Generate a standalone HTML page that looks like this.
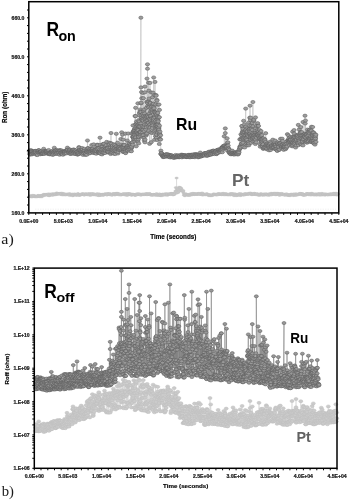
<!DOCTYPE html>
<html><head><meta charset="utf-8"><style>
html,body{margin:0;padding:0;background:#fff;width:350px;height:500px;overflow:hidden}
svg{display:block;will-change:transform}
.ra ellipse{rx:2.1px;ry:1.6px}
.pa ellipse{rx:1.8px;ry:1.1px}
.pb ellipse{rx:2.0px;ry:1.5px}
.rb ellipse{rx:2.0px;ry:1.5px}
</style></head><body>
<svg width="350" height="500" viewBox="0 0 350 500">
<rect width="350" height="500" fill="#fff"/>
<path d="M29.2 151.1 L29.7 153.9 L29.8 150.8 L30.1 154.7 L30.5 151.5 L30.5 152.2 L30.8 153.9 L30.9 150.1 L31.2 151.8 L31.3 152.9 L31.6 151.1 L31.8 151.2 L32.1 154.3 L32.3 151.6 L32.5 153.2 L32.9 153.4 L32.9 152.8 L33.5 152 L33.5 151.7 L33.5 151.6 L33.6 153.4 L34.2 152.8 L34.3 151.1 L34.4 152.1 L34.6 152.1 L35 152.2 L35.3 151.9 L35.5 151 L35.6 151.7 L35.7 152.9 L36 150.9 L36.2 154.5 L36.5 154.5 L37 153.7 L37 151.2 L37.4 155 L37.5 152.3 L37.9 152.1 L38.1 151.4 L38.3 150.8 L38.5 150.5 L38.6 150.3 L38.8 152.4 L39.2 150.4 L39.2 151.9 L39.5 152.1 L39.6 152.5 L40.1 152 L40.2 154.3 L40.4 152.1 L40.6 151.7 L40.8 152.4 L41 151.6 L41.2 151.7 L41.4 151.4 L41.5 153.9 L41.8 153.8 L42 153 L42.3 153 L42.3 153.2 L42.5 152.9 L42.9 153.4 L43.2 153.4 L43.4 151.1 L43.7 148.8 L43.9 153.6 L44 151.4 L44.5 152.5 L44.5 153.8 L44.9 152.7 L45 151.3 L45.2 150.9 L45.5 151.6 L45.5 152 L45.6 152.2 L46 151.6 L46.2 152.2 L46.4 153 L46.9 151.9 L47 153.4 L47.1 151.3 L47.5 152.1 L47.7 153.5 L48 153.3 L48 152.4 L48.5 152 L48.5 153.7 L48.7 153.4 L48.7 150 L49.1 153.2 L49.3 153.9 L49.7 152.5 L49.7 152.7 L49.9 154.4 L50 153.7 L50.3 152.7 L50.4 153.5 L51.1 152.1 L51.2 151.9 L51.2 152.3 L51.6 152.7 L51.7 151.9 L51.9 152.3 L52.1 151.8 L52.6 154.8 L52.6 151.7 L52.7 150.8 L53.1 152.3 L53.2 152.4 L53.5 154.4 L53.6 151.8 L54 152.7 L54.3 153.4 L54.3 151.9 L54.3 147.8 L55 150.9 L55 152.4 L55.4 150.6 L55.5 152.2 L55.6 152 L55.8 150.7 L56 154 L56.6 152.4 L56.6 152.8 L56.7 150.1 L56.9 151.2 L57.2 152.3 L57.2 153.6 L57.7 150.9 L58 150.6 L58.3 153.3 L58.3 151.9 L58.3 152 L58.8 152.4 L58.9 152.2 L59 152.4 L59.4 150.3 L59.6 154.7 L59.9 150.8 L60.1 152.2 L60.3 150.2 L60.3 150.9 L60.5 153.2 L61.1 153.5 L61.1 152.6 L61.7 150.5 L61.7 152.2 L61.9 154.1 L62.1 151.6 L62.2 152.3 L62.5 151.9 L62.6 153.8 L63 154.7 L63.1 152 L63.6 151.8 L63.7 152.3 L63.7 153.2 L64.3 151.9 L64.5 151.1 L64.7 151.8 L64.7 153.1 L64.7 153.7 L65 152.8 L65.1 152 L65.4 151.7 L65.9 151.2 L66.1 150.4 L66.4 152.8 L66.5 150.9 L66.7 153.3 L66.9 150.7 L67 149.9 L67.4 147.7 L67.5 150.8 L67.7 149.9 L67.8 149.8 L68.3 152.3 L68.5 151.9 L68.9 152.8 L69 151.8 L69.3 150.8 L69.5 149.7 L69.6 149.9 L69.7 151.1 L69.9 149.5 L70.1 153.1 L70.2 153.9 L70.4 152 L70.6 150.2 L70.9 153.8 L71.1 152.5 L71.4 152.1 L71.6 150.9 L71.9 152.8 L72 151 L72.4 151.2 L72.7 151 L72.8 153.6 L72.9 150.8 L73.4 149.7 L73.4 152.1 L73.5 153.3 L73.7 149.6 L74.1 152.5 L74.6 150 L74.8 151.8 L74.9 151.2 L74.9 151.9 L75.2 154 L75.2 151.7 L75.8 151.8 L75.9 150.4 L76 154 L76.4 151.9 L76.5 152.2 L76.7 151.7 L77.3 151.7 L77.4 151.7 L77.6 154.6 L77.7 154.3 L77.9 153.4 L78.4 153.8 L78.5 151.4 L78.5 152.9 L78.9 147.2 L79.1 150.4 L79.1 147.6 L79.4 153.8 L79.5 150.5 L79.8 150.4 L80.1 150.1 L80.3 152.6 L80.4 152.5 L80.7 151 L80.8 152.6 L81.2 151.9 L81.4 150.5 L81.7 152.6 L81.7 151.3 L82.1 148 L82.1 151.9 L82.4 149.8 L82.8 151.5 L82.9 154.8 L83 152.1 L83.3 152.6 L83.4 153 L83.8 151.7 L84.2 150.3 L84.5 148.8 L84.7 151.9 L85 152.1 L85 150.6 L85.2 152.7 L85.3 154.9 L85.7 153.9 L85.8 153.6 L86.3 151.9 L86.4 150.7 L86.7 150.6 L86.7 152.1 L86.8 154.7 L87.1 151.9 L87.3 151.9 L87.5 140.5 L87.8 148.1 L88.2 150.9 L88.3 150.8 L88.3 148.2 L88.4 151.3 L89.1 151.4 L89.2 153.4 L89.2 152.1 L89.4 151.8 L89.7 149.6 L89.8 149.5 L90.1 149 L90.4 151.1 L90.6 151.1 L90.7 153 L91 151.3 L91.6 149.4 L91.6 150.9 L91.7 145 L92.1 151.1 L92.2 149.1 L92.4 151 L92.5 152 L93 148.7 L93.1 152.2 L93.3 150.7 L93.4 152.5 L93.7 144.4 L93.7 150.6 L94.1 153.1 L94.4 150.3 L94.5 150.1 L94.6 151.1 L95.2 152.9 L95.3 151.3 L95.5 150.6 L95.7 150 L96.1 151.9 L96.2 153.7 L96.5 150.6 L96.7 146.5 L97.1 151.7 L97.1 149 L97.3 144.7 L97.6 145.1 L97.7 148.3 L98.1 149.4 L98.2 152.4 L98.3 152.9 L98.5 152.1 L98.7 148.3 L98.7 151.9 L99.3 151.9 L99.5 151.8 L99.8 149.6 L99.8 153.1 L100 137.7 L100.3 152.1 L100.6 153.8 L100.7 144.9 L100.9 150.8 L101 151 L101.4 149.6 L101.6 152.3 L102 154.4 L102 146.5 L102.4 146.3 L102.4 149.4 L102.7 152.3 L102.9 144.1 L103.1 152.7 L103.3 150.8 L103.6 144.3 L103.9 148.7 L104 152.8 L104 143.7 L104.4 149.8 L104.8 150.4 L105 153 L105.1 147.3 L105.5 146.6 L105.5 150.9 L106.1 145.1 L106.1 148.4 L106.1 148.8 L106.3 150.5 L106.7 141.9 L107 149.3 L107.3 148.9 L107.4 148.1 L107.8 151.1 L107.9 148.2 L108.2 152.6 L108.2 151.7 L108.2 151.8 L108.8 144.9 L109.1 142.6 L109.4 149.9 L109.4 144.2 L109.4 149.5 L110 151.7 L110 148 L110.4 147.7 L110.6 143.1 L110.7 154 L111 133 L111 149.4 L111.1 151.2 L111.4 149.8 L111.5 152.7 L111.7 143.7 L111.9 150.6 L112.2 149.3 L112.4 146 L112.4 148.1 L112.7 149.6 L112.8 152.7 L113.2 151 L113.4 150.6 L114 153.7 L114 144.3 L114.2 148.7 L114.2 149.4 L114.5 148.2 L114.8 150.2 L114.8 145.1 L115.2 154 L115.2 150.6 L115.8 149.8 L115.9 146.7 L116.3 148.6 L116.3 133.8 L116.5 146.3 L116.8 151.6 L117.1 148.5 L117.2 148.4 L117.6 142.6 L117.8 147.8 L117.9 153.5 L118.1 152 L118.2 146.6 L118.4 148.9 L118.7 147.1 L118.9 149.9 L119.1 147.7 L119.6 148.4 L119.8 150 L119.9 146.4 L120.3 149.4 L120.3 148.6 L120.6 148.1 L120.8 139 L120.8 146 L121.1 144.8 L121.7 132.3 L121.7 146.7 L122.2 146.1 L122.4 147.1 L122.5 134.7 L122.6 147.3 L122.9 151.8 L123.2 139.6 L123.4 151.8 L123.4 148.5 L123.6 146.1 L123.7 144.6 L124.1 148.3 L124.2 147.3 L124.4 145.1 L124.7 151.9 L125 149.2 L125.3 152.7 L125.5 133.6 L125.7 153.1 L125.7 148 L125.9 151.2 L126 149.9 L126.3 149.3 L126.4 148.2 L126.6 147.5 L127.1 146.4 L127.2 147.7 L127.3 140.5 L127.6 150.5 L127.7 146.9 L128 150.4 L128.3 133.5 L128.3 145.7 L128.7 143.1 L128.8 147.7 L129.1 149.4 L129.6 144 L129.7 146.6 L129.8 145.9 L129.9 147.9 L130 150.9 L130.3 149.3 L130.6 145.9 L130.7 145 L131.4 151.2 L131.4 148.4 L131.4 146.6 L131.5 147.5 L131.8 133.3 L131.8 146.6 L132.2 142.6 L132.2 142.7 L132.4 136.8 L132.6 142.2 L132.7 144.7 L133 134.1 L133 125.4 L133.3 137.8 L133.3 131.9 L133.5 131.9 L133.6 136.9 L133.7 137.7 L133.7 130.7 L133.8 138.8 L133.9 136.4 L134 131.2 L134.2 139.9 L134.4 134.6 L134.4 134.8 L134.5 129.3 L134.5 130.6 L134.8 128.9 L135 135.8 L135 116 L135 141.4 L135.2 132 L135.3 130.6 L135.5 116.1 L135.5 124.3 L135.5 136.8 L135.6 107.8 L135.7 128.4 L135.8 139.8 L135.9 137.6 L136.2 124.3 L136.2 146.3 L136.5 121.6 L136.6 131.9 L136.8 139.7 L136.8 129.6 L136.9 132 L136.9 129 L137.1 131.7 L137.1 129.1 L137.1 130.9 L137.2 123.2 L137.5 130 L137.6 125.1 L137.9 125.4 L137.9 103.3 L138 141 L138.3 139.2 L138.3 130.2 L138.3 133.7 L138.6 137.2 L138.6 120.3 L138.7 143.4 L138.7 124.2 L138.7 126.4 L138.8 136.8 L139.2 126 L139.3 126.4 L139.3 123.1 L139.4 133.3 L139.4 113.1 L139.4 121.4 L139.6 115.3 L140 131.9 L140.1 126.7 L140.2 132.8 L140.2 109.5 L140.3 131.8 L140.4 134.6 L140.4 111.5 L140.5 135.3 L140.6 132.1 L140.9 17.7 L140.9 112.1 L141 87.4 L141 123.5 L141 103.3 L141 136.4 L141.1 102.7 L141.4 118.6 L141.5 92.1 L141.7 117.5 L141.7 115.3 L141.7 129 L141.8 98.2 L141.9 120.3 L142.1 127 L142.2 125.9 L142.2 119.6 L142.4 130.1 L142.4 114.2 L142.7 132.5 L142.7 136.8 L143 92.9 L143 119.1 L143.1 129.8 L143.1 135.1 L143.2 113.5 L143.2 135.2 L143.2 120.6 L143.4 98.2 L143.7 116 L143.8 110.9 L143.9 125.9 L144 138 L144 126.9 L144.2 131.1 L144.3 140.6 L144.3 109.4 L144.6 113.5 L144.8 124.9 L144.9 92.3 L144.9 86.6 L144.9 119.3 L145 142.3 L145.1 139.7 L145.1 117.2 L145.3 116.3 L145.5 120.7 L145.7 121.4 L145.8 129.6 L145.9 118.7 L146.1 115.9 L146.2 126.1 L146.2 135.5 L146.3 134.2 L146.4 117.1 L146.4 107.8 L146.4 127.3 L146.8 101.9 L147 116.3 L147 133.3 L147 78.6 L147 120.5 L147.1 121.7 L147.1 124.1 L147.4 115 L147.5 64.3 L147.5 68.7 L147.6 105.9 L147.7 101.5 L147.7 103.2 L147.8 120.3 L147.9 115.8 L148.3 117 L148.3 122.9 L148.4 126.6 L148.5 122.9 L148.5 82.7 L148.7 131 L148.7 106.9 L148.9 90.7 L148.9 107.3 L148.9 101.6 L149.1 119 L149.1 98.6 L149.4 113.6 L149.4 125.4 L149.6 143.8 L149.6 119 L149.7 102.7 L150 82.9 L150.1 124.3 L150.2 115.8 L150.2 127.3 L150.2 104.3 L150.4 103 L150.5 121.1 L150.6 119.6 L150.7 132.3 L150.7 116 L150.7 108 L150.8 111.7 L150.9 111 L151.2 142.2 L151.3 92.5 L151.6 118.4 L151.8 122.7 L151.8 106.8 L151.9 123.3 L151.9 133 L152 125.4 L152.2 111 L152.3 128.1 L152.3 109.6 L152.5 97.2 L152.6 104.6 L152.8 123.9 L152.8 118.1 L152.9 112.3 L152.9 125.3 L153 92.7 L153.1 103.8 L153.5 122.3 L153.5 108.7 L153.5 103.7 L153.5 120.8 L153.7 118 L153.7 77.5 L153.7 107 L153.9 118.8 L154 132.7 L154.1 108.2 L154.4 131.2 L154.5 139.8 L154.5 111.9 L154.6 95.1 L154.8 121.9 L154.9 117.2 L155 112 L155 81.9 L155.1 130 L155.2 126 L155.4 112.8 L155.5 136.3 L155.5 115 L155.6 121.3 L155.7 104.4 L155.8 120.5 L156 95 L156 125.2 L156.1 128.8 L156.1 113.8 L156.2 95.7 L156.4 115 L156.5 137.8 L156.5 127.3 L156.6 134.7 L156.9 99.9 L156.9 125 L157 100.6 L157.2 116.1 L157.2 119.5 L157.2 140.1 L157.2 126.8 L157.4 126.9 L157.6 117.1 L157.8 113 L157.8 128.3 L158 123.8 L158.1 120.3 L158.1 104.6 L158.1 124.8 L158.2 121.4 L158.6 131.1 L158.6 117.4 L158.7 128.2 L158.9 127.8 L158.9 129.9 L159 104.5 L159.2 134.2 L159.3 144 L159.4 117.2 L159.5 125.7 L159.5 109.9 L159.8 138.9 L159.8 134.7 L159.8 134.1 L160 131.7 L160.1 139.3 L160.6 139.5 L160.6 135.3 L160.8 153.9 L160.9 150.7 L161.1 154 L161.5 153.3 L161.6 153.2 L162.2 154.9 L162.4 155.6 L162.4 155.6 L162.5 154.4 L162.7 155.8 L163.1 155.8 L163.1 157.1 L163.6 156.8 L163.6 156.1 L163.9 155.5 L164 156.2 L164.4 154.9 L164.4 155.8 L164.9 156.8 L164.9 155.5 L165.5 154.9 L165.6 155.3 L165.9 154.5 L166.1 154.8 L166.3 155.6 L166.3 156 L166.3 154.3 L166.8 156.5 L167 155.8 L167.3 155.3 L167.3 156.3 L167.4 154.3 L168 155.5 L168.1 156 L168.3 154.6 L168.7 156.5 L168.8 156.3 L168.9 156.3 L169.2 155 L169.3 156.7 L169.8 155.4 L169.8 156.9 L169.9 156.7 L170.3 157.4 L170.4 155.4 L171 155.5 L171.1 155.4 L171.3 157.1 L171.3 156.1 L171.4 156.2 L172.1 156.7 L172.1 155.8 L172.3 155.7 L172.8 156.6 L172.8 157.2 L173 157 L173.1 156.8 L173.6 157.6 L173.6 156.8 L173.8 157.6 L174 156.5 L174.3 156.9 L174.7 156.2 L174.7 156 L174.8 157.6 L175.4 157.1 L175.4 156.4 L175.6 156.3 L175.6 155 L176.2 157.2 L176.2 157.1 L176.4 156.8 L176.8 155.8 L177.2 156.7 L177.2 157.1 L177.5 156.3 L177.6 155.7 L177.7 156.3 L178.1 156.3 L178.1 155.3 L178.4 157.2 L178.7 156.5 L178.7 156.3 L179 156.1 L179.3 157.1 L179.5 157.1 L179.6 156.7 L179.7 155.6 L179.9 156.4 L180.3 155.7 L180.4 155.5 L180.6 156.8 L181.4 156.9 L181.5 154.7 L181.6 155.7 L181.7 156.2 L181.9 157.3 L182.1 155.7 L182.4 155.6 L182.5 155 L182.8 156.3 L182.8 156.1 L183.4 155.4 L183.5 156.5 L183.5 156.3 L183.6 155.8 L184 155.6 L184.4 155.7 L184.5 155.7 L184.9 156.7 L185.1 155.7 L185.2 155.1 L185.5 156.1 L185.7 155.8 L185.8 156.8 L186.3 156.9 L186.4 156.6 L186.5 157 L186.8 156.3 L187.2 155.9 L187.4 156.2 L187.4 156.6 L187.9 155.7 L188.2 154.9 L188.3 155.4 L188.5 156.2 L188.7 156.8 L188.8 155.6 L189.1 155.8 L189.2 154.9 L189.4 157.2 L189.5 155.8 L189.9 155.7 L190 156.8 L190.3 157.1 L190.5 155.3 L190.9 157.1 L191.1 156 L191.4 154.7 L191.4 155.5 L191.9 155.2 L191.9 155.1 L192 156.5 L192.1 156.2 L192.4 155.4 L192.7 155.7 L192.9 157 L193.3 156.5 L193.4 154.4 L193.4 156.1 L193.6 155.8 L194 155.9 L194.5 156.6 L194.5 154.4 L194.8 157.2 L195 156 L195 155.8 L195.2 154.7 L195.7 154.3 L195.8 155 L195.9 155.5 L196.1 155.6 L196.7 154.3 L196.7 154.7 L197.1 154.9 L197.1 156.2 L197.5 155.1 L197.7 155.7 L198 154.8 L198.1 156.4 L198.2 157.3 L198.4 154.9 L198.4 156.7 L199 155.3 L199.2 156.8 L199.4 154.9 L199.7 154.6 L199.8 156.7 L199.9 155.1 L200.3 152.6 L200.6 155.1 L200.6 155 L200.9 155.6 L201.2 156.2 L201.4 156.3 L201.5 155.8 L201.8 155.2 L201.9 155.6 L202 155 L202.6 155.1 L202.8 154.4 L203.1 155.3 L203.1 155.2 L203.5 154.5 L203.6 155 L203.6 155.5 L204.1 155 L204.4 154.6 L204.4 153.2 L204.4 154.9 L205 155 L205 155.5 L205.1 153.2 L205.3 153.3 L205.8 154.4 L205.9 154.3 L206.3 153.8 L206.3 153 L206.7 155.8 L206.9 155 L206.9 154.7 L207.2 154.9 L207.7 153.4 L207.8 154.3 L207.8 155.6 L208 152.6 L208.6 151.8 L208.8 154.8 L208.8 154.7 L209 152.9 L209 154.9 L209.6 153.2 L209.6 154.4 L209.9 154.2 L210 151.8 L210.3 152.9 L210.4 153.7 L211 154.7 L211 151.3 L211.1 152.7 L211.4 152 L211.4 153.3 L212.1 151.8 L212.1 154 L212.5 153.6 L212.5 151.5 L212.7 151 L212.9 151.5 L213.4 150.6 L213.5 152 L213.6 150.9 L213.8 153.2 L214 152.5 L214.2 151.7 L214.3 152.2 L214.5 154 L215 152.1 L215 152.7 L215.5 151.4 L215.6 152.2 L215.8 152.8 L215.9 151 L216.5 154.1 L216.5 153.7 L216.9 150.3 L217.1 151.8 L217.2 150.1 L217.3 152.8 L217.4 150.2 L218 151.2 L218 153 L218.5 149.8 L218.5 149.6 L218.5 151.2 L218.8 149.6 L219.3 151.5 L219.4 150.6 L219.4 150.6 L220 150.5 L220.1 150 L220.1 150.9 L220.2 152.1 L220.7 150.8 L220.8 149.8 L221.3 150.3 L221.4 147.9 L221.5 150.8 L222.1 149.8 L222.1 147.6 L222.3 152.2 L222.4 147.2 L222.7 147.4 L223 149.4 L223.1 146.1 L223.1 147.9 L223.3 147.5 L224 146.7 L224 146.6 L224.2 145.7 L224.2 136.3 L224.8 145.3 L224.8 147 L224.9 145.9 L225.1 148 L225.3 128.4 L225.3 133.1 L225.6 147.7 L225.9 146.7 L226 146.2 L226.1 147.2 L226.3 146.6 L226.7 147.8 L226.8 146.8 L227.1 146.7 L227.1 138.3 L227.4 150.6 L227.5 142.8 L227.9 142.3 L228.2 145.6 L228.3 148.6 L228.6 148.8 L228.7 148.7 L228.9 152.1 L229.4 151.1 L229.4 149.9 L229.5 152.3 L229.6 153.3 L230 153.5 L230.5 153.7 L230.6 153 L230.6 152.2 L231 154.3 L231.4 152 L231.5 153.4 L231.5 153.4 L231.8 152.3 L232.3 153.6 L232.3 150.7 L232.5 153.3 L232.8 152.8 L232.9 153.2 L233.4 154.3 L233.5 154 L233.5 153.5 L233.6 152.8 L234.3 153.8 L234.5 153.3 L234.6 154.5 L234.6 152.9 L235.1 153.3 L235.4 153.3 L235.5 153 L235.6 152.1 L235.9 153.4 L235.9 153.6 L236.2 152.5 L236.6 153.6 L236.9 152.5 L237.1 153.6 L237.2 153.1 L237.3 154.4 L237.6 153.3 L237.9 153.3 L238.1 151.4 L238.3 154.3 L238.5 153.4 L238.5 151.7 L239 152.2 L239.3 149.7 L239.3 149.2 L239.7 147 L239.8 139.4 L240.2 148.3 L240.3 146 L240.3 147.1 L240.8 147.4 L240.9 138.5 L241 134.3 L241.2 139.4 L241.3 144.2 L241.4 143.7 L241.8 135.7 L241.9 126.1 L241.9 126 L242 139.3 L242 143.4 L242.4 132.4 L242.5 131.4 L242.6 137.6 L242.6 132.5 L242.7 128.8 L243 146.8 L243.1 142.7 L243.2 133.6 L243.3 138.3 L243.6 137.4 L243.6 120.8 L243.8 133.4 L243.9 139.8 L243.9 138.7 L244.2 135 L244.3 134.5 L244.3 124.5 L244.7 137.5 L244.7 147.5 L244.7 132.2 L245.2 138.5 L245.3 135.1 L245.4 130.7 L245.5 139.5 L245.7 108.6 L245.8 144.5 L245.9 129.9 L245.9 126.6 L246.1 138.4 L246.4 132.1 L246.4 138.5 L246.5 134.3 L246.7 133.9 L246.8 143.4 L246.9 140.2 L247 139.9 L247.3 145.3 L247.3 133 L247.3 134.9 L247.4 128.3 L247.5 131.1 L247.9 135.8 L248.1 142.4 L248.3 142.2 L248.4 122.8 L248.5 143.9 L248.6 136.5 L248.7 129.3 L248.8 145.3 L249 143.4 L249.2 129.7 L249.3 129.2 L249.4 125.5 L249.6 130.5 L249.7 117.7 L249.8 133.8 L249.9 131.6 L250 105.7 L250.1 133.9 L250.2 137 L250.3 133.6 L250.3 120.1 L250.3 137.1 L250.8 117.7 L250.9 139.8 L251 142.9 L251 131.9 L251.1 135.1 L251.5 128.5 L251.5 125.5 L251.5 138.3 L251.9 136.8 L252.1 134.7 L252.1 130 L252.2 135.4 L252.3 123 L252.4 138.3 L252.8 139.4 L252.9 132.8 L252.9 102 L252.9 136.9 L253.1 126.2 L253.1 141.4 L253.1 137.7 L253.4 138.5 L253.6 133.6 L253.8 121 L253.9 119.9 L254 135.7 L254 137.7 L254.1 134.9 L254.2 135.3 L254.5 140.2 L254.6 135.4 L255 137.7 L255.1 138.9 L255.1 141.3 L255.3 134.7 L255.4 144 L255.5 117.4 L255.6 132.6 L255.7 128.3 L255.8 139.7 L256.1 136.1 L256.2 142.3 L256.4 125.7 L256.5 134.6 L256.6 137.8 L256.7 134.4 L257.2 132.8 L257.2 130.7 L257.2 130.4 L257.2 132.6 L257.5 134 L257.6 135.5 L257.7 123.2 L258 135.1 L258 134.4 L258.1 126 L258.4 132.1 L258.5 125.9 L258.7 135.3 L258.7 131.3 L259 137.2 L259 136 L259.2 133.4 L259.3 139.5 L259.3 138.2 L259.6 130 L259.7 138.9 L260 135.2 L260 138.2 L260.1 133.4 L260.2 146.7 L260.2 144.3 L260.3 132.4 L260.5 139.5 L261 135.7 L261.1 139.7 L261.1 131.1 L261.2 136 L261.2 139.3 L261.5 140 L261.5 141.9 L261.8 143.1 L261.9 145.8 L261.9 135.1 L262.1 141.4 L262.3 141.7 L262.5 139.9 L262.5 144.8 L262.7 146.5 L262.8 146.5 L263.1 148.7 L263.2 144.3 L263.5 138.3 L263.6 148.6 L263.6 140.4 L263.8 147.6 L264.1 147.5 L264.6 140.5 L264.8 139.2 L264.9 147.4 L265 140.2 L265.2 147.2 L265.7 142 L265.7 133.2 L266 145.1 L266.2 147.3 L266.4 144 L266.9 145.7 L267 149.4 L267.1 148.3 L267.5 146.1 L267.6 143.3 L267.7 144.4 L268.2 145.8 L268.3 145.1 L268.6 147.7 L268.7 146 L269 146 L269.1 150.3 L269.4 147.2 L269.7 148 L269.8 143.2 L269.9 144 L270.2 141.7 L270.6 148.6 L270.6 150 L270.8 143.4 L271.1 147.9 L271.4 146.4 L271.5 146.9 L271.8 145.1 L271.9 147.9 L271.9 146.6 L272.4 145.6 L272.7 147.4 L272.8 139.7 L273.3 148.1 L273.5 146.7 L273.5 144.1 L273.7 144.7 L274 147 L274 147.3 L274.3 145.1 L274.8 148.9 L274.9 144.9 L275.3 145.2 L275.3 140.6 L275.4 146 L275.8 149 L275.9 144.5 L276.1 148.9 L276.2 148.5 L276.5 149.3 L276.8 146.3 L277.1 150.6 L277.3 150.8 L277.3 142.7 L277.8 144.1 L277.8 144.1 L277.9 142.4 L278.3 143.7 L278.7 146.7 L278.7 146.9 L278.9 149.9 L279.3 144.3 L279.4 149.6 L279.9 143 L279.9 143.8 L279.9 143.2 L280.3 143.6 L280.5 138.8 L280.5 145.2 L281.2 146.4 L281.4 145.4 L281.6 148.3 L281.8 146.6 L281.9 146.9 L282 145.2 L282.1 138.7 L282.2 146.4 L282.7 141 L282.9 144.5 L283.1 146.1 L283.4 147.1 L283.7 149.8 L283.8 147 L284.3 146 L284.3 145.3 L284.6 145.9 L284.7 147.8 L284.8 146.7 L285.1 144.4 L285.4 143.5 L285.5 149.2 L285.8 144.4 L286 147.2 L286.3 147.9 L286.3 146.5 L286.7 143.6 L287 143.6 L287.2 146.5 L287.4 134.2 L287.6 140.5 L287.9 140.4 L288 140.8 L288 140.5 L288.3 143 L288.5 135.5 L288.8 140.3 L288.9 138.4 L289.1 140.4 L289.2 141.2 L289.5 144.3 L289.5 140.1 L289.6 142.2 L289.6 145.4 L290 137.6 L290 139.8 L290.2 141.1 L290.3 141.2 L290.5 141.3 L290.7 140.3 L290.8 139.9 L291 136.8 L291 139.7 L291.3 142.5 L291.6 145.6 L291.9 145 L292 142.5 L292.1 142.1 L292.3 137.3 L292.3 146.3 L292.6 131.7 L292.6 143.1 L292.7 138.7 L292.8 142.9 L293 145.2 L293.1 139.7 L293.3 142.5 L293.7 137.9 L293.8 143.8 L294.1 136.4 L294.1 138.1 L294.1 130.1 L294.3 133.6 L294.3 137 L294.5 144 L294.7 140.5 L294.8 140.4 L295.1 142 L295.1 137.7 L295.1 142.9 L295.6 147.5 L295.9 140 L296.1 141.4 L296.1 138.8 L296.3 137.7 L296.4 141.5 L296.4 145.4 L296.5 135.7 L296.5 140 L297 135.5 L297.2 135 L297.5 136.2 L297.6 143 L297.7 142.9 L297.8 137.5 L298 137.9 L298.1 140.8 L298.1 135.7 L298.3 124.9 L298.3 145.2 L298.7 142.8 L299.1 139.8 L299.1 138.7 L299.3 129.4 L299.4 140.6 L299.5 140.5 L299.8 142.1 L299.9 135.2 L299.9 135.5 L300 135.1 L300.4 132.2 L300.5 134.9 L300.6 133.3 L300.7 144.1 L300.8 127.1 L300.9 132.7 L300.9 138.1 L301.5 139.3 L301.6 135.5 L301.7 144.6 L301.8 132.1 L302 138.4 L302.4 142.5 L302.4 141.3 L302.6 140.1 L302.6 141.5 L302.9 134.9 L303 145.4 L303 122 L303 137.5 L303 139.7 L303.2 135.6 L303.5 138.4 L303.5 138.9 L304.1 134.9 L304.1 137 L304.2 134.2 L304.6 134.5 L304.6 137.3 L304.9 137.1 L305 136.1 L305 115.7 L305.2 133.6 L305.2 123.5 L305.3 141.7 L305.5 120.5 L305.7 135 L305.7 141.4 L306 137.7 L306.2 134.6 L306.3 133.9 L306.5 134.4 L306.6 142.1 L306.6 141 L306.7 142.6 L306.9 134.8 L307.2 136.4 L307.5 129.6 L307.5 135.9 L307.6 139.4 L307.7 142.4 L308 141.3 L308.2 131.9 L308.3 139.6 L308.4 141.1 L308.8 134.8 L308.9 135.5 L308.9 138.8 L309.1 131.7 L309.2 132.8 L309.4 130.1 L309.4 138.6 L309.5 137.6 L309.8 140.3 L309.9 129.8 L309.9 139 L310.2 131.7 L310.3 138.3 L310.9 138 L310.9 136.1 L310.9 131.1 L311.1 141.9 L311.2 141.4 L311.4 126.8 L311.4 130.6 L311.5 141.9 L312.1 141.1 L312.1 138.1 L312.3 137.8 L312.5 135.1 L312.5 136.5 L312.7 127 L312.8 134.4 L313 141.9 L313.1 135.7 L313.2 132.2 L313.7 142.3 L313.7 141.1 L313.7 143.4 L313.8 132.8 L313.9 143 L314.2 136.7 L314.2 135 L314.7 137.1 L315 144.6 L315 142.5 L315.1 137.8 L315.2 134.3 L315.3 139.5 L315.5 138.3 L315.6 136.1 L315.9 134.8 L316 141.9" fill="none" stroke="#c4c4c4" stroke-width="0.7"/>
<g class="ra" fill="#9c9c9c" stroke="#5e5e5e" stroke-width="0.55">
<ellipse cx="29.2" cy="151.1"/>
<ellipse cx="29.7" cy="153.9"/>
<ellipse cx="29.8" cy="150.8"/>
<ellipse cx="30.1" cy="154.7"/>
<ellipse cx="30.5" cy="151.5"/>
<ellipse cx="30.5" cy="152.2"/>
<ellipse cx="30.8" cy="153.9"/>
<ellipse cx="30.9" cy="150.1"/>
<ellipse cx="31.2" cy="151.8"/>
<ellipse cx="31.3" cy="152.9"/>
<ellipse cx="31.6" cy="151.1"/>
<ellipse cx="31.8" cy="151.2"/>
<ellipse cx="32.1" cy="154.3"/>
<ellipse cx="32.3" cy="151.6"/>
<ellipse cx="32.5" cy="153.2"/>
<ellipse cx="32.9" cy="153.4"/>
<ellipse cx="32.9" cy="152.8"/>
<ellipse cx="33.5" cy="152"/>
<ellipse cx="33.5" cy="151.7"/>
<ellipse cx="33.5" cy="151.6"/>
<ellipse cx="33.6" cy="153.4"/>
<ellipse cx="34.2" cy="152.8"/>
<ellipse cx="34.3" cy="151.1"/>
<ellipse cx="34.4" cy="152.1"/>
<ellipse cx="34.6" cy="152.1"/>
<ellipse cx="35" cy="152.2"/>
<ellipse cx="35.3" cy="151.9"/>
<ellipse cx="35.5" cy="151"/>
<ellipse cx="35.6" cy="151.7"/>
<ellipse cx="35.7" cy="152.9"/>
<ellipse cx="36" cy="150.9"/>
<ellipse cx="36.2" cy="154.5"/>
<ellipse cx="36.5" cy="154.5"/>
<ellipse cx="37" cy="153.7"/>
<ellipse cx="37" cy="151.2"/>
<ellipse cx="37.4" cy="155"/>
<ellipse cx="37.5" cy="152.3"/>
<ellipse cx="37.9" cy="152.1"/>
<ellipse cx="38.1" cy="151.4"/>
<ellipse cx="38.3" cy="150.8"/>
<ellipse cx="38.5" cy="150.5"/>
<ellipse cx="38.6" cy="150.3"/>
<ellipse cx="38.8" cy="152.4"/>
<ellipse cx="39.2" cy="150.4"/>
<ellipse cx="39.2" cy="151.9"/>
<ellipse cx="39.5" cy="152.1"/>
<ellipse cx="39.6" cy="152.5"/>
<ellipse cx="40.1" cy="152"/>
<ellipse cx="40.2" cy="154.3"/>
<ellipse cx="40.4" cy="152.1"/>
<ellipse cx="40.6" cy="151.7"/>
<ellipse cx="40.8" cy="152.4"/>
<ellipse cx="41" cy="151.6"/>
<ellipse cx="41.2" cy="151.7"/>
<ellipse cx="41.4" cy="151.4"/>
<ellipse cx="41.5" cy="153.9"/>
<ellipse cx="41.8" cy="153.8"/>
<ellipse cx="42" cy="153"/>
<ellipse cx="42.3" cy="153"/>
<ellipse cx="42.3" cy="153.2"/>
<ellipse cx="42.5" cy="152.9"/>
<ellipse cx="42.9" cy="153.4"/>
<ellipse cx="43.2" cy="153.4"/>
<ellipse cx="43.4" cy="151.1"/>
<ellipse cx="43.7" cy="148.8"/>
<ellipse cx="43.9" cy="153.6"/>
<ellipse cx="44" cy="151.4"/>
<ellipse cx="44.5" cy="152.5"/>
<ellipse cx="44.5" cy="153.8"/>
<ellipse cx="44.9" cy="152.7"/>
<ellipse cx="45" cy="151.3"/>
<ellipse cx="45.2" cy="150.9"/>
<ellipse cx="45.5" cy="151.6"/>
<ellipse cx="45.5" cy="152"/>
<ellipse cx="45.6" cy="152.2"/>
<ellipse cx="46" cy="151.6"/>
<ellipse cx="46.2" cy="152.2"/>
<ellipse cx="46.4" cy="153"/>
<ellipse cx="46.9" cy="151.9"/>
<ellipse cx="47" cy="153.4"/>
<ellipse cx="47.1" cy="151.3"/>
<ellipse cx="47.5" cy="152.1"/>
<ellipse cx="47.7" cy="153.5"/>
<ellipse cx="48" cy="153.3"/>
<ellipse cx="48" cy="152.4"/>
<ellipse cx="48.5" cy="152"/>
<ellipse cx="48.5" cy="153.7"/>
<ellipse cx="48.7" cy="153.4"/>
<ellipse cx="48.7" cy="150"/>
<ellipse cx="49.1" cy="153.2"/>
<ellipse cx="49.3" cy="153.9"/>
<ellipse cx="49.7" cy="152.5"/>
<ellipse cx="49.7" cy="152.7"/>
<ellipse cx="49.9" cy="154.4"/>
<ellipse cx="50" cy="153.7"/>
<ellipse cx="50.3" cy="152.7"/>
<ellipse cx="50.4" cy="153.5"/>
<ellipse cx="51.1" cy="152.1"/>
<ellipse cx="51.2" cy="151.9"/>
<ellipse cx="51.2" cy="152.3"/>
<ellipse cx="51.6" cy="152.7"/>
<ellipse cx="51.7" cy="151.9"/>
<ellipse cx="51.9" cy="152.3"/>
<ellipse cx="52.1" cy="151.8"/>
<ellipse cx="52.6" cy="154.8"/>
<ellipse cx="52.6" cy="151.7"/>
<ellipse cx="52.7" cy="150.8"/>
<ellipse cx="53.1" cy="152.3"/>
<ellipse cx="53.2" cy="152.4"/>
<ellipse cx="53.5" cy="154.4"/>
<ellipse cx="53.6" cy="151.8"/>
<ellipse cx="54" cy="152.7"/>
<ellipse cx="54.3" cy="153.4"/>
<ellipse cx="54.3" cy="151.9"/>
<ellipse cx="54.3" cy="147.8"/>
<ellipse cx="55" cy="150.9"/>
<ellipse cx="55" cy="152.4"/>
<ellipse cx="55.4" cy="150.6"/>
<ellipse cx="55.5" cy="152.2"/>
<ellipse cx="55.6" cy="152"/>
<ellipse cx="55.8" cy="150.7"/>
<ellipse cx="56" cy="154"/>
<ellipse cx="56.6" cy="152.4"/>
<ellipse cx="56.6" cy="152.8"/>
<ellipse cx="56.7" cy="150.1"/>
<ellipse cx="56.9" cy="151.2"/>
<ellipse cx="57.2" cy="152.3"/>
<ellipse cx="57.2" cy="153.6"/>
<ellipse cx="57.7" cy="150.9"/>
<ellipse cx="58" cy="150.6"/>
<ellipse cx="58.3" cy="153.3"/>
<ellipse cx="58.3" cy="151.9"/>
<ellipse cx="58.3" cy="152"/>
<ellipse cx="58.8" cy="152.4"/>
<ellipse cx="58.9" cy="152.2"/>
<ellipse cx="59" cy="152.4"/>
<ellipse cx="59.4" cy="150.3"/>
<ellipse cx="59.6" cy="154.7"/>
<ellipse cx="59.9" cy="150.8"/>
<ellipse cx="60.1" cy="152.2"/>
<ellipse cx="60.3" cy="150.2"/>
<ellipse cx="60.3" cy="150.9"/>
<ellipse cx="60.5" cy="153.2"/>
<ellipse cx="61.1" cy="153.5"/>
<ellipse cx="61.1" cy="152.6"/>
<ellipse cx="61.7" cy="150.5"/>
<ellipse cx="61.7" cy="152.2"/>
<ellipse cx="61.9" cy="154.1"/>
<ellipse cx="62.1" cy="151.6"/>
<ellipse cx="62.2" cy="152.3"/>
<ellipse cx="62.5" cy="151.9"/>
<ellipse cx="62.6" cy="153.8"/>
<ellipse cx="63" cy="154.7"/>
<ellipse cx="63.1" cy="152"/>
<ellipse cx="63.6" cy="151.8"/>
<ellipse cx="63.7" cy="152.3"/>
<ellipse cx="63.7" cy="153.2"/>
<ellipse cx="64.3" cy="151.9"/>
<ellipse cx="64.5" cy="151.1"/>
<ellipse cx="64.7" cy="151.8"/>
<ellipse cx="64.7" cy="153.1"/>
<ellipse cx="64.7" cy="153.7"/>
<ellipse cx="65" cy="152.8"/>
<ellipse cx="65.1" cy="152"/>
<ellipse cx="65.4" cy="151.7"/>
<ellipse cx="65.9" cy="151.2"/>
<ellipse cx="66.1" cy="150.4"/>
<ellipse cx="66.4" cy="152.8"/>
<ellipse cx="66.5" cy="150.9"/>
<ellipse cx="66.7" cy="153.3"/>
<ellipse cx="66.9" cy="150.7"/>
<ellipse cx="67" cy="149.9"/>
<ellipse cx="67.4" cy="147.7"/>
<ellipse cx="67.5" cy="150.8"/>
<ellipse cx="67.7" cy="149.9"/>
<ellipse cx="67.8" cy="149.8"/>
<ellipse cx="68.3" cy="152.3"/>
<ellipse cx="68.5" cy="151.9"/>
<ellipse cx="68.9" cy="152.8"/>
<ellipse cx="69" cy="151.8"/>
<ellipse cx="69.3" cy="150.8"/>
<ellipse cx="69.5" cy="149.7"/>
<ellipse cx="69.6" cy="149.9"/>
<ellipse cx="69.7" cy="151.1"/>
<ellipse cx="69.9" cy="149.5"/>
<ellipse cx="70.1" cy="153.1"/>
<ellipse cx="70.2" cy="153.9"/>
<ellipse cx="70.4" cy="152"/>
<ellipse cx="70.6" cy="150.2"/>
<ellipse cx="70.9" cy="153.8"/>
<ellipse cx="71.1" cy="152.5"/>
<ellipse cx="71.4" cy="152.1"/>
<ellipse cx="71.6" cy="150.9"/>
<ellipse cx="71.9" cy="152.8"/>
<ellipse cx="72" cy="151"/>
<ellipse cx="72.4" cy="151.2"/>
<ellipse cx="72.7" cy="151"/>
<ellipse cx="72.8" cy="153.6"/>
<ellipse cx="72.9" cy="150.8"/>
<ellipse cx="73.4" cy="149.7"/>
<ellipse cx="73.4" cy="152.1"/>
<ellipse cx="73.5" cy="153.3"/>
<ellipse cx="73.7" cy="149.6"/>
<ellipse cx="74.1" cy="152.5"/>
<ellipse cx="74.6" cy="150"/>
<ellipse cx="74.8" cy="151.8"/>
<ellipse cx="74.9" cy="151.2"/>
<ellipse cx="74.9" cy="151.9"/>
<ellipse cx="75.2" cy="154"/>
<ellipse cx="75.2" cy="151.7"/>
<ellipse cx="75.8" cy="151.8"/>
<ellipse cx="75.9" cy="150.4"/>
<ellipse cx="76" cy="154"/>
<ellipse cx="76.4" cy="151.9"/>
<ellipse cx="76.5" cy="152.2"/>
<ellipse cx="76.7" cy="151.7"/>
<ellipse cx="77.3" cy="151.7"/>
<ellipse cx="77.4" cy="151.7"/>
<ellipse cx="77.6" cy="154.6"/>
<ellipse cx="77.7" cy="154.3"/>
<ellipse cx="77.9" cy="153.4"/>
<ellipse cx="78.4" cy="153.8"/>
<ellipse cx="78.5" cy="151.4"/>
<ellipse cx="78.5" cy="152.9"/>
<ellipse cx="78.9" cy="147.2"/>
<ellipse cx="79.1" cy="150.4"/>
<ellipse cx="79.1" cy="147.6"/>
<ellipse cx="79.4" cy="153.8"/>
<ellipse cx="79.5" cy="150.5"/>
<ellipse cx="79.8" cy="150.4"/>
<ellipse cx="80.1" cy="150.1"/>
<ellipse cx="80.3" cy="152.6"/>
<ellipse cx="80.4" cy="152.5"/>
<ellipse cx="80.7" cy="151"/>
<ellipse cx="80.8" cy="152.6"/>
<ellipse cx="81.2" cy="151.9"/>
<ellipse cx="81.4" cy="150.5"/>
<ellipse cx="81.7" cy="152.6"/>
<ellipse cx="81.7" cy="151.3"/>
<ellipse cx="82.1" cy="148"/>
<ellipse cx="82.1" cy="151.9"/>
<ellipse cx="82.4" cy="149.8"/>
<ellipse cx="82.8" cy="151.5"/>
<ellipse cx="82.9" cy="154.8"/>
<ellipse cx="83" cy="152.1"/>
<ellipse cx="83.3" cy="152.6"/>
<ellipse cx="83.4" cy="153"/>
<ellipse cx="83.8" cy="151.7"/>
<ellipse cx="84.2" cy="150.3"/>
<ellipse cx="84.5" cy="148.8"/>
<ellipse cx="84.7" cy="151.9"/>
<ellipse cx="85" cy="152.1"/>
<ellipse cx="85" cy="150.6"/>
<ellipse cx="85.2" cy="152.7"/>
<ellipse cx="85.3" cy="154.9"/>
<ellipse cx="85.7" cy="153.9"/>
<ellipse cx="85.8" cy="153.6"/>
<ellipse cx="86.3" cy="151.9"/>
<ellipse cx="86.4" cy="150.7"/>
<ellipse cx="86.7" cy="150.6"/>
<ellipse cx="86.7" cy="152.1"/>
<ellipse cx="86.8" cy="154.7"/>
<ellipse cx="87.1" cy="151.9"/>
<ellipse cx="87.3" cy="151.9"/>
<ellipse cx="87.5" cy="140.5"/>
<ellipse cx="87.8" cy="148.1"/>
<ellipse cx="88.2" cy="150.9"/>
<ellipse cx="88.3" cy="150.8"/>
<ellipse cx="88.3" cy="148.2"/>
<ellipse cx="88.4" cy="151.3"/>
<ellipse cx="89.1" cy="151.4"/>
<ellipse cx="89.2" cy="153.4"/>
<ellipse cx="89.2" cy="152.1"/>
<ellipse cx="89.4" cy="151.8"/>
<ellipse cx="89.7" cy="149.6"/>
<ellipse cx="89.8" cy="149.5"/>
<ellipse cx="90.1" cy="149"/>
<ellipse cx="90.4" cy="151.1"/>
<ellipse cx="90.6" cy="151.1"/>
<ellipse cx="90.7" cy="153"/>
<ellipse cx="91" cy="151.3"/>
<ellipse cx="91.6" cy="149.4"/>
<ellipse cx="91.6" cy="150.9"/>
<ellipse cx="91.7" cy="145"/>
<ellipse cx="92.1" cy="151.1"/>
<ellipse cx="92.2" cy="149.1"/>
<ellipse cx="92.4" cy="151"/>
<ellipse cx="92.5" cy="152"/>
<ellipse cx="93" cy="148.7"/>
<ellipse cx="93.1" cy="152.2"/>
<ellipse cx="93.3" cy="150.7"/>
<ellipse cx="93.4" cy="152.5"/>
<ellipse cx="93.7" cy="144.4"/>
<ellipse cx="93.7" cy="150.6"/>
<ellipse cx="94.1" cy="153.1"/>
<ellipse cx="94.4" cy="150.3"/>
<ellipse cx="94.5" cy="150.1"/>
<ellipse cx="94.6" cy="151.1"/>
<ellipse cx="95.2" cy="152.9"/>
<ellipse cx="95.3" cy="151.3"/>
<ellipse cx="95.5" cy="150.6"/>
<ellipse cx="95.7" cy="150"/>
<ellipse cx="96.1" cy="151.9"/>
<ellipse cx="96.2" cy="153.7"/>
<ellipse cx="96.5" cy="150.6"/>
<ellipse cx="96.7" cy="146.5"/>
<ellipse cx="97.1" cy="151.7"/>
<ellipse cx="97.1" cy="149"/>
<ellipse cx="97.3" cy="144.7"/>
<ellipse cx="97.6" cy="145.1"/>
<ellipse cx="97.7" cy="148.3"/>
<ellipse cx="98.1" cy="149.4"/>
<ellipse cx="98.2" cy="152.4"/>
<ellipse cx="98.3" cy="152.9"/>
<ellipse cx="98.5" cy="152.1"/>
<ellipse cx="98.7" cy="148.3"/>
<ellipse cx="98.7" cy="151.9"/>
<ellipse cx="99.3" cy="151.9"/>
<ellipse cx="99.5" cy="151.8"/>
<ellipse cx="99.8" cy="149.6"/>
<ellipse cx="99.8" cy="153.1"/>
<ellipse cx="100" cy="137.7"/>
<ellipse cx="100.3" cy="152.1"/>
<ellipse cx="100.6" cy="153.8"/>
<ellipse cx="100.7" cy="144.9"/>
<ellipse cx="100.9" cy="150.8"/>
<ellipse cx="101" cy="151"/>
<ellipse cx="101.4" cy="149.6"/>
<ellipse cx="101.6" cy="152.3"/>
<ellipse cx="102" cy="154.4"/>
<ellipse cx="102" cy="146.5"/>
<ellipse cx="102.4" cy="146.3"/>
<ellipse cx="102.4" cy="149.4"/>
<ellipse cx="102.7" cy="152.3"/>
<ellipse cx="102.9" cy="144.1"/>
<ellipse cx="103.1" cy="152.7"/>
<ellipse cx="103.3" cy="150.8"/>
<ellipse cx="103.6" cy="144.3"/>
<ellipse cx="103.9" cy="148.7"/>
<ellipse cx="104" cy="152.8"/>
<ellipse cx="104" cy="143.7"/>
<ellipse cx="104.4" cy="149.8"/>
<ellipse cx="104.8" cy="150.4"/>
<ellipse cx="105" cy="153"/>
<ellipse cx="105.1" cy="147.3"/>
<ellipse cx="105.5" cy="146.6"/>
<ellipse cx="105.5" cy="150.9"/>
<ellipse cx="106.1" cy="145.1"/>
<ellipse cx="106.1" cy="148.4"/>
<ellipse cx="106.1" cy="148.8"/>
<ellipse cx="106.3" cy="150.5"/>
<ellipse cx="106.7" cy="141.9"/>
<ellipse cx="107" cy="149.3"/>
<ellipse cx="107.3" cy="148.9"/>
<ellipse cx="107.4" cy="148.1"/>
<ellipse cx="107.8" cy="151.1"/>
<ellipse cx="107.9" cy="148.2"/>
<ellipse cx="108.2" cy="152.6"/>
<ellipse cx="108.2" cy="151.7"/>
<ellipse cx="108.2" cy="151.8"/>
<ellipse cx="108.8" cy="144.9"/>
<ellipse cx="109.1" cy="142.6"/>
<ellipse cx="109.4" cy="149.9"/>
<ellipse cx="109.4" cy="144.2"/>
<ellipse cx="109.4" cy="149.5"/>
<ellipse cx="110" cy="151.7"/>
<ellipse cx="110" cy="148"/>
<ellipse cx="110.4" cy="147.7"/>
<ellipse cx="110.6" cy="143.1"/>
<ellipse cx="110.7" cy="154"/>
<ellipse cx="111" cy="133"/>
<ellipse cx="111" cy="149.4"/>
<ellipse cx="111.1" cy="151.2"/>
<ellipse cx="111.4" cy="149.8"/>
<ellipse cx="111.5" cy="152.7"/>
<ellipse cx="111.7" cy="143.7"/>
<ellipse cx="111.9" cy="150.6"/>
<ellipse cx="112.2" cy="149.3"/>
<ellipse cx="112.4" cy="146"/>
<ellipse cx="112.4" cy="148.1"/>
<ellipse cx="112.7" cy="149.6"/>
<ellipse cx="112.8" cy="152.7"/>
<ellipse cx="113.2" cy="151"/>
<ellipse cx="113.4" cy="150.6"/>
<ellipse cx="114" cy="153.7"/>
<ellipse cx="114" cy="144.3"/>
<ellipse cx="114.2" cy="148.7"/>
<ellipse cx="114.2" cy="149.4"/>
<ellipse cx="114.5" cy="148.2"/>
<ellipse cx="114.8" cy="150.2"/>
<ellipse cx="114.8" cy="145.1"/>
<ellipse cx="115.2" cy="154"/>
<ellipse cx="115.2" cy="150.6"/>
<ellipse cx="115.8" cy="149.8"/>
<ellipse cx="115.9" cy="146.7"/>
<ellipse cx="116.3" cy="148.6"/>
<ellipse cx="116.3" cy="133.8"/>
<ellipse cx="116.5" cy="146.3"/>
<ellipse cx="116.8" cy="151.6"/>
<ellipse cx="117.1" cy="148.5"/>
<ellipse cx="117.2" cy="148.4"/>
<ellipse cx="117.6" cy="142.6"/>
<ellipse cx="117.8" cy="147.8"/>
<ellipse cx="117.9" cy="153.5"/>
<ellipse cx="118.1" cy="152"/>
<ellipse cx="118.2" cy="146.6"/>
<ellipse cx="118.4" cy="148.9"/>
<ellipse cx="118.7" cy="147.1"/>
<ellipse cx="118.9" cy="149.9"/>
<ellipse cx="119.1" cy="147.7"/>
<ellipse cx="119.6" cy="148.4"/>
<ellipse cx="119.8" cy="150"/>
<ellipse cx="119.9" cy="146.4"/>
<ellipse cx="120.3" cy="149.4"/>
<ellipse cx="120.3" cy="148.6"/>
<ellipse cx="120.6" cy="148.1"/>
<ellipse cx="120.8" cy="139"/>
<ellipse cx="120.8" cy="146"/>
<ellipse cx="121.1" cy="144.8"/>
<ellipse cx="121.7" cy="132.3"/>
<ellipse cx="121.7" cy="146.7"/>
<ellipse cx="122.2" cy="146.1"/>
<ellipse cx="122.4" cy="147.1"/>
<ellipse cx="122.5" cy="134.7"/>
<ellipse cx="122.6" cy="147.3"/>
<ellipse cx="122.9" cy="151.8"/>
<ellipse cx="123.2" cy="139.6"/>
<ellipse cx="123.4" cy="151.8"/>
<ellipse cx="123.4" cy="148.5"/>
<ellipse cx="123.6" cy="146.1"/>
<ellipse cx="123.7" cy="144.6"/>
<ellipse cx="124.1" cy="148.3"/>
<ellipse cx="124.2" cy="147.3"/>
<ellipse cx="124.4" cy="145.1"/>
<ellipse cx="124.7" cy="151.9"/>
<ellipse cx="125" cy="149.2"/>
<ellipse cx="125.3" cy="152.7"/>
<ellipse cx="125.5" cy="133.6"/>
<ellipse cx="125.7" cy="153.1"/>
<ellipse cx="125.7" cy="148"/>
<ellipse cx="125.9" cy="151.2"/>
<ellipse cx="126" cy="149.9"/>
<ellipse cx="126.3" cy="149.3"/>
<ellipse cx="126.4" cy="148.2"/>
<ellipse cx="126.6" cy="147.5"/>
<ellipse cx="127.1" cy="146.4"/>
<ellipse cx="127.2" cy="147.7"/>
<ellipse cx="127.3" cy="140.5"/>
<ellipse cx="127.6" cy="150.5"/>
<ellipse cx="127.7" cy="146.9"/>
<ellipse cx="128" cy="150.4"/>
<ellipse cx="128.3" cy="133.5"/>
<ellipse cx="128.3" cy="145.7"/>
<ellipse cx="128.7" cy="143.1"/>
<ellipse cx="128.8" cy="147.7"/>
<ellipse cx="129.1" cy="149.4"/>
<ellipse cx="129.6" cy="144"/>
<ellipse cx="129.7" cy="146.6"/>
<ellipse cx="129.8" cy="145.9"/>
<ellipse cx="129.9" cy="147.9"/>
<ellipse cx="130" cy="150.9"/>
<ellipse cx="130.3" cy="149.3"/>
<ellipse cx="130.6" cy="145.9"/>
<ellipse cx="130.7" cy="145"/>
<ellipse cx="131.4" cy="151.2"/>
<ellipse cx="131.4" cy="148.4"/>
<ellipse cx="131.4" cy="146.6"/>
<ellipse cx="131.5" cy="147.5"/>
<ellipse cx="131.8" cy="133.3"/>
<ellipse cx="131.8" cy="146.6"/>
<ellipse cx="132.2" cy="142.6"/>
<ellipse cx="132.2" cy="142.7"/>
<ellipse cx="132.4" cy="136.8"/>
<ellipse cx="132.6" cy="142.2"/>
<ellipse cx="132.7" cy="144.7"/>
<ellipse cx="133" cy="134.1"/>
<ellipse cx="133" cy="125.4"/>
<ellipse cx="133.3" cy="137.8"/>
<ellipse cx="133.3" cy="131.9"/>
<ellipse cx="133.5" cy="131.9"/>
<ellipse cx="133.6" cy="136.9"/>
<ellipse cx="133.7" cy="137.7"/>
<ellipse cx="133.7" cy="130.7"/>
<ellipse cx="133.8" cy="138.8"/>
<ellipse cx="133.9" cy="136.4"/>
<ellipse cx="134" cy="131.2"/>
<ellipse cx="134.2" cy="139.9"/>
<ellipse cx="134.4" cy="134.6"/>
<ellipse cx="134.4" cy="134.8"/>
<ellipse cx="134.5" cy="129.3"/>
<ellipse cx="134.5" cy="130.6"/>
<ellipse cx="134.8" cy="128.9"/>
<ellipse cx="135" cy="135.8"/>
<ellipse cx="135" cy="116"/>
<ellipse cx="135" cy="141.4"/>
<ellipse cx="135.2" cy="132"/>
<ellipse cx="135.3" cy="130.6"/>
<ellipse cx="135.5" cy="116.1"/>
<ellipse cx="135.5" cy="124.3"/>
<ellipse cx="135.5" cy="136.8"/>
<ellipse cx="135.6" cy="107.8"/>
<ellipse cx="135.7" cy="128.4"/>
<ellipse cx="135.8" cy="139.8"/>
<ellipse cx="135.9" cy="137.6"/>
<ellipse cx="136.2" cy="124.3"/>
<ellipse cx="136.2" cy="146.3"/>
<ellipse cx="136.5" cy="121.6"/>
<ellipse cx="136.6" cy="131.9"/>
<ellipse cx="136.8" cy="139.7"/>
<ellipse cx="136.8" cy="129.6"/>
<ellipse cx="136.9" cy="132"/>
<ellipse cx="136.9" cy="129"/>
<ellipse cx="137.1" cy="131.7"/>
<ellipse cx="137.1" cy="129.1"/>
<ellipse cx="137.1" cy="130.9"/>
<ellipse cx="137.2" cy="123.2"/>
<ellipse cx="137.5" cy="130"/>
<ellipse cx="137.6" cy="125.1"/>
<ellipse cx="137.9" cy="125.4"/>
<ellipse cx="137.9" cy="103.3"/>
<ellipse cx="138" cy="141"/>
<ellipse cx="138.3" cy="139.2"/>
<ellipse cx="138.3" cy="130.2"/>
<ellipse cx="138.3" cy="133.7"/>
<ellipse cx="138.6" cy="137.2"/>
<ellipse cx="138.6" cy="120.3"/>
<ellipse cx="138.7" cy="143.4"/>
<ellipse cx="138.7" cy="124.2"/>
<ellipse cx="138.7" cy="126.4"/>
<ellipse cx="138.8" cy="136.8"/>
<ellipse cx="139.2" cy="126"/>
<ellipse cx="139.3" cy="126.4"/>
<ellipse cx="139.3" cy="123.1"/>
<ellipse cx="139.4" cy="133.3"/>
<ellipse cx="139.4" cy="113.1"/>
<ellipse cx="139.4" cy="121.4"/>
<ellipse cx="139.6" cy="115.3"/>
<ellipse cx="140" cy="131.9"/>
<ellipse cx="140.1" cy="126.7"/>
<ellipse cx="140.2" cy="132.8"/>
<ellipse cx="140.2" cy="109.5"/>
<ellipse cx="140.3" cy="131.8"/>
<ellipse cx="140.4" cy="134.6"/>
<ellipse cx="140.4" cy="111.5"/>
<ellipse cx="140.5" cy="135.3"/>
<ellipse cx="140.6" cy="132.1"/>
<ellipse cx="140.9" cy="17.7"/>
<ellipse cx="140.9" cy="112.1"/>
<ellipse cx="141" cy="87.4"/>
<ellipse cx="141" cy="123.5"/>
<ellipse cx="141" cy="103.3"/>
<ellipse cx="141" cy="136.4"/>
<ellipse cx="141.1" cy="102.7"/>
<ellipse cx="141.4" cy="118.6"/>
<ellipse cx="141.5" cy="92.1"/>
<ellipse cx="141.7" cy="117.5"/>
<ellipse cx="141.7" cy="115.3"/>
<ellipse cx="141.7" cy="129"/>
<ellipse cx="141.8" cy="98.2"/>
<ellipse cx="141.9" cy="120.3"/>
<ellipse cx="142.1" cy="127"/>
<ellipse cx="142.2" cy="125.9"/>
<ellipse cx="142.2" cy="119.6"/>
<ellipse cx="142.4" cy="130.1"/>
<ellipse cx="142.4" cy="114.2"/>
<ellipse cx="142.7" cy="132.5"/>
<ellipse cx="142.7" cy="136.8"/>
<ellipse cx="143" cy="92.9"/>
<ellipse cx="143" cy="119.1"/>
<ellipse cx="143.1" cy="129.8"/>
<ellipse cx="143.1" cy="135.1"/>
<ellipse cx="143.2" cy="113.5"/>
<ellipse cx="143.2" cy="135.2"/>
<ellipse cx="143.2" cy="120.6"/>
<ellipse cx="143.4" cy="98.2"/>
<ellipse cx="143.7" cy="116"/>
<ellipse cx="143.8" cy="110.9"/>
<ellipse cx="143.9" cy="125.9"/>
<ellipse cx="144" cy="138"/>
<ellipse cx="144" cy="126.9"/>
<ellipse cx="144.2" cy="131.1"/>
<ellipse cx="144.3" cy="140.6"/>
<ellipse cx="144.3" cy="109.4"/>
<ellipse cx="144.6" cy="113.5"/>
<ellipse cx="144.8" cy="124.9"/>
<ellipse cx="144.9" cy="92.3"/>
<ellipse cx="144.9" cy="86.6"/>
<ellipse cx="144.9" cy="119.3"/>
<ellipse cx="145" cy="142.3"/>
<ellipse cx="145.1" cy="139.7"/>
<ellipse cx="145.1" cy="117.2"/>
<ellipse cx="145.3" cy="116.3"/>
<ellipse cx="145.5" cy="120.7"/>
<ellipse cx="145.7" cy="121.4"/>
<ellipse cx="145.8" cy="129.6"/>
<ellipse cx="145.9" cy="118.7"/>
<ellipse cx="146.1" cy="115.9"/>
<ellipse cx="146.2" cy="126.1"/>
<ellipse cx="146.2" cy="135.5"/>
<ellipse cx="146.3" cy="134.2"/>
<ellipse cx="146.4" cy="117.1"/>
<ellipse cx="146.4" cy="107.8"/>
<ellipse cx="146.4" cy="127.3"/>
<ellipse cx="146.8" cy="101.9"/>
<ellipse cx="147" cy="116.3"/>
<ellipse cx="147" cy="133.3"/>
<ellipse cx="147" cy="78.6"/>
<ellipse cx="147" cy="120.5"/>
<ellipse cx="147.1" cy="121.7"/>
<ellipse cx="147.1" cy="124.1"/>
<ellipse cx="147.4" cy="115"/>
<ellipse cx="147.5" cy="64.3"/>
<ellipse cx="147.5" cy="68.7"/>
<ellipse cx="147.6" cy="105.9"/>
<ellipse cx="147.7" cy="101.5"/>
<ellipse cx="147.7" cy="103.2"/>
<ellipse cx="147.8" cy="120.3"/>
<ellipse cx="147.9" cy="115.8"/>
<ellipse cx="148.3" cy="117"/>
<ellipse cx="148.3" cy="122.9"/>
<ellipse cx="148.4" cy="126.6"/>
<ellipse cx="148.5" cy="122.9"/>
<ellipse cx="148.5" cy="82.7"/>
<ellipse cx="148.7" cy="131"/>
<ellipse cx="148.7" cy="106.9"/>
<ellipse cx="148.9" cy="90.7"/>
<ellipse cx="148.9" cy="107.3"/>
<ellipse cx="148.9" cy="101.6"/>
<ellipse cx="149.1" cy="119"/>
<ellipse cx="149.1" cy="98.6"/>
<ellipse cx="149.4" cy="113.6"/>
<ellipse cx="149.4" cy="125.4"/>
<ellipse cx="149.6" cy="143.8"/>
<ellipse cx="149.6" cy="119"/>
<ellipse cx="149.7" cy="102.7"/>
<ellipse cx="150" cy="82.9"/>
<ellipse cx="150.1" cy="124.3"/>
<ellipse cx="150.2" cy="115.8"/>
<ellipse cx="150.2" cy="127.3"/>
<ellipse cx="150.2" cy="104.3"/>
<ellipse cx="150.4" cy="103"/>
<ellipse cx="150.5" cy="121.1"/>
<ellipse cx="150.6" cy="119.6"/>
<ellipse cx="150.7" cy="132.3"/>
<ellipse cx="150.7" cy="116"/>
<ellipse cx="150.7" cy="108"/>
<ellipse cx="150.8" cy="111.7"/>
<ellipse cx="150.9" cy="111"/>
<ellipse cx="151.2" cy="142.2"/>
<ellipse cx="151.3" cy="92.5"/>
<ellipse cx="151.6" cy="118.4"/>
<ellipse cx="151.8" cy="122.7"/>
<ellipse cx="151.8" cy="106.8"/>
<ellipse cx="151.9" cy="123.3"/>
<ellipse cx="151.9" cy="133"/>
<ellipse cx="152" cy="125.4"/>
<ellipse cx="152.2" cy="111"/>
<ellipse cx="152.3" cy="128.1"/>
<ellipse cx="152.3" cy="109.6"/>
<ellipse cx="152.5" cy="97.2"/>
<ellipse cx="152.6" cy="104.6"/>
<ellipse cx="152.8" cy="123.9"/>
<ellipse cx="152.8" cy="118.1"/>
<ellipse cx="152.9" cy="112.3"/>
<ellipse cx="152.9" cy="125.3"/>
<ellipse cx="153" cy="92.7"/>
<ellipse cx="153.1" cy="103.8"/>
<ellipse cx="153.5" cy="122.3"/>
<ellipse cx="153.5" cy="108.7"/>
<ellipse cx="153.5" cy="103.7"/>
<ellipse cx="153.5" cy="120.8"/>
<ellipse cx="153.7" cy="118"/>
<ellipse cx="153.7" cy="77.5"/>
<ellipse cx="153.7" cy="107"/>
<ellipse cx="153.9" cy="118.8"/>
<ellipse cx="154" cy="132.7"/>
<ellipse cx="154.1" cy="108.2"/>
<ellipse cx="154.4" cy="131.2"/>
<ellipse cx="154.5" cy="139.8"/>
<ellipse cx="154.5" cy="111.9"/>
<ellipse cx="154.6" cy="95.1"/>
<ellipse cx="154.8" cy="121.9"/>
<ellipse cx="154.9" cy="117.2"/>
<ellipse cx="155" cy="112"/>
<ellipse cx="155" cy="81.9"/>
<ellipse cx="155.1" cy="130"/>
<ellipse cx="155.2" cy="126"/>
<ellipse cx="155.4" cy="112.8"/>
<ellipse cx="155.5" cy="136.3"/>
<ellipse cx="155.5" cy="115"/>
<ellipse cx="155.6" cy="121.3"/>
<ellipse cx="155.7" cy="104.4"/>
<ellipse cx="155.8" cy="120.5"/>
<ellipse cx="156" cy="95"/>
<ellipse cx="156" cy="125.2"/>
<ellipse cx="156.1" cy="128.8"/>
<ellipse cx="156.1" cy="113.8"/>
<ellipse cx="156.2" cy="95.7"/>
<ellipse cx="156.4" cy="115"/>
<ellipse cx="156.5" cy="137.8"/>
<ellipse cx="156.5" cy="127.3"/>
<ellipse cx="156.6" cy="134.7"/>
<ellipse cx="156.9" cy="99.9"/>
<ellipse cx="156.9" cy="125"/>
<ellipse cx="157" cy="100.6"/>
<ellipse cx="157.2" cy="116.1"/>
<ellipse cx="157.2" cy="119.5"/>
<ellipse cx="157.2" cy="140.1"/>
<ellipse cx="157.2" cy="126.8"/>
<ellipse cx="157.4" cy="126.9"/>
<ellipse cx="157.6" cy="117.1"/>
<ellipse cx="157.8" cy="113"/>
<ellipse cx="157.8" cy="128.3"/>
<ellipse cx="158" cy="123.8"/>
<ellipse cx="158.1" cy="120.3"/>
<ellipse cx="158.1" cy="104.6"/>
<ellipse cx="158.1" cy="124.8"/>
<ellipse cx="158.2" cy="121.4"/>
<ellipse cx="158.6" cy="131.1"/>
<ellipse cx="158.6" cy="117.4"/>
<ellipse cx="158.7" cy="128.2"/>
<ellipse cx="158.9" cy="127.8"/>
<ellipse cx="158.9" cy="129.9"/>
<ellipse cx="159" cy="104.5"/>
<ellipse cx="159.2" cy="134.2"/>
<ellipse cx="159.3" cy="144"/>
<ellipse cx="159.4" cy="117.2"/>
<ellipse cx="159.5" cy="125.7"/>
<ellipse cx="159.5" cy="109.9"/>
<ellipse cx="159.8" cy="138.9"/>
<ellipse cx="159.8" cy="134.7"/>
<ellipse cx="159.8" cy="134.1"/>
<ellipse cx="160" cy="131.7"/>
<ellipse cx="160.1" cy="139.3"/>
<ellipse cx="160.6" cy="139.5"/>
<ellipse cx="160.6" cy="135.3"/>
<ellipse cx="160.8" cy="153.9"/>
<ellipse cx="160.9" cy="150.7"/>
<ellipse cx="161.1" cy="154"/>
<ellipse cx="161.5" cy="153.3"/>
<ellipse cx="161.6" cy="153.2"/>
<ellipse cx="162.2" cy="154.9"/>
<ellipse cx="162.4" cy="155.6"/>
<ellipse cx="162.4" cy="155.6"/>
<ellipse cx="162.5" cy="154.4"/>
<ellipse cx="162.7" cy="155.8"/>
<ellipse cx="163.1" cy="155.8"/>
<ellipse cx="163.1" cy="157.1"/>
<ellipse cx="163.6" cy="156.8"/>
<ellipse cx="163.6" cy="156.1"/>
<ellipse cx="163.9" cy="155.5"/>
<ellipse cx="164" cy="156.2"/>
<ellipse cx="164.4" cy="154.9"/>
<ellipse cx="164.4" cy="155.8"/>
<ellipse cx="164.9" cy="156.8"/>
<ellipse cx="164.9" cy="155.5"/>
<ellipse cx="165.5" cy="154.9"/>
<ellipse cx="165.6" cy="155.3"/>
<ellipse cx="165.9" cy="154.5"/>
<ellipse cx="166.1" cy="154.8"/>
<ellipse cx="166.3" cy="155.6"/>
<ellipse cx="166.3" cy="156"/>
<ellipse cx="166.3" cy="154.3"/>
<ellipse cx="166.8" cy="156.5"/>
<ellipse cx="167" cy="155.8"/>
<ellipse cx="167.3" cy="155.3"/>
<ellipse cx="167.3" cy="156.3"/>
<ellipse cx="167.4" cy="154.3"/>
<ellipse cx="168" cy="155.5"/>
<ellipse cx="168.1" cy="156"/>
<ellipse cx="168.3" cy="154.6"/>
<ellipse cx="168.7" cy="156.5"/>
<ellipse cx="168.8" cy="156.3"/>
<ellipse cx="168.9" cy="156.3"/>
<ellipse cx="169.2" cy="155"/>
<ellipse cx="169.3" cy="156.7"/>
<ellipse cx="169.8" cy="155.4"/>
<ellipse cx="169.8" cy="156.9"/>
<ellipse cx="169.9" cy="156.7"/>
<ellipse cx="170.3" cy="157.4"/>
<ellipse cx="170.4" cy="155.4"/>
<ellipse cx="171" cy="155.5"/>
<ellipse cx="171.1" cy="155.4"/>
<ellipse cx="171.3" cy="157.1"/>
<ellipse cx="171.3" cy="156.1"/>
<ellipse cx="171.4" cy="156.2"/>
<ellipse cx="172.1" cy="156.7"/>
<ellipse cx="172.1" cy="155.8"/>
<ellipse cx="172.3" cy="155.7"/>
<ellipse cx="172.8" cy="156.6"/>
<ellipse cx="172.8" cy="157.2"/>
<ellipse cx="173" cy="157"/>
<ellipse cx="173.1" cy="156.8"/>
<ellipse cx="173.6" cy="157.6"/>
<ellipse cx="173.6" cy="156.8"/>
<ellipse cx="173.8" cy="157.6"/>
<ellipse cx="174" cy="156.5"/>
<ellipse cx="174.3" cy="156.9"/>
<ellipse cx="174.7" cy="156.2"/>
<ellipse cx="174.7" cy="156"/>
<ellipse cx="174.8" cy="157.6"/>
<ellipse cx="175.4" cy="157.1"/>
<ellipse cx="175.4" cy="156.4"/>
<ellipse cx="175.6" cy="156.3"/>
<ellipse cx="175.6" cy="155"/>
<ellipse cx="176.2" cy="157.2"/>
<ellipse cx="176.2" cy="157.1"/>
<ellipse cx="176.4" cy="156.8"/>
<ellipse cx="176.8" cy="155.8"/>
<ellipse cx="177.2" cy="156.7"/>
<ellipse cx="177.2" cy="157.1"/>
<ellipse cx="177.5" cy="156.3"/>
<ellipse cx="177.6" cy="155.7"/>
<ellipse cx="177.7" cy="156.3"/>
<ellipse cx="178.1" cy="156.3"/>
<ellipse cx="178.1" cy="155.3"/>
<ellipse cx="178.4" cy="157.2"/>
<ellipse cx="178.7" cy="156.5"/>
<ellipse cx="178.7" cy="156.3"/>
<ellipse cx="179" cy="156.1"/>
<ellipse cx="179.3" cy="157.1"/>
<ellipse cx="179.5" cy="157.1"/>
<ellipse cx="179.6" cy="156.7"/>
<ellipse cx="179.7" cy="155.6"/>
<ellipse cx="179.9" cy="156.4"/>
<ellipse cx="180.3" cy="155.7"/>
<ellipse cx="180.4" cy="155.5"/>
<ellipse cx="180.6" cy="156.8"/>
<ellipse cx="181.4" cy="156.9"/>
<ellipse cx="181.5" cy="154.7"/>
<ellipse cx="181.6" cy="155.7"/>
<ellipse cx="181.7" cy="156.2"/>
<ellipse cx="181.9" cy="157.3"/>
<ellipse cx="182.1" cy="155.7"/>
<ellipse cx="182.4" cy="155.6"/>
<ellipse cx="182.5" cy="155"/>
<ellipse cx="182.8" cy="156.3"/>
<ellipse cx="182.8" cy="156.1"/>
<ellipse cx="183.4" cy="155.4"/>
<ellipse cx="183.5" cy="156.5"/>
<ellipse cx="183.5" cy="156.3"/>
<ellipse cx="183.6" cy="155.8"/>
<ellipse cx="184" cy="155.6"/>
<ellipse cx="184.4" cy="155.7"/>
<ellipse cx="184.5" cy="155.7"/>
<ellipse cx="184.9" cy="156.7"/>
<ellipse cx="185.1" cy="155.7"/>
<ellipse cx="185.2" cy="155.1"/>
<ellipse cx="185.5" cy="156.1"/>
<ellipse cx="185.7" cy="155.8"/>
<ellipse cx="185.8" cy="156.8"/>
<ellipse cx="186.3" cy="156.9"/>
<ellipse cx="186.4" cy="156.6"/>
<ellipse cx="186.5" cy="157"/>
<ellipse cx="186.8" cy="156.3"/>
<ellipse cx="187.2" cy="155.9"/>
<ellipse cx="187.4" cy="156.2"/>
<ellipse cx="187.4" cy="156.6"/>
<ellipse cx="187.9" cy="155.7"/>
<ellipse cx="188.2" cy="154.9"/>
<ellipse cx="188.3" cy="155.4"/>
<ellipse cx="188.5" cy="156.2"/>
<ellipse cx="188.7" cy="156.8"/>
<ellipse cx="188.8" cy="155.6"/>
<ellipse cx="189.1" cy="155.8"/>
<ellipse cx="189.2" cy="154.9"/>
<ellipse cx="189.4" cy="157.2"/>
<ellipse cx="189.5" cy="155.8"/>
<ellipse cx="189.9" cy="155.7"/>
<ellipse cx="190" cy="156.8"/>
<ellipse cx="190.3" cy="157.1"/>
<ellipse cx="190.5" cy="155.3"/>
<ellipse cx="190.9" cy="157.1"/>
<ellipse cx="191.1" cy="156"/>
<ellipse cx="191.4" cy="154.7"/>
<ellipse cx="191.4" cy="155.5"/>
<ellipse cx="191.9" cy="155.2"/>
<ellipse cx="191.9" cy="155.1"/>
<ellipse cx="192" cy="156.5"/>
<ellipse cx="192.1" cy="156.2"/>
<ellipse cx="192.4" cy="155.4"/>
<ellipse cx="192.7" cy="155.7"/>
<ellipse cx="192.9" cy="157"/>
<ellipse cx="193.3" cy="156.5"/>
<ellipse cx="193.4" cy="154.4"/>
<ellipse cx="193.4" cy="156.1"/>
<ellipse cx="193.6" cy="155.8"/>
<ellipse cx="194" cy="155.9"/>
<ellipse cx="194.5" cy="156.6"/>
<ellipse cx="194.5" cy="154.4"/>
<ellipse cx="194.8" cy="157.2"/>
<ellipse cx="195" cy="156"/>
<ellipse cx="195" cy="155.8"/>
<ellipse cx="195.2" cy="154.7"/>
<ellipse cx="195.7" cy="154.3"/>
<ellipse cx="195.8" cy="155"/>
<ellipse cx="195.9" cy="155.5"/>
<ellipse cx="196.1" cy="155.6"/>
<ellipse cx="196.7" cy="154.3"/>
<ellipse cx="196.7" cy="154.7"/>
<ellipse cx="197.1" cy="154.9"/>
<ellipse cx="197.1" cy="156.2"/>
<ellipse cx="197.5" cy="155.1"/>
<ellipse cx="197.7" cy="155.7"/>
<ellipse cx="198" cy="154.8"/>
<ellipse cx="198.1" cy="156.4"/>
<ellipse cx="198.2" cy="157.3"/>
<ellipse cx="198.4" cy="154.9"/>
<ellipse cx="198.4" cy="156.7"/>
<ellipse cx="199" cy="155.3"/>
<ellipse cx="199.2" cy="156.8"/>
<ellipse cx="199.4" cy="154.9"/>
<ellipse cx="199.7" cy="154.6"/>
<ellipse cx="199.8" cy="156.7"/>
<ellipse cx="199.9" cy="155.1"/>
<ellipse cx="200.3" cy="152.6"/>
<ellipse cx="200.6" cy="155.1"/>
<ellipse cx="200.6" cy="155"/>
<ellipse cx="200.9" cy="155.6"/>
<ellipse cx="201.2" cy="156.2"/>
<ellipse cx="201.4" cy="156.3"/>
<ellipse cx="201.5" cy="155.8"/>
<ellipse cx="201.8" cy="155.2"/>
<ellipse cx="201.9" cy="155.6"/>
<ellipse cx="202" cy="155"/>
<ellipse cx="202.6" cy="155.1"/>
<ellipse cx="202.8" cy="154.4"/>
<ellipse cx="203.1" cy="155.3"/>
<ellipse cx="203.1" cy="155.2"/>
<ellipse cx="203.5" cy="154.5"/>
<ellipse cx="203.6" cy="155"/>
<ellipse cx="203.6" cy="155.5"/>
<ellipse cx="204.1" cy="155"/>
<ellipse cx="204.4" cy="154.6"/>
<ellipse cx="204.4" cy="153.2"/>
<ellipse cx="204.4" cy="154.9"/>
<ellipse cx="205" cy="155"/>
<ellipse cx="205" cy="155.5"/>
<ellipse cx="205.1" cy="153.2"/>
<ellipse cx="205.3" cy="153.3"/>
<ellipse cx="205.8" cy="154.4"/>
<ellipse cx="205.9" cy="154.3"/>
<ellipse cx="206.3" cy="153.8"/>
<ellipse cx="206.3" cy="153"/>
<ellipse cx="206.7" cy="155.8"/>
<ellipse cx="206.9" cy="155"/>
<ellipse cx="206.9" cy="154.7"/>
<ellipse cx="207.2" cy="154.9"/>
<ellipse cx="207.7" cy="153.4"/>
<ellipse cx="207.8" cy="154.3"/>
<ellipse cx="207.8" cy="155.6"/>
<ellipse cx="208" cy="152.6"/>
<ellipse cx="208.6" cy="151.8"/>
<ellipse cx="208.8" cy="154.8"/>
<ellipse cx="208.8" cy="154.7"/>
<ellipse cx="209" cy="152.9"/>
<ellipse cx="209" cy="154.9"/>
<ellipse cx="209.6" cy="153.2"/>
<ellipse cx="209.6" cy="154.4"/>
<ellipse cx="209.9" cy="154.2"/>
<ellipse cx="210" cy="151.8"/>
<ellipse cx="210.3" cy="152.9"/>
<ellipse cx="210.4" cy="153.7"/>
<ellipse cx="211" cy="154.7"/>
<ellipse cx="211" cy="151.3"/>
<ellipse cx="211.1" cy="152.7"/>
<ellipse cx="211.4" cy="152"/>
<ellipse cx="211.4" cy="153.3"/>
<ellipse cx="212.1" cy="151.8"/>
<ellipse cx="212.1" cy="154"/>
<ellipse cx="212.5" cy="153.6"/>
<ellipse cx="212.5" cy="151.5"/>
<ellipse cx="212.7" cy="151"/>
<ellipse cx="212.9" cy="151.5"/>
<ellipse cx="213.4" cy="150.6"/>
<ellipse cx="213.5" cy="152"/>
<ellipse cx="213.6" cy="150.9"/>
<ellipse cx="213.8" cy="153.2"/>
<ellipse cx="214" cy="152.5"/>
<ellipse cx="214.2" cy="151.7"/>
<ellipse cx="214.3" cy="152.2"/>
<ellipse cx="214.5" cy="154"/>
<ellipse cx="215" cy="152.1"/>
<ellipse cx="215" cy="152.7"/>
<ellipse cx="215.5" cy="151.4"/>
<ellipse cx="215.6" cy="152.2"/>
<ellipse cx="215.8" cy="152.8"/>
<ellipse cx="215.9" cy="151"/>
<ellipse cx="216.5" cy="154.1"/>
<ellipse cx="216.5" cy="153.7"/>
<ellipse cx="216.9" cy="150.3"/>
<ellipse cx="217.1" cy="151.8"/>
<ellipse cx="217.2" cy="150.1"/>
<ellipse cx="217.3" cy="152.8"/>
<ellipse cx="217.4" cy="150.2"/>
<ellipse cx="218" cy="151.2"/>
<ellipse cx="218" cy="153"/>
<ellipse cx="218.5" cy="149.8"/>
<ellipse cx="218.5" cy="149.6"/>
<ellipse cx="218.5" cy="151.2"/>
<ellipse cx="218.8" cy="149.6"/>
<ellipse cx="219.3" cy="151.5"/>
<ellipse cx="219.4" cy="150.6"/>
<ellipse cx="219.4" cy="150.6"/>
<ellipse cx="220" cy="150.5"/>
<ellipse cx="220.1" cy="150"/>
<ellipse cx="220.1" cy="150.9"/>
<ellipse cx="220.2" cy="152.1"/>
<ellipse cx="220.7" cy="150.8"/>
<ellipse cx="220.8" cy="149.8"/>
<ellipse cx="221.3" cy="150.3"/>
<ellipse cx="221.4" cy="147.9"/>
<ellipse cx="221.5" cy="150.8"/>
<ellipse cx="222.1" cy="149.8"/>
<ellipse cx="222.1" cy="147.6"/>
<ellipse cx="222.3" cy="152.2"/>
<ellipse cx="222.4" cy="147.2"/>
<ellipse cx="222.7" cy="147.4"/>
<ellipse cx="223" cy="149.4"/>
<ellipse cx="223.1" cy="146.1"/>
<ellipse cx="223.1" cy="147.9"/>
<ellipse cx="223.3" cy="147.5"/>
<ellipse cx="224" cy="146.7"/>
<ellipse cx="224" cy="146.6"/>
<ellipse cx="224.2" cy="145.7"/>
<ellipse cx="224.2" cy="136.3"/>
<ellipse cx="224.8" cy="145.3"/>
<ellipse cx="224.8" cy="147"/>
<ellipse cx="224.9" cy="145.9"/>
<ellipse cx="225.1" cy="148"/>
<ellipse cx="225.3" cy="128.4"/>
<ellipse cx="225.3" cy="133.1"/>
<ellipse cx="225.6" cy="147.7"/>
<ellipse cx="225.9" cy="146.7"/>
<ellipse cx="226" cy="146.2"/>
<ellipse cx="226.1" cy="147.2"/>
<ellipse cx="226.3" cy="146.6"/>
<ellipse cx="226.7" cy="147.8"/>
<ellipse cx="226.8" cy="146.8"/>
<ellipse cx="227.1" cy="146.7"/>
<ellipse cx="227.1" cy="138.3"/>
<ellipse cx="227.4" cy="150.6"/>
<ellipse cx="227.5" cy="142.8"/>
<ellipse cx="227.9" cy="142.3"/>
<ellipse cx="228.2" cy="145.6"/>
<ellipse cx="228.3" cy="148.6"/>
<ellipse cx="228.6" cy="148.8"/>
<ellipse cx="228.7" cy="148.7"/>
<ellipse cx="228.9" cy="152.1"/>
<ellipse cx="229.4" cy="151.1"/>
<ellipse cx="229.4" cy="149.9"/>
<ellipse cx="229.5" cy="152.3"/>
<ellipse cx="229.6" cy="153.3"/>
<ellipse cx="230" cy="153.5"/>
<ellipse cx="230.5" cy="153.7"/>
<ellipse cx="230.6" cy="153"/>
<ellipse cx="230.6" cy="152.2"/>
<ellipse cx="231" cy="154.3"/>
<ellipse cx="231.4" cy="152"/>
<ellipse cx="231.5" cy="153.4"/>
<ellipse cx="231.5" cy="153.4"/>
<ellipse cx="231.8" cy="152.3"/>
<ellipse cx="232.3" cy="153.6"/>
<ellipse cx="232.3" cy="150.7"/>
<ellipse cx="232.5" cy="153.3"/>
<ellipse cx="232.8" cy="152.8"/>
<ellipse cx="232.9" cy="153.2"/>
<ellipse cx="233.4" cy="154.3"/>
<ellipse cx="233.5" cy="154"/>
<ellipse cx="233.5" cy="153.5"/>
<ellipse cx="233.6" cy="152.8"/>
<ellipse cx="234.3" cy="153.8"/>
<ellipse cx="234.5" cy="153.3"/>
<ellipse cx="234.6" cy="154.5"/>
<ellipse cx="234.6" cy="152.9"/>
<ellipse cx="235.1" cy="153.3"/>
<ellipse cx="235.4" cy="153.3"/>
<ellipse cx="235.5" cy="153"/>
<ellipse cx="235.6" cy="152.1"/>
<ellipse cx="235.9" cy="153.4"/>
<ellipse cx="235.9" cy="153.6"/>
<ellipse cx="236.2" cy="152.5"/>
<ellipse cx="236.6" cy="153.6"/>
<ellipse cx="236.9" cy="152.5"/>
<ellipse cx="237.1" cy="153.6"/>
<ellipse cx="237.2" cy="153.1"/>
<ellipse cx="237.3" cy="154.4"/>
<ellipse cx="237.6" cy="153.3"/>
<ellipse cx="237.9" cy="153.3"/>
<ellipse cx="238.1" cy="151.4"/>
<ellipse cx="238.3" cy="154.3"/>
<ellipse cx="238.5" cy="153.4"/>
<ellipse cx="238.5" cy="151.7"/>
<ellipse cx="239" cy="152.2"/>
<ellipse cx="239.3" cy="149.7"/>
<ellipse cx="239.3" cy="149.2"/>
<ellipse cx="239.7" cy="147"/>
<ellipse cx="239.8" cy="139.4"/>
<ellipse cx="240.2" cy="148.3"/>
<ellipse cx="240.3" cy="146"/>
<ellipse cx="240.3" cy="147.1"/>
<ellipse cx="240.8" cy="147.4"/>
<ellipse cx="240.9" cy="138.5"/>
<ellipse cx="241" cy="134.3"/>
<ellipse cx="241.2" cy="139.4"/>
<ellipse cx="241.3" cy="144.2"/>
<ellipse cx="241.4" cy="143.7"/>
<ellipse cx="241.8" cy="135.7"/>
<ellipse cx="241.9" cy="126.1"/>
<ellipse cx="241.9" cy="126"/>
<ellipse cx="242" cy="139.3"/>
<ellipse cx="242" cy="143.4"/>
<ellipse cx="242.4" cy="132.4"/>
<ellipse cx="242.5" cy="131.4"/>
<ellipse cx="242.6" cy="137.6"/>
<ellipse cx="242.6" cy="132.5"/>
<ellipse cx="242.7" cy="128.8"/>
<ellipse cx="243" cy="146.8"/>
<ellipse cx="243.1" cy="142.7"/>
<ellipse cx="243.2" cy="133.6"/>
<ellipse cx="243.3" cy="138.3"/>
<ellipse cx="243.6" cy="137.4"/>
<ellipse cx="243.6" cy="120.8"/>
<ellipse cx="243.8" cy="133.4"/>
<ellipse cx="243.9" cy="139.8"/>
<ellipse cx="243.9" cy="138.7"/>
<ellipse cx="244.2" cy="135"/>
<ellipse cx="244.3" cy="134.5"/>
<ellipse cx="244.3" cy="124.5"/>
<ellipse cx="244.7" cy="137.5"/>
<ellipse cx="244.7" cy="147.5"/>
<ellipse cx="244.7" cy="132.2"/>
<ellipse cx="245.2" cy="138.5"/>
<ellipse cx="245.3" cy="135.1"/>
<ellipse cx="245.4" cy="130.7"/>
<ellipse cx="245.5" cy="139.5"/>
<ellipse cx="245.7" cy="108.6"/>
<ellipse cx="245.8" cy="144.5"/>
<ellipse cx="245.9" cy="129.9"/>
<ellipse cx="245.9" cy="126.6"/>
<ellipse cx="246.1" cy="138.4"/>
<ellipse cx="246.4" cy="132.1"/>
<ellipse cx="246.4" cy="138.5"/>
<ellipse cx="246.5" cy="134.3"/>
<ellipse cx="246.7" cy="133.9"/>
<ellipse cx="246.8" cy="143.4"/>
<ellipse cx="246.9" cy="140.2"/>
<ellipse cx="247" cy="139.9"/>
<ellipse cx="247.3" cy="145.3"/>
<ellipse cx="247.3" cy="133"/>
<ellipse cx="247.3" cy="134.9"/>
<ellipse cx="247.4" cy="128.3"/>
<ellipse cx="247.5" cy="131.1"/>
<ellipse cx="247.9" cy="135.8"/>
<ellipse cx="248.1" cy="142.4"/>
<ellipse cx="248.3" cy="142.2"/>
<ellipse cx="248.4" cy="122.8"/>
<ellipse cx="248.5" cy="143.9"/>
<ellipse cx="248.6" cy="136.5"/>
<ellipse cx="248.7" cy="129.3"/>
<ellipse cx="248.8" cy="145.3"/>
<ellipse cx="249" cy="143.4"/>
<ellipse cx="249.2" cy="129.7"/>
<ellipse cx="249.3" cy="129.2"/>
<ellipse cx="249.4" cy="125.5"/>
<ellipse cx="249.6" cy="130.5"/>
<ellipse cx="249.7" cy="117.7"/>
<ellipse cx="249.8" cy="133.8"/>
<ellipse cx="249.9" cy="131.6"/>
<ellipse cx="250" cy="105.7"/>
<ellipse cx="250.1" cy="133.9"/>
<ellipse cx="250.2" cy="137"/>
<ellipse cx="250.3" cy="133.6"/>
<ellipse cx="250.3" cy="120.1"/>
<ellipse cx="250.3" cy="137.1"/>
<ellipse cx="250.8" cy="117.7"/>
<ellipse cx="250.9" cy="139.8"/>
<ellipse cx="251" cy="142.9"/>
<ellipse cx="251" cy="131.9"/>
<ellipse cx="251.1" cy="135.1"/>
<ellipse cx="251.5" cy="128.5"/>
<ellipse cx="251.5" cy="125.5"/>
<ellipse cx="251.5" cy="138.3"/>
<ellipse cx="251.9" cy="136.8"/>
<ellipse cx="252.1" cy="134.7"/>
<ellipse cx="252.1" cy="130"/>
<ellipse cx="252.2" cy="135.4"/>
<ellipse cx="252.3" cy="123"/>
<ellipse cx="252.4" cy="138.3"/>
<ellipse cx="252.8" cy="139.4"/>
<ellipse cx="252.9" cy="132.8"/>
<ellipse cx="252.9" cy="102"/>
<ellipse cx="252.9" cy="136.9"/>
<ellipse cx="253.1" cy="126.2"/>
<ellipse cx="253.1" cy="141.4"/>
<ellipse cx="253.1" cy="137.7"/>
<ellipse cx="253.4" cy="138.5"/>
<ellipse cx="253.6" cy="133.6"/>
<ellipse cx="253.8" cy="121"/>
<ellipse cx="253.9" cy="119.9"/>
<ellipse cx="254" cy="135.7"/>
<ellipse cx="254" cy="137.7"/>
<ellipse cx="254.1" cy="134.9"/>
<ellipse cx="254.2" cy="135.3"/>
<ellipse cx="254.5" cy="140.2"/>
<ellipse cx="254.6" cy="135.4"/>
<ellipse cx="255" cy="137.7"/>
<ellipse cx="255.1" cy="138.9"/>
<ellipse cx="255.1" cy="141.3"/>
<ellipse cx="255.3" cy="134.7"/>
<ellipse cx="255.4" cy="144"/>
<ellipse cx="255.5" cy="117.4"/>
<ellipse cx="255.6" cy="132.6"/>
<ellipse cx="255.7" cy="128.3"/>
<ellipse cx="255.8" cy="139.7"/>
<ellipse cx="256.1" cy="136.1"/>
<ellipse cx="256.2" cy="142.3"/>
<ellipse cx="256.4" cy="125.7"/>
<ellipse cx="256.5" cy="134.6"/>
<ellipse cx="256.6" cy="137.8"/>
<ellipse cx="256.7" cy="134.4"/>
<ellipse cx="257.2" cy="132.8"/>
<ellipse cx="257.2" cy="130.7"/>
<ellipse cx="257.2" cy="130.4"/>
<ellipse cx="257.2" cy="132.6"/>
<ellipse cx="257.5" cy="134"/>
<ellipse cx="257.6" cy="135.5"/>
<ellipse cx="257.7" cy="123.2"/>
<ellipse cx="258" cy="135.1"/>
<ellipse cx="258" cy="134.4"/>
<ellipse cx="258.1" cy="126"/>
<ellipse cx="258.4" cy="132.1"/>
<ellipse cx="258.5" cy="125.9"/>
<ellipse cx="258.7" cy="135.3"/>
<ellipse cx="258.7" cy="131.3"/>
<ellipse cx="259" cy="137.2"/>
<ellipse cx="259" cy="136"/>
<ellipse cx="259.2" cy="133.4"/>
<ellipse cx="259.3" cy="139.5"/>
<ellipse cx="259.3" cy="138.2"/>
<ellipse cx="259.6" cy="130"/>
<ellipse cx="259.7" cy="138.9"/>
<ellipse cx="260" cy="135.2"/>
<ellipse cx="260" cy="138.2"/>
<ellipse cx="260.1" cy="133.4"/>
<ellipse cx="260.2" cy="146.7"/>
<ellipse cx="260.2" cy="144.3"/>
<ellipse cx="260.3" cy="132.4"/>
<ellipse cx="260.5" cy="139.5"/>
<ellipse cx="261" cy="135.7"/>
<ellipse cx="261.1" cy="139.7"/>
<ellipse cx="261.1" cy="131.1"/>
<ellipse cx="261.2" cy="136"/>
<ellipse cx="261.2" cy="139.3"/>
<ellipse cx="261.5" cy="140"/>
<ellipse cx="261.5" cy="141.9"/>
<ellipse cx="261.8" cy="143.1"/>
<ellipse cx="261.9" cy="145.8"/>
<ellipse cx="261.9" cy="135.1"/>
<ellipse cx="262.1" cy="141.4"/>
<ellipse cx="262.3" cy="141.7"/>
<ellipse cx="262.5" cy="139.9"/>
<ellipse cx="262.5" cy="144.8"/>
<ellipse cx="262.7" cy="146.5"/>
<ellipse cx="262.8" cy="146.5"/>
<ellipse cx="263.1" cy="148.7"/>
<ellipse cx="263.2" cy="144.3"/>
<ellipse cx="263.5" cy="138.3"/>
<ellipse cx="263.6" cy="148.6"/>
<ellipse cx="263.6" cy="140.4"/>
<ellipse cx="263.8" cy="147.6"/>
<ellipse cx="264.1" cy="147.5"/>
<ellipse cx="264.6" cy="140.5"/>
<ellipse cx="264.8" cy="139.2"/>
<ellipse cx="264.9" cy="147.4"/>
<ellipse cx="265" cy="140.2"/>
<ellipse cx="265.2" cy="147.2"/>
<ellipse cx="265.7" cy="142"/>
<ellipse cx="265.7" cy="133.2"/>
<ellipse cx="266" cy="145.1"/>
<ellipse cx="266.2" cy="147.3"/>
<ellipse cx="266.4" cy="144"/>
<ellipse cx="266.9" cy="145.7"/>
<ellipse cx="267" cy="149.4"/>
<ellipse cx="267.1" cy="148.3"/>
<ellipse cx="267.5" cy="146.1"/>
<ellipse cx="267.6" cy="143.3"/>
<ellipse cx="267.7" cy="144.4"/>
<ellipse cx="268.2" cy="145.8"/>
<ellipse cx="268.3" cy="145.1"/>
<ellipse cx="268.6" cy="147.7"/>
<ellipse cx="268.7" cy="146"/>
<ellipse cx="269" cy="146"/>
<ellipse cx="269.1" cy="150.3"/>
<ellipse cx="269.4" cy="147.2"/>
<ellipse cx="269.7" cy="148"/>
<ellipse cx="269.8" cy="143.2"/>
<ellipse cx="269.9" cy="144"/>
<ellipse cx="270.2" cy="141.7"/>
<ellipse cx="270.6" cy="148.6"/>
<ellipse cx="270.6" cy="150"/>
<ellipse cx="270.8" cy="143.4"/>
<ellipse cx="271.1" cy="147.9"/>
<ellipse cx="271.4" cy="146.4"/>
<ellipse cx="271.5" cy="146.9"/>
<ellipse cx="271.8" cy="145.1"/>
<ellipse cx="271.9" cy="147.9"/>
<ellipse cx="271.9" cy="146.6"/>
<ellipse cx="272.4" cy="145.6"/>
<ellipse cx="272.7" cy="147.4"/>
<ellipse cx="272.8" cy="139.7"/>
<ellipse cx="273.3" cy="148.1"/>
<ellipse cx="273.5" cy="146.7"/>
<ellipse cx="273.5" cy="144.1"/>
<ellipse cx="273.7" cy="144.7"/>
<ellipse cx="274" cy="147"/>
<ellipse cx="274" cy="147.3"/>
<ellipse cx="274.3" cy="145.1"/>
<ellipse cx="274.8" cy="148.9"/>
<ellipse cx="274.9" cy="144.9"/>
<ellipse cx="275.3" cy="145.2"/>
<ellipse cx="275.3" cy="140.6"/>
<ellipse cx="275.4" cy="146"/>
<ellipse cx="275.8" cy="149"/>
<ellipse cx="275.9" cy="144.5"/>
<ellipse cx="276.1" cy="148.9"/>
<ellipse cx="276.2" cy="148.5"/>
<ellipse cx="276.5" cy="149.3"/>
<ellipse cx="276.8" cy="146.3"/>
<ellipse cx="277.1" cy="150.6"/>
<ellipse cx="277.3" cy="150.8"/>
<ellipse cx="277.3" cy="142.7"/>
<ellipse cx="277.8" cy="144.1"/>
<ellipse cx="277.8" cy="144.1"/>
<ellipse cx="277.9" cy="142.4"/>
<ellipse cx="278.3" cy="143.7"/>
<ellipse cx="278.7" cy="146.7"/>
<ellipse cx="278.7" cy="146.9"/>
<ellipse cx="278.9" cy="149.9"/>
<ellipse cx="279.3" cy="144.3"/>
<ellipse cx="279.4" cy="149.6"/>
<ellipse cx="279.9" cy="143"/>
<ellipse cx="279.9" cy="143.8"/>
<ellipse cx="279.9" cy="143.2"/>
<ellipse cx="280.3" cy="143.6"/>
<ellipse cx="280.5" cy="138.8"/>
<ellipse cx="280.5" cy="145.2"/>
<ellipse cx="281.2" cy="146.4"/>
<ellipse cx="281.4" cy="145.4"/>
<ellipse cx="281.6" cy="148.3"/>
<ellipse cx="281.8" cy="146.6"/>
<ellipse cx="281.9" cy="146.9"/>
<ellipse cx="282" cy="145.2"/>
<ellipse cx="282.1" cy="138.7"/>
<ellipse cx="282.2" cy="146.4"/>
<ellipse cx="282.7" cy="141"/>
<ellipse cx="282.9" cy="144.5"/>
<ellipse cx="283.1" cy="146.1"/>
<ellipse cx="283.4" cy="147.1"/>
<ellipse cx="283.7" cy="149.8"/>
<ellipse cx="283.8" cy="147"/>
<ellipse cx="284.3" cy="146"/>
<ellipse cx="284.3" cy="145.3"/>
<ellipse cx="284.6" cy="145.9"/>
<ellipse cx="284.7" cy="147.8"/>
<ellipse cx="284.8" cy="146.7"/>
<ellipse cx="285.1" cy="144.4"/>
<ellipse cx="285.4" cy="143.5"/>
<ellipse cx="285.5" cy="149.2"/>
<ellipse cx="285.8" cy="144.4"/>
<ellipse cx="286" cy="147.2"/>
<ellipse cx="286.3" cy="147.9"/>
<ellipse cx="286.3" cy="146.5"/>
<ellipse cx="286.7" cy="143.6"/>
<ellipse cx="287" cy="143.6"/>
<ellipse cx="287.2" cy="146.5"/>
<ellipse cx="287.4" cy="134.2"/>
<ellipse cx="287.6" cy="140.5"/>
<ellipse cx="287.9" cy="140.4"/>
<ellipse cx="288" cy="140.8"/>
<ellipse cx="288" cy="140.5"/>
<ellipse cx="288.3" cy="143"/>
<ellipse cx="288.5" cy="135.5"/>
<ellipse cx="288.8" cy="140.3"/>
<ellipse cx="288.9" cy="138.4"/>
<ellipse cx="289.1" cy="140.4"/>
<ellipse cx="289.2" cy="141.2"/>
<ellipse cx="289.5" cy="144.3"/>
<ellipse cx="289.5" cy="140.1"/>
<ellipse cx="289.6" cy="142.2"/>
<ellipse cx="289.6" cy="145.4"/>
<ellipse cx="290" cy="137.6"/>
<ellipse cx="290" cy="139.8"/>
<ellipse cx="290.2" cy="141.1"/>
<ellipse cx="290.3" cy="141.2"/>
<ellipse cx="290.5" cy="141.3"/>
<ellipse cx="290.7" cy="140.3"/>
<ellipse cx="290.8" cy="139.9"/>
<ellipse cx="291" cy="136.8"/>
<ellipse cx="291" cy="139.7"/>
<ellipse cx="291.3" cy="142.5"/>
<ellipse cx="291.6" cy="145.6"/>
<ellipse cx="291.9" cy="145"/>
<ellipse cx="292" cy="142.5"/>
<ellipse cx="292.1" cy="142.1"/>
<ellipse cx="292.3" cy="137.3"/>
<ellipse cx="292.3" cy="146.3"/>
<ellipse cx="292.6" cy="131.7"/>
<ellipse cx="292.6" cy="143.1"/>
<ellipse cx="292.7" cy="138.7"/>
<ellipse cx="292.8" cy="142.9"/>
<ellipse cx="293" cy="145.2"/>
<ellipse cx="293.1" cy="139.7"/>
<ellipse cx="293.3" cy="142.5"/>
<ellipse cx="293.7" cy="137.9"/>
<ellipse cx="293.8" cy="143.8"/>
<ellipse cx="294.1" cy="136.4"/>
<ellipse cx="294.1" cy="138.1"/>
<ellipse cx="294.1" cy="130.1"/>
<ellipse cx="294.3" cy="133.6"/>
<ellipse cx="294.3" cy="137"/>
<ellipse cx="294.5" cy="144"/>
<ellipse cx="294.7" cy="140.5"/>
<ellipse cx="294.8" cy="140.4"/>
<ellipse cx="295.1" cy="142"/>
<ellipse cx="295.1" cy="137.7"/>
<ellipse cx="295.1" cy="142.9"/>
<ellipse cx="295.6" cy="147.5"/>
<ellipse cx="295.9" cy="140"/>
<ellipse cx="296.1" cy="141.4"/>
<ellipse cx="296.1" cy="138.8"/>
<ellipse cx="296.3" cy="137.7"/>
<ellipse cx="296.4" cy="141.5"/>
<ellipse cx="296.4" cy="145.4"/>
<ellipse cx="296.5" cy="135.7"/>
<ellipse cx="296.5" cy="140"/>
<ellipse cx="297" cy="135.5"/>
<ellipse cx="297.2" cy="135"/>
<ellipse cx="297.5" cy="136.2"/>
<ellipse cx="297.6" cy="143"/>
<ellipse cx="297.7" cy="142.9"/>
<ellipse cx="297.8" cy="137.5"/>
<ellipse cx="298" cy="137.9"/>
<ellipse cx="298.1" cy="140.8"/>
<ellipse cx="298.1" cy="135.7"/>
<ellipse cx="298.3" cy="124.9"/>
<ellipse cx="298.3" cy="145.2"/>
<ellipse cx="298.7" cy="142.8"/>
<ellipse cx="299.1" cy="139.8"/>
<ellipse cx="299.1" cy="138.7"/>
<ellipse cx="299.3" cy="129.4"/>
<ellipse cx="299.4" cy="140.6"/>
<ellipse cx="299.5" cy="140.5"/>
<ellipse cx="299.8" cy="142.1"/>
<ellipse cx="299.9" cy="135.2"/>
<ellipse cx="299.9" cy="135.5"/>
<ellipse cx="300" cy="135.1"/>
<ellipse cx="300.4" cy="132.2"/>
<ellipse cx="300.5" cy="134.9"/>
<ellipse cx="300.6" cy="133.3"/>
<ellipse cx="300.7" cy="144.1"/>
<ellipse cx="300.8" cy="127.1"/>
<ellipse cx="300.9" cy="132.7"/>
<ellipse cx="300.9" cy="138.1"/>
<ellipse cx="301.5" cy="139.3"/>
<ellipse cx="301.6" cy="135.5"/>
<ellipse cx="301.7" cy="144.6"/>
<ellipse cx="301.8" cy="132.1"/>
<ellipse cx="302" cy="138.4"/>
<ellipse cx="302.4" cy="142.5"/>
<ellipse cx="302.4" cy="141.3"/>
<ellipse cx="302.6" cy="140.1"/>
<ellipse cx="302.6" cy="141.5"/>
<ellipse cx="302.9" cy="134.9"/>
<ellipse cx="303" cy="145.4"/>
<ellipse cx="303" cy="122"/>
<ellipse cx="303" cy="137.5"/>
<ellipse cx="303" cy="139.7"/>
<ellipse cx="303.2" cy="135.6"/>
<ellipse cx="303.5" cy="138.4"/>
<ellipse cx="303.5" cy="138.9"/>
<ellipse cx="304.1" cy="134.9"/>
<ellipse cx="304.1" cy="137"/>
<ellipse cx="304.2" cy="134.2"/>
<ellipse cx="304.6" cy="134.5"/>
<ellipse cx="304.6" cy="137.3"/>
<ellipse cx="304.9" cy="137.1"/>
<ellipse cx="305" cy="136.1"/>
<ellipse cx="305" cy="115.7"/>
<ellipse cx="305.2" cy="133.6"/>
<ellipse cx="305.2" cy="123.5"/>
<ellipse cx="305.3" cy="141.7"/>
<ellipse cx="305.5" cy="120.5"/>
<ellipse cx="305.7" cy="135"/>
<ellipse cx="305.7" cy="141.4"/>
<ellipse cx="306" cy="137.7"/>
<ellipse cx="306.2" cy="134.6"/>
<ellipse cx="306.3" cy="133.9"/>
<ellipse cx="306.5" cy="134.4"/>
<ellipse cx="306.6" cy="142.1"/>
<ellipse cx="306.6" cy="141"/>
<ellipse cx="306.7" cy="142.6"/>
<ellipse cx="306.9" cy="134.8"/>
<ellipse cx="307.2" cy="136.4"/>
<ellipse cx="307.5" cy="129.6"/>
<ellipse cx="307.5" cy="135.9"/>
<ellipse cx="307.6" cy="139.4"/>
<ellipse cx="307.7" cy="142.4"/>
<ellipse cx="308" cy="141.3"/>
<ellipse cx="308.2" cy="131.9"/>
<ellipse cx="308.3" cy="139.6"/>
<ellipse cx="308.4" cy="141.1"/>
<ellipse cx="308.8" cy="134.8"/>
<ellipse cx="308.9" cy="135.5"/>
<ellipse cx="308.9" cy="138.8"/>
<ellipse cx="309.1" cy="131.7"/>
<ellipse cx="309.2" cy="132.8"/>
<ellipse cx="309.4" cy="130.1"/>
<ellipse cx="309.4" cy="138.6"/>
<ellipse cx="309.5" cy="137.6"/>
<ellipse cx="309.8" cy="140.3"/>
<ellipse cx="309.9" cy="129.8"/>
<ellipse cx="309.9" cy="139"/>
<ellipse cx="310.2" cy="131.7"/>
<ellipse cx="310.3" cy="138.3"/>
<ellipse cx="310.9" cy="138"/>
<ellipse cx="310.9" cy="136.1"/>
<ellipse cx="310.9" cy="131.1"/>
<ellipse cx="311.1" cy="141.9"/>
<ellipse cx="311.2" cy="141.4"/>
<ellipse cx="311.4" cy="126.8"/>
<ellipse cx="311.4" cy="130.6"/>
<ellipse cx="311.5" cy="141.9"/>
<ellipse cx="312.1" cy="141.1"/>
<ellipse cx="312.1" cy="138.1"/>
<ellipse cx="312.3" cy="137.8"/>
<ellipse cx="312.5" cy="135.1"/>
<ellipse cx="312.5" cy="136.5"/>
<ellipse cx="312.7" cy="127"/>
<ellipse cx="312.8" cy="134.4"/>
<ellipse cx="313" cy="141.9"/>
<ellipse cx="313.1" cy="135.7"/>
<ellipse cx="313.2" cy="132.2"/>
<ellipse cx="313.7" cy="142.3"/>
<ellipse cx="313.7" cy="141.1"/>
<ellipse cx="313.7" cy="143.4"/>
<ellipse cx="313.8" cy="132.8"/>
<ellipse cx="313.9" cy="143"/>
<ellipse cx="314.2" cy="136.7"/>
<ellipse cx="314.2" cy="135"/>
<ellipse cx="314.7" cy="137.1"/>
<ellipse cx="315" cy="144.6"/>
<ellipse cx="315" cy="142.5"/>
<ellipse cx="315.1" cy="137.8"/>
<ellipse cx="315.2" cy="134.3"/>
<ellipse cx="315.3" cy="139.5"/>
<ellipse cx="315.5" cy="138.3"/>
<ellipse cx="315.6" cy="136.1"/>
<ellipse cx="315.9" cy="134.8"/>
<ellipse cx="316" cy="141.9"/>
</g>
<path d="M35 209.2H336" stroke="#efefef" stroke-width="0.8" stroke-dasharray="1.5 1"/>
<path d="M29.8 196.3 L29.8 196.1 L30.5 195.9 L30.7 196.2 L31 196.1 L31.3 196.9 L31.4 195.9 L31.9 196.7 L32.3 196.8 L32.7 196.2 L32.8 195.3 L33.1 196.5 L33.5 196 L33.9 195.7 L34.2 195.7 L34.9 196.8 L35.2 196 L35.4 196.5 L35.7 196.7 L36 196.3 L36.6 196.6 L37 196.9 L37.5 195.9 L37.7 196.2 L37.9 196 L38.1 195.9 L38.3 195.4 L39 195.9 L39.2 196.4 L39.8 196.6 L40.1 196.7 L40.4 195.7 L40.8 196.4 L40.8 195.5 L41.4 195.5 L41.7 196.9 L42.2 195.7 L42.4 195.6 L43 195.6 L43.2 194.5 L43.8 195.1 L44.1 194.3 L44.3 195.6 L44.6 194.9 L45.1 194.9 L45.2 194.7 L45.8 194.8 L46.2 194.4 L46.2 194.3 L46.9 195 L47.3 194.9 L47.5 194.5 L47.8 195.3 L48.2 194.9 L48.3 193.9 L49 195.4 L49.1 195.8 L49.7 194.2 L49.8 194.1 L50 195.3 L50.3 195.1 L50.8 194.1 L51.4 194.5 L51.5 194.7 L51.6 194.1 L52.2 194.7 L52.3 195.3 L52.8 193.7 L53.5 194.6 L53.5 195 L54 194 L54.2 194.3 L54.5 194.9 L55.3 193.6 L55.6 194.4 L55.9 194.7 L56.3 193.9 L56.6 194 L56.7 192.9 L57.4 193.6 L57.6 194.3 L58 193.8 L58.3 193.7 L58.7 193.9 L58.8 193.7 L59.2 193.4 L59.3 194.1 L60.2 193.6 L60.6 194.1 L60.9 194.3 L60.9 193.2 L61.4 193.5 L61.5 194.8 L61.9 193.5 L62.2 193.2 L62.5 194.7 L63.3 194.7 L63.6 193.8 L63.9 194.9 L63.9 194 L64.7 194.2 L64.9 193.9 L65.2 194.7 L65.6 194.9 L65.9 194.7 L66.3 194.4 L66.3 194.4 L67 194.5 L67.3 194.2 L67.4 194.1 L68 195 L68.2 194 L68.9 194.6 L69.2 193.8 L69.6 193.8 L69.8 195.5 L70.1 194.3 L70.2 194.3 L70.8 195.1 L71.3 194.9 L71.6 194 L71.8 194.7 L72.2 194.8 L72.7 195.8 L72.7 194 L73.4 195.3 L73.6 194.5 L73.7 195.1 L74.6 194.7 L74.7 194.5 L74.8 193.9 L75.6 195 L75.6 194.8 L76.2 194.8 L76.3 195.3 L77 195.1 L77.2 194.7 L77.3 194.6 L77.8 193.6 L78.1 193.9 L78.3 194.4 L78.9 195.4 L79.3 195.2 L79.7 195.2 L79.9 194.9 L80.1 194.3 L80.6 194.9 L80.7 194.8 L81.2 194.7 L81.7 194.3 L82.1 193.7 L82.4 194.4 L83 194 L83.3 193.8 L83.5 194.4 L83.8 194.1 L84 194.9 L84.3 195.2 L84.6 194.3 L85.3 193.8 L85.7 194.5 L86.1 193.8 L86.4 194.3 L86.7 194.3 L86.7 194.1 L87.4 194.9 L87.7 194.5 L87.8 194.3 L88.1 193.9 L88.7 194.1 L89.1 194.9 L89.1 193.6 L90 193.9 L90.2 195.5 L90.5 194.5 L90.6 194.5 L91.2 194.8 L91.4 193.7 L91.5 194 L91.9 194.7 L92.7 193.6 L92.9 194.6 L93.1 194.5 L93.8 193.8 L93.9 195 L94 194.5 L94.7 194.2 L95.1 194.6 L95.3 194.8 L95.9 194.1 L96 194.8 L96.5 195 L96.5 194.7 L97.1 193.9 L97.3 193.9 L98 194.4 L98 195.4 L98.4 195.6 L99 193.8 L99.1 194.6 L99.8 195.5 L100 194.2 L100.1 194.8 L100.3 195.1 L100.7 195.3 L101.1 194.6 L101.4 194.7 L102.2 194.2 L102.4 194.4 L102.5 195 L102.9 194.7 L103.1 195.4 L103.8 194.5 L104.2 194.9 L104.3 194.4 L104.7 193.9 L105.3 194.1 L105.5 194.3 L105.5 194 L106.3 194.1 L106.3 194 L106.9 195.2 L107.3 194.1 L107.6 193.7 L108.2 193.6 L108.3 194.2 L108.8 194.2 L108.9 194.3 L109.1 194.4 L109.8 193.5 L110.1 194.7 L110.1 194.7 L110.8 194.5 L110.9 194.1 L111.2 194.4 L111.9 194.8 L112 195.3 L112.2 194.1 L112.9 193.9 L113 193.8 L113.8 194.3 L113.8 193.6 L114.2 193.8 L114.7 194.3 L114.8 195.1 L115.4 194.6 L115.8 193.4 L116.1 193.5 L116.3 194.5 L116.6 194.3 L117.2 193.2 L117.3 194.3 L117.6 193.9 L118.3 193.7 L118.7 194.7 L119 194.8 L119.3 194 L119.4 194.3 L119.6 194.1 L120 194.8 L120.5 194.9 L120.6 194.3 L121.4 195 L121.4 194.7 L122 194.4 L122.3 194.3 L122.6 194.1 L123.2 194.1 L123.3 194.6 L123.5 194 L123.9 193.6 L124.4 194.6 L124.9 194.2 L125.1 195 L125.6 194.8 L125.8 193.9 L126.2 194.4 L126.2 193.7 L126.9 195.4 L127 194 L127.7 195.1 L128 194.2 L128.3 193.7 L128.4 193.9 L129 193.7 L129 194.8 L129.4 194.2 L129.8 193.9 L130.6 193.9 L130.6 194.6 L131.1 194.6 L131.2 194.8 L131.6 195.3 L131.8 194.1 L132.4 194.4 L132.5 195 L133 194.2 L133.3 194.4 L133.5 194.5 L134.2 194.8 L134.7 195 L135.1 195.3 L135.3 195.3 L135.5 194.5 L136 194.5 L136.1 194.1 L136.3 195.1 L136.9 193.9 L137.6 194.2 L137.9 194.6 L138.1 193.9 L138.2 194.4 L138.9 194.5 L139.2 193.9 L139.4 194.5 L139.5 194 L139.9 194.8 L140.6 194.8 L140.9 195.2 L141 194.2 L141.3 194.8 L142.1 194.7 L142.1 194.2 L142.7 194.3 L142.8 194.4 L143.1 194.1 L143.3 194.5 L143.8 194.7 L144.2 194 L144.9 194.6 L145.1 194.4 L145.1 194.1 L146 194.4 L146 193.6 L146.7 194.7 L146.8 193.9 L147.2 193.7 L147.5 194.6 L147.6 194.4 L148.2 194.4 L148.7 193.9 L148.9 194.1 L149.4 194.5 L149.5 194.4 L149.6 193.5 L150 193.9 L150.4 194.4 L150.7 195.1 L151.2 195 L151.4 194.9 L151.8 194.7 L152.5 195.3 L152.6 194.7 L153.2 194.7 L153.3 194.7 L153.7 194.3 L154.1 194.7 L154.4 194.6 L154.9 195.1 L154.9 195 L155.6 194.7 L155.8 194.5 L156.3 195.3 L156.6 193.6 L157.1 195 L157.5 195.1 L157.6 195 L157.8 194.7 L158.3 195.3 L158.8 194.7 L159.2 194.8 L159.4 194.3 L159.5 193.9 L160.1 195.5 L160.5 195.2 L160.5 195.6 L161.1 194.8 L161.5 194.6 L161.8 195.7 L161.9 194.5 L162.5 194.2 L163 194 L163.3 195.1 L163.4 194.9 L163.7 194.5 L164.4 194.4 L164.8 194.9 L164.9 194.2 L165.1 195.1 L165.8 193.5 L165.8 194.5 L166.1 194.4 L166.9 194.3 L167.3 195.4 L167.4 194.4 L167.7 194.3 L168 193.8 L168.7 194.5 L169 194.3 L169.2 194.1 L169.5 194.2 L169.7 194.2 L170.3 193.6 L170.6 194.5 L171.1 193.4 L171.4 194.2 L171.5 194.1 L172 193.4 L172.1 193.8 L172.7 193.7 L173.1 194.9 L173.3 194.7 L173.6 194 L173.8 193.4 L174.5 193.9 L174.5 194.4 L175 192.9 L175.5 191 L175.9 187.5 L176.1 191.6 L176.3 191.2 L176.6 178 L176.7 188.6 L177.1 193.1 L177.6 189.8 L178.1 190.1 L178.3 192.4 L178.5 189.3 L179.2 191.1 L179.2 187.1 L179.8 188.8 L180 187.9 L180.5 187.6 L180.5 189 L180.9 190.6 L181.3 188.5 L181.5 190.5 L182.2 190.9 L182.6 191.3 L182.6 190.6 L183.2 190.6 L183.4 192.1 L183.8 193.5 L184 195.2 L184.8 195.8 L184.8 194.5 L185.2 195.3 L185.8 194.1 L185.9 193.9 L186.5 194.5 L186.8 194.3 L187 195.1 L187.4 195 L187.8 195.1 L188.2 195.2 L188.4 194.4 L188.7 195.3 L188.9 194.8 L189.5 195.1 L189.9 194.6 L190.3 195.3 L190.6 194.5 L190.8 193.7 L191.4 194.3 L191.6 194.1 L192.1 193.9 L192.1 194.9 L192.4 194.5 L192.9 193.3 L193.4 194.4 L193.5 193.7 L194.2 193.9 L194.5 194.6 L194.5 194.1 L194.8 193.5 L195.5 194.2 L195.6 194.3 L196.4 194.1 L196.4 194.1 L196.9 194.5 L197 193.5 L197.7 194.4 L197.8 194 L198.2 194 L198.6 193.9 L198.8 193.3 L199 193.9 L199.7 194 L200 194.3 L200.2 193.7 L200.4 194.4 L201.1 194.4 L201.6 193.1 L201.6 194.1 L201.8 194.8 L202.3 193 L202.9 195.1 L203.2 194.7 L203.6 194.3 L203.7 194.3 L204.4 194.2 L204.4 194.4 L205.1 194.7 L205.1 194.7 L205.5 194.1 L206.2 194.2 L206.5 194.8 L206.8 194.4 L206.9 193.6 L207.2 194.4 L207.5 194.8 L208.3 195.1 L208.3 194.9 L208.8 194.8 L209 195.7 L209.3 194.7 L209.6 195.3 L209.9 194.9 L210.5 195.7 L210.6 195.3 L211.2 195.3 L211.5 195 L211.8 195.7 L212.5 194.9 L212.7 195 L213.1 195.2 L213.2 194.5 L213.5 193.9 L214.2 194.5 L214.4 194.3 L214.5 194.8 L215.2 194.4 L215.6 194 L215.9 195 L216.1 194.7 L216.5 194.5 L216.8 194.7 L217 195 L217.5 194 L217.7 194.2 L218.1 194.7 L218.3 193.8 L218.6 193.7 L218.9 194 L219.7 193.8 L219.8 194.3 L220 194.4 L220.6 194.1 L221.1 194 L221.3 194.6 L221.5 194.6 L221.9 193.5 L222.5 193.8 L222.9 194.6 L223.3 194.4 L223.3 193.3 L223.5 194.5 L224.3 193.8 L224.3 194.8 L224.7 194.1 L225.3 194.8 L225.6 193.7 L225.9 194 L226.1 194.3 L226.4 194.2 L227 194 L227.4 195 L227.4 194.2 L227.8 194.6 L228.5 194.8 L228.5 194.6 L228.7 194.3 L229.6 194.3 L229.6 194.5 L229.9 193.9 L230.3 195.1 L231 193.5 L231 194 L231.4 194.1 L231.5 194.1 L232.4 194.5 L232.7 195 L232.7 193.9 L233 193.7 L233.3 194.3 L234.1 195.7 L234.5 195.2 L234.9 193.9 L235.1 194.2 L235.6 194.1 L235.6 194.8 L236.1 194.9 L236.2 195.7 L236.8 194.6 L237.1 195.4 L237.2 195 L237.7 194.2 L238.2 195.1 L238.6 195.2 L238.9 193.9 L239.1 194.8 L239.3 193.9 L240.1 194.1 L240.4 195.6 L240.5 193.7 L240.7 195 L241 195.1 L241.4 194.6 L241.7 194.5 L242.1 194.1 L242.4 194.7 L242.9 194.5 L243.3 195.2 L243.7 194 L244 194.6 L244.1 194.1 L244.7 195 L245.2 193.6 L245.4 194 L246 194 L246.2 194.4 L246.3 194.1 L247 194 L247.1 194 L247.4 194.2 L248.1 194.1 L248.2 194.1 L248.6 194.3 L248.7 193.3 L249.4 193.7 L249.5 193.8 L250.2 193.3 L250.4 193.1 L250.8 193.3 L251.1 194.1 L251.3 194.6 L251.7 194.6 L252.3 194.3 L252.6 194.6 L252.7 193.5 L253.2 194.2 L253.2 194.5 L253.8 194.4 L254.2 193.3 L254.5 194.2 L254.7 193.4 L255 194 L255.8 194.3 L255.9 194.3 L256.4 194.8 L256.5 194.2 L257.2 193.7 L257.4 194.4 L257.7 194.1 L258.2 195.2 L258.3 194.8 L258.8 194.9 L259 194.6 L259.6 194.4 L259.8 195.4 L260.1 194.1 L260.3 194.7 L260.9 193.7 L260.9 194.3 L261.7 194.1 L261.8 194.5 L262.3 194.6 L262.6 195.3 L262.7 194.1 L263.3 194.6 L263.4 194.8 L264.1 193.9 L264.2 194.7 L264.6 195.1 L264.9 194.3 L265.2 194.9 L265.8 194 L266 193.9 L266.7 195.1 L266.7 194.6 L266.9 194.2 L267.6 194.1 L267.7 194.7 L268.2 194.6 L268.7 195.4 L269 193.9 L269.2 194.1 L269.4 194.6 L269.7 194.3 L270.2 194.8 L270.9 194.6 L271.1 193.2 L271.1 194.9 L271.8 193.9 L271.9 194.8 L272.1 194.5 L273 193.7 L273.2 194.1 L273.5 193.3 L274 194 L274.2 194 L274.3 194.3 L274.8 193.8 L275 193.1 L275.6 193.7 L275.7 194.9 L276.3 194.2 L276.7 193.7 L276.7 194.5 L277.3 193.2 L277.8 194.4 L277.8 194.1 L278.5 193.5 L278.9 193.9 L279.2 195.2 L279.5 194.5 L279.6 195.2 L279.9 193.7 L280.2 194.6 L280.8 194.3 L280.9 195 L281.6 193.4 L281.7 194.4 L282.1 194 L282.5 194.1 L282.7 194.8 L283.1 194.3 L283.3 194.3 L284 194.3 L284.2 194.2 L284.5 194.9 L284.7 195.3 L285.6 194.4 L286 194 L286 194.3 L286.3 194.7 L286.5 194.9 L286.8 193.9 L287.3 195.4 L287.9 194.7 L288.3 195.1 L288.7 195.3 L288.7 194.7 L288.9 195.2 L289.3 195.6 L290.1 195.3 L290.5 195.6 L290.8 194.6 L291 194.2 L291.1 194.3 L291.4 194.4 L291.9 194.6 L292.3 194.3 L292.9 194.8 L293.2 195.6 L293.4 194.2 L293.5 194.7 L294.1 193.9 L294.4 195.4 L294.8 194.7 L295.4 195.1 L295.4 194.4 L295.9 193.9 L296.1 194 L296.4 195.3 L296.9 194.2 L297.2 194.3 L297.6 194.8 L298.1 194.3 L298.2 194.4 L298.4 194.7 L298.9 194.4 L299.2 194 L299.8 193.4 L299.8 193.8 L300.7 193.5 L300.9 193.9 L301 193.7 L301.7 194.9 L302 193.5 L302.1 194.5 L302.7 194.6 L303 193.9 L303.3 195.2 L303.3 194.2 L303.6 195.3 L304.1 195.2 L304.5 194.7 L304.8 194.5 L305.4 194.8 L305.6 195.1 L305.9 195 L306.3 194.2 L306.7 193.6 L306.8 193.6 L307.2 193.9 L307.7 194 L308 194.5 L308.5 193.8 L308.9 194.1 L308.9 193.5 L309.2 195 L310 194.5 L310 194.3 L310.5 193.7 L311 195.1 L311.2 194.3 L311.7 193.2 L311.8 194.5 L312.2 194.3 L312.6 194.1 L313.2 193.8 L313.4 194.9 L313.5 194.2 L313.8 194.9 L314.4 194.8 L314.8 194.2 L315 194.8 L315.2 194.2 L315.5 194.2 L316.2 195.1 L316.2 193.8 L316.9 194.8 L317 194.6 L317.6 194.8 L318.1 194.8 L318.3 193.7 L318.5 194.1 L319.2 194.7 L319.2 195 L319.5 193.7 L320.2 194.3 L320.4 195.2 L320.8 194.3 L320.9 194.4 L321.1 194.5 L321.8 193.4 L322.1 195.1 L322.4 193.8 L323.1 194.2 L323.3 194.5 L323.8 194 L323.8 194.6 L324.1 195 L324.7 193.9 L324.7 195 L325.4 195.1 L325.7 194 L325.8 194.2 L326.4 194.4 L326.8 194.4 L326.9 194.3 L327.6 194.8 L327.8 194.4 L327.9 195.1 L328.6 194.1 L328.7 194.4 L329.2 194.2 L329.3 194.3 L329.8 194.8 L330.2 194.8 L330.6 194.4 L330.8 193.7 L330.9 194.1 L331.5 194.7 L332 194.7 L332.2 194.2 L332.7 194 L332.9 194.2 L333.1 194.4 L333.6 193.2 L334.2 194.9 L334.3 194.1 L334.5 193.7 L335.2 193.9 L335.4 194.3 L336 193.1 L336.3 194.3 L336.7 195 L336.7 194.9 L337.4 194.6 L337.6 194.5 L337.7 193.7" fill="none" stroke="#d0d0d0" stroke-width="0.5"/>
<g class="pa" fill="#c6c6c6" stroke="#bdbdbd" stroke-width="0.3">
<ellipse cx="29.8" cy="196.3"/>
<ellipse cx="29.8" cy="196.1"/>
<ellipse cx="30.5" cy="195.9"/>
<ellipse cx="30.7" cy="196.2"/>
<ellipse cx="31" cy="196.1"/>
<ellipse cx="31.3" cy="196.9"/>
<ellipse cx="31.4" cy="195.9"/>
<ellipse cx="31.9" cy="196.7"/>
<ellipse cx="32.3" cy="196.8"/>
<ellipse cx="32.7" cy="196.2"/>
<ellipse cx="32.8" cy="195.3"/>
<ellipse cx="33.1" cy="196.5"/>
<ellipse cx="33.5" cy="196"/>
<ellipse cx="33.9" cy="195.7"/>
<ellipse cx="34.2" cy="195.7"/>
<ellipse cx="34.9" cy="196.8"/>
<ellipse cx="35.2" cy="196"/>
<ellipse cx="35.4" cy="196.5"/>
<ellipse cx="35.7" cy="196.7"/>
<ellipse cx="36" cy="196.3"/>
<ellipse cx="36.6" cy="196.6"/>
<ellipse cx="37" cy="196.9"/>
<ellipse cx="37.5" cy="195.9"/>
<ellipse cx="37.7" cy="196.2"/>
<ellipse cx="37.9" cy="196"/>
<ellipse cx="38.1" cy="195.9"/>
<ellipse cx="38.3" cy="195.4"/>
<ellipse cx="39" cy="195.9"/>
<ellipse cx="39.2" cy="196.4"/>
<ellipse cx="39.8" cy="196.6"/>
<ellipse cx="40.1" cy="196.7"/>
<ellipse cx="40.4" cy="195.7"/>
<ellipse cx="40.8" cy="196.4"/>
<ellipse cx="40.8" cy="195.5"/>
<ellipse cx="41.4" cy="195.5"/>
<ellipse cx="41.7" cy="196.9"/>
<ellipse cx="42.2" cy="195.7"/>
<ellipse cx="42.4" cy="195.6"/>
<ellipse cx="43" cy="195.6"/>
<ellipse cx="43.2" cy="194.5"/>
<ellipse cx="43.8" cy="195.1"/>
<ellipse cx="44.1" cy="194.3"/>
<ellipse cx="44.3" cy="195.6"/>
<ellipse cx="44.6" cy="194.9"/>
<ellipse cx="45.1" cy="194.9"/>
<ellipse cx="45.2" cy="194.7"/>
<ellipse cx="45.8" cy="194.8"/>
<ellipse cx="46.2" cy="194.4"/>
<ellipse cx="46.2" cy="194.3"/>
<ellipse cx="46.9" cy="195"/>
<ellipse cx="47.3" cy="194.9"/>
<ellipse cx="47.5" cy="194.5"/>
<ellipse cx="47.8" cy="195.3"/>
<ellipse cx="48.2" cy="194.9"/>
<ellipse cx="48.3" cy="193.9"/>
<ellipse cx="49" cy="195.4"/>
<ellipse cx="49.1" cy="195.8"/>
<ellipse cx="49.7" cy="194.2"/>
<ellipse cx="49.8" cy="194.1"/>
<ellipse cx="50" cy="195.3"/>
<ellipse cx="50.3" cy="195.1"/>
<ellipse cx="50.8" cy="194.1"/>
<ellipse cx="51.4" cy="194.5"/>
<ellipse cx="51.5" cy="194.7"/>
<ellipse cx="51.6" cy="194.1"/>
<ellipse cx="52.2" cy="194.7"/>
<ellipse cx="52.3" cy="195.3"/>
<ellipse cx="52.8" cy="193.7"/>
<ellipse cx="53.5" cy="194.6"/>
<ellipse cx="53.5" cy="195"/>
<ellipse cx="54" cy="194"/>
<ellipse cx="54.2" cy="194.3"/>
<ellipse cx="54.5" cy="194.9"/>
<ellipse cx="55.3" cy="193.6"/>
<ellipse cx="55.6" cy="194.4"/>
<ellipse cx="55.9" cy="194.7"/>
<ellipse cx="56.3" cy="193.9"/>
<ellipse cx="56.6" cy="194"/>
<ellipse cx="56.7" cy="192.9"/>
<ellipse cx="57.4" cy="193.6"/>
<ellipse cx="57.6" cy="194.3"/>
<ellipse cx="58" cy="193.8"/>
<ellipse cx="58.3" cy="193.7"/>
<ellipse cx="58.7" cy="193.9"/>
<ellipse cx="58.8" cy="193.7"/>
<ellipse cx="59.2" cy="193.4"/>
<ellipse cx="59.3" cy="194.1"/>
<ellipse cx="60.2" cy="193.6"/>
<ellipse cx="60.6" cy="194.1"/>
<ellipse cx="60.9" cy="194.3"/>
<ellipse cx="60.9" cy="193.2"/>
<ellipse cx="61.4" cy="193.5"/>
<ellipse cx="61.5" cy="194.8"/>
<ellipse cx="61.9" cy="193.5"/>
<ellipse cx="62.2" cy="193.2"/>
<ellipse cx="62.5" cy="194.7"/>
<ellipse cx="63.3" cy="194.7"/>
<ellipse cx="63.6" cy="193.8"/>
<ellipse cx="63.9" cy="194.9"/>
<ellipse cx="63.9" cy="194"/>
<ellipse cx="64.7" cy="194.2"/>
<ellipse cx="64.9" cy="193.9"/>
<ellipse cx="65.2" cy="194.7"/>
<ellipse cx="65.6" cy="194.9"/>
<ellipse cx="65.9" cy="194.7"/>
<ellipse cx="66.3" cy="194.4"/>
<ellipse cx="66.3" cy="194.4"/>
<ellipse cx="67" cy="194.5"/>
<ellipse cx="67.3" cy="194.2"/>
<ellipse cx="67.4" cy="194.1"/>
<ellipse cx="68" cy="195"/>
<ellipse cx="68.2" cy="194"/>
<ellipse cx="68.9" cy="194.6"/>
<ellipse cx="69.2" cy="193.8"/>
<ellipse cx="69.6" cy="193.8"/>
<ellipse cx="69.8" cy="195.5"/>
<ellipse cx="70.1" cy="194.3"/>
<ellipse cx="70.2" cy="194.3"/>
<ellipse cx="70.8" cy="195.1"/>
<ellipse cx="71.3" cy="194.9"/>
<ellipse cx="71.6" cy="194"/>
<ellipse cx="71.8" cy="194.7"/>
<ellipse cx="72.2" cy="194.8"/>
<ellipse cx="72.7" cy="195.8"/>
<ellipse cx="72.7" cy="194"/>
<ellipse cx="73.4" cy="195.3"/>
<ellipse cx="73.6" cy="194.5"/>
<ellipse cx="73.7" cy="195.1"/>
<ellipse cx="74.6" cy="194.7"/>
<ellipse cx="74.7" cy="194.5"/>
<ellipse cx="74.8" cy="193.9"/>
<ellipse cx="75.6" cy="195"/>
<ellipse cx="75.6" cy="194.8"/>
<ellipse cx="76.2" cy="194.8"/>
<ellipse cx="76.3" cy="195.3"/>
<ellipse cx="77" cy="195.1"/>
<ellipse cx="77.2" cy="194.7"/>
<ellipse cx="77.3" cy="194.6"/>
<ellipse cx="77.8" cy="193.6"/>
<ellipse cx="78.1" cy="193.9"/>
<ellipse cx="78.3" cy="194.4"/>
<ellipse cx="78.9" cy="195.4"/>
<ellipse cx="79.3" cy="195.2"/>
<ellipse cx="79.7" cy="195.2"/>
<ellipse cx="79.9" cy="194.9"/>
<ellipse cx="80.1" cy="194.3"/>
<ellipse cx="80.6" cy="194.9"/>
<ellipse cx="80.7" cy="194.8"/>
<ellipse cx="81.2" cy="194.7"/>
<ellipse cx="81.7" cy="194.3"/>
<ellipse cx="82.1" cy="193.7"/>
<ellipse cx="82.4" cy="194.4"/>
<ellipse cx="83" cy="194"/>
<ellipse cx="83.3" cy="193.8"/>
<ellipse cx="83.5" cy="194.4"/>
<ellipse cx="83.8" cy="194.1"/>
<ellipse cx="84" cy="194.9"/>
<ellipse cx="84.3" cy="195.2"/>
<ellipse cx="84.6" cy="194.3"/>
<ellipse cx="85.3" cy="193.8"/>
<ellipse cx="85.7" cy="194.5"/>
<ellipse cx="86.1" cy="193.8"/>
<ellipse cx="86.4" cy="194.3"/>
<ellipse cx="86.7" cy="194.3"/>
<ellipse cx="86.7" cy="194.1"/>
<ellipse cx="87.4" cy="194.9"/>
<ellipse cx="87.7" cy="194.5"/>
<ellipse cx="87.8" cy="194.3"/>
<ellipse cx="88.1" cy="193.9"/>
<ellipse cx="88.7" cy="194.1"/>
<ellipse cx="89.1" cy="194.9"/>
<ellipse cx="89.1" cy="193.6"/>
<ellipse cx="90" cy="193.9"/>
<ellipse cx="90.2" cy="195.5"/>
<ellipse cx="90.5" cy="194.5"/>
<ellipse cx="90.6" cy="194.5"/>
<ellipse cx="91.2" cy="194.8"/>
<ellipse cx="91.4" cy="193.7"/>
<ellipse cx="91.5" cy="194"/>
<ellipse cx="91.9" cy="194.7"/>
<ellipse cx="92.7" cy="193.6"/>
<ellipse cx="92.9" cy="194.6"/>
<ellipse cx="93.1" cy="194.5"/>
<ellipse cx="93.8" cy="193.8"/>
<ellipse cx="93.9" cy="195"/>
<ellipse cx="94" cy="194.5"/>
<ellipse cx="94.7" cy="194.2"/>
<ellipse cx="95.1" cy="194.6"/>
<ellipse cx="95.3" cy="194.8"/>
<ellipse cx="95.9" cy="194.1"/>
<ellipse cx="96" cy="194.8"/>
<ellipse cx="96.5" cy="195"/>
<ellipse cx="96.5" cy="194.7"/>
<ellipse cx="97.1" cy="193.9"/>
<ellipse cx="97.3" cy="193.9"/>
<ellipse cx="98" cy="194.4"/>
<ellipse cx="98" cy="195.4"/>
<ellipse cx="98.4" cy="195.6"/>
<ellipse cx="99" cy="193.8"/>
<ellipse cx="99.1" cy="194.6"/>
<ellipse cx="99.8" cy="195.5"/>
<ellipse cx="100" cy="194.2"/>
<ellipse cx="100.1" cy="194.8"/>
<ellipse cx="100.3" cy="195.1"/>
<ellipse cx="100.7" cy="195.3"/>
<ellipse cx="101.1" cy="194.6"/>
<ellipse cx="101.4" cy="194.7"/>
<ellipse cx="102.2" cy="194.2"/>
<ellipse cx="102.4" cy="194.4"/>
<ellipse cx="102.5" cy="195"/>
<ellipse cx="102.9" cy="194.7"/>
<ellipse cx="103.1" cy="195.4"/>
<ellipse cx="103.8" cy="194.5"/>
<ellipse cx="104.2" cy="194.9"/>
<ellipse cx="104.3" cy="194.4"/>
<ellipse cx="104.7" cy="193.9"/>
<ellipse cx="105.3" cy="194.1"/>
<ellipse cx="105.5" cy="194.3"/>
<ellipse cx="105.5" cy="194"/>
<ellipse cx="106.3" cy="194.1"/>
<ellipse cx="106.3" cy="194"/>
<ellipse cx="106.9" cy="195.2"/>
<ellipse cx="107.3" cy="194.1"/>
<ellipse cx="107.6" cy="193.7"/>
<ellipse cx="108.2" cy="193.6"/>
<ellipse cx="108.3" cy="194.2"/>
<ellipse cx="108.8" cy="194.2"/>
<ellipse cx="108.9" cy="194.3"/>
<ellipse cx="109.1" cy="194.4"/>
<ellipse cx="109.8" cy="193.5"/>
<ellipse cx="110.1" cy="194.7"/>
<ellipse cx="110.1" cy="194.7"/>
<ellipse cx="110.8" cy="194.5"/>
<ellipse cx="110.9" cy="194.1"/>
<ellipse cx="111.2" cy="194.4"/>
<ellipse cx="111.9" cy="194.8"/>
<ellipse cx="112" cy="195.3"/>
<ellipse cx="112.2" cy="194.1"/>
<ellipse cx="112.9" cy="193.9"/>
<ellipse cx="113" cy="193.8"/>
<ellipse cx="113.8" cy="194.3"/>
<ellipse cx="113.8" cy="193.6"/>
<ellipse cx="114.2" cy="193.8"/>
<ellipse cx="114.7" cy="194.3"/>
<ellipse cx="114.8" cy="195.1"/>
<ellipse cx="115.4" cy="194.6"/>
<ellipse cx="115.8" cy="193.4"/>
<ellipse cx="116.1" cy="193.5"/>
<ellipse cx="116.3" cy="194.5"/>
<ellipse cx="116.6" cy="194.3"/>
<ellipse cx="117.2" cy="193.2"/>
<ellipse cx="117.3" cy="194.3"/>
<ellipse cx="117.6" cy="193.9"/>
<ellipse cx="118.3" cy="193.7"/>
<ellipse cx="118.7" cy="194.7"/>
<ellipse cx="119" cy="194.8"/>
<ellipse cx="119.3" cy="194"/>
<ellipse cx="119.4" cy="194.3"/>
<ellipse cx="119.6" cy="194.1"/>
<ellipse cx="120" cy="194.8"/>
<ellipse cx="120.5" cy="194.9"/>
<ellipse cx="120.6" cy="194.3"/>
<ellipse cx="121.4" cy="195"/>
<ellipse cx="121.4" cy="194.7"/>
<ellipse cx="122" cy="194.4"/>
<ellipse cx="122.3" cy="194.3"/>
<ellipse cx="122.6" cy="194.1"/>
<ellipse cx="123.2" cy="194.1"/>
<ellipse cx="123.3" cy="194.6"/>
<ellipse cx="123.5" cy="194"/>
<ellipse cx="123.9" cy="193.6"/>
<ellipse cx="124.4" cy="194.6"/>
<ellipse cx="124.9" cy="194.2"/>
<ellipse cx="125.1" cy="195"/>
<ellipse cx="125.6" cy="194.8"/>
<ellipse cx="125.8" cy="193.9"/>
<ellipse cx="126.2" cy="194.4"/>
<ellipse cx="126.2" cy="193.7"/>
<ellipse cx="126.9" cy="195.4"/>
<ellipse cx="127" cy="194"/>
<ellipse cx="127.7" cy="195.1"/>
<ellipse cx="128" cy="194.2"/>
<ellipse cx="128.3" cy="193.7"/>
<ellipse cx="128.4" cy="193.9"/>
<ellipse cx="129" cy="193.7"/>
<ellipse cx="129" cy="194.8"/>
<ellipse cx="129.4" cy="194.2"/>
<ellipse cx="129.8" cy="193.9"/>
<ellipse cx="130.6" cy="193.9"/>
<ellipse cx="130.6" cy="194.6"/>
<ellipse cx="131.1" cy="194.6"/>
<ellipse cx="131.2" cy="194.8"/>
<ellipse cx="131.6" cy="195.3"/>
<ellipse cx="131.8" cy="194.1"/>
<ellipse cx="132.4" cy="194.4"/>
<ellipse cx="132.5" cy="195"/>
<ellipse cx="133" cy="194.2"/>
<ellipse cx="133.3" cy="194.4"/>
<ellipse cx="133.5" cy="194.5"/>
<ellipse cx="134.2" cy="194.8"/>
<ellipse cx="134.7" cy="195"/>
<ellipse cx="135.1" cy="195.3"/>
<ellipse cx="135.3" cy="195.3"/>
<ellipse cx="135.5" cy="194.5"/>
<ellipse cx="136" cy="194.5"/>
<ellipse cx="136.1" cy="194.1"/>
<ellipse cx="136.3" cy="195.1"/>
<ellipse cx="136.9" cy="193.9"/>
<ellipse cx="137.6" cy="194.2"/>
<ellipse cx="137.9" cy="194.6"/>
<ellipse cx="138.1" cy="193.9"/>
<ellipse cx="138.2" cy="194.4"/>
<ellipse cx="138.9" cy="194.5"/>
<ellipse cx="139.2" cy="193.9"/>
<ellipse cx="139.4" cy="194.5"/>
<ellipse cx="139.5" cy="194"/>
<ellipse cx="139.9" cy="194.8"/>
<ellipse cx="140.6" cy="194.8"/>
<ellipse cx="140.9" cy="195.2"/>
<ellipse cx="141" cy="194.2"/>
<ellipse cx="141.3" cy="194.8"/>
<ellipse cx="142.1" cy="194.7"/>
<ellipse cx="142.1" cy="194.2"/>
<ellipse cx="142.7" cy="194.3"/>
<ellipse cx="142.8" cy="194.4"/>
<ellipse cx="143.1" cy="194.1"/>
<ellipse cx="143.3" cy="194.5"/>
<ellipse cx="143.8" cy="194.7"/>
<ellipse cx="144.2" cy="194"/>
<ellipse cx="144.9" cy="194.6"/>
<ellipse cx="145.1" cy="194.4"/>
<ellipse cx="145.1" cy="194.1"/>
<ellipse cx="146" cy="194.4"/>
<ellipse cx="146" cy="193.6"/>
<ellipse cx="146.7" cy="194.7"/>
<ellipse cx="146.8" cy="193.9"/>
<ellipse cx="147.2" cy="193.7"/>
<ellipse cx="147.5" cy="194.6"/>
<ellipse cx="147.6" cy="194.4"/>
<ellipse cx="148.2" cy="194.4"/>
<ellipse cx="148.7" cy="193.9"/>
<ellipse cx="148.9" cy="194.1"/>
<ellipse cx="149.4" cy="194.5"/>
<ellipse cx="149.5" cy="194.4"/>
<ellipse cx="149.6" cy="193.5"/>
<ellipse cx="150" cy="193.9"/>
<ellipse cx="150.4" cy="194.4"/>
<ellipse cx="150.7" cy="195.1"/>
<ellipse cx="151.2" cy="195"/>
<ellipse cx="151.4" cy="194.9"/>
<ellipse cx="151.8" cy="194.7"/>
<ellipse cx="152.5" cy="195.3"/>
<ellipse cx="152.6" cy="194.7"/>
<ellipse cx="153.2" cy="194.7"/>
<ellipse cx="153.3" cy="194.7"/>
<ellipse cx="153.7" cy="194.3"/>
<ellipse cx="154.1" cy="194.7"/>
<ellipse cx="154.4" cy="194.6"/>
<ellipse cx="154.9" cy="195.1"/>
<ellipse cx="154.9" cy="195"/>
<ellipse cx="155.6" cy="194.7"/>
<ellipse cx="155.8" cy="194.5"/>
<ellipse cx="156.3" cy="195.3"/>
<ellipse cx="156.6" cy="193.6"/>
<ellipse cx="157.1" cy="195"/>
<ellipse cx="157.5" cy="195.1"/>
<ellipse cx="157.6" cy="195"/>
<ellipse cx="157.8" cy="194.7"/>
<ellipse cx="158.3" cy="195.3"/>
<ellipse cx="158.8" cy="194.7"/>
<ellipse cx="159.2" cy="194.8"/>
<ellipse cx="159.4" cy="194.3"/>
<ellipse cx="159.5" cy="193.9"/>
<ellipse cx="160.1" cy="195.5"/>
<ellipse cx="160.5" cy="195.2"/>
<ellipse cx="160.5" cy="195.6"/>
<ellipse cx="161.1" cy="194.8"/>
<ellipse cx="161.5" cy="194.6"/>
<ellipse cx="161.8" cy="195.7"/>
<ellipse cx="161.9" cy="194.5"/>
<ellipse cx="162.5" cy="194.2"/>
<ellipse cx="163" cy="194"/>
<ellipse cx="163.3" cy="195.1"/>
<ellipse cx="163.4" cy="194.9"/>
<ellipse cx="163.7" cy="194.5"/>
<ellipse cx="164.4" cy="194.4"/>
<ellipse cx="164.8" cy="194.9"/>
<ellipse cx="164.9" cy="194.2"/>
<ellipse cx="165.1" cy="195.1"/>
<ellipse cx="165.8" cy="193.5"/>
<ellipse cx="165.8" cy="194.5"/>
<ellipse cx="166.1" cy="194.4"/>
<ellipse cx="166.9" cy="194.3"/>
<ellipse cx="167.3" cy="195.4"/>
<ellipse cx="167.4" cy="194.4"/>
<ellipse cx="167.7" cy="194.3"/>
<ellipse cx="168" cy="193.8"/>
<ellipse cx="168.7" cy="194.5"/>
<ellipse cx="169" cy="194.3"/>
<ellipse cx="169.2" cy="194.1"/>
<ellipse cx="169.5" cy="194.2"/>
<ellipse cx="169.7" cy="194.2"/>
<ellipse cx="170.3" cy="193.6"/>
<ellipse cx="170.6" cy="194.5"/>
<ellipse cx="171.1" cy="193.4"/>
<ellipse cx="171.4" cy="194.2"/>
<ellipse cx="171.5" cy="194.1"/>
<ellipse cx="172" cy="193.4"/>
<ellipse cx="172.1" cy="193.8"/>
<ellipse cx="172.7" cy="193.7"/>
<ellipse cx="173.1" cy="194.9"/>
<ellipse cx="173.3" cy="194.7"/>
<ellipse cx="173.6" cy="194"/>
<ellipse cx="173.8" cy="193.4"/>
<ellipse cx="174.5" cy="193.9"/>
<ellipse cx="174.5" cy="194.4"/>
<ellipse cx="175" cy="192.9"/>
<ellipse cx="175.5" cy="191"/>
<ellipse cx="175.9" cy="187.5"/>
<ellipse cx="176.1" cy="191.6"/>
<ellipse cx="176.3" cy="191.2"/>
<ellipse cx="176.6" cy="178"/>
<ellipse cx="176.7" cy="188.6"/>
<ellipse cx="177.1" cy="193.1"/>
<ellipse cx="177.6" cy="189.8"/>
<ellipse cx="178.1" cy="190.1"/>
<ellipse cx="178.3" cy="192.4"/>
<ellipse cx="178.5" cy="189.3"/>
<ellipse cx="179.2" cy="191.1"/>
<ellipse cx="179.2" cy="187.1"/>
<ellipse cx="179.8" cy="188.8"/>
<ellipse cx="180" cy="187.9"/>
<ellipse cx="180.5" cy="187.6"/>
<ellipse cx="180.5" cy="189"/>
<ellipse cx="180.9" cy="190.6"/>
<ellipse cx="181.3" cy="188.5"/>
<ellipse cx="181.5" cy="190.5"/>
<ellipse cx="182.2" cy="190.9"/>
<ellipse cx="182.6" cy="191.3"/>
<ellipse cx="182.6" cy="190.6"/>
<ellipse cx="183.2" cy="190.6"/>
<ellipse cx="183.4" cy="192.1"/>
<ellipse cx="183.8" cy="193.5"/>
<ellipse cx="184" cy="195.2"/>
<ellipse cx="184.8" cy="195.8"/>
<ellipse cx="184.8" cy="194.5"/>
<ellipse cx="185.2" cy="195.3"/>
<ellipse cx="185.8" cy="194.1"/>
<ellipse cx="185.9" cy="193.9"/>
<ellipse cx="186.5" cy="194.5"/>
<ellipse cx="186.8" cy="194.3"/>
<ellipse cx="187" cy="195.1"/>
<ellipse cx="187.4" cy="195"/>
<ellipse cx="187.8" cy="195.1"/>
<ellipse cx="188.2" cy="195.2"/>
<ellipse cx="188.4" cy="194.4"/>
<ellipse cx="188.7" cy="195.3"/>
<ellipse cx="188.9" cy="194.8"/>
<ellipse cx="189.5" cy="195.1"/>
<ellipse cx="189.9" cy="194.6"/>
<ellipse cx="190.3" cy="195.3"/>
<ellipse cx="190.6" cy="194.5"/>
<ellipse cx="190.8" cy="193.7"/>
<ellipse cx="191.4" cy="194.3"/>
<ellipse cx="191.6" cy="194.1"/>
<ellipse cx="192.1" cy="193.9"/>
<ellipse cx="192.1" cy="194.9"/>
<ellipse cx="192.4" cy="194.5"/>
<ellipse cx="192.9" cy="193.3"/>
<ellipse cx="193.4" cy="194.4"/>
<ellipse cx="193.5" cy="193.7"/>
<ellipse cx="194.2" cy="193.9"/>
<ellipse cx="194.5" cy="194.6"/>
<ellipse cx="194.5" cy="194.1"/>
<ellipse cx="194.8" cy="193.5"/>
<ellipse cx="195.5" cy="194.2"/>
<ellipse cx="195.6" cy="194.3"/>
<ellipse cx="196.4" cy="194.1"/>
<ellipse cx="196.4" cy="194.1"/>
<ellipse cx="196.9" cy="194.5"/>
<ellipse cx="197" cy="193.5"/>
<ellipse cx="197.7" cy="194.4"/>
<ellipse cx="197.8" cy="194"/>
<ellipse cx="198.2" cy="194"/>
<ellipse cx="198.6" cy="193.9"/>
<ellipse cx="198.8" cy="193.3"/>
<ellipse cx="199" cy="193.9"/>
<ellipse cx="199.7" cy="194"/>
<ellipse cx="200" cy="194.3"/>
<ellipse cx="200.2" cy="193.7"/>
<ellipse cx="200.4" cy="194.4"/>
<ellipse cx="201.1" cy="194.4"/>
<ellipse cx="201.6" cy="193.1"/>
<ellipse cx="201.6" cy="194.1"/>
<ellipse cx="201.8" cy="194.8"/>
<ellipse cx="202.3" cy="193"/>
<ellipse cx="202.9" cy="195.1"/>
<ellipse cx="203.2" cy="194.7"/>
<ellipse cx="203.6" cy="194.3"/>
<ellipse cx="203.7" cy="194.3"/>
<ellipse cx="204.4" cy="194.2"/>
<ellipse cx="204.4" cy="194.4"/>
<ellipse cx="205.1" cy="194.7"/>
<ellipse cx="205.1" cy="194.7"/>
<ellipse cx="205.5" cy="194.1"/>
<ellipse cx="206.2" cy="194.2"/>
<ellipse cx="206.5" cy="194.8"/>
<ellipse cx="206.8" cy="194.4"/>
<ellipse cx="206.9" cy="193.6"/>
<ellipse cx="207.2" cy="194.4"/>
<ellipse cx="207.5" cy="194.8"/>
<ellipse cx="208.3" cy="195.1"/>
<ellipse cx="208.3" cy="194.9"/>
<ellipse cx="208.8" cy="194.8"/>
<ellipse cx="209" cy="195.7"/>
<ellipse cx="209.3" cy="194.7"/>
<ellipse cx="209.6" cy="195.3"/>
<ellipse cx="209.9" cy="194.9"/>
<ellipse cx="210.5" cy="195.7"/>
<ellipse cx="210.6" cy="195.3"/>
<ellipse cx="211.2" cy="195.3"/>
<ellipse cx="211.5" cy="195"/>
<ellipse cx="211.8" cy="195.7"/>
<ellipse cx="212.5" cy="194.9"/>
<ellipse cx="212.7" cy="195"/>
<ellipse cx="213.1" cy="195.2"/>
<ellipse cx="213.2" cy="194.5"/>
<ellipse cx="213.5" cy="193.9"/>
<ellipse cx="214.2" cy="194.5"/>
<ellipse cx="214.4" cy="194.3"/>
<ellipse cx="214.5" cy="194.8"/>
<ellipse cx="215.2" cy="194.4"/>
<ellipse cx="215.6" cy="194"/>
<ellipse cx="215.9" cy="195"/>
<ellipse cx="216.1" cy="194.7"/>
<ellipse cx="216.5" cy="194.5"/>
<ellipse cx="216.8" cy="194.7"/>
<ellipse cx="217" cy="195"/>
<ellipse cx="217.5" cy="194"/>
<ellipse cx="217.7" cy="194.2"/>
<ellipse cx="218.1" cy="194.7"/>
<ellipse cx="218.3" cy="193.8"/>
<ellipse cx="218.6" cy="193.7"/>
<ellipse cx="218.9" cy="194"/>
<ellipse cx="219.7" cy="193.8"/>
<ellipse cx="219.8" cy="194.3"/>
<ellipse cx="220" cy="194.4"/>
<ellipse cx="220.6" cy="194.1"/>
<ellipse cx="221.1" cy="194"/>
<ellipse cx="221.3" cy="194.6"/>
<ellipse cx="221.5" cy="194.6"/>
<ellipse cx="221.9" cy="193.5"/>
<ellipse cx="222.5" cy="193.8"/>
<ellipse cx="222.9" cy="194.6"/>
<ellipse cx="223.3" cy="194.4"/>
<ellipse cx="223.3" cy="193.3"/>
<ellipse cx="223.5" cy="194.5"/>
<ellipse cx="224.3" cy="193.8"/>
<ellipse cx="224.3" cy="194.8"/>
<ellipse cx="224.7" cy="194.1"/>
<ellipse cx="225.3" cy="194.8"/>
<ellipse cx="225.6" cy="193.7"/>
<ellipse cx="225.9" cy="194"/>
<ellipse cx="226.1" cy="194.3"/>
<ellipse cx="226.4" cy="194.2"/>
<ellipse cx="227" cy="194"/>
<ellipse cx="227.4" cy="195"/>
<ellipse cx="227.4" cy="194.2"/>
<ellipse cx="227.8" cy="194.6"/>
<ellipse cx="228.5" cy="194.8"/>
<ellipse cx="228.5" cy="194.6"/>
<ellipse cx="228.7" cy="194.3"/>
<ellipse cx="229.6" cy="194.3"/>
<ellipse cx="229.6" cy="194.5"/>
<ellipse cx="229.9" cy="193.9"/>
<ellipse cx="230.3" cy="195.1"/>
<ellipse cx="231" cy="193.5"/>
<ellipse cx="231" cy="194"/>
<ellipse cx="231.4" cy="194.1"/>
<ellipse cx="231.5" cy="194.1"/>
<ellipse cx="232.4" cy="194.5"/>
<ellipse cx="232.7" cy="195"/>
<ellipse cx="232.7" cy="193.9"/>
<ellipse cx="233" cy="193.7"/>
<ellipse cx="233.3" cy="194.3"/>
<ellipse cx="234.1" cy="195.7"/>
<ellipse cx="234.5" cy="195.2"/>
<ellipse cx="234.9" cy="193.9"/>
<ellipse cx="235.1" cy="194.2"/>
<ellipse cx="235.6" cy="194.1"/>
<ellipse cx="235.6" cy="194.8"/>
<ellipse cx="236.1" cy="194.9"/>
<ellipse cx="236.2" cy="195.7"/>
<ellipse cx="236.8" cy="194.6"/>
<ellipse cx="237.1" cy="195.4"/>
<ellipse cx="237.2" cy="195"/>
<ellipse cx="237.7" cy="194.2"/>
<ellipse cx="238.2" cy="195.1"/>
<ellipse cx="238.6" cy="195.2"/>
<ellipse cx="238.9" cy="193.9"/>
<ellipse cx="239.1" cy="194.8"/>
<ellipse cx="239.3" cy="193.9"/>
<ellipse cx="240.1" cy="194.1"/>
<ellipse cx="240.4" cy="195.6"/>
<ellipse cx="240.5" cy="193.7"/>
<ellipse cx="240.7" cy="195"/>
<ellipse cx="241" cy="195.1"/>
<ellipse cx="241.4" cy="194.6"/>
<ellipse cx="241.7" cy="194.5"/>
<ellipse cx="242.1" cy="194.1"/>
<ellipse cx="242.4" cy="194.7"/>
<ellipse cx="242.9" cy="194.5"/>
<ellipse cx="243.3" cy="195.2"/>
<ellipse cx="243.7" cy="194"/>
<ellipse cx="244" cy="194.6"/>
<ellipse cx="244.1" cy="194.1"/>
<ellipse cx="244.7" cy="195"/>
<ellipse cx="245.2" cy="193.6"/>
<ellipse cx="245.4" cy="194"/>
<ellipse cx="246" cy="194"/>
<ellipse cx="246.2" cy="194.4"/>
<ellipse cx="246.3" cy="194.1"/>
<ellipse cx="247" cy="194"/>
<ellipse cx="247.1" cy="194"/>
<ellipse cx="247.4" cy="194.2"/>
<ellipse cx="248.1" cy="194.1"/>
<ellipse cx="248.2" cy="194.1"/>
<ellipse cx="248.6" cy="194.3"/>
<ellipse cx="248.7" cy="193.3"/>
<ellipse cx="249.4" cy="193.7"/>
<ellipse cx="249.5" cy="193.8"/>
<ellipse cx="250.2" cy="193.3"/>
<ellipse cx="250.4" cy="193.1"/>
<ellipse cx="250.8" cy="193.3"/>
<ellipse cx="251.1" cy="194.1"/>
<ellipse cx="251.3" cy="194.6"/>
<ellipse cx="251.7" cy="194.6"/>
<ellipse cx="252.3" cy="194.3"/>
<ellipse cx="252.6" cy="194.6"/>
<ellipse cx="252.7" cy="193.5"/>
<ellipse cx="253.2" cy="194.2"/>
<ellipse cx="253.2" cy="194.5"/>
<ellipse cx="253.8" cy="194.4"/>
<ellipse cx="254.2" cy="193.3"/>
<ellipse cx="254.5" cy="194.2"/>
<ellipse cx="254.7" cy="193.4"/>
<ellipse cx="255" cy="194"/>
<ellipse cx="255.8" cy="194.3"/>
<ellipse cx="255.9" cy="194.3"/>
<ellipse cx="256.4" cy="194.8"/>
<ellipse cx="256.5" cy="194.2"/>
<ellipse cx="257.2" cy="193.7"/>
<ellipse cx="257.4" cy="194.4"/>
<ellipse cx="257.7" cy="194.1"/>
<ellipse cx="258.2" cy="195.2"/>
<ellipse cx="258.3" cy="194.8"/>
<ellipse cx="258.8" cy="194.9"/>
<ellipse cx="259" cy="194.6"/>
<ellipse cx="259.6" cy="194.4"/>
<ellipse cx="259.8" cy="195.4"/>
<ellipse cx="260.1" cy="194.1"/>
<ellipse cx="260.3" cy="194.7"/>
<ellipse cx="260.9" cy="193.7"/>
<ellipse cx="260.9" cy="194.3"/>
<ellipse cx="261.7" cy="194.1"/>
<ellipse cx="261.8" cy="194.5"/>
<ellipse cx="262.3" cy="194.6"/>
<ellipse cx="262.6" cy="195.3"/>
<ellipse cx="262.7" cy="194.1"/>
<ellipse cx="263.3" cy="194.6"/>
<ellipse cx="263.4" cy="194.8"/>
<ellipse cx="264.1" cy="193.9"/>
<ellipse cx="264.2" cy="194.7"/>
<ellipse cx="264.6" cy="195.1"/>
<ellipse cx="264.9" cy="194.3"/>
<ellipse cx="265.2" cy="194.9"/>
<ellipse cx="265.8" cy="194"/>
<ellipse cx="266" cy="193.9"/>
<ellipse cx="266.7" cy="195.1"/>
<ellipse cx="266.7" cy="194.6"/>
<ellipse cx="266.9" cy="194.2"/>
<ellipse cx="267.6" cy="194.1"/>
<ellipse cx="267.7" cy="194.7"/>
<ellipse cx="268.2" cy="194.6"/>
<ellipse cx="268.7" cy="195.4"/>
<ellipse cx="269" cy="193.9"/>
<ellipse cx="269.2" cy="194.1"/>
<ellipse cx="269.4" cy="194.6"/>
<ellipse cx="269.7" cy="194.3"/>
<ellipse cx="270.2" cy="194.8"/>
<ellipse cx="270.9" cy="194.6"/>
<ellipse cx="271.1" cy="193.2"/>
<ellipse cx="271.1" cy="194.9"/>
<ellipse cx="271.8" cy="193.9"/>
<ellipse cx="271.9" cy="194.8"/>
<ellipse cx="272.1" cy="194.5"/>
<ellipse cx="273" cy="193.7"/>
<ellipse cx="273.2" cy="194.1"/>
<ellipse cx="273.5" cy="193.3"/>
<ellipse cx="274" cy="194"/>
<ellipse cx="274.2" cy="194"/>
<ellipse cx="274.3" cy="194.3"/>
<ellipse cx="274.8" cy="193.8"/>
<ellipse cx="275" cy="193.1"/>
<ellipse cx="275.6" cy="193.7"/>
<ellipse cx="275.7" cy="194.9"/>
<ellipse cx="276.3" cy="194.2"/>
<ellipse cx="276.7" cy="193.7"/>
<ellipse cx="276.7" cy="194.5"/>
<ellipse cx="277.3" cy="193.2"/>
<ellipse cx="277.8" cy="194.4"/>
<ellipse cx="277.8" cy="194.1"/>
<ellipse cx="278.5" cy="193.5"/>
<ellipse cx="278.9" cy="193.9"/>
<ellipse cx="279.2" cy="195.2"/>
<ellipse cx="279.5" cy="194.5"/>
<ellipse cx="279.6" cy="195.2"/>
<ellipse cx="279.9" cy="193.7"/>
<ellipse cx="280.2" cy="194.6"/>
<ellipse cx="280.8" cy="194.3"/>
<ellipse cx="280.9" cy="195"/>
<ellipse cx="281.6" cy="193.4"/>
<ellipse cx="281.7" cy="194.4"/>
<ellipse cx="282.1" cy="194"/>
<ellipse cx="282.5" cy="194.1"/>
<ellipse cx="282.7" cy="194.8"/>
<ellipse cx="283.1" cy="194.3"/>
<ellipse cx="283.3" cy="194.3"/>
<ellipse cx="284" cy="194.3"/>
<ellipse cx="284.2" cy="194.2"/>
<ellipse cx="284.5" cy="194.9"/>
<ellipse cx="284.7" cy="195.3"/>
<ellipse cx="285.6" cy="194.4"/>
<ellipse cx="286" cy="194"/>
<ellipse cx="286" cy="194.3"/>
<ellipse cx="286.3" cy="194.7"/>
<ellipse cx="286.5" cy="194.9"/>
<ellipse cx="286.8" cy="193.9"/>
<ellipse cx="287.3" cy="195.4"/>
<ellipse cx="287.9" cy="194.7"/>
<ellipse cx="288.3" cy="195.1"/>
<ellipse cx="288.7" cy="195.3"/>
<ellipse cx="288.7" cy="194.7"/>
<ellipse cx="288.9" cy="195.2"/>
<ellipse cx="289.3" cy="195.6"/>
<ellipse cx="290.1" cy="195.3"/>
<ellipse cx="290.5" cy="195.6"/>
<ellipse cx="290.8" cy="194.6"/>
<ellipse cx="291" cy="194.2"/>
<ellipse cx="291.1" cy="194.3"/>
<ellipse cx="291.4" cy="194.4"/>
<ellipse cx="291.9" cy="194.6"/>
<ellipse cx="292.3" cy="194.3"/>
<ellipse cx="292.9" cy="194.8"/>
<ellipse cx="293.2" cy="195.6"/>
<ellipse cx="293.4" cy="194.2"/>
<ellipse cx="293.5" cy="194.7"/>
<ellipse cx="294.1" cy="193.9"/>
<ellipse cx="294.4" cy="195.4"/>
<ellipse cx="294.8" cy="194.7"/>
<ellipse cx="295.4" cy="195.1"/>
<ellipse cx="295.4" cy="194.4"/>
<ellipse cx="295.9" cy="193.9"/>
<ellipse cx="296.1" cy="194"/>
<ellipse cx="296.4" cy="195.3"/>
<ellipse cx="296.9" cy="194.2"/>
<ellipse cx="297.2" cy="194.3"/>
<ellipse cx="297.6" cy="194.8"/>
<ellipse cx="298.1" cy="194.3"/>
<ellipse cx="298.2" cy="194.4"/>
<ellipse cx="298.4" cy="194.7"/>
<ellipse cx="298.9" cy="194.4"/>
<ellipse cx="299.2" cy="194"/>
<ellipse cx="299.8" cy="193.4"/>
<ellipse cx="299.8" cy="193.8"/>
<ellipse cx="300.7" cy="193.5"/>
<ellipse cx="300.9" cy="193.9"/>
<ellipse cx="301" cy="193.7"/>
<ellipse cx="301.7" cy="194.9"/>
<ellipse cx="302" cy="193.5"/>
<ellipse cx="302.1" cy="194.5"/>
<ellipse cx="302.7" cy="194.6"/>
<ellipse cx="303" cy="193.9"/>
<ellipse cx="303.3" cy="195.2"/>
<ellipse cx="303.3" cy="194.2"/>
<ellipse cx="303.6" cy="195.3"/>
<ellipse cx="304.1" cy="195.2"/>
<ellipse cx="304.5" cy="194.7"/>
<ellipse cx="304.8" cy="194.5"/>
<ellipse cx="305.4" cy="194.8"/>
<ellipse cx="305.6" cy="195.1"/>
<ellipse cx="305.9" cy="195"/>
<ellipse cx="306.3" cy="194.2"/>
<ellipse cx="306.7" cy="193.6"/>
<ellipse cx="306.8" cy="193.6"/>
<ellipse cx="307.2" cy="193.9"/>
<ellipse cx="307.7" cy="194"/>
<ellipse cx="308" cy="194.5"/>
<ellipse cx="308.5" cy="193.8"/>
<ellipse cx="308.9" cy="194.1"/>
<ellipse cx="308.9" cy="193.5"/>
<ellipse cx="309.2" cy="195"/>
<ellipse cx="310" cy="194.5"/>
<ellipse cx="310" cy="194.3"/>
<ellipse cx="310.5" cy="193.7"/>
<ellipse cx="311" cy="195.1"/>
<ellipse cx="311.2" cy="194.3"/>
<ellipse cx="311.7" cy="193.2"/>
<ellipse cx="311.8" cy="194.5"/>
<ellipse cx="312.2" cy="194.3"/>
<ellipse cx="312.6" cy="194.1"/>
<ellipse cx="313.2" cy="193.8"/>
<ellipse cx="313.4" cy="194.9"/>
<ellipse cx="313.5" cy="194.2"/>
<ellipse cx="313.8" cy="194.9"/>
<ellipse cx="314.4" cy="194.8"/>
<ellipse cx="314.8" cy="194.2"/>
<ellipse cx="315" cy="194.8"/>
<ellipse cx="315.2" cy="194.2"/>
<ellipse cx="315.5" cy="194.2"/>
<ellipse cx="316.2" cy="195.1"/>
<ellipse cx="316.2" cy="193.8"/>
<ellipse cx="316.9" cy="194.8"/>
<ellipse cx="317" cy="194.6"/>
<ellipse cx="317.6" cy="194.8"/>
<ellipse cx="318.1" cy="194.8"/>
<ellipse cx="318.3" cy="193.7"/>
<ellipse cx="318.5" cy="194.1"/>
<ellipse cx="319.2" cy="194.7"/>
<ellipse cx="319.2" cy="195"/>
<ellipse cx="319.5" cy="193.7"/>
<ellipse cx="320.2" cy="194.3"/>
<ellipse cx="320.4" cy="195.2"/>
<ellipse cx="320.8" cy="194.3"/>
<ellipse cx="320.9" cy="194.4"/>
<ellipse cx="321.1" cy="194.5"/>
<ellipse cx="321.8" cy="193.4"/>
<ellipse cx="322.1" cy="195.1"/>
<ellipse cx="322.4" cy="193.8"/>
<ellipse cx="323.1" cy="194.2"/>
<ellipse cx="323.3" cy="194.5"/>
<ellipse cx="323.8" cy="194"/>
<ellipse cx="323.8" cy="194.6"/>
<ellipse cx="324.1" cy="195"/>
<ellipse cx="324.7" cy="193.9"/>
<ellipse cx="324.7" cy="195"/>
<ellipse cx="325.4" cy="195.1"/>
<ellipse cx="325.7" cy="194"/>
<ellipse cx="325.8" cy="194.2"/>
<ellipse cx="326.4" cy="194.4"/>
<ellipse cx="326.8" cy="194.4"/>
<ellipse cx="326.9" cy="194.3"/>
<ellipse cx="327.6" cy="194.8"/>
<ellipse cx="327.8" cy="194.4"/>
<ellipse cx="327.9" cy="195.1"/>
<ellipse cx="328.6" cy="194.1"/>
<ellipse cx="328.7" cy="194.4"/>
<ellipse cx="329.2" cy="194.2"/>
<ellipse cx="329.3" cy="194.3"/>
<ellipse cx="329.8" cy="194.8"/>
<ellipse cx="330.2" cy="194.8"/>
<ellipse cx="330.6" cy="194.4"/>
<ellipse cx="330.8" cy="193.7"/>
<ellipse cx="330.9" cy="194.1"/>
<ellipse cx="331.5" cy="194.7"/>
<ellipse cx="332" cy="194.7"/>
<ellipse cx="332.2" cy="194.2"/>
<ellipse cx="332.7" cy="194"/>
<ellipse cx="332.9" cy="194.2"/>
<ellipse cx="333.1" cy="194.4"/>
<ellipse cx="333.6" cy="193.2"/>
<ellipse cx="334.2" cy="194.9"/>
<ellipse cx="334.3" cy="194.1"/>
<ellipse cx="334.5" cy="193.7"/>
<ellipse cx="335.2" cy="193.9"/>
<ellipse cx="335.4" cy="194.3"/>
<ellipse cx="336" cy="193.1"/>
<ellipse cx="336.3" cy="194.3"/>
<ellipse cx="336.7" cy="195"/>
<ellipse cx="336.7" cy="194.9"/>
<ellipse cx="337.4" cy="194.6"/>
<ellipse cx="337.6" cy="194.5"/>
<ellipse cx="337.7" cy="193.7"/>
</g>
<path d="M35.1 431 L35.3 431.1 L35.4 427.5 L35.9 428.4 L36.1 424.1 L36.1 427.6 L36.3 425.7 L36.4 424.8 L36.5 431 L36.9 431 L37.2 428.9 L37.2 430.6 L37.7 429.2 L37.8 426 L38.2 429.1 L38.3 430.2 L38.7 431.1 L38.7 421.4 L38.9 429.2 L38.9 431.4 L39.3 430.4 L39.7 430.8 L40 429.8 L40.3 430.4 L40.3 430.9 L40.4 428.2 L40.7 429.6 L41.2 425.4 L41.2 425.8 L41.4 428.4 L41.4 424.5 L42 424.5 L42.2 425.8 L42.4 425 L42.5 425.8 L42.7 428 L42.9 425.2 L43.4 431.2 L43.6 429.2 L43.7 423.6 L43.8 427.3 L43.8 426.3 L43.9 432 L44.4 424.7 L44.6 430.5 L44.9 430.3 L45.1 424.3 L45.5 431.4 L45.7 430.4 L45.8 427.2 L46 424.8 L46.2 429.3 L46.5 424.9 L46.6 427 L47 429.1 L47.1 426 L47.5 423.6 L47.6 429.2 L48 428.4 L48 425.3 L48.2 424.3 L48.3 427.8 L48.4 424.4 L48.8 430.5 L48.8 430 L49.1 430.7 L49.7 423.8 L49.8 426.4 L49.9 428.7 L50.2 427.5 L50.3 424.4 L50.6 422.9 L50.7 424.5 L51 429.4 L51.2 428.1 L51.4 426.1 L51.5 421.9 L51.8 428.4 L52.1 429.1 L52.1 423.1 L52.8 422.1 L52.8 423 L53.1 426.4 L53.2 423 L53.4 423.1 L53.8 421.3 L53.9 420.9 L54.2 423.9 L54.3 424.7 L54.6 426.2 L54.7 425.5 L54.9 422.1 L55.5 428.2 L55.7 423.2 L55.8 421.9 L55.9 428 L56 424.9 L56.1 427.8 L56.3 425.3 L57 420.3 L57 426.7 L57.2 425.9 L57.6 426 L57.7 426.8 L57.8 420.4 L58.1 421.2 L58.2 420.4 L58.3 423.6 L59.1 421.8 L59.1 426.7 L59.1 421.3 L59.4 423.3 L59.7 420.1 L59.9 420.5 L60.3 424.5 L60.5 423.3 L60.5 420.7 L60.7 424.6 L60.9 425.6 L61.5 426.7 L61.5 422.2 L61.5 422.4 L61.8 427.6 L62.1 425.3 L62.2 420.8 L62.2 424.8 L62.8 428.1 L62.8 424.1 L63 424.7 L63.4 424.6 L63.5 427.9 L63.5 426.2 L64.1 421.4 L64.3 422.6 L64.6 418.9 L64.8 423.6 L65.1 421.5 L65.1 425.5 L65.3 428.2 L65.3 420.1 L65.9 425.4 L66 422.3 L66.2 420.1 L66.4 421.3 L66.8 426.5 L66.9 418.8 L67 412.8 L67.3 415.7 L67.4 424.3 L67.7 416.9 L67.8 422.4 L68.3 426.3 L68.6 418.7 L68.6 417.8 L68.8 426.3 L69 426.6 L69.4 424.3 L69.6 422.6 L69.6 418.1 L70.1 417.9 L70.4 419.5 L70.5 421.3 L70.7 419 L70.9 414.6 L70.9 423.7 L71.4 419.4 L71.4 422.7 L71.8 416.7 L71.9 417.6 L72.2 424.2 L72.4 417.1 L72.6 409.2 L72.8 416 L73 406.4 L73.5 409.8 L73.5 408.5 L73.5 415.1 L73.8 417.5 L73.9 412.4 L74.4 420.4 L74.5 413.8 L74.7 412.9 L75 412.6 L75 417.3 L75.3 422.5 L75.7 414.8 L75.8 420.8 L76.1 412.3 L76.1 408.3 L76.8 414 L76.8 416.6 L76.8 410.8 L77.2 418.6 L77.3 418.5 L77.7 416.7 L77.8 416.6 L78 417.5 L78.2 413.5 L78.6 415.6 L78.6 408.6 L79 418.1 L79.1 420.2 L79.5 414.7 L79.6 418.3 L80.1 411 L80.2 407.5 L80.3 408.2 L80.3 412.1 L80.8 410.2 L81 415.3 L81.2 405.6 L81.6 419.1 L81.7 409 L81.8 413.1 L82.1 407.4 L82.2 413.9 L82.5 408.8 L82.6 408.1 L82.7 412 L83.1 414.5 L83.2 416.1 L83.9 419.2 L84 418.6 L84.2 410.5 L84.3 414 L84.5 414.1 L84.8 416.9 L84.9 409.5 L85.3 413.3 L85.4 410 L85.4 418.2 L86 405.2 L86.1 417.1 L86.4 416.3 L86.5 412.8 L86.6 413.7 L87.1 411.1 L87.3 402.6 L87.3 401.3 L87.6 415.6 L88 410.8 L88.2 401.3 L88.3 408.2 L88.5 412.4 L88.6 400.3 L88.9 407.2 L89 408.9 L89.1 406 L89.8 417.4 L89.8 402.6 L90 401.5 L90.2 398.9 L90.2 410.2 L90.7 405 L91 398.1 L91.1 411.8 L91.3 410.6 L91.7 402.7 L91.7 410.3 L91.7 410.6 L92.3 401.3 L92.4 394.2 L92.5 406.4 L92.7 407.8 L93.1 415.8 L93.1 415.8 L93.4 413.8 L93.6 397 L93.8 408.3 L94.2 411.6 L94.3 406.6 L94.6 408.1 L94.7 395.2 L95 396.8 L95.3 404.1 L95.7 404.2 L95.7 401.4 L95.9 408.2 L96.2 400.1 L96.3 398.8 L96.7 404.4 L96.8 395.3 L96.9 403.7 L97 403.4 L97.4 401 L97.7 400.6 L97.9 396.8 L98 410.5 L98.6 398.7 L98.7 397.9 L98.7 394.6 L98.8 392.2 L99.1 410.9 L99.5 404.4 L99.7 409.3 L99.9 399.3 L100 405.5 L100.4 394.8 L100.6 403.9 L100.7 409.4 L101 407.3 L101.3 402 L101.5 409.6 L101.9 406.5 L101.9 409.9 L102.1 407.1 L102.2 400.1 L102.3 399.1 L102.9 400.6 L102.9 400.9 L103.3 403.2 L103.4 409.2 L103.5 403 L104 396.7 L104.1 394.1 L104.5 390.7 L104.5 410.2 L104.7 400.2 L104.8 402.5 L105.2 394.9 L105.4 403.4 L105.5 397.8 L105.6 394.2 L105.9 403.1 L106.3 411.5 L106.5 412.5 L106.9 400.2 L106.9 393.7 L107.3 411.6 L107.4 400.7 L107.4 393.7 L108.1 397.6 L108.3 404.3 L108.5 405.1 L108.5 412.7 L108.7 396.8 L108.7 401 L109.3 403.2 L109.3 405.5 L109.6 404.2 L109.7 392.9 L110.2 412.6 L110.2 399.6 L110.4 404.6 L110.4 394.2 L110.8 400.7 L111 396.6 L111.3 406 L111.6 410 L111.6 395.9 L112.2 400.4 L112.2 394.6 L112.4 394.3 L112.9 404.5 L113 393.2 L113.3 397.8 L113.3 391.8 L113.4 388.7 L113.9 407.6 L114.2 407.4 L114.2 392.5 L114.4 404.1 L114.5 391.1 L114.8 398.3 L115.1 396 L115.4 391.8 L115.5 405.7 L115.6 409.5 L116.2 391 L116.2 395.4 L116.4 398.3 L116.8 406.9 L117.1 386.2 L117.1 392.4 L117.3 408.4 L117.7 394.6 L117.9 400.5 L118 391 L118.2 383.1 L118.6 397.2 L118.7 391.9 L118.8 406.8 L119 406.7 L119.4 397.9 L119.6 385.7 L119.7 392.9 L119.9 393.9 L120.1 393.2 L120.2 407.7 L120.5 396.7 L120.7 398.6 L120.8 385.5 L121 398.2 L121.4 393.3 L121.6 402.6 L121.9 401.2 L122.1 390.3 L122.3 384.2 L122.7 407.5 L122.8 392.3 L123.2 379.8 L123.2 394.8 L123.4 397 L123.9 408.3 L124.2 396.8 L124.2 382.3 L124.3 401.7 L124.5 383.5 L124.8 394.6 L124.8 391.5 L125.3 391.3 L125.4 392 L125.6 380.9 L125.8 395.8 L126.1 408.4 L126.1 406.2 L126.3 395.7 L126.9 402.8 L127 394.2 L127 385.7 L127.4 406.8 L127.6 386.1 L127.7 389.7 L127.9 386.3 L128.1 403.1 L128.3 385.2 L128.8 392.2 L128.8 381.9 L129 382.1 L129.5 391.6 L129.6 392.2 L129.6 385.3 L130.1 384.9 L130.2 401 L130.3 404.3 L130.5 391.7 L130.9 394 L131.2 391.7 L131.4 407.5 L131.6 385.5 L132.1 403 L132.1 390.1 L132.5 394.5 L132.7 398.9 L132.8 397.9 L133 388 L133 390.7 L133.1 395.6 L133.3 384.5 L133.9 380.2 L134.1 407.6 L134.4 400.7 L134.5 393.1 L134.5 401 L135.1 410.2 L135.1 381.6 L135.1 388.1 L135.3 393.3 L135.5 407.6 L135.9 409.2 L136.2 383.8 L136.3 397.8 L136.5 381.8 L136.9 395.5 L137.1 392.7 L137.3 405.8 L137.7 389.5 L137.9 408.3 L138.1 404.9 L138.2 391.1 L138.4 406.5 L138.7 379.3 L139.1 402.9 L139.2 399.7 L139.3 406.9 L139.5 402.5 L139.7 408.7 L139.8 380.6 L140.3 394.1 L140.3 401.2 L140.6 406.8 L140.8 392.4 L141.1 410.1 L141.1 387 L141.5 386.4 L141.8 398.1 L142.1 384.8 L142.2 384.9 L142.4 410.5 L142.8 404.4 L142.8 397.9 L142.8 383.9 L143.3 380.1 L143.4 387.7 L143.6 386.4 L144.1 408.7 L144.4 392.5 L144.5 410.7 L144.7 403.3 L144.7 392.6 L144.9 397.7 L145.2 393.9 L145.3 404.9 L145.7 395 L146 384.7 L146.2 404.4 L146.3 391.2 L146.4 402 L146.8 403.4 L147.1 402 L147.2 383.9 L147.3 411.7 L147.5 386.5 L147.9 408.9 L148.2 400.9 L148.5 412 L148.7 392.1 L148.8 387 L149 407.4 L149.4 387.7 L149.6 393 L149.7 390 L149.8 408.6 L150.2 389.9 L150.5 407 L150.7 389.8 L150.7 390.9 L151 408.1 L151.1 402.7 L151.3 394.8 L151.7 399.4 L152 388.2 L152.1 391.6 L152.5 403.7 L152.5 408.4 L152.6 410 L153.1 384.7 L153.3 393.3 L153.4 403.9 L153.7 407.1 L153.7 407.4 L154 405 L154.1 401.7 L154.4 412.3 L154.7 396.6 L154.8 398.8 L155.3 405.5 L155.5 410.3 L155.6 395.3 L155.6 386.3 L156 406.3 L156.1 401.9 L156.4 411.5 L156.7 406.5 L156.9 396.8 L157.3 393.4 L157.4 399.4 L157.4 405.7 L157.6 391.5 L157.8 386.8 L158.1 397 L158.6 403.8 L158.6 397.2 L158.7 397.4 L159.3 403 L159.3 409.8 L159.5 400 L159.9 398.7 L160.1 393.1 L160.3 397.8 L160.5 411.4 L160.6 393.3 L160.9 390.6 L161 397.7 L161.6 392.1 L161.6 397.7 L161.8 396 L161.9 402.7 L161.9 400.4 L162.5 402.9 L162.7 391 L162.8 395 L162.9 411.2 L163.5 390.7 L163.5 398.3 L163.6 390.4 L163.6 392 L164.3 410.5 L164.3 405.6 L164.7 404.6 L164.8 412.5 L165.3 392.5 L165.4 410.3 L165.5 411 L165.6 405.3 L165.9 392.2 L166.2 407.8 L166.3 399.7 L166.5 396.5 L166.8 401.2 L167 404.3 L167 390.4 L167.6 395.2 L167.7 386.5 L167.8 388.2 L168.1 391.5 L168.4 399.6 L168.5 394.2 L168.7 397.1 L168.9 403 L168.9 389.9 L169.1 396.4 L169.4 400.3 L169.7 404.9 L170.1 398.6 L170.3 391 L170.6 397.2 L170.6 390.2 L170.8 413.1 L170.9 410.9 L171.1 397.5 L171.4 406.6 L171.8 398.6 L171.9 396.8 L172.3 403 L172.6 407.3 L172.7 402.8 L173 399.7 L173.1 392.7 L173.2 408.1 L173.6 409.6 L173.8 400.1 L174.1 404.5 L174.2 388.1 L174.6 412 L174.6 400.4 L174.6 409.4 L175.1 395.8 L175.5 412.8 L175.6 393.2 L175.6 396.8 L176 412.7 L176.3 393.1 L176.4 404.7 L176.6 400.6 L177.1 403.8 L177.2 405 L177.4 407.4 L177.5 399.1 L177.8 391.8 L178 410.8 L178.2 399.1 L178.5 404.3 L178.6 412.8 L178.6 413.8 L178.9 398 L179.5 404.1 L179.5 410.1 L180 415.2 L180 413.8 L180.1 418 L180.6 403.7 L180.6 407.1 L180.9 412.9 L180.9 403.2 L181.5 416.8 L181.6 413.2 L181.7 406.7 L181.9 412.8 L182 417 L182.3 413.5 L182.4 408.7 L182.7 416.2 L183 423.2 L183.5 422.6 L183.5 411 L183.8 418.7 L183.9 406.5 L184.2 422.6 L184.5 422 L184.8 422.7 L184.9 416.4 L185 411.2 L185.3 411.3 L185.6 406.5 L185.8 416.9 L185.9 420.7 L186.2 406.1 L186.3 424 L186.4 413.6 L186.6 418.1 L187.2 422.1 L187.2 420.8 L187.2 406.9 L187.6 407 L187.7 411.2 L188.3 408.8 L188.4 424.4 L188.6 415.3 L188.9 419.4 L189 418.1 L189.3 416.5 L189.5 406.5 L189.7 405.8 L189.8 419.8 L190 413 L190.3 420.7 L190.7 406.8 L190.8 409.6 L191.1 414 L191.2 407.4 L191.2 424.2 L191.6 422.1 L191.9 421.4 L192.1 407.5 L192.2 423.8 L192.5 416.7 L192.6 414.5 L192.8 420.7 L193.2 411.7 L193.2 412.3 L193.6 410.2 L193.7 410.6 L194 423.5 L194.4 414.2 L194.5 403.6 L194.6 411.7 L194.7 408.4 L195.2 418.3 L195.6 411.7 L195.7 420.6 L195.9 410 L196.2 407.4 L196.4 412.2 L196.7 407.2 L196.8 420.1 L196.8 412.7 L197 417 L197.3 407.9 L197.5 411.7 L197.7 403.6 L198.1 412.7 L198.2 411.1 L198.3 414.2 L198.7 418.1 L198.9 402.7 L199.1 411.8 L199.4 415.2 L199.5 415 L199.6 411 L200.1 416.7 L200.4 417.3 L200.4 404.2 L200.5 421.2 L200.8 411.7 L201.1 418.6 L201.3 420.9 L201.5 411.4 L201.8 410.2 L201.9 416.3 L202 419 L202.5 409 L202.6 417.2 L202.8 420 L202.8 420.5 L203.1 412.1 L203.5 410.8 L203.6 416.9 L203.7 418.2 L204.1 412.5 L204.4 424.8 L204.5 423.5 L204.9 423.6 L204.9 410.7 L205.1 425 L205.5 416.9 L205.6 412.1 L206 424.5 L206.1 416.9 L206.2 423.3 L206.4 419.5 L206.9 408.9 L207 419.8 L207.2 410 L207.4 412.9 L207.5 410 L208.2 415.1 L208.2 423.3 L208.3 416.8 L208.7 424.4 L208.8 422.9 L209.1 415.7 L209.2 417.8 L209.3 419.3 L209.9 419.3 L210 398 L210.2 416.8 L210.3 421.9 L210.6 414.5 L210.7 404.4 L211 415 L211.1 412.1 L211.4 423.3 L211.5 413.8 L211.6 418.1 L212 414.8 L212 421.9 L212.6 424.2 L212.7 412.8 L212.7 421.4 L212.9 417.9 L213.2 417.6 L213.3 415.6 L213.8 415.7 L213.9 415.1 L214.2 420.9 L214.6 424.1 L214.6 417.3 L214.9 418.1 L215.2 423.9 L215.3 416.5 L215.4 421.5 L215.6 415.8 L216 413.8 L216.1 413.7 L216.3 423.6 L216.5 420.7 L216.6 418.9 L217.2 424.2 L217.3 415.3 L217.5 424.8 L217.8 415.1 L218.1 409.9 L218.1 417.8 L218.2 417.3 L218.7 416.3 L218.8 414.6 L218.9 414.7 L219.1 419.6 L219.4 424.7 L219.5 419.2 L219.7 412.9 L220.1 421.3 L220.2 418.1 L220.4 423.6 L220.6 419.7 L221.1 413.7 L221.4 415.3 L221.4 425.2 L221.6 421.7 L221.8 423.5 L222.1 418.8 L222.1 420.6 L222.1 417.4 L222.9 419.6 L222.9 419.2 L223.1 425.2 L223.1 414.9 L223.5 423.8 L223.7 417.1 L223.9 411 L224.1 416.6 L224.6 419.9 L224.8 416.9 L224.9 413 L225 426.1 L225.2 413.8 L225.4 416.5 L225.5 415.7 L226 422.9 L226.2 424.4 L226.2 408.6 L226.5 421.5 L226.7 420.4 L226.8 421.4 L227.2 426.3 L227.5 422.4 L227.8 420.3 L227.8 426.3 L228.3 416.2 L228.4 419.1 L228.8 417.3 L228.9 423.4 L229.1 416.8 L229.3 420 L229.3 414.5 L229.9 423.8 L230 413.7 L230.2 420 L230.3 418.6 L230.4 420.6 L230.9 419.2 L231.1 421.1 L231.2 422.6 L231.4 415.7 L231.9 422.5 L232.1 413.6 L232.3 424.3 L232.3 419.6 L232.4 412.5 L232.6 419.9 L233 407.4 L233.3 421 L233.4 412.5 L233.4 424.2 L233.9 414.2 L234.1 420.9 L234.2 410.4 L234.4 417.5 L234.9 421.8 L234.9 415.1 L235.1 421.5 L235.4 423.7 L235.6 412.4 L235.9 416.8 L235.9 410.3 L236.4 421.6 L236.5 420 L236.7 419.7 L236.9 420.4 L237.2 424.8 L237.5 420.3 L237.7 418.1 L237.7 421.4 L238 421.9 L238.1 422.7 L238.6 424.1 L238.7 417.1 L238.9 424.3 L239.3 421.7 L239.4 420.9 L239.4 414.7 L239.8 414.3 L239.9 425 L240.1 409.4 L240.7 415.3 L240.8 414.6 L240.8 415.4 L241.4 414 L241.4 414.7 L241.6 418 L241.6 424 L242.1 405.9 L242.4 416.4 L242.5 415 L242.7 412.8 L243 417.5 L243 421.6 L243.1 414.7 L243.4 414.2 L243.8 427 L243.9 424.7 L244.3 414.3 L244.3 423.5 L244.7 424.2 L244.8 425.9 L245.1 418.6 L245.3 410 L245.6 416.4 L245.9 423.9 L246 427.5 L246.3 422.3 L246.6 419.8 L246.7 417.9 L246.7 415.7 L246.9 410.9 L247.6 419.7 L247.6 417 L247.9 421.7 L247.9 427.3 L248.2 418.3 L248.4 417.5 L248.7 426.5 L248.8 415.2 L249.1 420.7 L249.3 419.8 L249.5 422.1 L249.7 411.4 L250 401 L250.1 408 L250.3 422.9 L250.4 418.1 L250.5 417.2 L250.9 414.7 L251 425.7 L251.1 412.8 L251.3 425.8 L251.6 420.7 L251.8 422.4 L252.1 416.3 L252.3 421.8 L252.3 406.5 L252.7 417.3 L253.1 416.9 L253.5 416.3 L253.5 414.9 L253.8 423 L254.2 423.4 L254.4 417.2 L254.4 423 L254.8 423.6 L254.9 420.1 L255.1 414.9 L255.1 425 L255.5 425.6 L255.5 424.2 L256.2 418.3 L256.2 417.7 L256.4 425.1 L256.7 424.7 L256.8 419.3 L257.2 412.3 L257.4 414.8 L257.6 423 L257.7 424.3 L257.9 412.2 L258 417 L258.3 418.9 L258.4 414.3 L258.7 418.2 L259 402.8 L259.2 411.7 L259.3 424 L259.6 419.1 L259.9 413.5 L260.1 416.1 L260.3 412.4 L260.5 414.4 L260.6 412.3 L261 411 L261.2 408.8 L261.3 421 L261.4 417.4 L262 424.7 L262.1 412 L262.3 414.3 L262.5 424.6 L262.6 422 L262.8 420.8 L263.1 408.7 L263.3 413.8 L263.7 424.7 L264 410.8 L264 414.2 L264.2 422 L264.4 414.1 L264.5 410.4 L265.1 417.8 L265.2 411 L265.2 421.1 L265.6 423.9 L265.6 410.4 L265.9 424.7 L266.2 419.9 L266.3 405.3 L266.7 406.5 L266.8 415.3 L267.2 413 L267.4 420.8 L267.5 421.6 L267.6 423.2 L267.8 410.7 L268.2 420.7 L268.4 417.1 L268.4 410.2 L268.7 415.7 L269 416.5 L269.3 420.2 L269.5 411.5 L269.7 415.6 L269.9 408.4 L270.1 412.3 L270.1 421.6 L270.9 414 L271 414.1 L271.2 412.6 L271.4 415.1 L271.7 420.9 L272 415.8 L272.1 412.5 L272.1 415.8 L272.5 413.9 L272.5 417.4 L272.6 421.7 L273 421.3 L273.5 421.2 L273.6 414.2 L273.7 416.2 L274.1 420.3 L274.1 418.2 L274.3 418.1 L274.7 415.5 L274.8 412.7 L275 409.6 L275.3 420.8 L275.7 407.5 L275.8 419.1 L275.8 409.7 L276.1 408.4 L276.3 416.6 L276.7 418.6 L277 420.3 L277 423.8 L277.4 419.3 L277.5 419.1 L277.8 419.4 L277.9 415.8 L278 422 L278.4 418.6 L278.4 409.4 L278.5 409.2 L279 415.5 L279.2 410.2 L279.4 406.2 L279.7 422.7 L279.8 413.6 L280.3 405.6 L280.3 420.6 L280.5 423.4 L280.5 420.2 L280.9 413 L281.3 417.3 L281.6 421.5 L281.7 421.3 L281.7 423.1 L281.8 422.6 L282.1 423.4 L282.5 413.1 L282.6 424.6 L283 411.3 L283.2 408.3 L283.3 422.8 L283.5 424.7 L283.8 422 L283.9 415.8 L284.1 422.6 L284.3 419.8 L284.5 417 L284.7 424 L285.1 424.8 L285.1 416.7 L285.6 415.6 L285.7 412.5 L285.8 415.9 L286.1 423.3 L286.7 415.3 L286.7 411.6 L286.9 424.8 L287.3 422.9 L287.4 425 L287.7 414.3 L288 421.7 L288.2 422.1 L288.4 410.6 L288.5 417.6 L288.7 421.9 L288.7 421.9 L288.9 417.7 L289.5 412.4 L289.5 411.4 L289.7 421.7 L289.7 424.3 L290.2 416.4 L290.3 411.1 L290.5 420.7 L290.7 420.9 L291 412.9 L291.3 416.1 L291.6 416.4 L291.6 422.1 L291.7 412.1 L292 401 L292.2 415.3 L292.3 416.2 L292.4 421 L292.9 411.3 L292.9 410.8 L293 413.1 L293.3 415.3 L293.7 415.2 L293.8 410.6 L294 416.8 L294.6 415.2 L294.6 410.7 L294.6 410.7 L294.9 419.9 L295.4 415.4 L295.5 409.9 L296 421.8 L296 407.3 L296 399 L296.1 413 L296.2 422.8 L296.6 409.7 L296.8 417.9 L296.8 410.5 L297 421.7 L297.6 418 L297.6 416.9 L297.7 419.5 L298 411.2 L298.3 417.4 L298.4 418.8 L298.6 421.5 L298.9 413.1 L299.1 413.9 L299.5 418.3 L299.7 413.7 L299.7 422.3 L300.3 416.2 L300.3 410.9 L300.4 414.8 L300.8 401.2 L301 420.7 L301.2 421.8 L301.2 411.9 L301.5 418.7 L301.6 411 L302.2 415.4 L302.3 412.8 L302.6 418.5 L302.8 417.2 L303.1 407.8 L303.3 405.8 L303.5 421.1 L303.7 406.7 L303.8 420.9 L303.9 414.4 L304.1 414.5 L304.5 418.6 L304.7 417.1 L304.9 417.2 L305.1 413.6 L305.3 407.6 L305.5 424.3 L305.8 411.1 L306 424.3 L306.3 417.3 L306.5 412.7 L306.6 410.8 L307 412 L307.1 419.3 L307.2 407.1 L307.5 415.4 L307.7 422.6 L308.1 419.6 L308.3 420.6 L308.5 423.1 L308.6 420.8 L308.8 409.2 L309.2 420.2 L309.2 415.4 L309.6 423 L309.7 423.1 L310.1 413.3 L310.1 417.3 L310.4 418.1 L310.8 416.8 L310.9 414.2 L311 410.3 L311.2 423.4 L311.6 422.4 L311.7 420.5 L312.1 406.1 L312.4 414.6 L312.4 423.5 L312.9 419 L312.9 416.6 L313.1 424 L313.2 412.6 L313.3 403.4 L313.9 424.5 L314.1 410.6 L314.3 423.7 L314.4 414.2 L314.9 417.2 L314.9 418.1 L315.2 418.3 L315.2 420.9 L315.6 424.1 L315.7 415.7 L316.1 421.7 L316.2 413.8 L316.2 413.8 L316.3 422.7 L316.9 423 L317.1 420.8 L317.2 416.7 L317.3 415.3 L317.7 415.1 L318 413.4 L318.2 420.6 L318.2 421 L318.8 423.1 L318.9 415.1 L319 416.7 L319 422.1 L319.4 412.5 L319.7 413.9 L319.8 412.3 L320.2 422.8 L320.3 418.2 L320.5 420.7 L320.8 413.3 L320.9 420.7 L321 414.9 L321.3 407.7 L321.8 416.1 L321.8 416.5 L321.8 422 L322.1 409.6 L322.3 420.5 L322.9 412.5 L323 423.9 L323.3 423.3 L323.5 423.4 L323.5 417.8 L323.8 417.3 L324.1 412.5 L324.5 417.7 L324.5 415.9 L324.7 419.4 L324.9 414.5 L325.4 420.3 L325.4 416 L325.6 422.5 L325.6 414.5 L325.9 414 L326.2 420.7 L326.6 417.8 L326.7 421.5 L327 418.8 L327.4 424.3 L327.5 414.6 L327.6 412.9 L327.8 415.1 L328.3 406.4 L328.4 413.7 L328.5 412.6 L328.6 421.7 L328.8 420 L329.4 412.8 L329.4 414.9 L329.7 410.8 L329.7 411.8 L330 419.1 L330.3 414.6 L330.5 415.4 L330.8 422.7 L330.9 418.3 L331 418 L331.5 412.7 L331.5 415.3 L331.7 411.3 L332 417 L332.5 421 L332.6 417.3 L332.7 420.5 L332.9 414.9 L333.1 422.4 L333.1 417.1 L333.8 411.8 L333.9 420 L334 422.3 L334 419.9 L334.4 413.4 L334.6 419 L334.7 411.3 L334.9 410.8 L335.5 422.1 L335.5 412.6 L335.8 410.8 L335.9 404.3 L336.3 421.5 L336.3 418.5 L336.7 412.5 L336.8 418.3" fill="none" stroke="#d4d4d4" stroke-width="0.6"/>
<g class="pb" fill="#cbcbcb" stroke="#bebebe" stroke-width="0.5">
<ellipse cx="35.1" cy="431"/>
<ellipse cx="35.3" cy="431.1"/>
<ellipse cx="35.4" cy="427.5"/>
<ellipse cx="35.9" cy="428.4"/>
<ellipse cx="36.1" cy="424.1"/>
<ellipse cx="36.1" cy="427.6"/>
<ellipse cx="36.3" cy="425.7"/>
<ellipse cx="36.4" cy="424.8"/>
<ellipse cx="36.5" cy="431"/>
<ellipse cx="36.9" cy="431"/>
<ellipse cx="37.2" cy="428.9"/>
<ellipse cx="37.2" cy="430.6"/>
<ellipse cx="37.7" cy="429.2"/>
<ellipse cx="37.8" cy="426"/>
<ellipse cx="38.2" cy="429.1"/>
<ellipse cx="38.3" cy="430.2"/>
<ellipse cx="38.7" cy="431.1"/>
<ellipse cx="38.7" cy="421.4"/>
<ellipse cx="38.9" cy="429.2"/>
<ellipse cx="38.9" cy="431.4"/>
<ellipse cx="39.3" cy="430.4"/>
<ellipse cx="39.7" cy="430.8"/>
<ellipse cx="40" cy="429.8"/>
<ellipse cx="40.3" cy="430.4"/>
<ellipse cx="40.3" cy="430.9"/>
<ellipse cx="40.4" cy="428.2"/>
<ellipse cx="40.7" cy="429.6"/>
<ellipse cx="41.2" cy="425.4"/>
<ellipse cx="41.2" cy="425.8"/>
<ellipse cx="41.4" cy="428.4"/>
<ellipse cx="41.4" cy="424.5"/>
<ellipse cx="42" cy="424.5"/>
<ellipse cx="42.2" cy="425.8"/>
<ellipse cx="42.4" cy="425"/>
<ellipse cx="42.5" cy="425.8"/>
<ellipse cx="42.7" cy="428"/>
<ellipse cx="42.9" cy="425.2"/>
<ellipse cx="43.4" cy="431.2"/>
<ellipse cx="43.6" cy="429.2"/>
<ellipse cx="43.7" cy="423.6"/>
<ellipse cx="43.8" cy="427.3"/>
<ellipse cx="43.8" cy="426.3"/>
<ellipse cx="43.9" cy="432"/>
<ellipse cx="44.4" cy="424.7"/>
<ellipse cx="44.6" cy="430.5"/>
<ellipse cx="44.9" cy="430.3"/>
<ellipse cx="45.1" cy="424.3"/>
<ellipse cx="45.5" cy="431.4"/>
<ellipse cx="45.7" cy="430.4"/>
<ellipse cx="45.8" cy="427.2"/>
<ellipse cx="46" cy="424.8"/>
<ellipse cx="46.2" cy="429.3"/>
<ellipse cx="46.5" cy="424.9"/>
<ellipse cx="46.6" cy="427"/>
<ellipse cx="47" cy="429.1"/>
<ellipse cx="47.1" cy="426"/>
<ellipse cx="47.5" cy="423.6"/>
<ellipse cx="47.6" cy="429.2"/>
<ellipse cx="48" cy="428.4"/>
<ellipse cx="48" cy="425.3"/>
<ellipse cx="48.2" cy="424.3"/>
<ellipse cx="48.3" cy="427.8"/>
<ellipse cx="48.4" cy="424.4"/>
<ellipse cx="48.8" cy="430.5"/>
<ellipse cx="48.8" cy="430"/>
<ellipse cx="49.1" cy="430.7"/>
<ellipse cx="49.7" cy="423.8"/>
<ellipse cx="49.8" cy="426.4"/>
<ellipse cx="49.9" cy="428.7"/>
<ellipse cx="50.2" cy="427.5"/>
<ellipse cx="50.3" cy="424.4"/>
<ellipse cx="50.6" cy="422.9"/>
<ellipse cx="50.7" cy="424.5"/>
<ellipse cx="51" cy="429.4"/>
<ellipse cx="51.2" cy="428.1"/>
<ellipse cx="51.4" cy="426.1"/>
<ellipse cx="51.5" cy="421.9"/>
<ellipse cx="51.8" cy="428.4"/>
<ellipse cx="52.1" cy="429.1"/>
<ellipse cx="52.1" cy="423.1"/>
<ellipse cx="52.8" cy="422.1"/>
<ellipse cx="52.8" cy="423"/>
<ellipse cx="53.1" cy="426.4"/>
<ellipse cx="53.2" cy="423"/>
<ellipse cx="53.4" cy="423.1"/>
<ellipse cx="53.8" cy="421.3"/>
<ellipse cx="53.9" cy="420.9"/>
<ellipse cx="54.2" cy="423.9"/>
<ellipse cx="54.3" cy="424.7"/>
<ellipse cx="54.6" cy="426.2"/>
<ellipse cx="54.7" cy="425.5"/>
<ellipse cx="54.9" cy="422.1"/>
<ellipse cx="55.5" cy="428.2"/>
<ellipse cx="55.7" cy="423.2"/>
<ellipse cx="55.8" cy="421.9"/>
<ellipse cx="55.9" cy="428"/>
<ellipse cx="56" cy="424.9"/>
<ellipse cx="56.1" cy="427.8"/>
<ellipse cx="56.3" cy="425.3"/>
<ellipse cx="57" cy="420.3"/>
<ellipse cx="57" cy="426.7"/>
<ellipse cx="57.2" cy="425.9"/>
<ellipse cx="57.6" cy="426"/>
<ellipse cx="57.7" cy="426.8"/>
<ellipse cx="57.8" cy="420.4"/>
<ellipse cx="58.1" cy="421.2"/>
<ellipse cx="58.2" cy="420.4"/>
<ellipse cx="58.3" cy="423.6"/>
<ellipse cx="59.1" cy="421.8"/>
<ellipse cx="59.1" cy="426.7"/>
<ellipse cx="59.1" cy="421.3"/>
<ellipse cx="59.4" cy="423.3"/>
<ellipse cx="59.7" cy="420.1"/>
<ellipse cx="59.9" cy="420.5"/>
<ellipse cx="60.3" cy="424.5"/>
<ellipse cx="60.5" cy="423.3"/>
<ellipse cx="60.5" cy="420.7"/>
<ellipse cx="60.7" cy="424.6"/>
<ellipse cx="60.9" cy="425.6"/>
<ellipse cx="61.5" cy="426.7"/>
<ellipse cx="61.5" cy="422.2"/>
<ellipse cx="61.5" cy="422.4"/>
<ellipse cx="61.8" cy="427.6"/>
<ellipse cx="62.1" cy="425.3"/>
<ellipse cx="62.2" cy="420.8"/>
<ellipse cx="62.2" cy="424.8"/>
<ellipse cx="62.8" cy="428.1"/>
<ellipse cx="62.8" cy="424.1"/>
<ellipse cx="63" cy="424.7"/>
<ellipse cx="63.4" cy="424.6"/>
<ellipse cx="63.5" cy="427.9"/>
<ellipse cx="63.5" cy="426.2"/>
<ellipse cx="64.1" cy="421.4"/>
<ellipse cx="64.3" cy="422.6"/>
<ellipse cx="64.6" cy="418.9"/>
<ellipse cx="64.8" cy="423.6"/>
<ellipse cx="65.1" cy="421.5"/>
<ellipse cx="65.1" cy="425.5"/>
<ellipse cx="65.3" cy="428.2"/>
<ellipse cx="65.3" cy="420.1"/>
<ellipse cx="65.9" cy="425.4"/>
<ellipse cx="66" cy="422.3"/>
<ellipse cx="66.2" cy="420.1"/>
<ellipse cx="66.4" cy="421.3"/>
<ellipse cx="66.8" cy="426.5"/>
<ellipse cx="66.9" cy="418.8"/>
<ellipse cx="67" cy="412.8"/>
<ellipse cx="67.3" cy="415.7"/>
<ellipse cx="67.4" cy="424.3"/>
<ellipse cx="67.7" cy="416.9"/>
<ellipse cx="67.8" cy="422.4"/>
<ellipse cx="68.3" cy="426.3"/>
<ellipse cx="68.6" cy="418.7"/>
<ellipse cx="68.6" cy="417.8"/>
<ellipse cx="68.8" cy="426.3"/>
<ellipse cx="69" cy="426.6"/>
<ellipse cx="69.4" cy="424.3"/>
<ellipse cx="69.6" cy="422.6"/>
<ellipse cx="69.6" cy="418.1"/>
<ellipse cx="70.1" cy="417.9"/>
<ellipse cx="70.4" cy="419.5"/>
<ellipse cx="70.5" cy="421.3"/>
<ellipse cx="70.7" cy="419"/>
<ellipse cx="70.9" cy="414.6"/>
<ellipse cx="70.9" cy="423.7"/>
<ellipse cx="71.4" cy="419.4"/>
<ellipse cx="71.4" cy="422.7"/>
<ellipse cx="71.8" cy="416.7"/>
<ellipse cx="71.9" cy="417.6"/>
<ellipse cx="72.2" cy="424.2"/>
<ellipse cx="72.4" cy="417.1"/>
<ellipse cx="72.6" cy="409.2"/>
<ellipse cx="72.8" cy="416"/>
<ellipse cx="73" cy="406.4"/>
<ellipse cx="73.5" cy="409.8"/>
<ellipse cx="73.5" cy="408.5"/>
<ellipse cx="73.5" cy="415.1"/>
<ellipse cx="73.8" cy="417.5"/>
<ellipse cx="73.9" cy="412.4"/>
<ellipse cx="74.4" cy="420.4"/>
<ellipse cx="74.5" cy="413.8"/>
<ellipse cx="74.7" cy="412.9"/>
<ellipse cx="75" cy="412.6"/>
<ellipse cx="75" cy="417.3"/>
<ellipse cx="75.3" cy="422.5"/>
<ellipse cx="75.7" cy="414.8"/>
<ellipse cx="75.8" cy="420.8"/>
<ellipse cx="76.1" cy="412.3"/>
<ellipse cx="76.1" cy="408.3"/>
<ellipse cx="76.8" cy="414"/>
<ellipse cx="76.8" cy="416.6"/>
<ellipse cx="76.8" cy="410.8"/>
<ellipse cx="77.2" cy="418.6"/>
<ellipse cx="77.3" cy="418.5"/>
<ellipse cx="77.7" cy="416.7"/>
<ellipse cx="77.8" cy="416.6"/>
<ellipse cx="78" cy="417.5"/>
<ellipse cx="78.2" cy="413.5"/>
<ellipse cx="78.6" cy="415.6"/>
<ellipse cx="78.6" cy="408.6"/>
<ellipse cx="79" cy="418.1"/>
<ellipse cx="79.1" cy="420.2"/>
<ellipse cx="79.5" cy="414.7"/>
<ellipse cx="79.6" cy="418.3"/>
<ellipse cx="80.1" cy="411"/>
<ellipse cx="80.2" cy="407.5"/>
<ellipse cx="80.3" cy="408.2"/>
<ellipse cx="80.3" cy="412.1"/>
<ellipse cx="80.8" cy="410.2"/>
<ellipse cx="81" cy="415.3"/>
<ellipse cx="81.2" cy="405.6"/>
<ellipse cx="81.6" cy="419.1"/>
<ellipse cx="81.7" cy="409"/>
<ellipse cx="81.8" cy="413.1"/>
<ellipse cx="82.1" cy="407.4"/>
<ellipse cx="82.2" cy="413.9"/>
<ellipse cx="82.5" cy="408.8"/>
<ellipse cx="82.6" cy="408.1"/>
<ellipse cx="82.7" cy="412"/>
<ellipse cx="83.1" cy="414.5"/>
<ellipse cx="83.2" cy="416.1"/>
<ellipse cx="83.9" cy="419.2"/>
<ellipse cx="84" cy="418.6"/>
<ellipse cx="84.2" cy="410.5"/>
<ellipse cx="84.3" cy="414"/>
<ellipse cx="84.5" cy="414.1"/>
<ellipse cx="84.8" cy="416.9"/>
<ellipse cx="84.9" cy="409.5"/>
<ellipse cx="85.3" cy="413.3"/>
<ellipse cx="85.4" cy="410"/>
<ellipse cx="85.4" cy="418.2"/>
<ellipse cx="86" cy="405.2"/>
<ellipse cx="86.1" cy="417.1"/>
<ellipse cx="86.4" cy="416.3"/>
<ellipse cx="86.5" cy="412.8"/>
<ellipse cx="86.6" cy="413.7"/>
<ellipse cx="87.1" cy="411.1"/>
<ellipse cx="87.3" cy="402.6"/>
<ellipse cx="87.3" cy="401.3"/>
<ellipse cx="87.6" cy="415.6"/>
<ellipse cx="88" cy="410.8"/>
<ellipse cx="88.2" cy="401.3"/>
<ellipse cx="88.3" cy="408.2"/>
<ellipse cx="88.5" cy="412.4"/>
<ellipse cx="88.6" cy="400.3"/>
<ellipse cx="88.9" cy="407.2"/>
<ellipse cx="89" cy="408.9"/>
<ellipse cx="89.1" cy="406"/>
<ellipse cx="89.8" cy="417.4"/>
<ellipse cx="89.8" cy="402.6"/>
<ellipse cx="90" cy="401.5"/>
<ellipse cx="90.2" cy="398.9"/>
<ellipse cx="90.2" cy="410.2"/>
<ellipse cx="90.7" cy="405"/>
<ellipse cx="91" cy="398.1"/>
<ellipse cx="91.1" cy="411.8"/>
<ellipse cx="91.3" cy="410.6"/>
<ellipse cx="91.7" cy="402.7"/>
<ellipse cx="91.7" cy="410.3"/>
<ellipse cx="91.7" cy="410.6"/>
<ellipse cx="92.3" cy="401.3"/>
<ellipse cx="92.4" cy="394.2"/>
<ellipse cx="92.5" cy="406.4"/>
<ellipse cx="92.7" cy="407.8"/>
<ellipse cx="93.1" cy="415.8"/>
<ellipse cx="93.1" cy="415.8"/>
<ellipse cx="93.4" cy="413.8"/>
<ellipse cx="93.6" cy="397"/>
<ellipse cx="93.8" cy="408.3"/>
<ellipse cx="94.2" cy="411.6"/>
<ellipse cx="94.3" cy="406.6"/>
<ellipse cx="94.6" cy="408.1"/>
<ellipse cx="94.7" cy="395.2"/>
<ellipse cx="95" cy="396.8"/>
<ellipse cx="95.3" cy="404.1"/>
<ellipse cx="95.7" cy="404.2"/>
<ellipse cx="95.7" cy="401.4"/>
<ellipse cx="95.9" cy="408.2"/>
<ellipse cx="96.2" cy="400.1"/>
<ellipse cx="96.3" cy="398.8"/>
<ellipse cx="96.7" cy="404.4"/>
<ellipse cx="96.8" cy="395.3"/>
<ellipse cx="96.9" cy="403.7"/>
<ellipse cx="97" cy="403.4"/>
<ellipse cx="97.4" cy="401"/>
<ellipse cx="97.7" cy="400.6"/>
<ellipse cx="97.9" cy="396.8"/>
<ellipse cx="98" cy="410.5"/>
<ellipse cx="98.6" cy="398.7"/>
<ellipse cx="98.7" cy="397.9"/>
<ellipse cx="98.7" cy="394.6"/>
<ellipse cx="98.8" cy="392.2"/>
<ellipse cx="99.1" cy="410.9"/>
<ellipse cx="99.5" cy="404.4"/>
<ellipse cx="99.7" cy="409.3"/>
<ellipse cx="99.9" cy="399.3"/>
<ellipse cx="100" cy="405.5"/>
<ellipse cx="100.4" cy="394.8"/>
<ellipse cx="100.6" cy="403.9"/>
<ellipse cx="100.7" cy="409.4"/>
<ellipse cx="101" cy="407.3"/>
<ellipse cx="101.3" cy="402"/>
<ellipse cx="101.5" cy="409.6"/>
<ellipse cx="101.9" cy="406.5"/>
<ellipse cx="101.9" cy="409.9"/>
<ellipse cx="102.1" cy="407.1"/>
<ellipse cx="102.2" cy="400.1"/>
<ellipse cx="102.3" cy="399.1"/>
<ellipse cx="102.9" cy="400.6"/>
<ellipse cx="102.9" cy="400.9"/>
<ellipse cx="103.3" cy="403.2"/>
<ellipse cx="103.4" cy="409.2"/>
<ellipse cx="103.5" cy="403"/>
<ellipse cx="104" cy="396.7"/>
<ellipse cx="104.1" cy="394.1"/>
<ellipse cx="104.5" cy="390.7"/>
<ellipse cx="104.5" cy="410.2"/>
<ellipse cx="104.7" cy="400.2"/>
<ellipse cx="104.8" cy="402.5"/>
<ellipse cx="105.2" cy="394.9"/>
<ellipse cx="105.4" cy="403.4"/>
<ellipse cx="105.5" cy="397.8"/>
<ellipse cx="105.6" cy="394.2"/>
<ellipse cx="105.9" cy="403.1"/>
<ellipse cx="106.3" cy="411.5"/>
<ellipse cx="106.5" cy="412.5"/>
<ellipse cx="106.9" cy="400.2"/>
<ellipse cx="106.9" cy="393.7"/>
<ellipse cx="107.3" cy="411.6"/>
<ellipse cx="107.4" cy="400.7"/>
<ellipse cx="107.4" cy="393.7"/>
<ellipse cx="108.1" cy="397.6"/>
<ellipse cx="108.3" cy="404.3"/>
<ellipse cx="108.5" cy="405.1"/>
<ellipse cx="108.5" cy="412.7"/>
<ellipse cx="108.7" cy="396.8"/>
<ellipse cx="108.7" cy="401"/>
<ellipse cx="109.3" cy="403.2"/>
<ellipse cx="109.3" cy="405.5"/>
<ellipse cx="109.6" cy="404.2"/>
<ellipse cx="109.7" cy="392.9"/>
<ellipse cx="110.2" cy="412.6"/>
<ellipse cx="110.2" cy="399.6"/>
<ellipse cx="110.4" cy="404.6"/>
<ellipse cx="110.4" cy="394.2"/>
<ellipse cx="110.8" cy="400.7"/>
<ellipse cx="111" cy="396.6"/>
<ellipse cx="111.3" cy="406"/>
<ellipse cx="111.6" cy="410"/>
<ellipse cx="111.6" cy="395.9"/>
<ellipse cx="112.2" cy="400.4"/>
<ellipse cx="112.2" cy="394.6"/>
<ellipse cx="112.4" cy="394.3"/>
<ellipse cx="112.9" cy="404.5"/>
<ellipse cx="113" cy="393.2"/>
<ellipse cx="113.3" cy="397.8"/>
<ellipse cx="113.3" cy="391.8"/>
<ellipse cx="113.4" cy="388.7"/>
<ellipse cx="113.9" cy="407.6"/>
<ellipse cx="114.2" cy="407.4"/>
<ellipse cx="114.2" cy="392.5"/>
<ellipse cx="114.4" cy="404.1"/>
<ellipse cx="114.5" cy="391.1"/>
<ellipse cx="114.8" cy="398.3"/>
<ellipse cx="115.1" cy="396"/>
<ellipse cx="115.4" cy="391.8"/>
<ellipse cx="115.5" cy="405.7"/>
<ellipse cx="115.6" cy="409.5"/>
<ellipse cx="116.2" cy="391"/>
<ellipse cx="116.2" cy="395.4"/>
<ellipse cx="116.4" cy="398.3"/>
<ellipse cx="116.8" cy="406.9"/>
<ellipse cx="117.1" cy="386.2"/>
<ellipse cx="117.1" cy="392.4"/>
<ellipse cx="117.3" cy="408.4"/>
<ellipse cx="117.7" cy="394.6"/>
<ellipse cx="117.9" cy="400.5"/>
<ellipse cx="118" cy="391"/>
<ellipse cx="118.2" cy="383.1"/>
<ellipse cx="118.6" cy="397.2"/>
<ellipse cx="118.7" cy="391.9"/>
<ellipse cx="118.8" cy="406.8"/>
<ellipse cx="119" cy="406.7"/>
<ellipse cx="119.4" cy="397.9"/>
<ellipse cx="119.6" cy="385.7"/>
<ellipse cx="119.7" cy="392.9"/>
<ellipse cx="119.9" cy="393.9"/>
<ellipse cx="120.1" cy="393.2"/>
<ellipse cx="120.2" cy="407.7"/>
<ellipse cx="120.5" cy="396.7"/>
<ellipse cx="120.7" cy="398.6"/>
<ellipse cx="120.8" cy="385.5"/>
<ellipse cx="121" cy="398.2"/>
<ellipse cx="121.4" cy="393.3"/>
<ellipse cx="121.6" cy="402.6"/>
<ellipse cx="121.9" cy="401.2"/>
<ellipse cx="122.1" cy="390.3"/>
<ellipse cx="122.3" cy="384.2"/>
<ellipse cx="122.7" cy="407.5"/>
<ellipse cx="122.8" cy="392.3"/>
<ellipse cx="123.2" cy="379.8"/>
<ellipse cx="123.2" cy="394.8"/>
<ellipse cx="123.4" cy="397"/>
<ellipse cx="123.9" cy="408.3"/>
<ellipse cx="124.2" cy="396.8"/>
<ellipse cx="124.2" cy="382.3"/>
<ellipse cx="124.3" cy="401.7"/>
<ellipse cx="124.5" cy="383.5"/>
<ellipse cx="124.8" cy="394.6"/>
<ellipse cx="124.8" cy="391.5"/>
<ellipse cx="125.3" cy="391.3"/>
<ellipse cx="125.4" cy="392"/>
<ellipse cx="125.6" cy="380.9"/>
<ellipse cx="125.8" cy="395.8"/>
<ellipse cx="126.1" cy="408.4"/>
<ellipse cx="126.1" cy="406.2"/>
<ellipse cx="126.3" cy="395.7"/>
<ellipse cx="126.9" cy="402.8"/>
<ellipse cx="127" cy="394.2"/>
<ellipse cx="127" cy="385.7"/>
<ellipse cx="127.4" cy="406.8"/>
<ellipse cx="127.6" cy="386.1"/>
<ellipse cx="127.7" cy="389.7"/>
<ellipse cx="127.9" cy="386.3"/>
<ellipse cx="128.1" cy="403.1"/>
<ellipse cx="128.3" cy="385.2"/>
<ellipse cx="128.8" cy="392.2"/>
<ellipse cx="128.8" cy="381.9"/>
<ellipse cx="129" cy="382.1"/>
<ellipse cx="129.5" cy="391.6"/>
<ellipse cx="129.6" cy="392.2"/>
<ellipse cx="129.6" cy="385.3"/>
<ellipse cx="130.1" cy="384.9"/>
<ellipse cx="130.2" cy="401"/>
<ellipse cx="130.3" cy="404.3"/>
<ellipse cx="130.5" cy="391.7"/>
<ellipse cx="130.9" cy="394"/>
<ellipse cx="131.2" cy="391.7"/>
<ellipse cx="131.4" cy="407.5"/>
<ellipse cx="131.6" cy="385.5"/>
<ellipse cx="132.1" cy="403"/>
<ellipse cx="132.1" cy="390.1"/>
<ellipse cx="132.5" cy="394.5"/>
<ellipse cx="132.7" cy="398.9"/>
<ellipse cx="132.8" cy="397.9"/>
<ellipse cx="133" cy="388"/>
<ellipse cx="133" cy="390.7"/>
<ellipse cx="133.1" cy="395.6"/>
<ellipse cx="133.3" cy="384.5"/>
<ellipse cx="133.9" cy="380.2"/>
<ellipse cx="134.1" cy="407.6"/>
<ellipse cx="134.4" cy="400.7"/>
<ellipse cx="134.5" cy="393.1"/>
<ellipse cx="134.5" cy="401"/>
<ellipse cx="135.1" cy="410.2"/>
<ellipse cx="135.1" cy="381.6"/>
<ellipse cx="135.1" cy="388.1"/>
<ellipse cx="135.3" cy="393.3"/>
<ellipse cx="135.5" cy="407.6"/>
<ellipse cx="135.9" cy="409.2"/>
<ellipse cx="136.2" cy="383.8"/>
<ellipse cx="136.3" cy="397.8"/>
<ellipse cx="136.5" cy="381.8"/>
<ellipse cx="136.9" cy="395.5"/>
<ellipse cx="137.1" cy="392.7"/>
<ellipse cx="137.3" cy="405.8"/>
<ellipse cx="137.7" cy="389.5"/>
<ellipse cx="137.9" cy="408.3"/>
<ellipse cx="138.1" cy="404.9"/>
<ellipse cx="138.2" cy="391.1"/>
<ellipse cx="138.4" cy="406.5"/>
<ellipse cx="138.7" cy="379.3"/>
<ellipse cx="139.1" cy="402.9"/>
<ellipse cx="139.2" cy="399.7"/>
<ellipse cx="139.3" cy="406.9"/>
<ellipse cx="139.5" cy="402.5"/>
<ellipse cx="139.7" cy="408.7"/>
<ellipse cx="139.8" cy="380.6"/>
<ellipse cx="140.3" cy="394.1"/>
<ellipse cx="140.3" cy="401.2"/>
<ellipse cx="140.6" cy="406.8"/>
<ellipse cx="140.8" cy="392.4"/>
<ellipse cx="141.1" cy="410.1"/>
<ellipse cx="141.1" cy="387"/>
<ellipse cx="141.5" cy="386.4"/>
<ellipse cx="141.8" cy="398.1"/>
<ellipse cx="142.1" cy="384.8"/>
<ellipse cx="142.2" cy="384.9"/>
<ellipse cx="142.4" cy="410.5"/>
<ellipse cx="142.8" cy="404.4"/>
<ellipse cx="142.8" cy="397.9"/>
<ellipse cx="142.8" cy="383.9"/>
<ellipse cx="143.3" cy="380.1"/>
<ellipse cx="143.4" cy="387.7"/>
<ellipse cx="143.6" cy="386.4"/>
<ellipse cx="144.1" cy="408.7"/>
<ellipse cx="144.4" cy="392.5"/>
<ellipse cx="144.5" cy="410.7"/>
<ellipse cx="144.7" cy="403.3"/>
<ellipse cx="144.7" cy="392.6"/>
<ellipse cx="144.9" cy="397.7"/>
<ellipse cx="145.2" cy="393.9"/>
<ellipse cx="145.3" cy="404.9"/>
<ellipse cx="145.7" cy="395"/>
<ellipse cx="146" cy="384.7"/>
<ellipse cx="146.2" cy="404.4"/>
<ellipse cx="146.3" cy="391.2"/>
<ellipse cx="146.4" cy="402"/>
<ellipse cx="146.8" cy="403.4"/>
<ellipse cx="147.1" cy="402"/>
<ellipse cx="147.2" cy="383.9"/>
<ellipse cx="147.3" cy="411.7"/>
<ellipse cx="147.5" cy="386.5"/>
<ellipse cx="147.9" cy="408.9"/>
<ellipse cx="148.2" cy="400.9"/>
<ellipse cx="148.5" cy="412"/>
<ellipse cx="148.7" cy="392.1"/>
<ellipse cx="148.8" cy="387"/>
<ellipse cx="149" cy="407.4"/>
<ellipse cx="149.4" cy="387.7"/>
<ellipse cx="149.6" cy="393"/>
<ellipse cx="149.7" cy="390"/>
<ellipse cx="149.8" cy="408.6"/>
<ellipse cx="150.2" cy="389.9"/>
<ellipse cx="150.5" cy="407"/>
<ellipse cx="150.7" cy="389.8"/>
<ellipse cx="150.7" cy="390.9"/>
<ellipse cx="151" cy="408.1"/>
<ellipse cx="151.1" cy="402.7"/>
<ellipse cx="151.3" cy="394.8"/>
<ellipse cx="151.7" cy="399.4"/>
<ellipse cx="152" cy="388.2"/>
<ellipse cx="152.1" cy="391.6"/>
<ellipse cx="152.5" cy="403.7"/>
<ellipse cx="152.5" cy="408.4"/>
<ellipse cx="152.6" cy="410"/>
<ellipse cx="153.1" cy="384.7"/>
<ellipse cx="153.3" cy="393.3"/>
<ellipse cx="153.4" cy="403.9"/>
<ellipse cx="153.7" cy="407.1"/>
<ellipse cx="153.7" cy="407.4"/>
<ellipse cx="154" cy="405"/>
<ellipse cx="154.1" cy="401.7"/>
<ellipse cx="154.4" cy="412.3"/>
<ellipse cx="154.7" cy="396.6"/>
<ellipse cx="154.8" cy="398.8"/>
<ellipse cx="155.3" cy="405.5"/>
<ellipse cx="155.5" cy="410.3"/>
<ellipse cx="155.6" cy="395.3"/>
<ellipse cx="155.6" cy="386.3"/>
<ellipse cx="156" cy="406.3"/>
<ellipse cx="156.1" cy="401.9"/>
<ellipse cx="156.4" cy="411.5"/>
<ellipse cx="156.7" cy="406.5"/>
<ellipse cx="156.9" cy="396.8"/>
<ellipse cx="157.3" cy="393.4"/>
<ellipse cx="157.4" cy="399.4"/>
<ellipse cx="157.4" cy="405.7"/>
<ellipse cx="157.6" cy="391.5"/>
<ellipse cx="157.8" cy="386.8"/>
<ellipse cx="158.1" cy="397"/>
<ellipse cx="158.6" cy="403.8"/>
<ellipse cx="158.6" cy="397.2"/>
<ellipse cx="158.7" cy="397.4"/>
<ellipse cx="159.3" cy="403"/>
<ellipse cx="159.3" cy="409.8"/>
<ellipse cx="159.5" cy="400"/>
<ellipse cx="159.9" cy="398.7"/>
<ellipse cx="160.1" cy="393.1"/>
<ellipse cx="160.3" cy="397.8"/>
<ellipse cx="160.5" cy="411.4"/>
<ellipse cx="160.6" cy="393.3"/>
<ellipse cx="160.9" cy="390.6"/>
<ellipse cx="161" cy="397.7"/>
<ellipse cx="161.6" cy="392.1"/>
<ellipse cx="161.6" cy="397.7"/>
<ellipse cx="161.8" cy="396"/>
<ellipse cx="161.9" cy="402.7"/>
<ellipse cx="161.9" cy="400.4"/>
<ellipse cx="162.5" cy="402.9"/>
<ellipse cx="162.7" cy="391"/>
<ellipse cx="162.8" cy="395"/>
<ellipse cx="162.9" cy="411.2"/>
<ellipse cx="163.5" cy="390.7"/>
<ellipse cx="163.5" cy="398.3"/>
<ellipse cx="163.6" cy="390.4"/>
<ellipse cx="163.6" cy="392"/>
<ellipse cx="164.3" cy="410.5"/>
<ellipse cx="164.3" cy="405.6"/>
<ellipse cx="164.7" cy="404.6"/>
<ellipse cx="164.8" cy="412.5"/>
<ellipse cx="165.3" cy="392.5"/>
<ellipse cx="165.4" cy="410.3"/>
<ellipse cx="165.5" cy="411"/>
<ellipse cx="165.6" cy="405.3"/>
<ellipse cx="165.9" cy="392.2"/>
<ellipse cx="166.2" cy="407.8"/>
<ellipse cx="166.3" cy="399.7"/>
<ellipse cx="166.5" cy="396.5"/>
<ellipse cx="166.8" cy="401.2"/>
<ellipse cx="167" cy="404.3"/>
<ellipse cx="167" cy="390.4"/>
<ellipse cx="167.6" cy="395.2"/>
<ellipse cx="167.7" cy="386.5"/>
<ellipse cx="167.8" cy="388.2"/>
<ellipse cx="168.1" cy="391.5"/>
<ellipse cx="168.4" cy="399.6"/>
<ellipse cx="168.5" cy="394.2"/>
<ellipse cx="168.7" cy="397.1"/>
<ellipse cx="168.9" cy="403"/>
<ellipse cx="168.9" cy="389.9"/>
<ellipse cx="169.1" cy="396.4"/>
<ellipse cx="169.4" cy="400.3"/>
<ellipse cx="169.7" cy="404.9"/>
<ellipse cx="170.1" cy="398.6"/>
<ellipse cx="170.3" cy="391"/>
<ellipse cx="170.6" cy="397.2"/>
<ellipse cx="170.6" cy="390.2"/>
<ellipse cx="170.8" cy="413.1"/>
<ellipse cx="170.9" cy="410.9"/>
<ellipse cx="171.1" cy="397.5"/>
<ellipse cx="171.4" cy="406.6"/>
<ellipse cx="171.8" cy="398.6"/>
<ellipse cx="171.9" cy="396.8"/>
<ellipse cx="172.3" cy="403"/>
<ellipse cx="172.6" cy="407.3"/>
<ellipse cx="172.7" cy="402.8"/>
<ellipse cx="173" cy="399.7"/>
<ellipse cx="173.1" cy="392.7"/>
<ellipse cx="173.2" cy="408.1"/>
<ellipse cx="173.6" cy="409.6"/>
<ellipse cx="173.8" cy="400.1"/>
<ellipse cx="174.1" cy="404.5"/>
<ellipse cx="174.2" cy="388.1"/>
<ellipse cx="174.6" cy="412"/>
<ellipse cx="174.6" cy="400.4"/>
<ellipse cx="174.6" cy="409.4"/>
<ellipse cx="175.1" cy="395.8"/>
<ellipse cx="175.5" cy="412.8"/>
<ellipse cx="175.6" cy="393.2"/>
<ellipse cx="175.6" cy="396.8"/>
<ellipse cx="176" cy="412.7"/>
<ellipse cx="176.3" cy="393.1"/>
<ellipse cx="176.4" cy="404.7"/>
<ellipse cx="176.6" cy="400.6"/>
<ellipse cx="177.1" cy="403.8"/>
<ellipse cx="177.2" cy="405"/>
<ellipse cx="177.4" cy="407.4"/>
<ellipse cx="177.5" cy="399.1"/>
<ellipse cx="177.8" cy="391.8"/>
<ellipse cx="178" cy="410.8"/>
<ellipse cx="178.2" cy="399.1"/>
<ellipse cx="178.5" cy="404.3"/>
<ellipse cx="178.6" cy="412.8"/>
<ellipse cx="178.6" cy="413.8"/>
<ellipse cx="178.9" cy="398"/>
<ellipse cx="179.5" cy="404.1"/>
<ellipse cx="179.5" cy="410.1"/>
<ellipse cx="180" cy="415.2"/>
<ellipse cx="180" cy="413.8"/>
<ellipse cx="180.1" cy="418"/>
<ellipse cx="180.6" cy="403.7"/>
<ellipse cx="180.6" cy="407.1"/>
<ellipse cx="180.9" cy="412.9"/>
<ellipse cx="180.9" cy="403.2"/>
<ellipse cx="181.5" cy="416.8"/>
<ellipse cx="181.6" cy="413.2"/>
<ellipse cx="181.7" cy="406.7"/>
<ellipse cx="181.9" cy="412.8"/>
<ellipse cx="182" cy="417"/>
<ellipse cx="182.3" cy="413.5"/>
<ellipse cx="182.4" cy="408.7"/>
<ellipse cx="182.7" cy="416.2"/>
<ellipse cx="183" cy="423.2"/>
<ellipse cx="183.5" cy="422.6"/>
<ellipse cx="183.5" cy="411"/>
<ellipse cx="183.8" cy="418.7"/>
<ellipse cx="183.9" cy="406.5"/>
<ellipse cx="184.2" cy="422.6"/>
<ellipse cx="184.5" cy="422"/>
<ellipse cx="184.8" cy="422.7"/>
<ellipse cx="184.9" cy="416.4"/>
<ellipse cx="185" cy="411.2"/>
<ellipse cx="185.3" cy="411.3"/>
<ellipse cx="185.6" cy="406.5"/>
<ellipse cx="185.8" cy="416.9"/>
<ellipse cx="185.9" cy="420.7"/>
<ellipse cx="186.2" cy="406.1"/>
<ellipse cx="186.3" cy="424"/>
<ellipse cx="186.4" cy="413.6"/>
<ellipse cx="186.6" cy="418.1"/>
<ellipse cx="187.2" cy="422.1"/>
<ellipse cx="187.2" cy="420.8"/>
<ellipse cx="187.2" cy="406.9"/>
<ellipse cx="187.6" cy="407"/>
<ellipse cx="187.7" cy="411.2"/>
<ellipse cx="188.3" cy="408.8"/>
<ellipse cx="188.4" cy="424.4"/>
<ellipse cx="188.6" cy="415.3"/>
<ellipse cx="188.9" cy="419.4"/>
<ellipse cx="189" cy="418.1"/>
<ellipse cx="189.3" cy="416.5"/>
<ellipse cx="189.5" cy="406.5"/>
<ellipse cx="189.7" cy="405.8"/>
<ellipse cx="189.8" cy="419.8"/>
<ellipse cx="190" cy="413"/>
<ellipse cx="190.3" cy="420.7"/>
<ellipse cx="190.7" cy="406.8"/>
<ellipse cx="190.8" cy="409.6"/>
<ellipse cx="191.1" cy="414"/>
<ellipse cx="191.2" cy="407.4"/>
<ellipse cx="191.2" cy="424.2"/>
<ellipse cx="191.6" cy="422.1"/>
<ellipse cx="191.9" cy="421.4"/>
<ellipse cx="192.1" cy="407.5"/>
<ellipse cx="192.2" cy="423.8"/>
<ellipse cx="192.5" cy="416.7"/>
<ellipse cx="192.6" cy="414.5"/>
<ellipse cx="192.8" cy="420.7"/>
<ellipse cx="193.2" cy="411.7"/>
<ellipse cx="193.2" cy="412.3"/>
<ellipse cx="193.6" cy="410.2"/>
<ellipse cx="193.7" cy="410.6"/>
<ellipse cx="194" cy="423.5"/>
<ellipse cx="194.4" cy="414.2"/>
<ellipse cx="194.5" cy="403.6"/>
<ellipse cx="194.6" cy="411.7"/>
<ellipse cx="194.7" cy="408.4"/>
<ellipse cx="195.2" cy="418.3"/>
<ellipse cx="195.6" cy="411.7"/>
<ellipse cx="195.7" cy="420.6"/>
<ellipse cx="195.9" cy="410"/>
<ellipse cx="196.2" cy="407.4"/>
<ellipse cx="196.4" cy="412.2"/>
<ellipse cx="196.7" cy="407.2"/>
<ellipse cx="196.8" cy="420.1"/>
<ellipse cx="196.8" cy="412.7"/>
<ellipse cx="197" cy="417"/>
<ellipse cx="197.3" cy="407.9"/>
<ellipse cx="197.5" cy="411.7"/>
<ellipse cx="197.7" cy="403.6"/>
<ellipse cx="198.1" cy="412.7"/>
<ellipse cx="198.2" cy="411.1"/>
<ellipse cx="198.3" cy="414.2"/>
<ellipse cx="198.7" cy="418.1"/>
<ellipse cx="198.9" cy="402.7"/>
<ellipse cx="199.1" cy="411.8"/>
<ellipse cx="199.4" cy="415.2"/>
<ellipse cx="199.5" cy="415"/>
<ellipse cx="199.6" cy="411"/>
<ellipse cx="200.1" cy="416.7"/>
<ellipse cx="200.4" cy="417.3"/>
<ellipse cx="200.4" cy="404.2"/>
<ellipse cx="200.5" cy="421.2"/>
<ellipse cx="200.8" cy="411.7"/>
<ellipse cx="201.1" cy="418.6"/>
<ellipse cx="201.3" cy="420.9"/>
<ellipse cx="201.5" cy="411.4"/>
<ellipse cx="201.8" cy="410.2"/>
<ellipse cx="201.9" cy="416.3"/>
<ellipse cx="202" cy="419"/>
<ellipse cx="202.5" cy="409"/>
<ellipse cx="202.6" cy="417.2"/>
<ellipse cx="202.8" cy="420"/>
<ellipse cx="202.8" cy="420.5"/>
<ellipse cx="203.1" cy="412.1"/>
<ellipse cx="203.5" cy="410.8"/>
<ellipse cx="203.6" cy="416.9"/>
<ellipse cx="203.7" cy="418.2"/>
<ellipse cx="204.1" cy="412.5"/>
<ellipse cx="204.4" cy="424.8"/>
<ellipse cx="204.5" cy="423.5"/>
<ellipse cx="204.9" cy="423.6"/>
<ellipse cx="204.9" cy="410.7"/>
<ellipse cx="205.1" cy="425"/>
<ellipse cx="205.5" cy="416.9"/>
<ellipse cx="205.6" cy="412.1"/>
<ellipse cx="206" cy="424.5"/>
<ellipse cx="206.1" cy="416.9"/>
<ellipse cx="206.2" cy="423.3"/>
<ellipse cx="206.4" cy="419.5"/>
<ellipse cx="206.9" cy="408.9"/>
<ellipse cx="207" cy="419.8"/>
<ellipse cx="207.2" cy="410"/>
<ellipse cx="207.4" cy="412.9"/>
<ellipse cx="207.5" cy="410"/>
<ellipse cx="208.2" cy="415.1"/>
<ellipse cx="208.2" cy="423.3"/>
<ellipse cx="208.3" cy="416.8"/>
<ellipse cx="208.7" cy="424.4"/>
<ellipse cx="208.8" cy="422.9"/>
<ellipse cx="209.1" cy="415.7"/>
<ellipse cx="209.2" cy="417.8"/>
<ellipse cx="209.3" cy="419.3"/>
<ellipse cx="209.9" cy="419.3"/>
<ellipse cx="210" cy="398"/>
<ellipse cx="210.2" cy="416.8"/>
<ellipse cx="210.3" cy="421.9"/>
<ellipse cx="210.6" cy="414.5"/>
<ellipse cx="210.7" cy="404.4"/>
<ellipse cx="211" cy="415"/>
<ellipse cx="211.1" cy="412.1"/>
<ellipse cx="211.4" cy="423.3"/>
<ellipse cx="211.5" cy="413.8"/>
<ellipse cx="211.6" cy="418.1"/>
<ellipse cx="212" cy="414.8"/>
<ellipse cx="212" cy="421.9"/>
<ellipse cx="212.6" cy="424.2"/>
<ellipse cx="212.7" cy="412.8"/>
<ellipse cx="212.7" cy="421.4"/>
<ellipse cx="212.9" cy="417.9"/>
<ellipse cx="213.2" cy="417.6"/>
<ellipse cx="213.3" cy="415.6"/>
<ellipse cx="213.8" cy="415.7"/>
<ellipse cx="213.9" cy="415.1"/>
<ellipse cx="214.2" cy="420.9"/>
<ellipse cx="214.6" cy="424.1"/>
<ellipse cx="214.6" cy="417.3"/>
<ellipse cx="214.9" cy="418.1"/>
<ellipse cx="215.2" cy="423.9"/>
<ellipse cx="215.3" cy="416.5"/>
<ellipse cx="215.4" cy="421.5"/>
<ellipse cx="215.6" cy="415.8"/>
<ellipse cx="216" cy="413.8"/>
<ellipse cx="216.1" cy="413.7"/>
<ellipse cx="216.3" cy="423.6"/>
<ellipse cx="216.5" cy="420.7"/>
<ellipse cx="216.6" cy="418.9"/>
<ellipse cx="217.2" cy="424.2"/>
<ellipse cx="217.3" cy="415.3"/>
<ellipse cx="217.5" cy="424.8"/>
<ellipse cx="217.8" cy="415.1"/>
<ellipse cx="218.1" cy="409.9"/>
<ellipse cx="218.1" cy="417.8"/>
<ellipse cx="218.2" cy="417.3"/>
<ellipse cx="218.7" cy="416.3"/>
<ellipse cx="218.8" cy="414.6"/>
<ellipse cx="218.9" cy="414.7"/>
<ellipse cx="219.1" cy="419.6"/>
<ellipse cx="219.4" cy="424.7"/>
<ellipse cx="219.5" cy="419.2"/>
<ellipse cx="219.7" cy="412.9"/>
<ellipse cx="220.1" cy="421.3"/>
<ellipse cx="220.2" cy="418.1"/>
<ellipse cx="220.4" cy="423.6"/>
<ellipse cx="220.6" cy="419.7"/>
<ellipse cx="221.1" cy="413.7"/>
<ellipse cx="221.4" cy="415.3"/>
<ellipse cx="221.4" cy="425.2"/>
<ellipse cx="221.6" cy="421.7"/>
<ellipse cx="221.8" cy="423.5"/>
<ellipse cx="222.1" cy="418.8"/>
<ellipse cx="222.1" cy="420.6"/>
<ellipse cx="222.1" cy="417.4"/>
<ellipse cx="222.9" cy="419.6"/>
<ellipse cx="222.9" cy="419.2"/>
<ellipse cx="223.1" cy="425.2"/>
<ellipse cx="223.1" cy="414.9"/>
<ellipse cx="223.5" cy="423.8"/>
<ellipse cx="223.7" cy="417.1"/>
<ellipse cx="223.9" cy="411"/>
<ellipse cx="224.1" cy="416.6"/>
<ellipse cx="224.6" cy="419.9"/>
<ellipse cx="224.8" cy="416.9"/>
<ellipse cx="224.9" cy="413"/>
<ellipse cx="225" cy="426.1"/>
<ellipse cx="225.2" cy="413.8"/>
<ellipse cx="225.4" cy="416.5"/>
<ellipse cx="225.5" cy="415.7"/>
<ellipse cx="226" cy="422.9"/>
<ellipse cx="226.2" cy="424.4"/>
<ellipse cx="226.2" cy="408.6"/>
<ellipse cx="226.5" cy="421.5"/>
<ellipse cx="226.7" cy="420.4"/>
<ellipse cx="226.8" cy="421.4"/>
<ellipse cx="227.2" cy="426.3"/>
<ellipse cx="227.5" cy="422.4"/>
<ellipse cx="227.8" cy="420.3"/>
<ellipse cx="227.8" cy="426.3"/>
<ellipse cx="228.3" cy="416.2"/>
<ellipse cx="228.4" cy="419.1"/>
<ellipse cx="228.8" cy="417.3"/>
<ellipse cx="228.9" cy="423.4"/>
<ellipse cx="229.1" cy="416.8"/>
<ellipse cx="229.3" cy="420"/>
<ellipse cx="229.3" cy="414.5"/>
<ellipse cx="229.9" cy="423.8"/>
<ellipse cx="230" cy="413.7"/>
<ellipse cx="230.2" cy="420"/>
<ellipse cx="230.3" cy="418.6"/>
<ellipse cx="230.4" cy="420.6"/>
<ellipse cx="230.9" cy="419.2"/>
<ellipse cx="231.1" cy="421.1"/>
<ellipse cx="231.2" cy="422.6"/>
<ellipse cx="231.4" cy="415.7"/>
<ellipse cx="231.9" cy="422.5"/>
<ellipse cx="232.1" cy="413.6"/>
<ellipse cx="232.3" cy="424.3"/>
<ellipse cx="232.3" cy="419.6"/>
<ellipse cx="232.4" cy="412.5"/>
<ellipse cx="232.6" cy="419.9"/>
<ellipse cx="233" cy="407.4"/>
<ellipse cx="233.3" cy="421"/>
<ellipse cx="233.4" cy="412.5"/>
<ellipse cx="233.4" cy="424.2"/>
<ellipse cx="233.9" cy="414.2"/>
<ellipse cx="234.1" cy="420.9"/>
<ellipse cx="234.2" cy="410.4"/>
<ellipse cx="234.4" cy="417.5"/>
<ellipse cx="234.9" cy="421.8"/>
<ellipse cx="234.9" cy="415.1"/>
<ellipse cx="235.1" cy="421.5"/>
<ellipse cx="235.4" cy="423.7"/>
<ellipse cx="235.6" cy="412.4"/>
<ellipse cx="235.9" cy="416.8"/>
<ellipse cx="235.9" cy="410.3"/>
<ellipse cx="236.4" cy="421.6"/>
<ellipse cx="236.5" cy="420"/>
<ellipse cx="236.7" cy="419.7"/>
<ellipse cx="236.9" cy="420.4"/>
<ellipse cx="237.2" cy="424.8"/>
<ellipse cx="237.5" cy="420.3"/>
<ellipse cx="237.7" cy="418.1"/>
<ellipse cx="237.7" cy="421.4"/>
<ellipse cx="238" cy="421.9"/>
<ellipse cx="238.1" cy="422.7"/>
<ellipse cx="238.6" cy="424.1"/>
<ellipse cx="238.7" cy="417.1"/>
<ellipse cx="238.9" cy="424.3"/>
<ellipse cx="239.3" cy="421.7"/>
<ellipse cx="239.4" cy="420.9"/>
<ellipse cx="239.4" cy="414.7"/>
<ellipse cx="239.8" cy="414.3"/>
<ellipse cx="239.9" cy="425"/>
<ellipse cx="240.1" cy="409.4"/>
<ellipse cx="240.7" cy="415.3"/>
<ellipse cx="240.8" cy="414.6"/>
<ellipse cx="240.8" cy="415.4"/>
<ellipse cx="241.4" cy="414"/>
<ellipse cx="241.4" cy="414.7"/>
<ellipse cx="241.6" cy="418"/>
<ellipse cx="241.6" cy="424"/>
<ellipse cx="242.1" cy="405.9"/>
<ellipse cx="242.4" cy="416.4"/>
<ellipse cx="242.5" cy="415"/>
<ellipse cx="242.7" cy="412.8"/>
<ellipse cx="243" cy="417.5"/>
<ellipse cx="243" cy="421.6"/>
<ellipse cx="243.1" cy="414.7"/>
<ellipse cx="243.4" cy="414.2"/>
<ellipse cx="243.8" cy="427"/>
<ellipse cx="243.9" cy="424.7"/>
<ellipse cx="244.3" cy="414.3"/>
<ellipse cx="244.3" cy="423.5"/>
<ellipse cx="244.7" cy="424.2"/>
<ellipse cx="244.8" cy="425.9"/>
<ellipse cx="245.1" cy="418.6"/>
<ellipse cx="245.3" cy="410"/>
<ellipse cx="245.6" cy="416.4"/>
<ellipse cx="245.9" cy="423.9"/>
<ellipse cx="246" cy="427.5"/>
<ellipse cx="246.3" cy="422.3"/>
<ellipse cx="246.6" cy="419.8"/>
<ellipse cx="246.7" cy="417.9"/>
<ellipse cx="246.7" cy="415.7"/>
<ellipse cx="246.9" cy="410.9"/>
<ellipse cx="247.6" cy="419.7"/>
<ellipse cx="247.6" cy="417"/>
<ellipse cx="247.9" cy="421.7"/>
<ellipse cx="247.9" cy="427.3"/>
<ellipse cx="248.2" cy="418.3"/>
<ellipse cx="248.4" cy="417.5"/>
<ellipse cx="248.7" cy="426.5"/>
<ellipse cx="248.8" cy="415.2"/>
<ellipse cx="249.1" cy="420.7"/>
<ellipse cx="249.3" cy="419.8"/>
<ellipse cx="249.5" cy="422.1"/>
<ellipse cx="249.7" cy="411.4"/>
<ellipse cx="250" cy="401"/>
<ellipse cx="250.1" cy="408"/>
<ellipse cx="250.3" cy="422.9"/>
<ellipse cx="250.4" cy="418.1"/>
<ellipse cx="250.5" cy="417.2"/>
<ellipse cx="250.9" cy="414.7"/>
<ellipse cx="251" cy="425.7"/>
<ellipse cx="251.1" cy="412.8"/>
<ellipse cx="251.3" cy="425.8"/>
<ellipse cx="251.6" cy="420.7"/>
<ellipse cx="251.8" cy="422.4"/>
<ellipse cx="252.1" cy="416.3"/>
<ellipse cx="252.3" cy="421.8"/>
<ellipse cx="252.3" cy="406.5"/>
<ellipse cx="252.7" cy="417.3"/>
<ellipse cx="253.1" cy="416.9"/>
<ellipse cx="253.5" cy="416.3"/>
<ellipse cx="253.5" cy="414.9"/>
<ellipse cx="253.8" cy="423"/>
<ellipse cx="254.2" cy="423.4"/>
<ellipse cx="254.4" cy="417.2"/>
<ellipse cx="254.4" cy="423"/>
<ellipse cx="254.8" cy="423.6"/>
<ellipse cx="254.9" cy="420.1"/>
<ellipse cx="255.1" cy="414.9"/>
<ellipse cx="255.1" cy="425"/>
<ellipse cx="255.5" cy="425.6"/>
<ellipse cx="255.5" cy="424.2"/>
<ellipse cx="256.2" cy="418.3"/>
<ellipse cx="256.2" cy="417.7"/>
<ellipse cx="256.4" cy="425.1"/>
<ellipse cx="256.7" cy="424.7"/>
<ellipse cx="256.8" cy="419.3"/>
<ellipse cx="257.2" cy="412.3"/>
<ellipse cx="257.4" cy="414.8"/>
<ellipse cx="257.6" cy="423"/>
<ellipse cx="257.7" cy="424.3"/>
<ellipse cx="257.9" cy="412.2"/>
<ellipse cx="258" cy="417"/>
<ellipse cx="258.3" cy="418.9"/>
<ellipse cx="258.4" cy="414.3"/>
<ellipse cx="258.7" cy="418.2"/>
<ellipse cx="259" cy="402.8"/>
<ellipse cx="259.2" cy="411.7"/>
<ellipse cx="259.3" cy="424"/>
<ellipse cx="259.6" cy="419.1"/>
<ellipse cx="259.9" cy="413.5"/>
<ellipse cx="260.1" cy="416.1"/>
<ellipse cx="260.3" cy="412.4"/>
<ellipse cx="260.5" cy="414.4"/>
<ellipse cx="260.6" cy="412.3"/>
<ellipse cx="261" cy="411"/>
<ellipse cx="261.2" cy="408.8"/>
<ellipse cx="261.3" cy="421"/>
<ellipse cx="261.4" cy="417.4"/>
<ellipse cx="262" cy="424.7"/>
<ellipse cx="262.1" cy="412"/>
<ellipse cx="262.3" cy="414.3"/>
<ellipse cx="262.5" cy="424.6"/>
<ellipse cx="262.6" cy="422"/>
<ellipse cx="262.8" cy="420.8"/>
<ellipse cx="263.1" cy="408.7"/>
<ellipse cx="263.3" cy="413.8"/>
<ellipse cx="263.7" cy="424.7"/>
<ellipse cx="264" cy="410.8"/>
<ellipse cx="264" cy="414.2"/>
<ellipse cx="264.2" cy="422"/>
<ellipse cx="264.4" cy="414.1"/>
<ellipse cx="264.5" cy="410.4"/>
<ellipse cx="265.1" cy="417.8"/>
<ellipse cx="265.2" cy="411"/>
<ellipse cx="265.2" cy="421.1"/>
<ellipse cx="265.6" cy="423.9"/>
<ellipse cx="265.6" cy="410.4"/>
<ellipse cx="265.9" cy="424.7"/>
<ellipse cx="266.2" cy="419.9"/>
<ellipse cx="266.3" cy="405.3"/>
<ellipse cx="266.7" cy="406.5"/>
<ellipse cx="266.8" cy="415.3"/>
<ellipse cx="267.2" cy="413"/>
<ellipse cx="267.4" cy="420.8"/>
<ellipse cx="267.5" cy="421.6"/>
<ellipse cx="267.6" cy="423.2"/>
<ellipse cx="267.8" cy="410.7"/>
<ellipse cx="268.2" cy="420.7"/>
<ellipse cx="268.4" cy="417.1"/>
<ellipse cx="268.4" cy="410.2"/>
<ellipse cx="268.7" cy="415.7"/>
<ellipse cx="269" cy="416.5"/>
<ellipse cx="269.3" cy="420.2"/>
<ellipse cx="269.5" cy="411.5"/>
<ellipse cx="269.7" cy="415.6"/>
<ellipse cx="269.9" cy="408.4"/>
<ellipse cx="270.1" cy="412.3"/>
<ellipse cx="270.1" cy="421.6"/>
<ellipse cx="270.9" cy="414"/>
<ellipse cx="271" cy="414.1"/>
<ellipse cx="271.2" cy="412.6"/>
<ellipse cx="271.4" cy="415.1"/>
<ellipse cx="271.7" cy="420.9"/>
<ellipse cx="272" cy="415.8"/>
<ellipse cx="272.1" cy="412.5"/>
<ellipse cx="272.1" cy="415.8"/>
<ellipse cx="272.5" cy="413.9"/>
<ellipse cx="272.5" cy="417.4"/>
<ellipse cx="272.6" cy="421.7"/>
<ellipse cx="273" cy="421.3"/>
<ellipse cx="273.5" cy="421.2"/>
<ellipse cx="273.6" cy="414.2"/>
<ellipse cx="273.7" cy="416.2"/>
<ellipse cx="274.1" cy="420.3"/>
<ellipse cx="274.1" cy="418.2"/>
<ellipse cx="274.3" cy="418.1"/>
<ellipse cx="274.7" cy="415.5"/>
<ellipse cx="274.8" cy="412.7"/>
<ellipse cx="275" cy="409.6"/>
<ellipse cx="275.3" cy="420.8"/>
<ellipse cx="275.7" cy="407.5"/>
<ellipse cx="275.8" cy="419.1"/>
<ellipse cx="275.8" cy="409.7"/>
<ellipse cx="276.1" cy="408.4"/>
<ellipse cx="276.3" cy="416.6"/>
<ellipse cx="276.7" cy="418.6"/>
<ellipse cx="277" cy="420.3"/>
<ellipse cx="277" cy="423.8"/>
<ellipse cx="277.4" cy="419.3"/>
<ellipse cx="277.5" cy="419.1"/>
<ellipse cx="277.8" cy="419.4"/>
<ellipse cx="277.9" cy="415.8"/>
<ellipse cx="278" cy="422"/>
<ellipse cx="278.4" cy="418.6"/>
<ellipse cx="278.4" cy="409.4"/>
<ellipse cx="278.5" cy="409.2"/>
<ellipse cx="279" cy="415.5"/>
<ellipse cx="279.2" cy="410.2"/>
<ellipse cx="279.4" cy="406.2"/>
<ellipse cx="279.7" cy="422.7"/>
<ellipse cx="279.8" cy="413.6"/>
<ellipse cx="280.3" cy="405.6"/>
<ellipse cx="280.3" cy="420.6"/>
<ellipse cx="280.5" cy="423.4"/>
<ellipse cx="280.5" cy="420.2"/>
<ellipse cx="280.9" cy="413"/>
<ellipse cx="281.3" cy="417.3"/>
<ellipse cx="281.6" cy="421.5"/>
<ellipse cx="281.7" cy="421.3"/>
<ellipse cx="281.7" cy="423.1"/>
<ellipse cx="281.8" cy="422.6"/>
<ellipse cx="282.1" cy="423.4"/>
<ellipse cx="282.5" cy="413.1"/>
<ellipse cx="282.6" cy="424.6"/>
<ellipse cx="283" cy="411.3"/>
<ellipse cx="283.2" cy="408.3"/>
<ellipse cx="283.3" cy="422.8"/>
<ellipse cx="283.5" cy="424.7"/>
<ellipse cx="283.8" cy="422"/>
<ellipse cx="283.9" cy="415.8"/>
<ellipse cx="284.1" cy="422.6"/>
<ellipse cx="284.3" cy="419.8"/>
<ellipse cx="284.5" cy="417"/>
<ellipse cx="284.7" cy="424"/>
<ellipse cx="285.1" cy="424.8"/>
<ellipse cx="285.1" cy="416.7"/>
<ellipse cx="285.6" cy="415.6"/>
<ellipse cx="285.7" cy="412.5"/>
<ellipse cx="285.8" cy="415.9"/>
<ellipse cx="286.1" cy="423.3"/>
<ellipse cx="286.7" cy="415.3"/>
<ellipse cx="286.7" cy="411.6"/>
<ellipse cx="286.9" cy="424.8"/>
<ellipse cx="287.3" cy="422.9"/>
<ellipse cx="287.4" cy="425"/>
<ellipse cx="287.7" cy="414.3"/>
<ellipse cx="288" cy="421.7"/>
<ellipse cx="288.2" cy="422.1"/>
<ellipse cx="288.4" cy="410.6"/>
<ellipse cx="288.5" cy="417.6"/>
<ellipse cx="288.7" cy="421.9"/>
<ellipse cx="288.7" cy="421.9"/>
<ellipse cx="288.9" cy="417.7"/>
<ellipse cx="289.5" cy="412.4"/>
<ellipse cx="289.5" cy="411.4"/>
<ellipse cx="289.7" cy="421.7"/>
<ellipse cx="289.7" cy="424.3"/>
<ellipse cx="290.2" cy="416.4"/>
<ellipse cx="290.3" cy="411.1"/>
<ellipse cx="290.5" cy="420.7"/>
<ellipse cx="290.7" cy="420.9"/>
<ellipse cx="291" cy="412.9"/>
<ellipse cx="291.3" cy="416.1"/>
<ellipse cx="291.6" cy="416.4"/>
<ellipse cx="291.6" cy="422.1"/>
<ellipse cx="291.7" cy="412.1"/>
<ellipse cx="292" cy="401"/>
<ellipse cx="292.2" cy="415.3"/>
<ellipse cx="292.3" cy="416.2"/>
<ellipse cx="292.4" cy="421"/>
<ellipse cx="292.9" cy="411.3"/>
<ellipse cx="292.9" cy="410.8"/>
<ellipse cx="293" cy="413.1"/>
<ellipse cx="293.3" cy="415.3"/>
<ellipse cx="293.7" cy="415.2"/>
<ellipse cx="293.8" cy="410.6"/>
<ellipse cx="294" cy="416.8"/>
<ellipse cx="294.6" cy="415.2"/>
<ellipse cx="294.6" cy="410.7"/>
<ellipse cx="294.6" cy="410.7"/>
<ellipse cx="294.9" cy="419.9"/>
<ellipse cx="295.4" cy="415.4"/>
<ellipse cx="295.5" cy="409.9"/>
<ellipse cx="296" cy="421.8"/>
<ellipse cx="296" cy="407.3"/>
<ellipse cx="296" cy="399"/>
<ellipse cx="296.1" cy="413"/>
<ellipse cx="296.2" cy="422.8"/>
<ellipse cx="296.6" cy="409.7"/>
<ellipse cx="296.8" cy="417.9"/>
<ellipse cx="296.8" cy="410.5"/>
<ellipse cx="297" cy="421.7"/>
<ellipse cx="297.6" cy="418"/>
<ellipse cx="297.6" cy="416.9"/>
<ellipse cx="297.7" cy="419.5"/>
<ellipse cx="298" cy="411.2"/>
<ellipse cx="298.3" cy="417.4"/>
<ellipse cx="298.4" cy="418.8"/>
<ellipse cx="298.6" cy="421.5"/>
<ellipse cx="298.9" cy="413.1"/>
<ellipse cx="299.1" cy="413.9"/>
<ellipse cx="299.5" cy="418.3"/>
<ellipse cx="299.7" cy="413.7"/>
<ellipse cx="299.7" cy="422.3"/>
<ellipse cx="300.3" cy="416.2"/>
<ellipse cx="300.3" cy="410.9"/>
<ellipse cx="300.4" cy="414.8"/>
<ellipse cx="300.8" cy="401.2"/>
<ellipse cx="301" cy="420.7"/>
<ellipse cx="301.2" cy="421.8"/>
<ellipse cx="301.2" cy="411.9"/>
<ellipse cx="301.5" cy="418.7"/>
<ellipse cx="301.6" cy="411"/>
<ellipse cx="302.2" cy="415.4"/>
<ellipse cx="302.3" cy="412.8"/>
<ellipse cx="302.6" cy="418.5"/>
<ellipse cx="302.8" cy="417.2"/>
<ellipse cx="303.1" cy="407.8"/>
<ellipse cx="303.3" cy="405.8"/>
<ellipse cx="303.5" cy="421.1"/>
<ellipse cx="303.7" cy="406.7"/>
<ellipse cx="303.8" cy="420.9"/>
<ellipse cx="303.9" cy="414.4"/>
<ellipse cx="304.1" cy="414.5"/>
<ellipse cx="304.5" cy="418.6"/>
<ellipse cx="304.7" cy="417.1"/>
<ellipse cx="304.9" cy="417.2"/>
<ellipse cx="305.1" cy="413.6"/>
<ellipse cx="305.3" cy="407.6"/>
<ellipse cx="305.5" cy="424.3"/>
<ellipse cx="305.8" cy="411.1"/>
<ellipse cx="306" cy="424.3"/>
<ellipse cx="306.3" cy="417.3"/>
<ellipse cx="306.5" cy="412.7"/>
<ellipse cx="306.6" cy="410.8"/>
<ellipse cx="307" cy="412"/>
<ellipse cx="307.1" cy="419.3"/>
<ellipse cx="307.2" cy="407.1"/>
<ellipse cx="307.5" cy="415.4"/>
<ellipse cx="307.7" cy="422.6"/>
<ellipse cx="308.1" cy="419.6"/>
<ellipse cx="308.3" cy="420.6"/>
<ellipse cx="308.5" cy="423.1"/>
<ellipse cx="308.6" cy="420.8"/>
<ellipse cx="308.8" cy="409.2"/>
<ellipse cx="309.2" cy="420.2"/>
<ellipse cx="309.2" cy="415.4"/>
<ellipse cx="309.6" cy="423"/>
<ellipse cx="309.7" cy="423.1"/>
<ellipse cx="310.1" cy="413.3"/>
<ellipse cx="310.1" cy="417.3"/>
<ellipse cx="310.4" cy="418.1"/>
<ellipse cx="310.8" cy="416.8"/>
<ellipse cx="310.9" cy="414.2"/>
<ellipse cx="311" cy="410.3"/>
<ellipse cx="311.2" cy="423.4"/>
<ellipse cx="311.6" cy="422.4"/>
<ellipse cx="311.7" cy="420.5"/>
<ellipse cx="312.1" cy="406.1"/>
<ellipse cx="312.4" cy="414.6"/>
<ellipse cx="312.4" cy="423.5"/>
<ellipse cx="312.9" cy="419"/>
<ellipse cx="312.9" cy="416.6"/>
<ellipse cx="313.1" cy="424"/>
<ellipse cx="313.2" cy="412.6"/>
<ellipse cx="313.3" cy="403.4"/>
<ellipse cx="313.9" cy="424.5"/>
<ellipse cx="314.1" cy="410.6"/>
<ellipse cx="314.3" cy="423.7"/>
<ellipse cx="314.4" cy="414.2"/>
<ellipse cx="314.9" cy="417.2"/>
<ellipse cx="314.9" cy="418.1"/>
<ellipse cx="315.2" cy="418.3"/>
<ellipse cx="315.2" cy="420.9"/>
<ellipse cx="315.6" cy="424.1"/>
<ellipse cx="315.7" cy="415.7"/>
<ellipse cx="316.1" cy="421.7"/>
<ellipse cx="316.2" cy="413.8"/>
<ellipse cx="316.2" cy="413.8"/>
<ellipse cx="316.3" cy="422.7"/>
<ellipse cx="316.9" cy="423"/>
<ellipse cx="317.1" cy="420.8"/>
<ellipse cx="317.2" cy="416.7"/>
<ellipse cx="317.3" cy="415.3"/>
<ellipse cx="317.7" cy="415.1"/>
<ellipse cx="318" cy="413.4"/>
<ellipse cx="318.2" cy="420.6"/>
<ellipse cx="318.2" cy="421"/>
<ellipse cx="318.8" cy="423.1"/>
<ellipse cx="318.9" cy="415.1"/>
<ellipse cx="319" cy="416.7"/>
<ellipse cx="319" cy="422.1"/>
<ellipse cx="319.4" cy="412.5"/>
<ellipse cx="319.7" cy="413.9"/>
<ellipse cx="319.8" cy="412.3"/>
<ellipse cx="320.2" cy="422.8"/>
<ellipse cx="320.3" cy="418.2"/>
<ellipse cx="320.5" cy="420.7"/>
<ellipse cx="320.8" cy="413.3"/>
<ellipse cx="320.9" cy="420.7"/>
<ellipse cx="321" cy="414.9"/>
<ellipse cx="321.3" cy="407.7"/>
<ellipse cx="321.8" cy="416.1"/>
<ellipse cx="321.8" cy="416.5"/>
<ellipse cx="321.8" cy="422"/>
<ellipse cx="322.1" cy="409.6"/>
<ellipse cx="322.3" cy="420.5"/>
<ellipse cx="322.9" cy="412.5"/>
<ellipse cx="323" cy="423.9"/>
<ellipse cx="323.3" cy="423.3"/>
<ellipse cx="323.5" cy="423.4"/>
<ellipse cx="323.5" cy="417.8"/>
<ellipse cx="323.8" cy="417.3"/>
<ellipse cx="324.1" cy="412.5"/>
<ellipse cx="324.5" cy="417.7"/>
<ellipse cx="324.5" cy="415.9"/>
<ellipse cx="324.7" cy="419.4"/>
<ellipse cx="324.9" cy="414.5"/>
<ellipse cx="325.4" cy="420.3"/>
<ellipse cx="325.4" cy="416"/>
<ellipse cx="325.6" cy="422.5"/>
<ellipse cx="325.6" cy="414.5"/>
<ellipse cx="325.9" cy="414"/>
<ellipse cx="326.2" cy="420.7"/>
<ellipse cx="326.6" cy="417.8"/>
<ellipse cx="326.7" cy="421.5"/>
<ellipse cx="327" cy="418.8"/>
<ellipse cx="327.4" cy="424.3"/>
<ellipse cx="327.5" cy="414.6"/>
<ellipse cx="327.6" cy="412.9"/>
<ellipse cx="327.8" cy="415.1"/>
<ellipse cx="328.3" cy="406.4"/>
<ellipse cx="328.4" cy="413.7"/>
<ellipse cx="328.5" cy="412.6"/>
<ellipse cx="328.6" cy="421.7"/>
<ellipse cx="328.8" cy="420"/>
<ellipse cx="329.4" cy="412.8"/>
<ellipse cx="329.4" cy="414.9"/>
<ellipse cx="329.7" cy="410.8"/>
<ellipse cx="329.7" cy="411.8"/>
<ellipse cx="330" cy="419.1"/>
<ellipse cx="330.3" cy="414.6"/>
<ellipse cx="330.5" cy="415.4"/>
<ellipse cx="330.8" cy="422.7"/>
<ellipse cx="330.9" cy="418.3"/>
<ellipse cx="331" cy="418"/>
<ellipse cx="331.5" cy="412.7"/>
<ellipse cx="331.5" cy="415.3"/>
<ellipse cx="331.7" cy="411.3"/>
<ellipse cx="332" cy="417"/>
<ellipse cx="332.5" cy="421"/>
<ellipse cx="332.6" cy="417.3"/>
<ellipse cx="332.7" cy="420.5"/>
<ellipse cx="332.9" cy="414.9"/>
<ellipse cx="333.1" cy="422.4"/>
<ellipse cx="333.1" cy="417.1"/>
<ellipse cx="333.8" cy="411.8"/>
<ellipse cx="333.9" cy="420"/>
<ellipse cx="334" cy="422.3"/>
<ellipse cx="334" cy="419.9"/>
<ellipse cx="334.4" cy="413.4"/>
<ellipse cx="334.6" cy="419"/>
<ellipse cx="334.7" cy="411.3"/>
<ellipse cx="334.9" cy="410.8"/>
<ellipse cx="335.5" cy="422.1"/>
<ellipse cx="335.5" cy="412.6"/>
<ellipse cx="335.8" cy="410.8"/>
<ellipse cx="335.9" cy="404.3"/>
<ellipse cx="336.3" cy="421.5"/>
<ellipse cx="336.3" cy="418.5"/>
<ellipse cx="336.7" cy="412.5"/>
<ellipse cx="336.8" cy="418.3"/>
</g>
<path d="M35.1 384.4 L35.2 387.9 L35.3 378 L35.5 382.8 L35.6 381.8 L35.8 379 L35.8 383.7 L36 384.4 L36 389.3 L36.5 388.7 L36.6 389 L36.6 386.8 L36.7 382 L36.7 381.3 L36.8 378.4 L37 386.5 L37.2 384.9 L37.2 379.1 L37.3 376.9 L37.7 378.8 L37.8 377 L37.9 380.7 L38.1 383.8 L38.1 379.7 L38.3 388.8 L38.4 387.5 L38.6 387.5 L38.9 385.3 L39 380.9 L39.1 388.5 L39.1 381.6 L39.2 386.9 L39.5 378.5 L39.8 378.9 L39.9 386.8 L39.9 380.1 L40.1 381.1 L40.3 385.1 L40.5 377.3 L40.6 378.4 L40.7 378.8 L40.8 380.5 L40.9 379.2 L41.1 385.8 L41.1 378.7 L41.2 379.9 L41.3 385.8 L41.5 389.3 L41.6 386.4 L41.8 378.6 L42.1 382.7 L42.1 380.8 L42.1 388.7 L42.2 389 L42.5 382.9 L42.7 389.5 L42.8 380.5 L42.9 380.2 L43 378.7 L43.1 378.4 L43.3 387.6 L43.5 379.8 L43.6 385.2 L43.8 389.8 L43.8 384.3 L43.8 382.6 L44.2 381.7 L44.6 383.1 L44.7 389.2 L44.7 388.2 L44.7 388.5 L44.9 381.7 L45.1 387.5 L45.2 384.6 L45.3 389 L45.4 382.3 L45.6 389.1 L45.7 390.3 L46 388.2 L46.2 383.9 L46.3 381.7 L46.4 387.5 L46.4 382.1 L46.5 378.6 L46.9 381.6 L46.9 385.1 L47 390.7 L47 384.2 L47.4 387.8 L47.4 383.4 L47.5 383.6 L47.8 387.2 L47.8 386.5 L47.9 389.4 L48.1 389.2 L48.4 385.6 L48.7 388.6 L48.7 379.9 L48.8 387.9 L48.8 389.8 L49 380.1 L49.1 378.3 L49.2 380.4 L49.3 383.7 L49.3 385.5 L49.5 389 L49.6 390.3 L49.7 378.3 L50 380.6 L50.1 388.8 L50.5 389.9 L50.6 383.3 L50.7 381.9 L50.9 378.4 L51.1 385 L51.1 378.8 L51.3 371.9 L51.4 381.3 L51.5 389.4 L51.6 388.9 L51.6 386.2 L52 382.8 L52.1 381 L52.3 389 L52.3 383.5 L52.4 376.9 L52.7 387.7 L52.8 378.2 L52.9 376.1 L53 380.4 L53.2 389.6 L53.3 385 L53.4 384.9 L53.6 386.4 L53.7 388.6 L54 380.6 L54.1 386.2 L54.1 388.6 L54.2 389.1 L54.5 382.7 L54.7 386.6 L54.8 388.7 L54.8 383.4 L55 385.4 L55 389.6 L55.3 377.3 L55.3 380.9 L55.4 380.2 L56 383.8 L56.1 383.9 L56.1 387 L56.1 386.8 L56.2 389.1 L56.3 377 L56.4 384.1 L56.5 386.7 L56.7 380.8 L56.9 386.7 L57 387.9 L57.2 380.3 L57.5 387.7 L57.6 388.4 L57.8 384.4 L58.1 389.2 L58.1 382.7 L58.2 377.9 L58.3 377.7 L58.3 379 L58.4 387.1 L58.6 382.1 L58.7 389 L58.7 380.8 L59.1 386 L59.3 383.1 L59.3 384.5 L59.6 389.1 L59.7 377.1 L60 389.4 L60 376.7 L60.1 384.7 L60.2 380.2 L60.2 389.6 L60.3 386.5 L60.4 384.4 L60.7 384 L60.9 384.2 L61.1 388.7 L61.2 387.7 L61.3 387.3 L61.5 380.6 L61.5 380.7 L61.5 382.9 L61.7 382.4 L61.8 375.5 L62.1 384.5 L62.3 382.7 L62.6 383.9 L62.8 379.5 L63 382.4 L63 388 L63.1 386.5 L63.3 387.3 L63.5 383.4 L63.5 383.1 L63.7 383.1 L64 388 L64 387.4 L64.1 374.1 L64.1 389.3 L64.3 384.7 L64.4 387.2 L64.6 382.7 L64.7 376 L64.7 380.9 L65 382.2 L65.2 388 L65.3 383.3 L65.4 374.3 L65.5 389 L65.6 386.8 L65.8 374.1 L65.8 383.8 L65.9 378.8 L66.3 385.8 L66.3 381.1 L66.4 388.5 L66.5 383.9 L66.7 374.7 L66.9 381.4 L67 381.1 L67.2 387.6 L67.3 378.7 L67.5 377.1 L67.5 377.2 L67.7 384.1 L68 377.4 L68.1 375.4 L68.4 387.2 L68.5 382.3 L68.5 374.1 L68.5 378.1 L68.7 380.3 L68.8 383.2 L68.9 388.4 L69.1 383.1 L69.2 384.7 L69.3 388.5 L69.6 382.4 L69.8 374.1 L69.9 385.3 L70.1 374.2 L70.1 383.2 L70.2 387.1 L70.4 378.9 L70.7 383.4 L70.7 375.1 L70.9 383 L70.9 374.4 L71 387.2 L71.1 388.5 L71.3 376.4 L71.4 378.6 L71.8 382.3 L71.8 387.2 L72 387.9 L72.1 379.6 L72.3 377.9 L72.3 380.3 L72.4 383.4 L72.6 384.1 L72.7 387.2 L72.7 374.3 L73 383.5 L73.1 386.3 L73.2 378.4 L73.3 365.1 L73.6 387.8 L73.6 379.8 L73.7 384.3 L73.8 380.3 L74 376 L74.1 374.6 L74.1 384.4 L74.6 384.3 L74.7 374.6 L74.8 383.9 L74.8 386.2 L74.9 378.6 L75.1 380.2 L75.2 386 L75.4 372.6 L75.6 378.7 L75.8 385.7 L75.9 378.9 L76 378.3 L76 373.1 L76.3 384.4 L76.4 384.8 L76.5 374.7 L76.6 377.3 L76.7 373.2 L77 361.4 L77 376.3 L77.1 374.5 L77.2 372.6 L77.3 372.1 L77.5 387 L77.8 375.6 L77.8 380.7 L77.8 373.2 L78.1 385.8 L78.2 374 L78.4 371.5 L78.5 377 L78.6 372.6 L79 372.5 L79 381.4 L79.2 372.1 L79.2 380.7 L79.2 372.4 L79.4 384.2 L79.8 383.6 L79.9 378.3 L80 373.1 L80.1 384.3 L80.3 375.2 L80.5 382.7 L80.5 381.2 L80.6 387.1 L80.8 372.6 L81 383.4 L81 380.7 L81.1 386.5 L81.6 380.8 L81.8 385.8 L81.9 381.4 L82 375.8 L82 383.6 L82 374.9 L82.3 377.6 L82.3 377.3 L82.6 374.7 L82.6 370.8 L82.8 384.7 L82.9 386.6 L83 374.7 L83.2 376.7 L83.2 381.5 L83.3 386.1 L83.5 379.4 L83.6 378.3 L83.6 375.7 L83.9 386.2 L84.2 378.5 L84.3 381.9 L84.5 376.1 L84.6 374.1 L84.7 382.4 L84.8 379.8 L84.8 368 L85 378.8 L85.3 383.2 L85.5 382.4 L85.5 374.6 L85.6 382 L85.9 383.7 L86.1 376.9 L86.1 380.2 L86.2 380.5 L86.3 384.8 L86.4 377.6 L86.7 385.1 L86.8 383.1 L86.9 384 L87 384.7 L87.2 374.5 L87.2 376 L87.4 378.8 L87.5 384.6 L87.6 373.8 L87.8 381.2 L88.3 385.7 L88.4 374.9 L88.5 377.7 L88.5 387.2 L88.5 378.9 L88.6 386.5 L89 387.1 L89 382.2 L89.1 380.2 L89.1 373.7 L89.5 383.1 L89.6 383.9 L89.9 373.4 L89.9 381.6 L89.9 384 L90.1 371.7 L90.3 378.4 L90.4 385.2 L90.4 373 L90.5 365 L90.8 384.3 L90.9 375.3 L90.9 376.3 L91.1 382.5 L91.2 385.2 L91.6 372.8 L91.6 384.8 L91.7 376.5 L91.8 378.9 L92 384.7 L92.1 376.8 L92.2 374.2 L92.3 376.7 L92.4 366.7 L92.7 375.3 L92.9 382.2 L93.1 380.6 L93.2 377 L93.2 379.6 L93.3 375.1 L93.4 376.3 L93.7 372.3 L93.9 379 L94 375.8 L94.1 385 L94.2 378.6 L94.3 386 L94.5 380.7 L94.5 384.5 L94.6 378.1 L95.1 374.8 L95.2 364 L95.2 376.6 L95.3 379.2 L95.5 385 L95.5 383.1 L95.7 378.3 L95.8 384.1 L96 378.4 L96.2 372.2 L96.3 378.5 L96.3 385.6 L96.4 379.8 L96.7 368.8 L96.9 372.5 L97 375.9 L97.2 384 L97.2 378.7 L97.5 383.1 L97.5 383.3 L97.8 385.3 L97.8 369.1 L98.1 385.2 L98.1 384.2 L98.1 385.6 L98.2 384.6 L98.4 378.1 L98.5 381.8 L98.7 372.4 L98.9 379.4 L99 374.3 L99.1 381.1 L99.4 381.5 L99.4 380.9 L99.4 373.6 L99.6 378.4 L99.6 382.1 L99.7 377.8 L100.1 377 L100.4 385.3 L100.6 384.5 L100.6 382.8 L100.7 382.5 L100.7 377 L100.9 383.2 L100.9 378.1 L101.3 380.7 L101.4 384.6 L101.5 373.2 L101.6 367.1 L101.6 382.6 L102 384.7 L102 372.4 L102.2 376.8 L102.2 380.1 L102.4 378.3 L102.6 384.8 L102.8 376.7 L102.8 379.9 L102.8 381.3 L102.9 373.1 L103.1 380.7 L103.4 377.7 L103.5 376.6 L103.8 372.5 L103.8 383.3 L104 384.2 L104.2 376 L104.4 372.9 L104.4 377.1 L104.5 381.2 L104.7 384.8 L104.9 382.5 L105 372.8 L105.1 381.1 L105.2 371.9 L105.4 383.9 L105.5 377.9 L105.7 375.1 L105.7 376.5 L105.9 371.9 L106 384.5 L106.3 385.9 L106.5 384.4 L106.6 377.6 L106.7 384.7 L106.8 384.1 L107.1 371.2 L107.2 379 L107.3 384.5 L107.3 372.1 L107.5 383 L107.6 384.2 L107.8 382 L107.8 384.4 L107.9 385.8 L108.3 384.6 L108.5 381.7 L108.6 384.4 L108.6 373.2 L108.7 375.9 L109 372 L109.1 368.5 L109.2 374.2 L109.4 359.8 L109.4 370.8 L109.5 385.6 L109.7 380.7 L109.8 375.8 L110 375.5 L110.1 381.7 L110.2 341.8 L110.2 349 L110.3 370.9 L110.5 382.8 L110.5 380.9 L110.7 374.5 L110.8 385 L110.9 378.2 L111.1 367 L111.3 384.3 L111.4 363.4 L111.6 376.4 L111.7 363.6 L111.9 364.2 L112 373.9 L112.2 375 L112.2 380 L112.4 360.6 L112.5 377 L112.6 366.6 L112.9 371.2 L113 373.3 L113.3 354.5 L113.4 364.6 L113.4 369.7 L113.5 362.3 L113.8 372.1 L113.8 382.4 L114.1 380.6 L114.1 378.5 L114.3 382.5 L114.3 364.1 L114.4 380.6 L114.6 367.5 L114.7 380.1 L114.8 362.8 L115 372.4 L115.3 379.1 L115.4 348.8 L115.4 381.7 L115.6 376 L115.9 361.3 L116.2 368.7 L116.2 372.3 L116.2 368.2 L116.4 348.1 L116.5 365.7 L116.6 371.1 L116.8 375 L116.9 367.3 L116.9 358.7 L116.9 357 L117.3 363.5 L117.6 346.1 L117.7 355.5 L117.7 363.9 L117.8 368.6 L118.1 364.3 L118.1 363.2 L118.2 353.2 L118.2 370.8 L118.5 366.1 L118.8 350.1 L119 327.5 L119 329 L119.1 347.1 L119.2 372.5 L119.3 374.1 L119.4 343.2 L119.8 358.2 L119.8 362.9 L120.1 331 L120.1 347.6 L120.1 375.3 L120.4 371.8 L120.6 354.5 L120.7 366.6 L120.9 349.2 L121.1 344.1 L121.2 327 L121.3 335 L121.4 365.7 L121.4 270.7 L121.4 311.8 L121.4 316.9 L121.5 349 L121.6 365.4 L121.7 342.5 L122 372.6 L122.1 351.5 L122.3 359.4 L122.3 366 L122.4 343.6 L122.6 348.1 L122.6 348.9 L122.7 346.5 L122.9 371.2 L123.2 374.4 L123.4 330.6 L123.5 319.6 L123.6 353.8 L123.8 346.8 L124 353.2 L124 342.3 L124 348.7 L124.4 352.7 L124.5 375.9 L124.8 344.1 L124.9 362.8 L124.9 376.3 L125.2 335.6 L125.3 350.8 L125.3 299 L125.4 356 L125.4 342.7 L125.5 324.8 L125.6 344.8 L125.6 370.7 L125.9 375.9 L125.9 351.1 L126.1 341.3 L126.3 325.5 L126.3 335.4 L126.5 366.4 L127 360 L127.1 343.8 L127.1 308.9 L127.2 338.6 L127.3 324.3 L127.6 370.2 L127.7 359.5 L127.7 371.6 L127.7 342.9 L127.8 353.8 L128 337 L128.1 320 L128.2 345.4 L128.4 348.5 L128.8 367 L128.9 345.2 L128.9 336.4 L129 355.7 L129 284.4 L129 292.9 L129.2 369.9 L129.3 372.8 L129.3 340.3 L129.4 358.8 L129.5 346.1 L129.8 343 L129.9 361.5 L130.1 331.2 L130.3 355.7 L130.4 373.9 L130.6 352.2 L130.8 316.9 L131 365.8 L131.1 325.2 L131.2 338.2 L131.3 367.9 L131.4 359.2 L131.5 368.6 L131.8 371 L131.9 335.3 L131.9 371.6 L132 375.9 L132.6 359.4 L132.6 359.3 L132.6 360.6 L132.6 353 L132.8 359.3 L133.1 345.2 L133.2 343.8 L133.3 336.8 L133.5 370.9 L133.6 370.4 L133.7 367.5 L133.8 334.8 L133.9 368.1 L134.1 355.1 L134.4 346.3 L134.4 362.2 L134.7 343.1 L134.7 299 L134.8 366.4 L134.9 371.4 L134.9 375.6 L135.2 361.8 L135.2 351.1 L135.3 375.4 L135.3 346 L135.6 353.3 L135.9 330.7 L136 375.9 L136.1 366.7 L136.1 369.3 L136.3 362.9 L136.5 374.3 L136.6 375.4 L136.7 366.9 L136.8 338.9 L136.9 360.3 L137.1 315 L137.4 375.9 L137.5 345.5 L137.6 354.4 L137.7 344 L137.8 349.7 L138 367.2 L138.4 356.1 L138.4 350.6 L138.5 352.3 L138.6 360.5 L138.6 366.1 L139 339.8 L139 302.7 L139.1 373.8 L139.2 351.5 L139.3 321.2 L139.5 370.2 L139.5 361.1 L139.6 364.2 L139.7 295.1 L139.7 302.7 L139.7 311 L139.7 337.6 L140.1 331.1 L140.3 332.4 L140.4 338.9 L140.5 357.9 L140.6 355.9 L140.9 325.1 L140.9 318.2 L141 374.8 L141.2 346.5 L141.3 369.1 L141.4 367 L141.6 347.4 L141.7 355.5 L141.8 371.1 L142.1 348.3 L142.1 354.5 L142.1 359 L142.5 341.3 L142.5 351.5 L142.6 343.5 L142.8 374.7 L142.9 341.9 L143.1 372.2 L143.2 365.8 L143.3 352.3 L143.3 338.9 L143.4 350.9 L143.5 373.8 L144 364.4 L144.1 364.7 L144.3 353.5 L144.3 349.8 L144.5 375.2 L144.6 354.3 L144.9 369.4 L145.2 376.1 L145.2 356 L145.3 341.3 L145.3 327 L145.4 332.8 L145.4 316 L145.6 366.7 L145.9 344.3 L146.2 343.7 L146.3 340.9 L146.5 373.2 L146.6 354.2 L146.6 332.3 L146.6 375.1 L146.8 356.2 L146.8 346 L147 329.1 L147.2 344.1 L147.2 332 L147.6 374.3 L147.8 319.5 L147.8 371.9 L148 369.9 L148.1 355.2 L148.2 371.6 L148.3 371.4 L148.4 359.2 L148.6 338.7 L148.7 345.9 L148.7 357.2 L149.1 325.9 L149.2 327.6 L149.2 342.1 L149.5 374.1 L149.5 296.3 L149.6 363.6 L149.9 352.3 L150 366.7 L150.2 349.4 L150.3 344.1 L150.5 373.6 L150.5 343.5 L150.5 346.2 L150.8 353.5 L150.9 371.3 L151.1 313.4 L151.2 374.1 L151.3 345.7 L151.3 359 L151.6 353.4 L151.6 370.3 L151.6 349.2 L151.9 360.7 L152 357.1 L152.1 349.3 L152.3 374.5 L152.5 355.3 L152.6 368.9 L152.9 355 L152.9 356.3 L153 348.4 L153.2 372.5 L153.4 375.7 L153.6 346.7 L153.7 362.7 L153.8 343.6 L153.8 361.7 L153.9 375.1 L153.9 372.9 L154.2 363.2 L154.3 355.2 L154.3 360.3 L154.6 348.1 L154.7 369 L155 344.7 L155.2 340.8 L155.2 356.3 L155.5 338.6 L155.5 345.1 L155.6 337.1 L155.7 302 L155.7 354.9 L156.1 360.7 L156.2 338.7 L156.3 336 L156.4 368.5 L156.4 366.9 L156.5 366.6 L156.8 367.9 L156.9 365.3 L157.2 358.5 L157.2 320 L157.3 368.5 L157.4 349.9 L157.5 373.1 L157.7 366.7 L157.8 368.1 L158.2 365.3 L158.2 371.7 L158.5 342.3 L158.5 318 L158.7 368.1 L158.8 318.5 L158.9 354.5 L158.9 369.1 L159.2 344.2 L159.3 336.5 L159.4 368.1 L159.6 346.6 L159.6 369.4 L159.7 362.2 L159.8 364.4 L160 331 L160.3 337.4 L160.3 367.2 L160.4 364.8 L160.4 352.5 L160.7 365.8 L160.7 357.2 L161 361.4 L161.2 352.7 L161.3 335.9 L161.3 371 L161.4 364.2 L161.5 371.4 L161.9 342.3 L162.2 346.7 L162.2 321.8 L162.4 356.9 L162.4 363.1 L162.4 354 L162.5 362.7 L162.6 344.5 L162.7 322.5 L162.8 343.3 L163.1 372.1 L163.3 370.7 L163.7 354.5 L163.7 372.3 L164 330.4 L164 337.1 L164.1 374 L164.3 356.6 L164.4 332.5 L164.4 355 L164.6 333.4 L164.8 368.8 L164.9 304.3 L164.9 323.4 L164.9 338.7 L165.2 342.5 L165.2 350.6 L165.3 371.4 L165.5 350.6 L165.7 368.1 L165.8 374.4 L166.1 368.9 L166.3 372.8 L166.5 331.4 L166.5 376 L166.7 364 L166.8 360.4 L166.9 368.3 L166.9 368.4 L167.1 368.1 L167.1 350 L167.2 336.7 L167.5 372.9 L167.8 348.5 L168 351.4 L168 362 L168.3 302.7 L168.3 361.4 L168.3 348.1 L168.6 375.5 L168.6 333.7 L168.8 358.6 L168.9 342.4 L169 352.7 L169 370 L169.3 371.7 L169.3 376.1 L169.6 352.4 L169.7 377.1 L169.9 284.4 L169.9 351.9 L170 346.4 L170.2 344.8 L170.4 371.6 L170.4 359.8 L170.5 375.7 L170.6 363.8 L170.7 327.6 L170.9 376.4 L171.1 330 L171.2 347.8 L171.6 366 L171.6 356.2 L171.7 376.5 L171.8 370.5 L172 357.1 L172.1 373.7 L172.2 348.7 L172.4 340.5 L172.7 313.3 L172.7 362.5 L172.8 353.3 L172.9 341.8 L172.9 351.3 L173.2 351.7 L173.3 345.1 L173.7 361.3 L173.7 312.6 L173.8 351.7 L173.9 341.8 L174.1 366.3 L174.2 360 L174.2 346.4 L174.7 372.4 L174.7 373.3 L174.8 334.6 L174.9 335.2 L174.9 335.7 L175.1 335.5 L175.1 371.8 L175.2 362.3 L175.5 350 L175.6 362.9 L175.7 328.2 L175.9 341 L176.2 360.3 L176.3 315.7 L176.5 369.4 L176.5 319.2 L176.6 345.3 L176.7 316.2 L176.8 377 L177 363.5 L177.2 335.7 L177.2 374.7 L177.3 349.7 L177.4 340.4 L177.5 372.3 L177.9 340.8 L178 326 L178 318.8 L178.3 329.9 L178.4 346.4 L178.6 377.5 L178.7 374.3 L178.9 326.2 L178.9 361.5 L179.2 368.1 L179.3 376.5 L179.4 334.4 L179.5 360.9 L179.5 331.8 L179.6 342.2 L180 346.3 L180 367.9 L180.1 318.8 L180.2 318.8 L180.4 338.5 L180.5 362.5 L180.6 358.8 L180.9 344 L181.1 345.8 L181.2 363.2 L181.4 337 L181.6 347.9 L181.7 361.3 L181.8 346 L181.9 367.6 L182.1 368.1 L182.3 376.4 L182.3 370.2 L182.3 374.5 L182.3 350.1 L182.7 369.1 L182.7 344.4 L183.1 343.4 L183.2 346.8 L183.4 374 L183.4 375.2 L183.4 374 L183.7 377.7 L183.7 342.4 L184 371.2 L184.1 351.3 L184.3 341 L184.3 295.1 L184.4 377.5 L184.6 357.3 L184.7 319.7 L184.8 356.3 L184.8 317.7 L184.9 359.3 L185.2 353.2 L185.4 356 L185.4 343.2 L185.4 351.7 L185.7 370.4 L185.9 370.9 L186 370.8 L186.4 371.7 L186.4 355.3 L186.6 335.1 L186.7 352.5 L186.8 356.1 L187 339.4 L187 363.2 L187.4 337.2 L187.4 374.9 L187.5 361.4 L187.8 362.6 L187.8 325.3 L188 365.7 L188 332.1 L188.2 359.5 L188.2 370.9 L188.5 362.2 L188.7 375.4 L188.8 358.3 L188.9 357.9 L188.9 308.9 L189.3 340.2 L189.3 355.7 L189.4 336.5 L189.4 346.5 L189.6 359.6 L189.6 354.4 L189.6 370.4 L190 351.6 L190.1 355 L190.3 339.6 L190.5 356.4 L190.6 358.4 L190.7 372.3 L190.7 360.7 L191 338.3 L191.2 354.9 L191.4 373.9 L191.5 324.1 L191.7 334.5 L191.8 291.7 L191.8 362 L191.9 377.1 L191.9 368.5 L192.1 363.1 L192.2 341.8 L192.3 343.3 L192.5 345.9 L192.5 349.3 L192.6 342.1 L192.8 343.5 L193 368.3 L193.3 360.3 L193.4 370.8 L193.5 370.4 L193.6 341.2 L193.8 362.8 L193.8 370.5 L194 374.3 L194.2 359.6 L194.3 346.6 L194.3 315.8 L194.4 334.5 L194.5 352.6 L195.1 322.3 L195.1 321.9 L195.1 359 L195.1 359.5 L195.3 358.9 L195.5 344.1 L195.7 314.6 L195.9 368.5 L196 345.5 L196 375.3 L196.2 350.2 L196.3 330.7 L196.3 326.1 L196.5 375.2 L196.9 370.4 L196.9 335.6 L197.1 374.6 L197.2 341.5 L197.2 375.6 L197.4 336 L197.6 364.7 L197.7 356 L197.8 333.4 L197.9 361.1 L198 299.3 L198 305 L198.2 370.9 L198.2 337.9 L198.2 330.5 L198.5 370 L198.6 370 L199 338.8 L199.1 328.2 L199.1 343.6 L199.3 340 L199.3 363.6 L199.5 343.4 L199.6 304.3 L199.6 346.3 L199.9 331.9 L200.1 372 L200.2 374.2 L200.3 347.6 L200.4 367.5 L200.4 326.6 L200.7 377 L200.7 374 L201 342.7 L201 375.7 L201.1 343.8 L201.2 340.7 L201.4 369.1 L201.4 316.9 L201.8 356.3 L201.8 328 L201.9 361.3 L202 332.5 L202.4 343.2 L202.4 377.2 L202.5 343.6 L202.6 366.8 L202.6 356.3 L202.8 330.4 L203.1 341.3 L203.2 359.4 L203.3 372.2 L203.6 376.3 L203.6 355.1 L203.8 376.6 L203.9 354.8 L203.9 345.3 L204.2 346.5 L204.3 352.3 L204.4 367.8 L204.5 354.8 L204.7 350 L204.7 367.3 L204.9 371.9 L205.2 330.8 L205.2 325.4 L205.6 374.1 L205.8 345.3 L205.9 365.9 L205.9 338.4 L206 350.1 L206 332.5 L206 354.3 L206.1 359.7 L206.3 342 L206.4 378.8 L206.5 379.1 L206.5 291.7 L207 366.6 L207 366.4 L207.1 375.6 L207.5 339.8 L207.6 345.2 L207.7 364.7 L207.8 308.9 L207.8 348.6 L208 364.6 L208.1 350.8 L208.2 378.1 L208.2 358.7 L208.2 376.7 L208.4 354.2 L208.8 358.3 L208.9 352.6 L209 368 L209.2 365.8 L209.3 367.6 L209.5 379.9 L209.6 358.4 L209.8 350.1 L209.9 355.1 L210 351.9 L210.1 358.3 L210.1 376.9 L210.2 344.4 L210.5 367.6 L210.6 345 L210.8 356 L210.9 380.5 L211.2 360.2 L211.2 341.4 L211.3 355.2 L211.3 290.6 L211.4 377 L211.7 363.1 L211.7 369.4 L211.9 360.7 L212.2 362.7 L212.4 358.2 L212.4 359.3 L212.5 349 L212.5 363 L212.7 370.9 L212.8 356 L213 378.2 L213.1 361.9 L213.2 377.6 L213.4 363.8 L213.6 340.7 L213.6 363.4 L214.1 353.6 L214.2 360.6 L214.3 374.4 L214.3 339.1 L214.6 374.7 L214.6 379.6 L214.9 375.9 L215 376.2 L215.1 376.3 L215.2 379 L215.2 376.3 L215.6 379.1 L215.7 374.7 L215.7 365.2 L215.7 357.1 L216 356.8 L216.1 363.9 L216.4 379.4 L216.4 375.4 L216.5 343.7 L216.8 377.6 L216.9 350.7 L217.1 365.6 L217.2 362.1 L217.3 360.3 L217.4 368.6 L217.8 344.2 L217.9 363.8 L218 359.7 L218 345.8 L218 379.6 L218.3 368.2 L218.5 375.5 L218.5 337.9 L218.5 379.2 L218.8 358.7 L218.9 353.9 L219 364.3 L219.1 360.5 L219.4 379.4 L219.5 367.7 L219.7 376.1 L219.8 335.5 L219.8 353.8 L220 360 L220.2 356.3 L220.2 370.2 L220.4 351.9 L220.5 365.2 L220.6 380.4 L220.6 358.8 L221.2 333.3 L221.2 371.1 L221.2 377.5 L221.4 367.4 L221.4 380.2 L221.4 333.3 L221.7 373 L221.8 354.7 L221.8 349.5 L222 368.4 L222 367.6 L222.1 363.1 L222.4 362.7 L222.7 351.7 L222.9 365 L223 353.2 L223.1 379.4 L223.1 379.4 L223.3 362.1 L223.5 379.5 L223.5 354.3 L223.7 357.9 L224 352.7 L224 352.3 L224.1 368 L224.2 352.9 L224.6 373.4 L224.7 357.3 L224.7 378.5 L224.8 371.6 L224.9 324 L225.1 353.1 L225.3 373.6 L225.4 369 L225.4 368 L225.4 350.9 L225.6 379.2 L226 375.5 L226.1 354 L226.2 375.3 L226.3 375.2 L226.4 366.6 L226.5 328.7 L226.6 379.6 L226.7 379.9 L226.7 352.1 L226.9 351.3 L227 364.8 L227.2 368.5 L227.2 350.9 L227.7 373.9 L227.8 366.5 L227.8 363.3 L227.9 379.3 L228.2 371.3 L228.3 369.2 L228.4 370.9 L228.5 370.5 L228.5 362.4 L228.6 367.7 L229 382.2 L229 364.2 L229.1 364.9 L229.3 355.4 L229.3 364.6 L229.4 357.9 L229.6 366.9 L229.8 371.1 L230 363.8 L230.2 371.7 L230.2 378.2 L230.4 369.7 L230.7 364.5 L230.9 366.2 L231 374.4 L231 367.5 L231.1 377.6 L231.3 372.4 L231.3 377.8 L231.5 363.5 L231.5 380.4 L231.9 360.8 L232.1 373.8 L232.1 356.1 L232.2 363.2 L232.2 358.7 L232.3 353.1 L232.5 362.4 L232.7 357.7 L233.1 358.9 L233.1 369.1 L233.2 376.9 L233.3 377.1 L233.3 369.8 L233.7 362.2 L233.7 373.4 L233.7 378.7 L234.1 378.4 L234.4 377.9 L234.4 373.4 L234.5 364.4 L234.5 374.5 L234.7 359 L234.8 379.8 L235 366.5 L235.1 373 L235.3 365.2 L235.4 363.4 L235.5 380.2 L235.6 380.5 L235.9 369.4 L236.1 380.9 L236.3 380.6 L236.4 375.5 L236.6 361 L236.6 373.6 L236.7 374.5 L237 378.3 L237.1 364.7 L237.1 362.5 L237.4 376 L237.5 376.9 L237.6 377 L237.7 375.2 L237.8 366 L237.9 358.2 L238.1 381.6 L238.3 381.4 L238.3 359.4 L238.5 360.4 L238.7 363.9 L238.8 372.2 L238.9 366 L239.1 374.3 L239.2 381.1 L239.3 379.1 L239.5 360.8 L239.6 379.3 L239.6 359.8 L240.2 368.6 L240.2 362.9 L240.3 362.4 L240.3 370.2 L240.4 367.6 L240.9 378.3 L241 366.9 L241 379.9 L241.1 372.5 L241.1 363.6 L241.2 366.4 L241.3 381.6 L241.5 375.3 L241.7 376.8 L242.1 359.7 L242.3 381.6 L242.3 368.6 L242.4 374.2 L242.4 360.9 L242.6 382.2 L242.7 379.9 L242.9 366.7 L243.1 363.4 L243.2 382.3 L243.2 379.4 L243.5 375.7 L243.7 376.5 L243.7 377.2 L243.9 366.8 L243.9 377.3 L244.1 363.1 L244.3 376.7 L244.6 363.7 L244.7 366.6 L244.8 362.6 L244.9 366.6 L245.1 379.7 L245.2 370.6 L245.3 368.4 L245.5 366.4 L245.8 380.1 L245.8 371.2 L245.9 381.3 L246 370.3 L246.1 363.9 L246.3 374.7 L246.4 379.3 L246.4 376.5 L246.7 373.8 L246.9 373.8 L247 365.1 L247.1 373 L247.4 375.5 L247.5 356.6 L247.6 351.5 L247.7 355.3 L247.7 360.9 L247.9 355.3 L247.9 355.6 L248.1 350.1 L248.3 334.4 L248.5 371 L248.7 365.9 L248.8 367.9 L248.8 373.6 L248.9 354.1 L249 361.8 L249 382.8 L249.2 357.4 L249.3 368.1 L249.6 368.7 L249.9 353.6 L250 365.9 L250.1 370.7 L250.2 378.1 L250.3 357.5 L250.4 368.1 L250.5 337 L250.7 352.2 L250.8 378.2 L250.8 356.3 L251 369.8 L251.3 363.3 L251.6 380.8 L251.7 354.3 L252 366.5 L252 355.4 L252 346 L252 357.4 L252.3 324.1 L252.4 361.2 L252.5 353.4 L252.5 375 L252.6 358 L253 336.7 L253 381.6 L253.2 379.3 L253.3 358.8 L253.4 376 L253.5 366.7 L253.7 378.8 L253.8 383 L254 382.5 L254.2 371.6 L254.2 369.6 L254.4 368.2 L254.5 346 L254.6 370.4 L254.8 359.1 L255.2 370.1 L255.2 372.1 L255.3 373.3 L255.4 362 L255.4 363.7 L255.4 367 L255.8 374 L255.9 353.2 L256.1 379.3 L256.1 367.2 L256.1 372.4 L256.2 382.3 L256.3 296.3 L256.7 358.9 L256.8 372.1 L256.9 380.3 L257.2 379.8 L257.5 361.8 L257.5 364.6 L257.5 367.1 L257.6 377.6 L257.6 360.3 L257.6 375.9 L258 326.4 L258.2 375.9 L258.3 373.3 L258.3 359.6 L258.4 356.3 L258.5 381.3 L258.5 379.6 L258.9 377.6 L258.9 358.5 L259.1 368.7 L259.3 355.9 L259.5 376.8 L259.6 383.2 L259.9 358 L259.9 370.5 L260 331 L260.1 370 L260.3 345.5 L260.3 382.4 L260.6 382.1 L260.7 372.8 L260.8 382.2 L261 355.8 L261 377.7 L261.3 368 L261.3 381.1 L261.4 345.2 L261.5 356 L261.7 381.5 L261.8 365.5 L261.9 376.9 L262.1 344.7 L262.3 368.6 L262.6 359.6 L262.6 383 L262.6 377.5 L262.8 377.4 L262.8 363.1 L263 336.7 L263.1 370 L263.3 377.7 L263.3 376.4 L263.3 342.6 L263.6 359.5 L263.9 380.8 L264 370.6 L264.1 383.6 L264.2 383.4 L264.3 381.1 L264.4 349.8 L264.6 368.3 L264.7 364.3 L264.8 366.3 L264.9 339.4 L265.3 376.2 L265.4 358.3 L265.4 347.4 L265.5 384.4 L265.7 378.6 L265.8 380.3 L266.2 373 L266.2 351.8 L266.3 380 L266.3 377.3 L266.5 361.6 L266.6 379.1 L266.7 375.2 L267.1 345.5 L267.3 379.5 L267.3 381.7 L267.5 360 L267.5 375.6 L267.7 376 L267.8 372.2 L268 376.2 L268.2 375.6 L268.2 365.6 L268.4 369.5 L268.5 372.8 L268.5 380.9 L269.1 379.3 L269.2 362.6 L269.2 367.8 L269.5 380.1 L269.5 372.1 L269.7 366.2 L269.8 386.8 L269.8 386.3 L269.9 384 L270.2 373.7 L270.2 380.5 L270.4 388 L270.6 381.9 L270.6 372.9 L270.8 366.8 L270.9 382.3 L271.2 376.4 L271.2 384.8 L271.4 373.2 L271.4 374.4 L271.7 376.7 L271.9 365.1 L272 373.9 L272.3 370 L272.4 373.1 L272.5 377.9 L272.7 387.4 L272.7 367.5 L272.9 368.7 L273.2 367.6 L273.5 374.1 L273.6 380.5 L273.6 369.4 L273.6 356.2 L274.1 368.1 L274.4 381.6 L274.5 380.4 L274.6 383.7 L274.8 384.4 L274.8 384.8 L274.8 386.1 L275.3 366.4 L275.4 369.8 L275.5 380.8 L275.6 384.2 L275.8 382.3 L276.3 377.2 L276.4 370.5 L276.6 368 L276.8 386.7 L276.9 373.6 L277 368.8 L277.2 371.3 L277.2 371.1 L277.4 369.2 L277.6 361.9 L277.6 386.1 L277.8 368.5 L278.3 385 L278.4 377.3 L278.4 357 L278.7 382 L278.9 385.6 L279 378.8 L279.1 379.2 L279.6 381.6 L279.6 377.3 L279.9 384 L279.9 383.8 L279.9 385.7 L280.2 370.7 L280.2 378.5 L280.5 375.3 L281 377.6 L281 386.3 L281 367.4 L281.3 375 L281.5 381.9 L281.6 385.1 L281.8 386.2 L282.1 377.5 L282.2 378.1 L282.4 368.8 L282.7 378.4 L282.9 380.8 L283.1 386.1 L283.1 377.4 L283.3 368.5 L283.4 384.5 L283.4 381.7 L284 323 L284 373.2 L284 369.3 L284.2 384.3 L284.2 376.3 L284.5 376 L284.6 381.9 L284.7 371.4 L284.8 384.9 L285.1 384.5 L285.2 365.2 L285.6 380.3 L285.7 379.3 L285.8 387.3 L286 378 L286.2 378.3 L286.3 385.8 L286.3 372.5 L287 382.9 L287 352.7 L287.1 376.8 L287.2 386.5 L287.3 385.1 L287.3 384.4 L287.4 370.3 L287.9 381.5 L287.9 376.9 L288.1 384.1 L288.1 387.2 L288.2 373.3 L288.7 384.9 L288.8 373.1 L288.9 388.2 L289.4 382.1 L289.4 387.9 L289.5 374.2 L289.5 377.4 L289.9 372.2 L290 374.6 L290.1 363.2 L290.5 385.3 L290.6 388.2 L290.6 388.2 L290.8 378.9 L291.1 365.5 L291.2 377.6 L291.3 378.4 L291.7 373.5 L291.7 378.2 L291.7 385.6 L292.4 378.7 L292.6 367.7 L292.6 381.5 L292.8 378.6 L293.1 382 L293.2 385.9 L293.2 386.6 L293.3 369.4 L293.5 386.4 L293.6 376.4 L294 375.8 L294.3 383 L294.3 380.4 L294.6 365.8 L294.6 374 L294.7 365.5 L295.1 369.2 L295.2 366.8 L295.4 371.1 L295.5 369.8 L295.6 386.1 L295.6 353.8 L296 382 L296.2 387.3 L296.3 371.9 L296.3 378.1 L296.5 368.9 L296.6 372.6 L296.9 381.3 L297.4 373.5 L297.5 387 L297.7 373 L297.8 377.7 L298 375.2 L298 385.4 L298.4 378.6 L298.7 377.1 L298.7 377.3 L298.8 387.2 L298.9 381.8 L298.9 380.7 L299.3 379.3 L299.4 383.8 L299.7 379.7 L299.7 385.8 L300 374.6 L300.3 374.2 L300.3 379.2 L300.5 369.9 L300.6 371 L301 376.2 L301.2 385.5 L301.3 373.9 L301.4 371.3 L301.5 366 L301.6 361.9 L301.9 382.1 L302.2 379.9 L302.4 381.2 L302.4 353.7 L302.7 380 L302.9 380.1 L303 378.8 L303 376.7 L303.3 366.6 L303.5 363.4 L303.9 384.5 L304 379.1 L304.1 381.5 L304.2 381.4 L304.2 386.8 L304.4 374.4 L304.6 385.6 L304.8 387.4 L304.9 369.2 L305.3 378.8 L305.4 376.5 L305.4 363.1 L305.5 377 L306.2 361.8 L306.3 376.7 L306.4 381.4 L306.4 378.3 L306.6 381.5 L306.8 377.4 L307 378 L307.2 381.1 L307.3 385.4 L307.5 384.8 L308 371.7 L308 377.5 L308.1 381.1 L308.1 379.2 L308.4 355.7 L308.6 385.7 L308.8 381 L309 369.4 L309.2 368 L309.3 369.1 L309.6 386.2 L309.8 384.9 L309.8 368.6 L309.9 374.3 L309.9 386.8 L310.3 376.9 L310.4 366.2 L310.5 375.6 L311.1 387.1 L311.1 374.1 L311.3 372.5 L311.4 373.7 L311.6 360.6 L311.7 379.2 L311.7 373.2 L312 373.2 L312.3 378.2 L312.4 381.8 L312.7 381.5 L312.7 368 L312.8 372.8 L313.3 377.7 L313.3 383.9 L313.5 379 L313.6 385.2 L313.7 379.3 L313.9 383.3 L314.3 373.3 L314.4 378.3 L314.5 371.7 L314.5 385.8 L314.9 381.7 L315.2 368.5 L315.3 383.4 L315.6 382.5 L315.8 380.7 L315.8 370 L316 380 L316.2 376.1 L316.5 385.5 L316.5 378.2 L316.6 386.4 L316.8 368.5 L316.9 367.9 L317.2 373.4 L317.3 360 L317.5 367.8 L317.9 378.5 L318 377.8 L318 385.4 L318.2 379.3 L318.3 383.7 L318.7 384 L318.8 385.6 L319.1 384.8" fill="none" stroke="#828282" stroke-width="0.6"/>
<g class="rb" fill="#999999" stroke="#5c5c5c" stroke-width="0.55">
<ellipse cx="35.1" cy="384.4"/>
<ellipse cx="35.2" cy="387.9"/>
<ellipse cx="35.3" cy="378"/>
<ellipse cx="35.5" cy="382.8"/>
<ellipse cx="35.6" cy="381.8"/>
<ellipse cx="35.8" cy="379"/>
<ellipse cx="35.8" cy="383.7"/>
<ellipse cx="36" cy="384.4"/>
<ellipse cx="36" cy="389.3"/>
<ellipse cx="36.5" cy="388.7"/>
<ellipse cx="36.6" cy="389"/>
<ellipse cx="36.6" cy="386.8"/>
<ellipse cx="36.7" cy="382"/>
<ellipse cx="36.7" cy="381.3"/>
<ellipse cx="36.8" cy="378.4"/>
<ellipse cx="37" cy="386.5"/>
<ellipse cx="37.2" cy="384.9"/>
<ellipse cx="37.2" cy="379.1"/>
<ellipse cx="37.3" cy="376.9"/>
<ellipse cx="37.7" cy="378.8"/>
<ellipse cx="37.8" cy="377"/>
<ellipse cx="37.9" cy="380.7"/>
<ellipse cx="38.1" cy="383.8"/>
<ellipse cx="38.1" cy="379.7"/>
<ellipse cx="38.3" cy="388.8"/>
<ellipse cx="38.4" cy="387.5"/>
<ellipse cx="38.6" cy="387.5"/>
<ellipse cx="38.9" cy="385.3"/>
<ellipse cx="39" cy="380.9"/>
<ellipse cx="39.1" cy="388.5"/>
<ellipse cx="39.1" cy="381.6"/>
<ellipse cx="39.2" cy="386.9"/>
<ellipse cx="39.5" cy="378.5"/>
<ellipse cx="39.8" cy="378.9"/>
<ellipse cx="39.9" cy="386.8"/>
<ellipse cx="39.9" cy="380.1"/>
<ellipse cx="40.1" cy="381.1"/>
<ellipse cx="40.3" cy="385.1"/>
<ellipse cx="40.5" cy="377.3"/>
<ellipse cx="40.6" cy="378.4"/>
<ellipse cx="40.7" cy="378.8"/>
<ellipse cx="40.8" cy="380.5"/>
<ellipse cx="40.9" cy="379.2"/>
<ellipse cx="41.1" cy="385.8"/>
<ellipse cx="41.1" cy="378.7"/>
<ellipse cx="41.2" cy="379.9"/>
<ellipse cx="41.3" cy="385.8"/>
<ellipse cx="41.5" cy="389.3"/>
<ellipse cx="41.6" cy="386.4"/>
<ellipse cx="41.8" cy="378.6"/>
<ellipse cx="42.1" cy="382.7"/>
<ellipse cx="42.1" cy="380.8"/>
<ellipse cx="42.1" cy="388.7"/>
<ellipse cx="42.2" cy="389"/>
<ellipse cx="42.5" cy="382.9"/>
<ellipse cx="42.7" cy="389.5"/>
<ellipse cx="42.8" cy="380.5"/>
<ellipse cx="42.9" cy="380.2"/>
<ellipse cx="43" cy="378.7"/>
<ellipse cx="43.1" cy="378.4"/>
<ellipse cx="43.3" cy="387.6"/>
<ellipse cx="43.5" cy="379.8"/>
<ellipse cx="43.6" cy="385.2"/>
<ellipse cx="43.8" cy="389.8"/>
<ellipse cx="43.8" cy="384.3"/>
<ellipse cx="43.8" cy="382.6"/>
<ellipse cx="44.2" cy="381.7"/>
<ellipse cx="44.6" cy="383.1"/>
<ellipse cx="44.7" cy="389.2"/>
<ellipse cx="44.7" cy="388.2"/>
<ellipse cx="44.7" cy="388.5"/>
<ellipse cx="44.9" cy="381.7"/>
<ellipse cx="45.1" cy="387.5"/>
<ellipse cx="45.2" cy="384.6"/>
<ellipse cx="45.3" cy="389"/>
<ellipse cx="45.4" cy="382.3"/>
<ellipse cx="45.6" cy="389.1"/>
<ellipse cx="45.7" cy="390.3"/>
<ellipse cx="46" cy="388.2"/>
<ellipse cx="46.2" cy="383.9"/>
<ellipse cx="46.3" cy="381.7"/>
<ellipse cx="46.4" cy="387.5"/>
<ellipse cx="46.4" cy="382.1"/>
<ellipse cx="46.5" cy="378.6"/>
<ellipse cx="46.9" cy="381.6"/>
<ellipse cx="46.9" cy="385.1"/>
<ellipse cx="47" cy="390.7"/>
<ellipse cx="47" cy="384.2"/>
<ellipse cx="47.4" cy="387.8"/>
<ellipse cx="47.4" cy="383.4"/>
<ellipse cx="47.5" cy="383.6"/>
<ellipse cx="47.8" cy="387.2"/>
<ellipse cx="47.8" cy="386.5"/>
<ellipse cx="47.9" cy="389.4"/>
<ellipse cx="48.1" cy="389.2"/>
<ellipse cx="48.4" cy="385.6"/>
<ellipse cx="48.7" cy="388.6"/>
<ellipse cx="48.7" cy="379.9"/>
<ellipse cx="48.8" cy="387.9"/>
<ellipse cx="48.8" cy="389.8"/>
<ellipse cx="49" cy="380.1"/>
<ellipse cx="49.1" cy="378.3"/>
<ellipse cx="49.2" cy="380.4"/>
<ellipse cx="49.3" cy="383.7"/>
<ellipse cx="49.3" cy="385.5"/>
<ellipse cx="49.5" cy="389"/>
<ellipse cx="49.6" cy="390.3"/>
<ellipse cx="49.7" cy="378.3"/>
<ellipse cx="50" cy="380.6"/>
<ellipse cx="50.1" cy="388.8"/>
<ellipse cx="50.5" cy="389.9"/>
<ellipse cx="50.6" cy="383.3"/>
<ellipse cx="50.7" cy="381.9"/>
<ellipse cx="50.9" cy="378.4"/>
<ellipse cx="51.1" cy="385"/>
<ellipse cx="51.1" cy="378.8"/>
<ellipse cx="51.3" cy="371.9"/>
<ellipse cx="51.4" cy="381.3"/>
<ellipse cx="51.5" cy="389.4"/>
<ellipse cx="51.6" cy="388.9"/>
<ellipse cx="51.6" cy="386.2"/>
<ellipse cx="52" cy="382.8"/>
<ellipse cx="52.1" cy="381"/>
<ellipse cx="52.3" cy="389"/>
<ellipse cx="52.3" cy="383.5"/>
<ellipse cx="52.4" cy="376.9"/>
<ellipse cx="52.7" cy="387.7"/>
<ellipse cx="52.8" cy="378.2"/>
<ellipse cx="52.9" cy="376.1"/>
<ellipse cx="53" cy="380.4"/>
<ellipse cx="53.2" cy="389.6"/>
<ellipse cx="53.3" cy="385"/>
<ellipse cx="53.4" cy="384.9"/>
<ellipse cx="53.6" cy="386.4"/>
<ellipse cx="53.7" cy="388.6"/>
<ellipse cx="54" cy="380.6"/>
<ellipse cx="54.1" cy="386.2"/>
<ellipse cx="54.1" cy="388.6"/>
<ellipse cx="54.2" cy="389.1"/>
<ellipse cx="54.5" cy="382.7"/>
<ellipse cx="54.7" cy="386.6"/>
<ellipse cx="54.8" cy="388.7"/>
<ellipse cx="54.8" cy="383.4"/>
<ellipse cx="55" cy="385.4"/>
<ellipse cx="55" cy="389.6"/>
<ellipse cx="55.3" cy="377.3"/>
<ellipse cx="55.3" cy="380.9"/>
<ellipse cx="55.4" cy="380.2"/>
<ellipse cx="56" cy="383.8"/>
<ellipse cx="56.1" cy="383.9"/>
<ellipse cx="56.1" cy="387"/>
<ellipse cx="56.1" cy="386.8"/>
<ellipse cx="56.2" cy="389.1"/>
<ellipse cx="56.3" cy="377"/>
<ellipse cx="56.4" cy="384.1"/>
<ellipse cx="56.5" cy="386.7"/>
<ellipse cx="56.7" cy="380.8"/>
<ellipse cx="56.9" cy="386.7"/>
<ellipse cx="57" cy="387.9"/>
<ellipse cx="57.2" cy="380.3"/>
<ellipse cx="57.5" cy="387.7"/>
<ellipse cx="57.6" cy="388.4"/>
<ellipse cx="57.8" cy="384.4"/>
<ellipse cx="58.1" cy="389.2"/>
<ellipse cx="58.1" cy="382.7"/>
<ellipse cx="58.2" cy="377.9"/>
<ellipse cx="58.3" cy="377.7"/>
<ellipse cx="58.3" cy="379"/>
<ellipse cx="58.4" cy="387.1"/>
<ellipse cx="58.6" cy="382.1"/>
<ellipse cx="58.7" cy="389"/>
<ellipse cx="58.7" cy="380.8"/>
<ellipse cx="59.1" cy="386"/>
<ellipse cx="59.3" cy="383.1"/>
<ellipse cx="59.3" cy="384.5"/>
<ellipse cx="59.6" cy="389.1"/>
<ellipse cx="59.7" cy="377.1"/>
<ellipse cx="60" cy="389.4"/>
<ellipse cx="60" cy="376.7"/>
<ellipse cx="60.1" cy="384.7"/>
<ellipse cx="60.2" cy="380.2"/>
<ellipse cx="60.2" cy="389.6"/>
<ellipse cx="60.3" cy="386.5"/>
<ellipse cx="60.4" cy="384.4"/>
<ellipse cx="60.7" cy="384"/>
<ellipse cx="60.9" cy="384.2"/>
<ellipse cx="61.1" cy="388.7"/>
<ellipse cx="61.2" cy="387.7"/>
<ellipse cx="61.3" cy="387.3"/>
<ellipse cx="61.5" cy="380.6"/>
<ellipse cx="61.5" cy="380.7"/>
<ellipse cx="61.5" cy="382.9"/>
<ellipse cx="61.7" cy="382.4"/>
<ellipse cx="61.8" cy="375.5"/>
<ellipse cx="62.1" cy="384.5"/>
<ellipse cx="62.3" cy="382.7"/>
<ellipse cx="62.6" cy="383.9"/>
<ellipse cx="62.8" cy="379.5"/>
<ellipse cx="63" cy="382.4"/>
<ellipse cx="63" cy="388"/>
<ellipse cx="63.1" cy="386.5"/>
<ellipse cx="63.3" cy="387.3"/>
<ellipse cx="63.5" cy="383.4"/>
<ellipse cx="63.5" cy="383.1"/>
<ellipse cx="63.7" cy="383.1"/>
<ellipse cx="64" cy="388"/>
<ellipse cx="64" cy="387.4"/>
<ellipse cx="64.1" cy="374.1"/>
<ellipse cx="64.1" cy="389.3"/>
<ellipse cx="64.3" cy="384.7"/>
<ellipse cx="64.4" cy="387.2"/>
<ellipse cx="64.6" cy="382.7"/>
<ellipse cx="64.7" cy="376"/>
<ellipse cx="64.7" cy="380.9"/>
<ellipse cx="65" cy="382.2"/>
<ellipse cx="65.2" cy="388"/>
<ellipse cx="65.3" cy="383.3"/>
<ellipse cx="65.4" cy="374.3"/>
<ellipse cx="65.5" cy="389"/>
<ellipse cx="65.6" cy="386.8"/>
<ellipse cx="65.8" cy="374.1"/>
<ellipse cx="65.8" cy="383.8"/>
<ellipse cx="65.9" cy="378.8"/>
<ellipse cx="66.3" cy="385.8"/>
<ellipse cx="66.3" cy="381.1"/>
<ellipse cx="66.4" cy="388.5"/>
<ellipse cx="66.5" cy="383.9"/>
<ellipse cx="66.7" cy="374.7"/>
<ellipse cx="66.9" cy="381.4"/>
<ellipse cx="67" cy="381.1"/>
<ellipse cx="67.2" cy="387.6"/>
<ellipse cx="67.3" cy="378.7"/>
<ellipse cx="67.5" cy="377.1"/>
<ellipse cx="67.5" cy="377.2"/>
<ellipse cx="67.7" cy="384.1"/>
<ellipse cx="68" cy="377.4"/>
<ellipse cx="68.1" cy="375.4"/>
<ellipse cx="68.4" cy="387.2"/>
<ellipse cx="68.5" cy="382.3"/>
<ellipse cx="68.5" cy="374.1"/>
<ellipse cx="68.5" cy="378.1"/>
<ellipse cx="68.7" cy="380.3"/>
<ellipse cx="68.8" cy="383.2"/>
<ellipse cx="68.9" cy="388.4"/>
<ellipse cx="69.1" cy="383.1"/>
<ellipse cx="69.2" cy="384.7"/>
<ellipse cx="69.3" cy="388.5"/>
<ellipse cx="69.6" cy="382.4"/>
<ellipse cx="69.8" cy="374.1"/>
<ellipse cx="69.9" cy="385.3"/>
<ellipse cx="70.1" cy="374.2"/>
<ellipse cx="70.1" cy="383.2"/>
<ellipse cx="70.2" cy="387.1"/>
<ellipse cx="70.4" cy="378.9"/>
<ellipse cx="70.7" cy="383.4"/>
<ellipse cx="70.7" cy="375.1"/>
<ellipse cx="70.9" cy="383"/>
<ellipse cx="70.9" cy="374.4"/>
<ellipse cx="71" cy="387.2"/>
<ellipse cx="71.1" cy="388.5"/>
<ellipse cx="71.3" cy="376.4"/>
<ellipse cx="71.4" cy="378.6"/>
<ellipse cx="71.8" cy="382.3"/>
<ellipse cx="71.8" cy="387.2"/>
<ellipse cx="72" cy="387.9"/>
<ellipse cx="72.1" cy="379.6"/>
<ellipse cx="72.3" cy="377.9"/>
<ellipse cx="72.3" cy="380.3"/>
<ellipse cx="72.4" cy="383.4"/>
<ellipse cx="72.6" cy="384.1"/>
<ellipse cx="72.7" cy="387.2"/>
<ellipse cx="72.7" cy="374.3"/>
<ellipse cx="73" cy="383.5"/>
<ellipse cx="73.1" cy="386.3"/>
<ellipse cx="73.2" cy="378.4"/>
<ellipse cx="73.3" cy="365.1"/>
<ellipse cx="73.6" cy="387.8"/>
<ellipse cx="73.6" cy="379.8"/>
<ellipse cx="73.7" cy="384.3"/>
<ellipse cx="73.8" cy="380.3"/>
<ellipse cx="74" cy="376"/>
<ellipse cx="74.1" cy="374.6"/>
<ellipse cx="74.1" cy="384.4"/>
<ellipse cx="74.6" cy="384.3"/>
<ellipse cx="74.7" cy="374.6"/>
<ellipse cx="74.8" cy="383.9"/>
<ellipse cx="74.8" cy="386.2"/>
<ellipse cx="74.9" cy="378.6"/>
<ellipse cx="75.1" cy="380.2"/>
<ellipse cx="75.2" cy="386"/>
<ellipse cx="75.4" cy="372.6"/>
<ellipse cx="75.6" cy="378.7"/>
<ellipse cx="75.8" cy="385.7"/>
<ellipse cx="75.9" cy="378.9"/>
<ellipse cx="76" cy="378.3"/>
<ellipse cx="76" cy="373.1"/>
<ellipse cx="76.3" cy="384.4"/>
<ellipse cx="76.4" cy="384.8"/>
<ellipse cx="76.5" cy="374.7"/>
<ellipse cx="76.6" cy="377.3"/>
<ellipse cx="76.7" cy="373.2"/>
<ellipse cx="77" cy="361.4"/>
<ellipse cx="77" cy="376.3"/>
<ellipse cx="77.1" cy="374.5"/>
<ellipse cx="77.2" cy="372.6"/>
<ellipse cx="77.3" cy="372.1"/>
<ellipse cx="77.5" cy="387"/>
<ellipse cx="77.8" cy="375.6"/>
<ellipse cx="77.8" cy="380.7"/>
<ellipse cx="77.8" cy="373.2"/>
<ellipse cx="78.1" cy="385.8"/>
<ellipse cx="78.2" cy="374"/>
<ellipse cx="78.4" cy="371.5"/>
<ellipse cx="78.5" cy="377"/>
<ellipse cx="78.6" cy="372.6"/>
<ellipse cx="79" cy="372.5"/>
<ellipse cx="79" cy="381.4"/>
<ellipse cx="79.2" cy="372.1"/>
<ellipse cx="79.2" cy="380.7"/>
<ellipse cx="79.2" cy="372.4"/>
<ellipse cx="79.4" cy="384.2"/>
<ellipse cx="79.8" cy="383.6"/>
<ellipse cx="79.9" cy="378.3"/>
<ellipse cx="80" cy="373.1"/>
<ellipse cx="80.1" cy="384.3"/>
<ellipse cx="80.3" cy="375.2"/>
<ellipse cx="80.5" cy="382.7"/>
<ellipse cx="80.5" cy="381.2"/>
<ellipse cx="80.6" cy="387.1"/>
<ellipse cx="80.8" cy="372.6"/>
<ellipse cx="81" cy="383.4"/>
<ellipse cx="81" cy="380.7"/>
<ellipse cx="81.1" cy="386.5"/>
<ellipse cx="81.6" cy="380.8"/>
<ellipse cx="81.8" cy="385.8"/>
<ellipse cx="81.9" cy="381.4"/>
<ellipse cx="82" cy="375.8"/>
<ellipse cx="82" cy="383.6"/>
<ellipse cx="82" cy="374.9"/>
<ellipse cx="82.3" cy="377.6"/>
<ellipse cx="82.3" cy="377.3"/>
<ellipse cx="82.6" cy="374.7"/>
<ellipse cx="82.6" cy="370.8"/>
<ellipse cx="82.8" cy="384.7"/>
<ellipse cx="82.9" cy="386.6"/>
<ellipse cx="83" cy="374.7"/>
<ellipse cx="83.2" cy="376.7"/>
<ellipse cx="83.2" cy="381.5"/>
<ellipse cx="83.3" cy="386.1"/>
<ellipse cx="83.5" cy="379.4"/>
<ellipse cx="83.6" cy="378.3"/>
<ellipse cx="83.6" cy="375.7"/>
<ellipse cx="83.9" cy="386.2"/>
<ellipse cx="84.2" cy="378.5"/>
<ellipse cx="84.3" cy="381.9"/>
<ellipse cx="84.5" cy="376.1"/>
<ellipse cx="84.6" cy="374.1"/>
<ellipse cx="84.7" cy="382.4"/>
<ellipse cx="84.8" cy="379.8"/>
<ellipse cx="84.8" cy="368"/>
<ellipse cx="85" cy="378.8"/>
<ellipse cx="85.3" cy="383.2"/>
<ellipse cx="85.5" cy="382.4"/>
<ellipse cx="85.5" cy="374.6"/>
<ellipse cx="85.6" cy="382"/>
<ellipse cx="85.9" cy="383.7"/>
<ellipse cx="86.1" cy="376.9"/>
<ellipse cx="86.1" cy="380.2"/>
<ellipse cx="86.2" cy="380.5"/>
<ellipse cx="86.3" cy="384.8"/>
<ellipse cx="86.4" cy="377.6"/>
<ellipse cx="86.7" cy="385.1"/>
<ellipse cx="86.8" cy="383.1"/>
<ellipse cx="86.9" cy="384"/>
<ellipse cx="87" cy="384.7"/>
<ellipse cx="87.2" cy="374.5"/>
<ellipse cx="87.2" cy="376"/>
<ellipse cx="87.4" cy="378.8"/>
<ellipse cx="87.5" cy="384.6"/>
<ellipse cx="87.6" cy="373.8"/>
<ellipse cx="87.8" cy="381.2"/>
<ellipse cx="88.3" cy="385.7"/>
<ellipse cx="88.4" cy="374.9"/>
<ellipse cx="88.5" cy="377.7"/>
<ellipse cx="88.5" cy="387.2"/>
<ellipse cx="88.5" cy="378.9"/>
<ellipse cx="88.6" cy="386.5"/>
<ellipse cx="89" cy="387.1"/>
<ellipse cx="89" cy="382.2"/>
<ellipse cx="89.1" cy="380.2"/>
<ellipse cx="89.1" cy="373.7"/>
<ellipse cx="89.5" cy="383.1"/>
<ellipse cx="89.6" cy="383.9"/>
<ellipse cx="89.9" cy="373.4"/>
<ellipse cx="89.9" cy="381.6"/>
<ellipse cx="89.9" cy="384"/>
<ellipse cx="90.1" cy="371.7"/>
<ellipse cx="90.3" cy="378.4"/>
<ellipse cx="90.4" cy="385.2"/>
<ellipse cx="90.4" cy="373"/>
<ellipse cx="90.5" cy="365"/>
<ellipse cx="90.8" cy="384.3"/>
<ellipse cx="90.9" cy="375.3"/>
<ellipse cx="90.9" cy="376.3"/>
<ellipse cx="91.1" cy="382.5"/>
<ellipse cx="91.2" cy="385.2"/>
<ellipse cx="91.6" cy="372.8"/>
<ellipse cx="91.6" cy="384.8"/>
<ellipse cx="91.7" cy="376.5"/>
<ellipse cx="91.8" cy="378.9"/>
<ellipse cx="92" cy="384.7"/>
<ellipse cx="92.1" cy="376.8"/>
<ellipse cx="92.2" cy="374.2"/>
<ellipse cx="92.3" cy="376.7"/>
<ellipse cx="92.4" cy="366.7"/>
<ellipse cx="92.7" cy="375.3"/>
<ellipse cx="92.9" cy="382.2"/>
<ellipse cx="93.1" cy="380.6"/>
<ellipse cx="93.2" cy="377"/>
<ellipse cx="93.2" cy="379.6"/>
<ellipse cx="93.3" cy="375.1"/>
<ellipse cx="93.4" cy="376.3"/>
<ellipse cx="93.7" cy="372.3"/>
<ellipse cx="93.9" cy="379"/>
<ellipse cx="94" cy="375.8"/>
<ellipse cx="94.1" cy="385"/>
<ellipse cx="94.2" cy="378.6"/>
<ellipse cx="94.3" cy="386"/>
<ellipse cx="94.5" cy="380.7"/>
<ellipse cx="94.5" cy="384.5"/>
<ellipse cx="94.6" cy="378.1"/>
<ellipse cx="95.1" cy="374.8"/>
<ellipse cx="95.2" cy="364"/>
<ellipse cx="95.2" cy="376.6"/>
<ellipse cx="95.3" cy="379.2"/>
<ellipse cx="95.5" cy="385"/>
<ellipse cx="95.5" cy="383.1"/>
<ellipse cx="95.7" cy="378.3"/>
<ellipse cx="95.8" cy="384.1"/>
<ellipse cx="96" cy="378.4"/>
<ellipse cx="96.2" cy="372.2"/>
<ellipse cx="96.3" cy="378.5"/>
<ellipse cx="96.3" cy="385.6"/>
<ellipse cx="96.4" cy="379.8"/>
<ellipse cx="96.7" cy="368.8"/>
<ellipse cx="96.9" cy="372.5"/>
<ellipse cx="97" cy="375.9"/>
<ellipse cx="97.2" cy="384"/>
<ellipse cx="97.2" cy="378.7"/>
<ellipse cx="97.5" cy="383.1"/>
<ellipse cx="97.5" cy="383.3"/>
<ellipse cx="97.8" cy="385.3"/>
<ellipse cx="97.8" cy="369.1"/>
<ellipse cx="98.1" cy="385.2"/>
<ellipse cx="98.1" cy="384.2"/>
<ellipse cx="98.1" cy="385.6"/>
<ellipse cx="98.2" cy="384.6"/>
<ellipse cx="98.4" cy="378.1"/>
<ellipse cx="98.5" cy="381.8"/>
<ellipse cx="98.7" cy="372.4"/>
<ellipse cx="98.9" cy="379.4"/>
<ellipse cx="99" cy="374.3"/>
<ellipse cx="99.1" cy="381.1"/>
<ellipse cx="99.4" cy="381.5"/>
<ellipse cx="99.4" cy="380.9"/>
<ellipse cx="99.4" cy="373.6"/>
<ellipse cx="99.6" cy="378.4"/>
<ellipse cx="99.6" cy="382.1"/>
<ellipse cx="99.7" cy="377.8"/>
<ellipse cx="100.1" cy="377"/>
<ellipse cx="100.4" cy="385.3"/>
<ellipse cx="100.6" cy="384.5"/>
<ellipse cx="100.6" cy="382.8"/>
<ellipse cx="100.7" cy="382.5"/>
<ellipse cx="100.7" cy="377"/>
<ellipse cx="100.9" cy="383.2"/>
<ellipse cx="100.9" cy="378.1"/>
<ellipse cx="101.3" cy="380.7"/>
<ellipse cx="101.4" cy="384.6"/>
<ellipse cx="101.5" cy="373.2"/>
<ellipse cx="101.6" cy="367.1"/>
<ellipse cx="101.6" cy="382.6"/>
<ellipse cx="102" cy="384.7"/>
<ellipse cx="102" cy="372.4"/>
<ellipse cx="102.2" cy="376.8"/>
<ellipse cx="102.2" cy="380.1"/>
<ellipse cx="102.4" cy="378.3"/>
<ellipse cx="102.6" cy="384.8"/>
<ellipse cx="102.8" cy="376.7"/>
<ellipse cx="102.8" cy="379.9"/>
<ellipse cx="102.8" cy="381.3"/>
<ellipse cx="102.9" cy="373.1"/>
<ellipse cx="103.1" cy="380.7"/>
<ellipse cx="103.4" cy="377.7"/>
<ellipse cx="103.5" cy="376.6"/>
<ellipse cx="103.8" cy="372.5"/>
<ellipse cx="103.8" cy="383.3"/>
<ellipse cx="104" cy="384.2"/>
<ellipse cx="104.2" cy="376"/>
<ellipse cx="104.4" cy="372.9"/>
<ellipse cx="104.4" cy="377.1"/>
<ellipse cx="104.5" cy="381.2"/>
<ellipse cx="104.7" cy="384.8"/>
<ellipse cx="104.9" cy="382.5"/>
<ellipse cx="105" cy="372.8"/>
<ellipse cx="105.1" cy="381.1"/>
<ellipse cx="105.2" cy="371.9"/>
<ellipse cx="105.4" cy="383.9"/>
<ellipse cx="105.5" cy="377.9"/>
<ellipse cx="105.7" cy="375.1"/>
<ellipse cx="105.7" cy="376.5"/>
<ellipse cx="105.9" cy="371.9"/>
<ellipse cx="106" cy="384.5"/>
<ellipse cx="106.3" cy="385.9"/>
<ellipse cx="106.5" cy="384.4"/>
<ellipse cx="106.6" cy="377.6"/>
<ellipse cx="106.7" cy="384.7"/>
<ellipse cx="106.8" cy="384.1"/>
<ellipse cx="107.1" cy="371.2"/>
<ellipse cx="107.2" cy="379"/>
<ellipse cx="107.3" cy="384.5"/>
<ellipse cx="107.3" cy="372.1"/>
<ellipse cx="107.5" cy="383"/>
<ellipse cx="107.6" cy="384.2"/>
<ellipse cx="107.8" cy="382"/>
<ellipse cx="107.8" cy="384.4"/>
<ellipse cx="107.9" cy="385.8"/>
<ellipse cx="108.3" cy="384.6"/>
<ellipse cx="108.5" cy="381.7"/>
<ellipse cx="108.6" cy="384.4"/>
<ellipse cx="108.6" cy="373.2"/>
<ellipse cx="108.7" cy="375.9"/>
<ellipse cx="109" cy="372"/>
<ellipse cx="109.1" cy="368.5"/>
<ellipse cx="109.2" cy="374.2"/>
<ellipse cx="109.4" cy="359.8"/>
<ellipse cx="109.4" cy="370.8"/>
<ellipse cx="109.5" cy="385.6"/>
<ellipse cx="109.7" cy="380.7"/>
<ellipse cx="109.8" cy="375.8"/>
<ellipse cx="110" cy="375.5"/>
<ellipse cx="110.1" cy="381.7"/>
<ellipse cx="110.2" cy="341.8"/>
<ellipse cx="110.2" cy="349"/>
<ellipse cx="110.3" cy="370.9"/>
<ellipse cx="110.5" cy="382.8"/>
<ellipse cx="110.5" cy="380.9"/>
<ellipse cx="110.7" cy="374.5"/>
<ellipse cx="110.8" cy="385"/>
<ellipse cx="110.9" cy="378.2"/>
<ellipse cx="111.1" cy="367"/>
<ellipse cx="111.3" cy="384.3"/>
<ellipse cx="111.4" cy="363.4"/>
<ellipse cx="111.6" cy="376.4"/>
<ellipse cx="111.7" cy="363.6"/>
<ellipse cx="111.9" cy="364.2"/>
<ellipse cx="112" cy="373.9"/>
<ellipse cx="112.2" cy="375"/>
<ellipse cx="112.2" cy="380"/>
<ellipse cx="112.4" cy="360.6"/>
<ellipse cx="112.5" cy="377"/>
<ellipse cx="112.6" cy="366.6"/>
<ellipse cx="112.9" cy="371.2"/>
<ellipse cx="113" cy="373.3"/>
<ellipse cx="113.3" cy="354.5"/>
<ellipse cx="113.4" cy="364.6"/>
<ellipse cx="113.4" cy="369.7"/>
<ellipse cx="113.5" cy="362.3"/>
<ellipse cx="113.8" cy="372.1"/>
<ellipse cx="113.8" cy="382.4"/>
<ellipse cx="114.1" cy="380.6"/>
<ellipse cx="114.1" cy="378.5"/>
<ellipse cx="114.3" cy="382.5"/>
<ellipse cx="114.3" cy="364.1"/>
<ellipse cx="114.4" cy="380.6"/>
<ellipse cx="114.6" cy="367.5"/>
<ellipse cx="114.7" cy="380.1"/>
<ellipse cx="114.8" cy="362.8"/>
<ellipse cx="115" cy="372.4"/>
<ellipse cx="115.3" cy="379.1"/>
<ellipse cx="115.4" cy="348.8"/>
<ellipse cx="115.4" cy="381.7"/>
<ellipse cx="115.6" cy="376"/>
<ellipse cx="115.9" cy="361.3"/>
<ellipse cx="116.2" cy="368.7"/>
<ellipse cx="116.2" cy="372.3"/>
<ellipse cx="116.2" cy="368.2"/>
<ellipse cx="116.4" cy="348.1"/>
<ellipse cx="116.5" cy="365.7"/>
<ellipse cx="116.6" cy="371.1"/>
<ellipse cx="116.8" cy="375"/>
<ellipse cx="116.9" cy="367.3"/>
<ellipse cx="116.9" cy="358.7"/>
<ellipse cx="116.9" cy="357"/>
<ellipse cx="117.3" cy="363.5"/>
<ellipse cx="117.6" cy="346.1"/>
<ellipse cx="117.7" cy="355.5"/>
<ellipse cx="117.7" cy="363.9"/>
<ellipse cx="117.8" cy="368.6"/>
<ellipse cx="118.1" cy="364.3"/>
<ellipse cx="118.1" cy="363.2"/>
<ellipse cx="118.2" cy="353.2"/>
<ellipse cx="118.2" cy="370.8"/>
<ellipse cx="118.5" cy="366.1"/>
<ellipse cx="118.8" cy="350.1"/>
<ellipse cx="119" cy="327.5"/>
<ellipse cx="119" cy="329"/>
<ellipse cx="119.1" cy="347.1"/>
<ellipse cx="119.2" cy="372.5"/>
<ellipse cx="119.3" cy="374.1"/>
<ellipse cx="119.4" cy="343.2"/>
<ellipse cx="119.8" cy="358.2"/>
<ellipse cx="119.8" cy="362.9"/>
<ellipse cx="120.1" cy="331"/>
<ellipse cx="120.1" cy="347.6"/>
<ellipse cx="120.1" cy="375.3"/>
<ellipse cx="120.4" cy="371.8"/>
<ellipse cx="120.6" cy="354.5"/>
<ellipse cx="120.7" cy="366.6"/>
<ellipse cx="120.9" cy="349.2"/>
<ellipse cx="121.1" cy="344.1"/>
<ellipse cx="121.2" cy="327"/>
<ellipse cx="121.3" cy="335"/>
<ellipse cx="121.4" cy="365.7"/>
<ellipse cx="121.4" cy="270.7"/>
<ellipse cx="121.4" cy="311.8"/>
<ellipse cx="121.4" cy="316.9"/>
<ellipse cx="121.5" cy="349"/>
<ellipse cx="121.6" cy="365.4"/>
<ellipse cx="121.7" cy="342.5"/>
<ellipse cx="122" cy="372.6"/>
<ellipse cx="122.1" cy="351.5"/>
<ellipse cx="122.3" cy="359.4"/>
<ellipse cx="122.3" cy="366"/>
<ellipse cx="122.4" cy="343.6"/>
<ellipse cx="122.6" cy="348.1"/>
<ellipse cx="122.6" cy="348.9"/>
<ellipse cx="122.7" cy="346.5"/>
<ellipse cx="122.9" cy="371.2"/>
<ellipse cx="123.2" cy="374.4"/>
<ellipse cx="123.4" cy="330.6"/>
<ellipse cx="123.5" cy="319.6"/>
<ellipse cx="123.6" cy="353.8"/>
<ellipse cx="123.8" cy="346.8"/>
<ellipse cx="124" cy="353.2"/>
<ellipse cx="124" cy="342.3"/>
<ellipse cx="124" cy="348.7"/>
<ellipse cx="124.4" cy="352.7"/>
<ellipse cx="124.5" cy="375.9"/>
<ellipse cx="124.8" cy="344.1"/>
<ellipse cx="124.9" cy="362.8"/>
<ellipse cx="124.9" cy="376.3"/>
<ellipse cx="125.2" cy="335.6"/>
<ellipse cx="125.3" cy="350.8"/>
<ellipse cx="125.3" cy="299"/>
<ellipse cx="125.4" cy="356"/>
<ellipse cx="125.4" cy="342.7"/>
<ellipse cx="125.5" cy="324.8"/>
<ellipse cx="125.6" cy="344.8"/>
<ellipse cx="125.6" cy="370.7"/>
<ellipse cx="125.9" cy="375.9"/>
<ellipse cx="125.9" cy="351.1"/>
<ellipse cx="126.1" cy="341.3"/>
<ellipse cx="126.3" cy="325.5"/>
<ellipse cx="126.3" cy="335.4"/>
<ellipse cx="126.5" cy="366.4"/>
<ellipse cx="127" cy="360"/>
<ellipse cx="127.1" cy="343.8"/>
<ellipse cx="127.1" cy="308.9"/>
<ellipse cx="127.2" cy="338.6"/>
<ellipse cx="127.3" cy="324.3"/>
<ellipse cx="127.6" cy="370.2"/>
<ellipse cx="127.7" cy="359.5"/>
<ellipse cx="127.7" cy="371.6"/>
<ellipse cx="127.7" cy="342.9"/>
<ellipse cx="127.8" cy="353.8"/>
<ellipse cx="128" cy="337"/>
<ellipse cx="128.1" cy="320"/>
<ellipse cx="128.2" cy="345.4"/>
<ellipse cx="128.4" cy="348.5"/>
<ellipse cx="128.8" cy="367"/>
<ellipse cx="128.9" cy="345.2"/>
<ellipse cx="128.9" cy="336.4"/>
<ellipse cx="129" cy="355.7"/>
<ellipse cx="129" cy="284.4"/>
<ellipse cx="129" cy="292.9"/>
<ellipse cx="129.2" cy="369.9"/>
<ellipse cx="129.3" cy="372.8"/>
<ellipse cx="129.3" cy="340.3"/>
<ellipse cx="129.4" cy="358.8"/>
<ellipse cx="129.5" cy="346.1"/>
<ellipse cx="129.8" cy="343"/>
<ellipse cx="129.9" cy="361.5"/>
<ellipse cx="130.1" cy="331.2"/>
<ellipse cx="130.3" cy="355.7"/>
<ellipse cx="130.4" cy="373.9"/>
<ellipse cx="130.6" cy="352.2"/>
<ellipse cx="130.8" cy="316.9"/>
<ellipse cx="131" cy="365.8"/>
<ellipse cx="131.1" cy="325.2"/>
<ellipse cx="131.2" cy="338.2"/>
<ellipse cx="131.3" cy="367.9"/>
<ellipse cx="131.4" cy="359.2"/>
<ellipse cx="131.5" cy="368.6"/>
<ellipse cx="131.8" cy="371"/>
<ellipse cx="131.9" cy="335.3"/>
<ellipse cx="131.9" cy="371.6"/>
<ellipse cx="132" cy="375.9"/>
<ellipse cx="132.6" cy="359.4"/>
<ellipse cx="132.6" cy="359.3"/>
<ellipse cx="132.6" cy="360.6"/>
<ellipse cx="132.6" cy="353"/>
<ellipse cx="132.8" cy="359.3"/>
<ellipse cx="133.1" cy="345.2"/>
<ellipse cx="133.2" cy="343.8"/>
<ellipse cx="133.3" cy="336.8"/>
<ellipse cx="133.5" cy="370.9"/>
<ellipse cx="133.6" cy="370.4"/>
<ellipse cx="133.7" cy="367.5"/>
<ellipse cx="133.8" cy="334.8"/>
<ellipse cx="133.9" cy="368.1"/>
<ellipse cx="134.1" cy="355.1"/>
<ellipse cx="134.4" cy="346.3"/>
<ellipse cx="134.4" cy="362.2"/>
<ellipse cx="134.7" cy="343.1"/>
<ellipse cx="134.7" cy="299"/>
<ellipse cx="134.8" cy="366.4"/>
<ellipse cx="134.9" cy="371.4"/>
<ellipse cx="134.9" cy="375.6"/>
<ellipse cx="135.2" cy="361.8"/>
<ellipse cx="135.2" cy="351.1"/>
<ellipse cx="135.3" cy="375.4"/>
<ellipse cx="135.3" cy="346"/>
<ellipse cx="135.6" cy="353.3"/>
<ellipse cx="135.9" cy="330.7"/>
<ellipse cx="136" cy="375.9"/>
<ellipse cx="136.1" cy="366.7"/>
<ellipse cx="136.1" cy="369.3"/>
<ellipse cx="136.3" cy="362.9"/>
<ellipse cx="136.5" cy="374.3"/>
<ellipse cx="136.6" cy="375.4"/>
<ellipse cx="136.7" cy="366.9"/>
<ellipse cx="136.8" cy="338.9"/>
<ellipse cx="136.9" cy="360.3"/>
<ellipse cx="137.1" cy="315"/>
<ellipse cx="137.4" cy="375.9"/>
<ellipse cx="137.5" cy="345.5"/>
<ellipse cx="137.6" cy="354.4"/>
<ellipse cx="137.7" cy="344"/>
<ellipse cx="137.8" cy="349.7"/>
<ellipse cx="138" cy="367.2"/>
<ellipse cx="138.4" cy="356.1"/>
<ellipse cx="138.4" cy="350.6"/>
<ellipse cx="138.5" cy="352.3"/>
<ellipse cx="138.6" cy="360.5"/>
<ellipse cx="138.6" cy="366.1"/>
<ellipse cx="139" cy="339.8"/>
<ellipse cx="139" cy="302.7"/>
<ellipse cx="139.1" cy="373.8"/>
<ellipse cx="139.2" cy="351.5"/>
<ellipse cx="139.3" cy="321.2"/>
<ellipse cx="139.5" cy="370.2"/>
<ellipse cx="139.5" cy="361.1"/>
<ellipse cx="139.6" cy="364.2"/>
<ellipse cx="139.7" cy="295.1"/>
<ellipse cx="139.7" cy="302.7"/>
<ellipse cx="139.7" cy="311"/>
<ellipse cx="139.7" cy="337.6"/>
<ellipse cx="140.1" cy="331.1"/>
<ellipse cx="140.3" cy="332.4"/>
<ellipse cx="140.4" cy="338.9"/>
<ellipse cx="140.5" cy="357.9"/>
<ellipse cx="140.6" cy="355.9"/>
<ellipse cx="140.9" cy="325.1"/>
<ellipse cx="140.9" cy="318.2"/>
<ellipse cx="141" cy="374.8"/>
<ellipse cx="141.2" cy="346.5"/>
<ellipse cx="141.3" cy="369.1"/>
<ellipse cx="141.4" cy="367"/>
<ellipse cx="141.6" cy="347.4"/>
<ellipse cx="141.7" cy="355.5"/>
<ellipse cx="141.8" cy="371.1"/>
<ellipse cx="142.1" cy="348.3"/>
<ellipse cx="142.1" cy="354.5"/>
<ellipse cx="142.1" cy="359"/>
<ellipse cx="142.5" cy="341.3"/>
<ellipse cx="142.5" cy="351.5"/>
<ellipse cx="142.6" cy="343.5"/>
<ellipse cx="142.8" cy="374.7"/>
<ellipse cx="142.9" cy="341.9"/>
<ellipse cx="143.1" cy="372.2"/>
<ellipse cx="143.2" cy="365.8"/>
<ellipse cx="143.3" cy="352.3"/>
<ellipse cx="143.3" cy="338.9"/>
<ellipse cx="143.4" cy="350.9"/>
<ellipse cx="143.5" cy="373.8"/>
<ellipse cx="144" cy="364.4"/>
<ellipse cx="144.1" cy="364.7"/>
<ellipse cx="144.3" cy="353.5"/>
<ellipse cx="144.3" cy="349.8"/>
<ellipse cx="144.5" cy="375.2"/>
<ellipse cx="144.6" cy="354.3"/>
<ellipse cx="144.9" cy="369.4"/>
<ellipse cx="145.2" cy="376.1"/>
<ellipse cx="145.2" cy="356"/>
<ellipse cx="145.3" cy="341.3"/>
<ellipse cx="145.3" cy="327"/>
<ellipse cx="145.4" cy="332.8"/>
<ellipse cx="145.4" cy="316"/>
<ellipse cx="145.6" cy="366.7"/>
<ellipse cx="145.9" cy="344.3"/>
<ellipse cx="146.2" cy="343.7"/>
<ellipse cx="146.3" cy="340.9"/>
<ellipse cx="146.5" cy="373.2"/>
<ellipse cx="146.6" cy="354.2"/>
<ellipse cx="146.6" cy="332.3"/>
<ellipse cx="146.6" cy="375.1"/>
<ellipse cx="146.8" cy="356.2"/>
<ellipse cx="146.8" cy="346"/>
<ellipse cx="147" cy="329.1"/>
<ellipse cx="147.2" cy="344.1"/>
<ellipse cx="147.2" cy="332"/>
<ellipse cx="147.6" cy="374.3"/>
<ellipse cx="147.8" cy="319.5"/>
<ellipse cx="147.8" cy="371.9"/>
<ellipse cx="148" cy="369.9"/>
<ellipse cx="148.1" cy="355.2"/>
<ellipse cx="148.2" cy="371.6"/>
<ellipse cx="148.3" cy="371.4"/>
<ellipse cx="148.4" cy="359.2"/>
<ellipse cx="148.6" cy="338.7"/>
<ellipse cx="148.7" cy="345.9"/>
<ellipse cx="148.7" cy="357.2"/>
<ellipse cx="149.1" cy="325.9"/>
<ellipse cx="149.2" cy="327.6"/>
<ellipse cx="149.2" cy="342.1"/>
<ellipse cx="149.5" cy="374.1"/>
<ellipse cx="149.5" cy="296.3"/>
<ellipse cx="149.6" cy="363.6"/>
<ellipse cx="149.9" cy="352.3"/>
<ellipse cx="150" cy="366.7"/>
<ellipse cx="150.2" cy="349.4"/>
<ellipse cx="150.3" cy="344.1"/>
<ellipse cx="150.5" cy="373.6"/>
<ellipse cx="150.5" cy="343.5"/>
<ellipse cx="150.5" cy="346.2"/>
<ellipse cx="150.8" cy="353.5"/>
<ellipse cx="150.9" cy="371.3"/>
<ellipse cx="151.1" cy="313.4"/>
<ellipse cx="151.2" cy="374.1"/>
<ellipse cx="151.3" cy="345.7"/>
<ellipse cx="151.3" cy="359"/>
<ellipse cx="151.6" cy="353.4"/>
<ellipse cx="151.6" cy="370.3"/>
<ellipse cx="151.6" cy="349.2"/>
<ellipse cx="151.9" cy="360.7"/>
<ellipse cx="152" cy="357.1"/>
<ellipse cx="152.1" cy="349.3"/>
<ellipse cx="152.3" cy="374.5"/>
<ellipse cx="152.5" cy="355.3"/>
<ellipse cx="152.6" cy="368.9"/>
<ellipse cx="152.9" cy="355"/>
<ellipse cx="152.9" cy="356.3"/>
<ellipse cx="153" cy="348.4"/>
<ellipse cx="153.2" cy="372.5"/>
<ellipse cx="153.4" cy="375.7"/>
<ellipse cx="153.6" cy="346.7"/>
<ellipse cx="153.7" cy="362.7"/>
<ellipse cx="153.8" cy="343.6"/>
<ellipse cx="153.8" cy="361.7"/>
<ellipse cx="153.9" cy="375.1"/>
<ellipse cx="153.9" cy="372.9"/>
<ellipse cx="154.2" cy="363.2"/>
<ellipse cx="154.3" cy="355.2"/>
<ellipse cx="154.3" cy="360.3"/>
<ellipse cx="154.6" cy="348.1"/>
<ellipse cx="154.7" cy="369"/>
<ellipse cx="155" cy="344.7"/>
<ellipse cx="155.2" cy="340.8"/>
<ellipse cx="155.2" cy="356.3"/>
<ellipse cx="155.5" cy="338.6"/>
<ellipse cx="155.5" cy="345.1"/>
<ellipse cx="155.6" cy="337.1"/>
<ellipse cx="155.7" cy="302"/>
<ellipse cx="155.7" cy="354.9"/>
<ellipse cx="156.1" cy="360.7"/>
<ellipse cx="156.2" cy="338.7"/>
<ellipse cx="156.3" cy="336"/>
<ellipse cx="156.4" cy="368.5"/>
<ellipse cx="156.4" cy="366.9"/>
<ellipse cx="156.5" cy="366.6"/>
<ellipse cx="156.8" cy="367.9"/>
<ellipse cx="156.9" cy="365.3"/>
<ellipse cx="157.2" cy="358.5"/>
<ellipse cx="157.2" cy="320"/>
<ellipse cx="157.3" cy="368.5"/>
<ellipse cx="157.4" cy="349.9"/>
<ellipse cx="157.5" cy="373.1"/>
<ellipse cx="157.7" cy="366.7"/>
<ellipse cx="157.8" cy="368.1"/>
<ellipse cx="158.2" cy="365.3"/>
<ellipse cx="158.2" cy="371.7"/>
<ellipse cx="158.5" cy="342.3"/>
<ellipse cx="158.5" cy="318"/>
<ellipse cx="158.7" cy="368.1"/>
<ellipse cx="158.8" cy="318.5"/>
<ellipse cx="158.9" cy="354.5"/>
<ellipse cx="158.9" cy="369.1"/>
<ellipse cx="159.2" cy="344.2"/>
<ellipse cx="159.3" cy="336.5"/>
<ellipse cx="159.4" cy="368.1"/>
<ellipse cx="159.6" cy="346.6"/>
<ellipse cx="159.6" cy="369.4"/>
<ellipse cx="159.7" cy="362.2"/>
<ellipse cx="159.8" cy="364.4"/>
<ellipse cx="160" cy="331"/>
<ellipse cx="160.3" cy="337.4"/>
<ellipse cx="160.3" cy="367.2"/>
<ellipse cx="160.4" cy="364.8"/>
<ellipse cx="160.4" cy="352.5"/>
<ellipse cx="160.7" cy="365.8"/>
<ellipse cx="160.7" cy="357.2"/>
<ellipse cx="161" cy="361.4"/>
<ellipse cx="161.2" cy="352.7"/>
<ellipse cx="161.3" cy="335.9"/>
<ellipse cx="161.3" cy="371"/>
<ellipse cx="161.4" cy="364.2"/>
<ellipse cx="161.5" cy="371.4"/>
<ellipse cx="161.9" cy="342.3"/>
<ellipse cx="162.2" cy="346.7"/>
<ellipse cx="162.2" cy="321.8"/>
<ellipse cx="162.4" cy="356.9"/>
<ellipse cx="162.4" cy="363.1"/>
<ellipse cx="162.4" cy="354"/>
<ellipse cx="162.5" cy="362.7"/>
<ellipse cx="162.6" cy="344.5"/>
<ellipse cx="162.7" cy="322.5"/>
<ellipse cx="162.8" cy="343.3"/>
<ellipse cx="163.1" cy="372.1"/>
<ellipse cx="163.3" cy="370.7"/>
<ellipse cx="163.7" cy="354.5"/>
<ellipse cx="163.7" cy="372.3"/>
<ellipse cx="164" cy="330.4"/>
<ellipse cx="164" cy="337.1"/>
<ellipse cx="164.1" cy="374"/>
<ellipse cx="164.3" cy="356.6"/>
<ellipse cx="164.4" cy="332.5"/>
<ellipse cx="164.4" cy="355"/>
<ellipse cx="164.6" cy="333.4"/>
<ellipse cx="164.8" cy="368.8"/>
<ellipse cx="164.9" cy="304.3"/>
<ellipse cx="164.9" cy="323.4"/>
<ellipse cx="164.9" cy="338.7"/>
<ellipse cx="165.2" cy="342.5"/>
<ellipse cx="165.2" cy="350.6"/>
<ellipse cx="165.3" cy="371.4"/>
<ellipse cx="165.5" cy="350.6"/>
<ellipse cx="165.7" cy="368.1"/>
<ellipse cx="165.8" cy="374.4"/>
<ellipse cx="166.1" cy="368.9"/>
<ellipse cx="166.3" cy="372.8"/>
<ellipse cx="166.5" cy="331.4"/>
<ellipse cx="166.5" cy="376"/>
<ellipse cx="166.7" cy="364"/>
<ellipse cx="166.8" cy="360.4"/>
<ellipse cx="166.9" cy="368.3"/>
<ellipse cx="166.9" cy="368.4"/>
<ellipse cx="167.1" cy="368.1"/>
<ellipse cx="167.1" cy="350"/>
<ellipse cx="167.2" cy="336.7"/>
<ellipse cx="167.5" cy="372.9"/>
<ellipse cx="167.8" cy="348.5"/>
<ellipse cx="168" cy="351.4"/>
<ellipse cx="168" cy="362"/>
<ellipse cx="168.3" cy="302.7"/>
<ellipse cx="168.3" cy="361.4"/>
<ellipse cx="168.3" cy="348.1"/>
<ellipse cx="168.6" cy="375.5"/>
<ellipse cx="168.6" cy="333.7"/>
<ellipse cx="168.8" cy="358.6"/>
<ellipse cx="168.9" cy="342.4"/>
<ellipse cx="169" cy="352.7"/>
<ellipse cx="169" cy="370"/>
<ellipse cx="169.3" cy="371.7"/>
<ellipse cx="169.3" cy="376.1"/>
<ellipse cx="169.6" cy="352.4"/>
<ellipse cx="169.7" cy="377.1"/>
<ellipse cx="169.9" cy="284.4"/>
<ellipse cx="169.9" cy="351.9"/>
<ellipse cx="170" cy="346.4"/>
<ellipse cx="170.2" cy="344.8"/>
<ellipse cx="170.4" cy="371.6"/>
<ellipse cx="170.4" cy="359.8"/>
<ellipse cx="170.5" cy="375.7"/>
<ellipse cx="170.6" cy="363.8"/>
<ellipse cx="170.7" cy="327.6"/>
<ellipse cx="170.9" cy="376.4"/>
<ellipse cx="171.1" cy="330"/>
<ellipse cx="171.2" cy="347.8"/>
<ellipse cx="171.6" cy="366"/>
<ellipse cx="171.6" cy="356.2"/>
<ellipse cx="171.7" cy="376.5"/>
<ellipse cx="171.8" cy="370.5"/>
<ellipse cx="172" cy="357.1"/>
<ellipse cx="172.1" cy="373.7"/>
<ellipse cx="172.2" cy="348.7"/>
<ellipse cx="172.4" cy="340.5"/>
<ellipse cx="172.7" cy="313.3"/>
<ellipse cx="172.7" cy="362.5"/>
<ellipse cx="172.8" cy="353.3"/>
<ellipse cx="172.9" cy="341.8"/>
<ellipse cx="172.9" cy="351.3"/>
<ellipse cx="173.2" cy="351.7"/>
<ellipse cx="173.3" cy="345.1"/>
<ellipse cx="173.7" cy="361.3"/>
<ellipse cx="173.7" cy="312.6"/>
<ellipse cx="173.8" cy="351.7"/>
<ellipse cx="173.9" cy="341.8"/>
<ellipse cx="174.1" cy="366.3"/>
<ellipse cx="174.2" cy="360"/>
<ellipse cx="174.2" cy="346.4"/>
<ellipse cx="174.7" cy="372.4"/>
<ellipse cx="174.7" cy="373.3"/>
<ellipse cx="174.8" cy="334.6"/>
<ellipse cx="174.9" cy="335.2"/>
<ellipse cx="174.9" cy="335.7"/>
<ellipse cx="175.1" cy="335.5"/>
<ellipse cx="175.1" cy="371.8"/>
<ellipse cx="175.2" cy="362.3"/>
<ellipse cx="175.5" cy="350"/>
<ellipse cx="175.6" cy="362.9"/>
<ellipse cx="175.7" cy="328.2"/>
<ellipse cx="175.9" cy="341"/>
<ellipse cx="176.2" cy="360.3"/>
<ellipse cx="176.3" cy="315.7"/>
<ellipse cx="176.5" cy="369.4"/>
<ellipse cx="176.5" cy="319.2"/>
<ellipse cx="176.6" cy="345.3"/>
<ellipse cx="176.7" cy="316.2"/>
<ellipse cx="176.8" cy="377"/>
<ellipse cx="177" cy="363.5"/>
<ellipse cx="177.2" cy="335.7"/>
<ellipse cx="177.2" cy="374.7"/>
<ellipse cx="177.3" cy="349.7"/>
<ellipse cx="177.4" cy="340.4"/>
<ellipse cx="177.5" cy="372.3"/>
<ellipse cx="177.9" cy="340.8"/>
<ellipse cx="178" cy="326"/>
<ellipse cx="178" cy="318.8"/>
<ellipse cx="178.3" cy="329.9"/>
<ellipse cx="178.4" cy="346.4"/>
<ellipse cx="178.6" cy="377.5"/>
<ellipse cx="178.7" cy="374.3"/>
<ellipse cx="178.9" cy="326.2"/>
<ellipse cx="178.9" cy="361.5"/>
<ellipse cx="179.2" cy="368.1"/>
<ellipse cx="179.3" cy="376.5"/>
<ellipse cx="179.4" cy="334.4"/>
<ellipse cx="179.5" cy="360.9"/>
<ellipse cx="179.5" cy="331.8"/>
<ellipse cx="179.6" cy="342.2"/>
<ellipse cx="180" cy="346.3"/>
<ellipse cx="180" cy="367.9"/>
<ellipse cx="180.1" cy="318.8"/>
<ellipse cx="180.2" cy="318.8"/>
<ellipse cx="180.4" cy="338.5"/>
<ellipse cx="180.5" cy="362.5"/>
<ellipse cx="180.6" cy="358.8"/>
<ellipse cx="180.9" cy="344"/>
<ellipse cx="181.1" cy="345.8"/>
<ellipse cx="181.2" cy="363.2"/>
<ellipse cx="181.4" cy="337"/>
<ellipse cx="181.6" cy="347.9"/>
<ellipse cx="181.7" cy="361.3"/>
<ellipse cx="181.8" cy="346"/>
<ellipse cx="181.9" cy="367.6"/>
<ellipse cx="182.1" cy="368.1"/>
<ellipse cx="182.3" cy="376.4"/>
<ellipse cx="182.3" cy="370.2"/>
<ellipse cx="182.3" cy="374.5"/>
<ellipse cx="182.3" cy="350.1"/>
<ellipse cx="182.7" cy="369.1"/>
<ellipse cx="182.7" cy="344.4"/>
<ellipse cx="183.1" cy="343.4"/>
<ellipse cx="183.2" cy="346.8"/>
<ellipse cx="183.4" cy="374"/>
<ellipse cx="183.4" cy="375.2"/>
<ellipse cx="183.4" cy="374"/>
<ellipse cx="183.7" cy="377.7"/>
<ellipse cx="183.7" cy="342.4"/>
<ellipse cx="184" cy="371.2"/>
<ellipse cx="184.1" cy="351.3"/>
<ellipse cx="184.3" cy="341"/>
<ellipse cx="184.3" cy="295.1"/>
<ellipse cx="184.4" cy="377.5"/>
<ellipse cx="184.6" cy="357.3"/>
<ellipse cx="184.7" cy="319.7"/>
<ellipse cx="184.8" cy="356.3"/>
<ellipse cx="184.8" cy="317.7"/>
<ellipse cx="184.9" cy="359.3"/>
<ellipse cx="185.2" cy="353.2"/>
<ellipse cx="185.4" cy="356"/>
<ellipse cx="185.4" cy="343.2"/>
<ellipse cx="185.4" cy="351.7"/>
<ellipse cx="185.7" cy="370.4"/>
<ellipse cx="185.9" cy="370.9"/>
<ellipse cx="186" cy="370.8"/>
<ellipse cx="186.4" cy="371.7"/>
<ellipse cx="186.4" cy="355.3"/>
<ellipse cx="186.6" cy="335.1"/>
<ellipse cx="186.7" cy="352.5"/>
<ellipse cx="186.8" cy="356.1"/>
<ellipse cx="187" cy="339.4"/>
<ellipse cx="187" cy="363.2"/>
<ellipse cx="187.4" cy="337.2"/>
<ellipse cx="187.4" cy="374.9"/>
<ellipse cx="187.5" cy="361.4"/>
<ellipse cx="187.8" cy="362.6"/>
<ellipse cx="187.8" cy="325.3"/>
<ellipse cx="188" cy="365.7"/>
<ellipse cx="188" cy="332.1"/>
<ellipse cx="188.2" cy="359.5"/>
<ellipse cx="188.2" cy="370.9"/>
<ellipse cx="188.5" cy="362.2"/>
<ellipse cx="188.7" cy="375.4"/>
<ellipse cx="188.8" cy="358.3"/>
<ellipse cx="188.9" cy="357.9"/>
<ellipse cx="188.9" cy="308.9"/>
<ellipse cx="189.3" cy="340.2"/>
<ellipse cx="189.3" cy="355.7"/>
<ellipse cx="189.4" cy="336.5"/>
<ellipse cx="189.4" cy="346.5"/>
<ellipse cx="189.6" cy="359.6"/>
<ellipse cx="189.6" cy="354.4"/>
<ellipse cx="189.6" cy="370.4"/>
<ellipse cx="190" cy="351.6"/>
<ellipse cx="190.1" cy="355"/>
<ellipse cx="190.3" cy="339.6"/>
<ellipse cx="190.5" cy="356.4"/>
<ellipse cx="190.6" cy="358.4"/>
<ellipse cx="190.7" cy="372.3"/>
<ellipse cx="190.7" cy="360.7"/>
<ellipse cx="191" cy="338.3"/>
<ellipse cx="191.2" cy="354.9"/>
<ellipse cx="191.4" cy="373.9"/>
<ellipse cx="191.5" cy="324.1"/>
<ellipse cx="191.7" cy="334.5"/>
<ellipse cx="191.8" cy="291.7"/>
<ellipse cx="191.8" cy="362"/>
<ellipse cx="191.9" cy="377.1"/>
<ellipse cx="191.9" cy="368.5"/>
<ellipse cx="192.1" cy="363.1"/>
<ellipse cx="192.2" cy="341.8"/>
<ellipse cx="192.3" cy="343.3"/>
<ellipse cx="192.5" cy="345.9"/>
<ellipse cx="192.5" cy="349.3"/>
<ellipse cx="192.6" cy="342.1"/>
<ellipse cx="192.8" cy="343.5"/>
<ellipse cx="193" cy="368.3"/>
<ellipse cx="193.3" cy="360.3"/>
<ellipse cx="193.4" cy="370.8"/>
<ellipse cx="193.5" cy="370.4"/>
<ellipse cx="193.6" cy="341.2"/>
<ellipse cx="193.8" cy="362.8"/>
<ellipse cx="193.8" cy="370.5"/>
<ellipse cx="194" cy="374.3"/>
<ellipse cx="194.2" cy="359.6"/>
<ellipse cx="194.3" cy="346.6"/>
<ellipse cx="194.3" cy="315.8"/>
<ellipse cx="194.4" cy="334.5"/>
<ellipse cx="194.5" cy="352.6"/>
<ellipse cx="195.1" cy="322.3"/>
<ellipse cx="195.1" cy="321.9"/>
<ellipse cx="195.1" cy="359"/>
<ellipse cx="195.1" cy="359.5"/>
<ellipse cx="195.3" cy="358.9"/>
<ellipse cx="195.5" cy="344.1"/>
<ellipse cx="195.7" cy="314.6"/>
<ellipse cx="195.9" cy="368.5"/>
<ellipse cx="196" cy="345.5"/>
<ellipse cx="196" cy="375.3"/>
<ellipse cx="196.2" cy="350.2"/>
<ellipse cx="196.3" cy="330.7"/>
<ellipse cx="196.3" cy="326.1"/>
<ellipse cx="196.5" cy="375.2"/>
<ellipse cx="196.9" cy="370.4"/>
<ellipse cx="196.9" cy="335.6"/>
<ellipse cx="197.1" cy="374.6"/>
<ellipse cx="197.2" cy="341.5"/>
<ellipse cx="197.2" cy="375.6"/>
<ellipse cx="197.4" cy="336"/>
<ellipse cx="197.6" cy="364.7"/>
<ellipse cx="197.7" cy="356"/>
<ellipse cx="197.8" cy="333.4"/>
<ellipse cx="197.9" cy="361.1"/>
<ellipse cx="198" cy="299.3"/>
<ellipse cx="198" cy="305"/>
<ellipse cx="198.2" cy="370.9"/>
<ellipse cx="198.2" cy="337.9"/>
<ellipse cx="198.2" cy="330.5"/>
<ellipse cx="198.5" cy="370"/>
<ellipse cx="198.6" cy="370"/>
<ellipse cx="199" cy="338.8"/>
<ellipse cx="199.1" cy="328.2"/>
<ellipse cx="199.1" cy="343.6"/>
<ellipse cx="199.3" cy="340"/>
<ellipse cx="199.3" cy="363.6"/>
<ellipse cx="199.5" cy="343.4"/>
<ellipse cx="199.6" cy="304.3"/>
<ellipse cx="199.6" cy="346.3"/>
<ellipse cx="199.9" cy="331.9"/>
<ellipse cx="200.1" cy="372"/>
<ellipse cx="200.2" cy="374.2"/>
<ellipse cx="200.3" cy="347.6"/>
<ellipse cx="200.4" cy="367.5"/>
<ellipse cx="200.4" cy="326.6"/>
<ellipse cx="200.7" cy="377"/>
<ellipse cx="200.7" cy="374"/>
<ellipse cx="201" cy="342.7"/>
<ellipse cx="201" cy="375.7"/>
<ellipse cx="201.1" cy="343.8"/>
<ellipse cx="201.2" cy="340.7"/>
<ellipse cx="201.4" cy="369.1"/>
<ellipse cx="201.4" cy="316.9"/>
<ellipse cx="201.8" cy="356.3"/>
<ellipse cx="201.8" cy="328"/>
<ellipse cx="201.9" cy="361.3"/>
<ellipse cx="202" cy="332.5"/>
<ellipse cx="202.4" cy="343.2"/>
<ellipse cx="202.4" cy="377.2"/>
<ellipse cx="202.5" cy="343.6"/>
<ellipse cx="202.6" cy="366.8"/>
<ellipse cx="202.6" cy="356.3"/>
<ellipse cx="202.8" cy="330.4"/>
<ellipse cx="203.1" cy="341.3"/>
<ellipse cx="203.2" cy="359.4"/>
<ellipse cx="203.3" cy="372.2"/>
<ellipse cx="203.6" cy="376.3"/>
<ellipse cx="203.6" cy="355.1"/>
<ellipse cx="203.8" cy="376.6"/>
<ellipse cx="203.9" cy="354.8"/>
<ellipse cx="203.9" cy="345.3"/>
<ellipse cx="204.2" cy="346.5"/>
<ellipse cx="204.3" cy="352.3"/>
<ellipse cx="204.4" cy="367.8"/>
<ellipse cx="204.5" cy="354.8"/>
<ellipse cx="204.7" cy="350"/>
<ellipse cx="204.7" cy="367.3"/>
<ellipse cx="204.9" cy="371.9"/>
<ellipse cx="205.2" cy="330.8"/>
<ellipse cx="205.2" cy="325.4"/>
<ellipse cx="205.6" cy="374.1"/>
<ellipse cx="205.8" cy="345.3"/>
<ellipse cx="205.9" cy="365.9"/>
<ellipse cx="205.9" cy="338.4"/>
<ellipse cx="206" cy="350.1"/>
<ellipse cx="206" cy="332.5"/>
<ellipse cx="206" cy="354.3"/>
<ellipse cx="206.1" cy="359.7"/>
<ellipse cx="206.3" cy="342"/>
<ellipse cx="206.4" cy="378.8"/>
<ellipse cx="206.5" cy="379.1"/>
<ellipse cx="206.5" cy="291.7"/>
<ellipse cx="207" cy="366.6"/>
<ellipse cx="207" cy="366.4"/>
<ellipse cx="207.1" cy="375.6"/>
<ellipse cx="207.5" cy="339.8"/>
<ellipse cx="207.6" cy="345.2"/>
<ellipse cx="207.7" cy="364.7"/>
<ellipse cx="207.8" cy="308.9"/>
<ellipse cx="207.8" cy="348.6"/>
<ellipse cx="208" cy="364.6"/>
<ellipse cx="208.1" cy="350.8"/>
<ellipse cx="208.2" cy="378.1"/>
<ellipse cx="208.2" cy="358.7"/>
<ellipse cx="208.2" cy="376.7"/>
<ellipse cx="208.4" cy="354.2"/>
<ellipse cx="208.8" cy="358.3"/>
<ellipse cx="208.9" cy="352.6"/>
<ellipse cx="209" cy="368"/>
<ellipse cx="209.2" cy="365.8"/>
<ellipse cx="209.3" cy="367.6"/>
<ellipse cx="209.5" cy="379.9"/>
<ellipse cx="209.6" cy="358.4"/>
<ellipse cx="209.8" cy="350.1"/>
<ellipse cx="209.9" cy="355.1"/>
<ellipse cx="210" cy="351.9"/>
<ellipse cx="210.1" cy="358.3"/>
<ellipse cx="210.1" cy="376.9"/>
<ellipse cx="210.2" cy="344.4"/>
<ellipse cx="210.5" cy="367.6"/>
<ellipse cx="210.6" cy="345"/>
<ellipse cx="210.8" cy="356"/>
<ellipse cx="210.9" cy="380.5"/>
<ellipse cx="211.2" cy="360.2"/>
<ellipse cx="211.2" cy="341.4"/>
<ellipse cx="211.3" cy="355.2"/>
<ellipse cx="211.3" cy="290.6"/>
<ellipse cx="211.4" cy="377"/>
<ellipse cx="211.7" cy="363.1"/>
<ellipse cx="211.7" cy="369.4"/>
<ellipse cx="211.9" cy="360.7"/>
<ellipse cx="212.2" cy="362.7"/>
<ellipse cx="212.4" cy="358.2"/>
<ellipse cx="212.4" cy="359.3"/>
<ellipse cx="212.5" cy="349"/>
<ellipse cx="212.5" cy="363"/>
<ellipse cx="212.7" cy="370.9"/>
<ellipse cx="212.8" cy="356"/>
<ellipse cx="213" cy="378.2"/>
<ellipse cx="213.1" cy="361.9"/>
<ellipse cx="213.2" cy="377.6"/>
<ellipse cx="213.4" cy="363.8"/>
<ellipse cx="213.6" cy="340.7"/>
<ellipse cx="213.6" cy="363.4"/>
<ellipse cx="214.1" cy="353.6"/>
<ellipse cx="214.2" cy="360.6"/>
<ellipse cx="214.3" cy="374.4"/>
<ellipse cx="214.3" cy="339.1"/>
<ellipse cx="214.6" cy="374.7"/>
<ellipse cx="214.6" cy="379.6"/>
<ellipse cx="214.9" cy="375.9"/>
<ellipse cx="215" cy="376.2"/>
<ellipse cx="215.1" cy="376.3"/>
<ellipse cx="215.2" cy="379"/>
<ellipse cx="215.2" cy="376.3"/>
<ellipse cx="215.6" cy="379.1"/>
<ellipse cx="215.7" cy="374.7"/>
<ellipse cx="215.7" cy="365.2"/>
<ellipse cx="215.7" cy="357.1"/>
<ellipse cx="216" cy="356.8"/>
<ellipse cx="216.1" cy="363.9"/>
<ellipse cx="216.4" cy="379.4"/>
<ellipse cx="216.4" cy="375.4"/>
<ellipse cx="216.5" cy="343.7"/>
<ellipse cx="216.8" cy="377.6"/>
<ellipse cx="216.9" cy="350.7"/>
<ellipse cx="217.1" cy="365.6"/>
<ellipse cx="217.2" cy="362.1"/>
<ellipse cx="217.3" cy="360.3"/>
<ellipse cx="217.4" cy="368.6"/>
<ellipse cx="217.8" cy="344.2"/>
<ellipse cx="217.9" cy="363.8"/>
<ellipse cx="218" cy="359.7"/>
<ellipse cx="218" cy="345.8"/>
<ellipse cx="218" cy="379.6"/>
<ellipse cx="218.3" cy="368.2"/>
<ellipse cx="218.5" cy="375.5"/>
<ellipse cx="218.5" cy="337.9"/>
<ellipse cx="218.5" cy="379.2"/>
<ellipse cx="218.8" cy="358.7"/>
<ellipse cx="218.9" cy="353.9"/>
<ellipse cx="219" cy="364.3"/>
<ellipse cx="219.1" cy="360.5"/>
<ellipse cx="219.4" cy="379.4"/>
<ellipse cx="219.5" cy="367.7"/>
<ellipse cx="219.7" cy="376.1"/>
<ellipse cx="219.8" cy="335.5"/>
<ellipse cx="219.8" cy="353.8"/>
<ellipse cx="220" cy="360"/>
<ellipse cx="220.2" cy="356.3"/>
<ellipse cx="220.2" cy="370.2"/>
<ellipse cx="220.4" cy="351.9"/>
<ellipse cx="220.5" cy="365.2"/>
<ellipse cx="220.6" cy="380.4"/>
<ellipse cx="220.6" cy="358.8"/>
<ellipse cx="221.2" cy="333.3"/>
<ellipse cx="221.2" cy="371.1"/>
<ellipse cx="221.2" cy="377.5"/>
<ellipse cx="221.4" cy="367.4"/>
<ellipse cx="221.4" cy="380.2"/>
<ellipse cx="221.4" cy="333.3"/>
<ellipse cx="221.7" cy="373"/>
<ellipse cx="221.8" cy="354.7"/>
<ellipse cx="221.8" cy="349.5"/>
<ellipse cx="222" cy="368.4"/>
<ellipse cx="222" cy="367.6"/>
<ellipse cx="222.1" cy="363.1"/>
<ellipse cx="222.4" cy="362.7"/>
<ellipse cx="222.7" cy="351.7"/>
<ellipse cx="222.9" cy="365"/>
<ellipse cx="223" cy="353.2"/>
<ellipse cx="223.1" cy="379.4"/>
<ellipse cx="223.1" cy="379.4"/>
<ellipse cx="223.3" cy="362.1"/>
<ellipse cx="223.5" cy="379.5"/>
<ellipse cx="223.5" cy="354.3"/>
<ellipse cx="223.7" cy="357.9"/>
<ellipse cx="224" cy="352.7"/>
<ellipse cx="224" cy="352.3"/>
<ellipse cx="224.1" cy="368"/>
<ellipse cx="224.2" cy="352.9"/>
<ellipse cx="224.6" cy="373.4"/>
<ellipse cx="224.7" cy="357.3"/>
<ellipse cx="224.7" cy="378.5"/>
<ellipse cx="224.8" cy="371.6"/>
<ellipse cx="224.9" cy="324"/>
<ellipse cx="225.1" cy="353.1"/>
<ellipse cx="225.3" cy="373.6"/>
<ellipse cx="225.4" cy="369"/>
<ellipse cx="225.4" cy="368"/>
<ellipse cx="225.4" cy="350.9"/>
<ellipse cx="225.6" cy="379.2"/>
<ellipse cx="226" cy="375.5"/>
<ellipse cx="226.1" cy="354"/>
<ellipse cx="226.2" cy="375.3"/>
<ellipse cx="226.3" cy="375.2"/>
<ellipse cx="226.4" cy="366.6"/>
<ellipse cx="226.5" cy="328.7"/>
<ellipse cx="226.6" cy="379.6"/>
<ellipse cx="226.7" cy="379.9"/>
<ellipse cx="226.7" cy="352.1"/>
<ellipse cx="226.9" cy="351.3"/>
<ellipse cx="227" cy="364.8"/>
<ellipse cx="227.2" cy="368.5"/>
<ellipse cx="227.2" cy="350.9"/>
<ellipse cx="227.7" cy="373.9"/>
<ellipse cx="227.8" cy="366.5"/>
<ellipse cx="227.8" cy="363.3"/>
<ellipse cx="227.9" cy="379.3"/>
<ellipse cx="228.2" cy="371.3"/>
<ellipse cx="228.3" cy="369.2"/>
<ellipse cx="228.4" cy="370.9"/>
<ellipse cx="228.5" cy="370.5"/>
<ellipse cx="228.5" cy="362.4"/>
<ellipse cx="228.6" cy="367.7"/>
<ellipse cx="229" cy="382.2"/>
<ellipse cx="229" cy="364.2"/>
<ellipse cx="229.1" cy="364.9"/>
<ellipse cx="229.3" cy="355.4"/>
<ellipse cx="229.3" cy="364.6"/>
<ellipse cx="229.4" cy="357.9"/>
<ellipse cx="229.6" cy="366.9"/>
<ellipse cx="229.8" cy="371.1"/>
<ellipse cx="230" cy="363.8"/>
<ellipse cx="230.2" cy="371.7"/>
<ellipse cx="230.2" cy="378.2"/>
<ellipse cx="230.4" cy="369.7"/>
<ellipse cx="230.7" cy="364.5"/>
<ellipse cx="230.9" cy="366.2"/>
<ellipse cx="231" cy="374.4"/>
<ellipse cx="231" cy="367.5"/>
<ellipse cx="231.1" cy="377.6"/>
<ellipse cx="231.3" cy="372.4"/>
<ellipse cx="231.3" cy="377.8"/>
<ellipse cx="231.5" cy="363.5"/>
<ellipse cx="231.5" cy="380.4"/>
<ellipse cx="231.9" cy="360.8"/>
<ellipse cx="232.1" cy="373.8"/>
<ellipse cx="232.1" cy="356.1"/>
<ellipse cx="232.2" cy="363.2"/>
<ellipse cx="232.2" cy="358.7"/>
<ellipse cx="232.3" cy="353.1"/>
<ellipse cx="232.5" cy="362.4"/>
<ellipse cx="232.7" cy="357.7"/>
<ellipse cx="233.1" cy="358.9"/>
<ellipse cx="233.1" cy="369.1"/>
<ellipse cx="233.2" cy="376.9"/>
<ellipse cx="233.3" cy="377.1"/>
<ellipse cx="233.3" cy="369.8"/>
<ellipse cx="233.7" cy="362.2"/>
<ellipse cx="233.7" cy="373.4"/>
<ellipse cx="233.7" cy="378.7"/>
<ellipse cx="234.1" cy="378.4"/>
<ellipse cx="234.4" cy="377.9"/>
<ellipse cx="234.4" cy="373.4"/>
<ellipse cx="234.5" cy="364.4"/>
<ellipse cx="234.5" cy="374.5"/>
<ellipse cx="234.7" cy="359"/>
<ellipse cx="234.8" cy="379.8"/>
<ellipse cx="235" cy="366.5"/>
<ellipse cx="235.1" cy="373"/>
<ellipse cx="235.3" cy="365.2"/>
<ellipse cx="235.4" cy="363.4"/>
<ellipse cx="235.5" cy="380.2"/>
<ellipse cx="235.6" cy="380.5"/>
<ellipse cx="235.9" cy="369.4"/>
<ellipse cx="236.1" cy="380.9"/>
<ellipse cx="236.3" cy="380.6"/>
<ellipse cx="236.4" cy="375.5"/>
<ellipse cx="236.6" cy="361"/>
<ellipse cx="236.6" cy="373.6"/>
<ellipse cx="236.7" cy="374.5"/>
<ellipse cx="237" cy="378.3"/>
<ellipse cx="237.1" cy="364.7"/>
<ellipse cx="237.1" cy="362.5"/>
<ellipse cx="237.4" cy="376"/>
<ellipse cx="237.5" cy="376.9"/>
<ellipse cx="237.6" cy="377"/>
<ellipse cx="237.7" cy="375.2"/>
<ellipse cx="237.8" cy="366"/>
<ellipse cx="237.9" cy="358.2"/>
<ellipse cx="238.1" cy="381.6"/>
<ellipse cx="238.3" cy="381.4"/>
<ellipse cx="238.3" cy="359.4"/>
<ellipse cx="238.5" cy="360.4"/>
<ellipse cx="238.7" cy="363.9"/>
<ellipse cx="238.8" cy="372.2"/>
<ellipse cx="238.9" cy="366"/>
<ellipse cx="239.1" cy="374.3"/>
<ellipse cx="239.2" cy="381.1"/>
<ellipse cx="239.3" cy="379.1"/>
<ellipse cx="239.5" cy="360.8"/>
<ellipse cx="239.6" cy="379.3"/>
<ellipse cx="239.6" cy="359.8"/>
<ellipse cx="240.2" cy="368.6"/>
<ellipse cx="240.2" cy="362.9"/>
<ellipse cx="240.3" cy="362.4"/>
<ellipse cx="240.3" cy="370.2"/>
<ellipse cx="240.4" cy="367.6"/>
<ellipse cx="240.9" cy="378.3"/>
<ellipse cx="241" cy="366.9"/>
<ellipse cx="241" cy="379.9"/>
<ellipse cx="241.1" cy="372.5"/>
<ellipse cx="241.1" cy="363.6"/>
<ellipse cx="241.2" cy="366.4"/>
<ellipse cx="241.3" cy="381.6"/>
<ellipse cx="241.5" cy="375.3"/>
<ellipse cx="241.7" cy="376.8"/>
<ellipse cx="242.1" cy="359.7"/>
<ellipse cx="242.3" cy="381.6"/>
<ellipse cx="242.3" cy="368.6"/>
<ellipse cx="242.4" cy="374.2"/>
<ellipse cx="242.4" cy="360.9"/>
<ellipse cx="242.6" cy="382.2"/>
<ellipse cx="242.7" cy="379.9"/>
<ellipse cx="242.9" cy="366.7"/>
<ellipse cx="243.1" cy="363.4"/>
<ellipse cx="243.2" cy="382.3"/>
<ellipse cx="243.2" cy="379.4"/>
<ellipse cx="243.5" cy="375.7"/>
<ellipse cx="243.7" cy="376.5"/>
<ellipse cx="243.7" cy="377.2"/>
<ellipse cx="243.9" cy="366.8"/>
<ellipse cx="243.9" cy="377.3"/>
<ellipse cx="244.1" cy="363.1"/>
<ellipse cx="244.3" cy="376.7"/>
<ellipse cx="244.6" cy="363.7"/>
<ellipse cx="244.7" cy="366.6"/>
<ellipse cx="244.8" cy="362.6"/>
<ellipse cx="244.9" cy="366.6"/>
<ellipse cx="245.1" cy="379.7"/>
<ellipse cx="245.2" cy="370.6"/>
<ellipse cx="245.3" cy="368.4"/>
<ellipse cx="245.5" cy="366.4"/>
<ellipse cx="245.8" cy="380.1"/>
<ellipse cx="245.8" cy="371.2"/>
<ellipse cx="245.9" cy="381.3"/>
<ellipse cx="246" cy="370.3"/>
<ellipse cx="246.1" cy="363.9"/>
<ellipse cx="246.3" cy="374.7"/>
<ellipse cx="246.4" cy="379.3"/>
<ellipse cx="246.4" cy="376.5"/>
<ellipse cx="246.7" cy="373.8"/>
<ellipse cx="246.9" cy="373.8"/>
<ellipse cx="247" cy="365.1"/>
<ellipse cx="247.1" cy="373"/>
<ellipse cx="247.4" cy="375.5"/>
<ellipse cx="247.5" cy="356.6"/>
<ellipse cx="247.6" cy="351.5"/>
<ellipse cx="247.7" cy="355.3"/>
<ellipse cx="247.7" cy="360.9"/>
<ellipse cx="247.9" cy="355.3"/>
<ellipse cx="247.9" cy="355.6"/>
<ellipse cx="248.1" cy="350.1"/>
<ellipse cx="248.3" cy="334.4"/>
<ellipse cx="248.5" cy="371"/>
<ellipse cx="248.7" cy="365.9"/>
<ellipse cx="248.8" cy="367.9"/>
<ellipse cx="248.8" cy="373.6"/>
<ellipse cx="248.9" cy="354.1"/>
<ellipse cx="249" cy="361.8"/>
<ellipse cx="249" cy="382.8"/>
<ellipse cx="249.2" cy="357.4"/>
<ellipse cx="249.3" cy="368.1"/>
<ellipse cx="249.6" cy="368.7"/>
<ellipse cx="249.9" cy="353.6"/>
<ellipse cx="250" cy="365.9"/>
<ellipse cx="250.1" cy="370.7"/>
<ellipse cx="250.2" cy="378.1"/>
<ellipse cx="250.3" cy="357.5"/>
<ellipse cx="250.4" cy="368.1"/>
<ellipse cx="250.5" cy="337"/>
<ellipse cx="250.7" cy="352.2"/>
<ellipse cx="250.8" cy="378.2"/>
<ellipse cx="250.8" cy="356.3"/>
<ellipse cx="251" cy="369.8"/>
<ellipse cx="251.3" cy="363.3"/>
<ellipse cx="251.6" cy="380.8"/>
<ellipse cx="251.7" cy="354.3"/>
<ellipse cx="252" cy="366.5"/>
<ellipse cx="252" cy="355.4"/>
<ellipse cx="252" cy="346"/>
<ellipse cx="252" cy="357.4"/>
<ellipse cx="252.3" cy="324.1"/>
<ellipse cx="252.4" cy="361.2"/>
<ellipse cx="252.5" cy="353.4"/>
<ellipse cx="252.5" cy="375"/>
<ellipse cx="252.6" cy="358"/>
<ellipse cx="253" cy="336.7"/>
<ellipse cx="253" cy="381.6"/>
<ellipse cx="253.2" cy="379.3"/>
<ellipse cx="253.3" cy="358.8"/>
<ellipse cx="253.4" cy="376"/>
<ellipse cx="253.5" cy="366.7"/>
<ellipse cx="253.7" cy="378.8"/>
<ellipse cx="253.8" cy="383"/>
<ellipse cx="254" cy="382.5"/>
<ellipse cx="254.2" cy="371.6"/>
<ellipse cx="254.2" cy="369.6"/>
<ellipse cx="254.4" cy="368.2"/>
<ellipse cx="254.5" cy="346"/>
<ellipse cx="254.6" cy="370.4"/>
<ellipse cx="254.8" cy="359.1"/>
<ellipse cx="255.2" cy="370.1"/>
<ellipse cx="255.2" cy="372.1"/>
<ellipse cx="255.3" cy="373.3"/>
<ellipse cx="255.4" cy="362"/>
<ellipse cx="255.4" cy="363.7"/>
<ellipse cx="255.4" cy="367"/>
<ellipse cx="255.8" cy="374"/>
<ellipse cx="255.9" cy="353.2"/>
<ellipse cx="256.1" cy="379.3"/>
<ellipse cx="256.1" cy="367.2"/>
<ellipse cx="256.1" cy="372.4"/>
<ellipse cx="256.2" cy="382.3"/>
<ellipse cx="256.3" cy="296.3"/>
<ellipse cx="256.7" cy="358.9"/>
<ellipse cx="256.8" cy="372.1"/>
<ellipse cx="256.9" cy="380.3"/>
<ellipse cx="257.2" cy="379.8"/>
<ellipse cx="257.5" cy="361.8"/>
<ellipse cx="257.5" cy="364.6"/>
<ellipse cx="257.5" cy="367.1"/>
<ellipse cx="257.6" cy="377.6"/>
<ellipse cx="257.6" cy="360.3"/>
<ellipse cx="257.6" cy="375.9"/>
<ellipse cx="258" cy="326.4"/>
<ellipse cx="258.2" cy="375.9"/>
<ellipse cx="258.3" cy="373.3"/>
<ellipse cx="258.3" cy="359.6"/>
<ellipse cx="258.4" cy="356.3"/>
<ellipse cx="258.5" cy="381.3"/>
<ellipse cx="258.5" cy="379.6"/>
<ellipse cx="258.9" cy="377.6"/>
<ellipse cx="258.9" cy="358.5"/>
<ellipse cx="259.1" cy="368.7"/>
<ellipse cx="259.3" cy="355.9"/>
<ellipse cx="259.5" cy="376.8"/>
<ellipse cx="259.6" cy="383.2"/>
<ellipse cx="259.9" cy="358"/>
<ellipse cx="259.9" cy="370.5"/>
<ellipse cx="260" cy="331"/>
<ellipse cx="260.1" cy="370"/>
<ellipse cx="260.3" cy="345.5"/>
<ellipse cx="260.3" cy="382.4"/>
<ellipse cx="260.6" cy="382.1"/>
<ellipse cx="260.7" cy="372.8"/>
<ellipse cx="260.8" cy="382.2"/>
<ellipse cx="261" cy="355.8"/>
<ellipse cx="261" cy="377.7"/>
<ellipse cx="261.3" cy="368"/>
<ellipse cx="261.3" cy="381.1"/>
<ellipse cx="261.4" cy="345.2"/>
<ellipse cx="261.5" cy="356"/>
<ellipse cx="261.7" cy="381.5"/>
<ellipse cx="261.8" cy="365.5"/>
<ellipse cx="261.9" cy="376.9"/>
<ellipse cx="262.1" cy="344.7"/>
<ellipse cx="262.3" cy="368.6"/>
<ellipse cx="262.6" cy="359.6"/>
<ellipse cx="262.6" cy="383"/>
<ellipse cx="262.6" cy="377.5"/>
<ellipse cx="262.8" cy="377.4"/>
<ellipse cx="262.8" cy="363.1"/>
<ellipse cx="263" cy="336.7"/>
<ellipse cx="263.1" cy="370"/>
<ellipse cx="263.3" cy="377.7"/>
<ellipse cx="263.3" cy="376.4"/>
<ellipse cx="263.3" cy="342.6"/>
<ellipse cx="263.6" cy="359.5"/>
<ellipse cx="263.9" cy="380.8"/>
<ellipse cx="264" cy="370.6"/>
<ellipse cx="264.1" cy="383.6"/>
<ellipse cx="264.2" cy="383.4"/>
<ellipse cx="264.3" cy="381.1"/>
<ellipse cx="264.4" cy="349.8"/>
<ellipse cx="264.6" cy="368.3"/>
<ellipse cx="264.7" cy="364.3"/>
<ellipse cx="264.8" cy="366.3"/>
<ellipse cx="264.9" cy="339.4"/>
<ellipse cx="265.3" cy="376.2"/>
<ellipse cx="265.4" cy="358.3"/>
<ellipse cx="265.4" cy="347.4"/>
<ellipse cx="265.5" cy="384.4"/>
<ellipse cx="265.7" cy="378.6"/>
<ellipse cx="265.8" cy="380.3"/>
<ellipse cx="266.2" cy="373"/>
<ellipse cx="266.2" cy="351.8"/>
<ellipse cx="266.3" cy="380"/>
<ellipse cx="266.3" cy="377.3"/>
<ellipse cx="266.5" cy="361.6"/>
<ellipse cx="266.6" cy="379.1"/>
<ellipse cx="266.7" cy="375.2"/>
<ellipse cx="267.1" cy="345.5"/>
<ellipse cx="267.3" cy="379.5"/>
<ellipse cx="267.3" cy="381.7"/>
<ellipse cx="267.5" cy="360"/>
<ellipse cx="267.5" cy="375.6"/>
<ellipse cx="267.7" cy="376"/>
<ellipse cx="267.8" cy="372.2"/>
<ellipse cx="268" cy="376.2"/>
<ellipse cx="268.2" cy="375.6"/>
<ellipse cx="268.2" cy="365.6"/>
<ellipse cx="268.4" cy="369.5"/>
<ellipse cx="268.5" cy="372.8"/>
<ellipse cx="268.5" cy="380.9"/>
<ellipse cx="269.1" cy="379.3"/>
<ellipse cx="269.2" cy="362.6"/>
<ellipse cx="269.2" cy="367.8"/>
<ellipse cx="269.5" cy="380.1"/>
<ellipse cx="269.5" cy="372.1"/>
<ellipse cx="269.7" cy="366.2"/>
<ellipse cx="269.8" cy="386.8"/>
<ellipse cx="269.8" cy="386.3"/>
<ellipse cx="269.9" cy="384"/>
<ellipse cx="270.2" cy="373.7"/>
<ellipse cx="270.2" cy="380.5"/>
<ellipse cx="270.4" cy="388"/>
<ellipse cx="270.6" cy="381.9"/>
<ellipse cx="270.6" cy="372.9"/>
<ellipse cx="270.8" cy="366.8"/>
<ellipse cx="270.9" cy="382.3"/>
<ellipse cx="271.2" cy="376.4"/>
<ellipse cx="271.2" cy="384.8"/>
<ellipse cx="271.4" cy="373.2"/>
<ellipse cx="271.4" cy="374.4"/>
<ellipse cx="271.7" cy="376.7"/>
<ellipse cx="271.9" cy="365.1"/>
<ellipse cx="272" cy="373.9"/>
<ellipse cx="272.3" cy="370"/>
<ellipse cx="272.4" cy="373.1"/>
<ellipse cx="272.5" cy="377.9"/>
<ellipse cx="272.7" cy="387.4"/>
<ellipse cx="272.7" cy="367.5"/>
<ellipse cx="272.9" cy="368.7"/>
<ellipse cx="273.2" cy="367.6"/>
<ellipse cx="273.5" cy="374.1"/>
<ellipse cx="273.6" cy="380.5"/>
<ellipse cx="273.6" cy="369.4"/>
<ellipse cx="273.6" cy="356.2"/>
<ellipse cx="274.1" cy="368.1"/>
<ellipse cx="274.4" cy="381.6"/>
<ellipse cx="274.5" cy="380.4"/>
<ellipse cx="274.6" cy="383.7"/>
<ellipse cx="274.8" cy="384.4"/>
<ellipse cx="274.8" cy="384.8"/>
<ellipse cx="274.8" cy="386.1"/>
<ellipse cx="275.3" cy="366.4"/>
<ellipse cx="275.4" cy="369.8"/>
<ellipse cx="275.5" cy="380.8"/>
<ellipse cx="275.6" cy="384.2"/>
<ellipse cx="275.8" cy="382.3"/>
<ellipse cx="276.3" cy="377.2"/>
<ellipse cx="276.4" cy="370.5"/>
<ellipse cx="276.6" cy="368"/>
<ellipse cx="276.8" cy="386.7"/>
<ellipse cx="276.9" cy="373.6"/>
<ellipse cx="277" cy="368.8"/>
<ellipse cx="277.2" cy="371.3"/>
<ellipse cx="277.2" cy="371.1"/>
<ellipse cx="277.4" cy="369.2"/>
<ellipse cx="277.6" cy="361.9"/>
<ellipse cx="277.6" cy="386.1"/>
<ellipse cx="277.8" cy="368.5"/>
<ellipse cx="278.3" cy="385"/>
<ellipse cx="278.4" cy="377.3"/>
<ellipse cx="278.4" cy="357"/>
<ellipse cx="278.7" cy="382"/>
<ellipse cx="278.9" cy="385.6"/>
<ellipse cx="279" cy="378.8"/>
<ellipse cx="279.1" cy="379.2"/>
<ellipse cx="279.6" cy="381.6"/>
<ellipse cx="279.6" cy="377.3"/>
<ellipse cx="279.9" cy="384"/>
<ellipse cx="279.9" cy="383.8"/>
<ellipse cx="279.9" cy="385.7"/>
<ellipse cx="280.2" cy="370.7"/>
<ellipse cx="280.2" cy="378.5"/>
<ellipse cx="280.5" cy="375.3"/>
<ellipse cx="281" cy="377.6"/>
<ellipse cx="281" cy="386.3"/>
<ellipse cx="281" cy="367.4"/>
<ellipse cx="281.3" cy="375"/>
<ellipse cx="281.5" cy="381.9"/>
<ellipse cx="281.6" cy="385.1"/>
<ellipse cx="281.8" cy="386.2"/>
<ellipse cx="282.1" cy="377.5"/>
<ellipse cx="282.2" cy="378.1"/>
<ellipse cx="282.4" cy="368.8"/>
<ellipse cx="282.7" cy="378.4"/>
<ellipse cx="282.9" cy="380.8"/>
<ellipse cx="283.1" cy="386.1"/>
<ellipse cx="283.1" cy="377.4"/>
<ellipse cx="283.3" cy="368.5"/>
<ellipse cx="283.4" cy="384.5"/>
<ellipse cx="283.4" cy="381.7"/>
<ellipse cx="284" cy="323"/>
<ellipse cx="284" cy="373.2"/>
<ellipse cx="284" cy="369.3"/>
<ellipse cx="284.2" cy="384.3"/>
<ellipse cx="284.2" cy="376.3"/>
<ellipse cx="284.5" cy="376"/>
<ellipse cx="284.6" cy="381.9"/>
<ellipse cx="284.7" cy="371.4"/>
<ellipse cx="284.8" cy="384.9"/>
<ellipse cx="285.1" cy="384.5"/>
<ellipse cx="285.2" cy="365.2"/>
<ellipse cx="285.6" cy="380.3"/>
<ellipse cx="285.7" cy="379.3"/>
<ellipse cx="285.8" cy="387.3"/>
<ellipse cx="286" cy="378"/>
<ellipse cx="286.2" cy="378.3"/>
<ellipse cx="286.3" cy="385.8"/>
<ellipse cx="286.3" cy="372.5"/>
<ellipse cx="287" cy="382.9"/>
<ellipse cx="287" cy="352.7"/>
<ellipse cx="287.1" cy="376.8"/>
<ellipse cx="287.2" cy="386.5"/>
<ellipse cx="287.3" cy="385.1"/>
<ellipse cx="287.3" cy="384.4"/>
<ellipse cx="287.4" cy="370.3"/>
<ellipse cx="287.9" cy="381.5"/>
<ellipse cx="287.9" cy="376.9"/>
<ellipse cx="288.1" cy="384.1"/>
<ellipse cx="288.1" cy="387.2"/>
<ellipse cx="288.2" cy="373.3"/>
<ellipse cx="288.7" cy="384.9"/>
<ellipse cx="288.8" cy="373.1"/>
<ellipse cx="288.9" cy="388.2"/>
<ellipse cx="289.4" cy="382.1"/>
<ellipse cx="289.4" cy="387.9"/>
<ellipse cx="289.5" cy="374.2"/>
<ellipse cx="289.5" cy="377.4"/>
<ellipse cx="289.9" cy="372.2"/>
<ellipse cx="290" cy="374.6"/>
<ellipse cx="290.1" cy="363.2"/>
<ellipse cx="290.5" cy="385.3"/>
<ellipse cx="290.6" cy="388.2"/>
<ellipse cx="290.6" cy="388.2"/>
<ellipse cx="290.8" cy="378.9"/>
<ellipse cx="291.1" cy="365.5"/>
<ellipse cx="291.2" cy="377.6"/>
<ellipse cx="291.3" cy="378.4"/>
<ellipse cx="291.7" cy="373.5"/>
<ellipse cx="291.7" cy="378.2"/>
<ellipse cx="291.7" cy="385.6"/>
<ellipse cx="292.4" cy="378.7"/>
<ellipse cx="292.6" cy="367.7"/>
<ellipse cx="292.6" cy="381.5"/>
<ellipse cx="292.8" cy="378.6"/>
<ellipse cx="293.1" cy="382"/>
<ellipse cx="293.2" cy="385.9"/>
<ellipse cx="293.2" cy="386.6"/>
<ellipse cx="293.3" cy="369.4"/>
<ellipse cx="293.5" cy="386.4"/>
<ellipse cx="293.6" cy="376.4"/>
<ellipse cx="294" cy="375.8"/>
<ellipse cx="294.3" cy="383"/>
<ellipse cx="294.3" cy="380.4"/>
<ellipse cx="294.6" cy="365.8"/>
<ellipse cx="294.6" cy="374"/>
<ellipse cx="294.7" cy="365.5"/>
<ellipse cx="295.1" cy="369.2"/>
<ellipse cx="295.2" cy="366.8"/>
<ellipse cx="295.4" cy="371.1"/>
<ellipse cx="295.5" cy="369.8"/>
<ellipse cx="295.6" cy="386.1"/>
<ellipse cx="295.6" cy="353.8"/>
<ellipse cx="296" cy="382"/>
<ellipse cx="296.2" cy="387.3"/>
<ellipse cx="296.3" cy="371.9"/>
<ellipse cx="296.3" cy="378.1"/>
<ellipse cx="296.5" cy="368.9"/>
<ellipse cx="296.6" cy="372.6"/>
<ellipse cx="296.9" cy="381.3"/>
<ellipse cx="297.4" cy="373.5"/>
<ellipse cx="297.5" cy="387"/>
<ellipse cx="297.7" cy="373"/>
<ellipse cx="297.8" cy="377.7"/>
<ellipse cx="298" cy="375.2"/>
<ellipse cx="298" cy="385.4"/>
<ellipse cx="298.4" cy="378.6"/>
<ellipse cx="298.7" cy="377.1"/>
<ellipse cx="298.7" cy="377.3"/>
<ellipse cx="298.8" cy="387.2"/>
<ellipse cx="298.9" cy="381.8"/>
<ellipse cx="298.9" cy="380.7"/>
<ellipse cx="299.3" cy="379.3"/>
<ellipse cx="299.4" cy="383.8"/>
<ellipse cx="299.7" cy="379.7"/>
<ellipse cx="299.7" cy="385.8"/>
<ellipse cx="300" cy="374.6"/>
<ellipse cx="300.3" cy="374.2"/>
<ellipse cx="300.3" cy="379.2"/>
<ellipse cx="300.5" cy="369.9"/>
<ellipse cx="300.6" cy="371"/>
<ellipse cx="301" cy="376.2"/>
<ellipse cx="301.2" cy="385.5"/>
<ellipse cx="301.3" cy="373.9"/>
<ellipse cx="301.4" cy="371.3"/>
<ellipse cx="301.5" cy="366"/>
<ellipse cx="301.6" cy="361.9"/>
<ellipse cx="301.9" cy="382.1"/>
<ellipse cx="302.2" cy="379.9"/>
<ellipse cx="302.4" cy="381.2"/>
<ellipse cx="302.4" cy="353.7"/>
<ellipse cx="302.7" cy="380"/>
<ellipse cx="302.9" cy="380.1"/>
<ellipse cx="303" cy="378.8"/>
<ellipse cx="303" cy="376.7"/>
<ellipse cx="303.3" cy="366.6"/>
<ellipse cx="303.5" cy="363.4"/>
<ellipse cx="303.9" cy="384.5"/>
<ellipse cx="304" cy="379.1"/>
<ellipse cx="304.1" cy="381.5"/>
<ellipse cx="304.2" cy="381.4"/>
<ellipse cx="304.2" cy="386.8"/>
<ellipse cx="304.4" cy="374.4"/>
<ellipse cx="304.6" cy="385.6"/>
<ellipse cx="304.8" cy="387.4"/>
<ellipse cx="304.9" cy="369.2"/>
<ellipse cx="305.3" cy="378.8"/>
<ellipse cx="305.4" cy="376.5"/>
<ellipse cx="305.4" cy="363.1"/>
<ellipse cx="305.5" cy="377"/>
<ellipse cx="306.2" cy="361.8"/>
<ellipse cx="306.3" cy="376.7"/>
<ellipse cx="306.4" cy="381.4"/>
<ellipse cx="306.4" cy="378.3"/>
<ellipse cx="306.6" cy="381.5"/>
<ellipse cx="306.8" cy="377.4"/>
<ellipse cx="307" cy="378"/>
<ellipse cx="307.2" cy="381.1"/>
<ellipse cx="307.3" cy="385.4"/>
<ellipse cx="307.5" cy="384.8"/>
<ellipse cx="308" cy="371.7"/>
<ellipse cx="308" cy="377.5"/>
<ellipse cx="308.1" cy="381.1"/>
<ellipse cx="308.1" cy="379.2"/>
<ellipse cx="308.4" cy="355.7"/>
<ellipse cx="308.6" cy="385.7"/>
<ellipse cx="308.8" cy="381"/>
<ellipse cx="309" cy="369.4"/>
<ellipse cx="309.2" cy="368"/>
<ellipse cx="309.3" cy="369.1"/>
<ellipse cx="309.6" cy="386.2"/>
<ellipse cx="309.8" cy="384.9"/>
<ellipse cx="309.8" cy="368.6"/>
<ellipse cx="309.9" cy="374.3"/>
<ellipse cx="309.9" cy="386.8"/>
<ellipse cx="310.3" cy="376.9"/>
<ellipse cx="310.4" cy="366.2"/>
<ellipse cx="310.5" cy="375.6"/>
<ellipse cx="311.1" cy="387.1"/>
<ellipse cx="311.1" cy="374.1"/>
<ellipse cx="311.3" cy="372.5"/>
<ellipse cx="311.4" cy="373.7"/>
<ellipse cx="311.6" cy="360.6"/>
<ellipse cx="311.7" cy="379.2"/>
<ellipse cx="311.7" cy="373.2"/>
<ellipse cx="312" cy="373.2"/>
<ellipse cx="312.3" cy="378.2"/>
<ellipse cx="312.4" cy="381.8"/>
<ellipse cx="312.7" cy="381.5"/>
<ellipse cx="312.7" cy="368"/>
<ellipse cx="312.8" cy="372.8"/>
<ellipse cx="313.3" cy="377.7"/>
<ellipse cx="313.3" cy="383.9"/>
<ellipse cx="313.5" cy="379"/>
<ellipse cx="313.6" cy="385.2"/>
<ellipse cx="313.7" cy="379.3"/>
<ellipse cx="313.9" cy="383.3"/>
<ellipse cx="314.3" cy="373.3"/>
<ellipse cx="314.4" cy="378.3"/>
<ellipse cx="314.5" cy="371.7"/>
<ellipse cx="314.5" cy="385.8"/>
<ellipse cx="314.9" cy="381.7"/>
<ellipse cx="315.2" cy="368.5"/>
<ellipse cx="315.3" cy="383.4"/>
<ellipse cx="315.6" cy="382.5"/>
<ellipse cx="315.8" cy="380.7"/>
<ellipse cx="315.8" cy="370"/>
<ellipse cx="316" cy="380"/>
<ellipse cx="316.2" cy="376.1"/>
<ellipse cx="316.5" cy="385.5"/>
<ellipse cx="316.5" cy="378.2"/>
<ellipse cx="316.6" cy="386.4"/>
<ellipse cx="316.8" cy="368.5"/>
<ellipse cx="316.9" cy="367.9"/>
<ellipse cx="317.2" cy="373.4"/>
<ellipse cx="317.3" cy="360"/>
<ellipse cx="317.5" cy="367.8"/>
<ellipse cx="317.9" cy="378.5"/>
<ellipse cx="318" cy="377.8"/>
<ellipse cx="318" cy="385.4"/>
<ellipse cx="318.2" cy="379.3"/>
<ellipse cx="318.3" cy="383.7"/>
<ellipse cx="318.7" cy="384"/>
<ellipse cx="318.8" cy="385.6"/>
<ellipse cx="319.1" cy="384.8"/>
</g>
<g stroke="#000" fill="none">
<rect x="28.8" y="1.7" width="310.0" height="211.20000000000002" stroke-width="1.5"/>
<path d="M27 212.8 H28.8 M27 205 H28.8 M27 197.2 H28.8 M27 189.4 H28.8 M27 181.6 H28.8 M27 173.8 H28.8 M27 166 H28.8 M27 158.2 H28.8 M27 150.4 H28.8 M27 142.6 H28.8 M27 134.8 H28.8 M27 127 H28.8 M27 119.2 H28.8 M27 111.4 H28.8 M27 103.6 H28.8 M27 95.8 H28.8 M27 88 H28.8 M27 80.2 H28.8 M27 72.4 H28.8 M27 64.6 H28.8 M27 56.8 H28.8 M27 49 H28.8 M27 41.2 H28.8 M27 33.4 H28.8 M27 25.6 H28.8 M27 17.8 H28.8 M27 10 H28.8 M28.8 212.9 V214.9 M35.7 212.9 V214.9 M42.6 212.9 V214.9 M49.5 212.9 V214.9 M56.4 212.9 V214.9 M63.2 212.9 V214.9 M70.1 212.9 V214.9 M77 212.9 V214.9 M83.9 212.9 V214.9 M90.8 212.9 V214.9 M97.7 212.9 V214.9 M104.6 212.9 V214.9 M111.5 212.9 V214.9 M118.4 212.9 V214.9 M125.2 212.9 V214.9 M132.1 212.9 V214.9 M139 212.9 V214.9 M145.9 212.9 V214.9 M152.8 212.9 V214.9 M159.7 212.9 V214.9 M166.6 212.9 V214.9 M173.5 212.9 V214.9 M180.4 212.9 V214.9 M187.2 212.9 V214.9 M194.1 212.9 V214.9 M201 212.9 V214.9 M207.9 212.9 V214.9 M214.8 212.9 V214.9 M221.7 212.9 V214.9 M228.6 212.9 V214.9 M235.5 212.9 V214.9 M242.4 212.9 V214.9 M249.2 212.9 V214.9 M256.1 212.9 V214.9 M263 212.9 V214.9 M269.9 212.9 V214.9 M276.8 212.9 V214.9 M283.7 212.9 V214.9 M290.6 212.9 V214.9 M297.5 212.9 V214.9 M304.4 212.9 V214.9 M311.2 212.9 V214.9 M318.1 212.9 V214.9 M325 212.9 V214.9 M331.9 212.9 V214.9 M338.8 212.9 V214.9" stroke-width="1"/>
</g>
<g stroke="#000" fill="none">
<rect x="34.3" y="268.1" width="302.7" height="200.2" stroke-width="1.5"/>
<path d="M32.3 468.3 H34.3 M32.3 458.3 H34.3 M32.3 452.4 H34.3 M32.3 448.2 H34.3 M32.3 445 H34.3 M32.3 442.3 H34.3 M32.3 440.1 H34.3 M32.3 438.2 H34.3 M32.3 436.5 H34.3 M32.3 434.9 H34.3 M32.3 424.9 H34.3 M32.3 419 H34.3 M32.3 414.8 H34.3 M32.3 411.6 H34.3 M32.3 409 H34.3 M32.3 406.7 H34.3 M32.3 404.8 H34.3 M32.3 403.1 H34.3 M32.3 401.6 H34.3 M32.3 391.5 H34.3 M32.3 385.6 H34.3 M32.3 381.5 H34.3 M32.3 378.2 H34.3 M32.3 375.6 H34.3 M32.3 373.4 H34.3 M32.3 371.4 H34.3 M32.3 369.7 H34.3 M32.3 368.2 H34.3 M32.3 358.2 H34.3 M32.3 352.3 H34.3 M32.3 348.1 H34.3 M32.3 344.9 H34.3 M32.3 342.2 H34.3 M32.3 340 H34.3 M32.3 338.1 H34.3 M32.3 336.4 H34.3 M32.3 334.8 H34.3 M32.3 324.8 H34.3 M32.3 318.9 H34.3 M32.3 314.7 H34.3 M32.3 311.5 H34.3 M32.3 308.9 H34.3 M32.3 306.6 H34.3 M32.3 304.7 H34.3 M32.3 303 H34.3 M32.3 301.5 H34.3 M32.3 291.4 H34.3 M32.3 285.5 H34.3 M32.3 281.4 H34.3 M32.3 278.1 H34.3 M32.3 275.5 H34.3 M32.3 273.3 H34.3 M32.3 271.3 H34.3 M32.3 269.6 H34.3 M32.3 268.1 H34.3 M34.3 468.3 V470.3 M41 468.3 V470.3 M47.8 468.3 V470.3 M54.5 468.3 V470.3 M61.2 468.3 V470.3 M67.9 468.3 V470.3 M74.7 468.3 V470.3 M81.4 468.3 V470.3 M88.1 468.3 V470.3 M94.8 468.3 V470.3 M101.6 468.3 V470.3 M108.3 468.3 V470.3 M115 468.3 V470.3 M121.7 468.3 V470.3 M128.5 468.3 V470.3 M135.2 468.3 V470.3 M141.9 468.3 V470.3 M148.7 468.3 V470.3 M155.4 468.3 V470.3 M162.1 468.3 V470.3 M168.8 468.3 V470.3 M175.6 468.3 V470.3 M182.3 468.3 V470.3 M189 468.3 V470.3 M195.7 468.3 V470.3 M202.5 468.3 V470.3 M209.2 468.3 V470.3 M215.9 468.3 V470.3 M222.6 468.3 V470.3 M229.4 468.3 V470.3 M236.1 468.3 V470.3 M242.8 468.3 V470.3 M249.6 468.3 V470.3 M256.3 468.3 V470.3 M263 468.3 V470.3 M269.7 468.3 V470.3 M276.5 468.3 V470.3 M283.2 468.3 V470.3 M289.9 468.3 V470.3 M296.6 468.3 V470.3 M303.4 468.3 V470.3 M310.1 468.3 V470.3 M316.8 468.3 V470.3 M323.5 468.3 V470.3 M330.3 468.3 V470.3 M337 468.3 V470.3" stroke-width="1"/>
</g>
<g font-family="Liberation Sans, sans-serif" font-weight="bold" font-size="5.1" fill="#1a1a1a" stroke="#1a1a1a" stroke-width="0.22">
<text x="24.3" y="214.7" text-anchor="end">160.0</text>
<text x="24.3" y="175.7" text-anchor="end">260.0</text>
<text x="24.3" y="136.7" text-anchor="end">360.0</text>
<text x="24.3" y="97.7" text-anchor="end">460.0</text>
<text x="24.3" y="58.7" text-anchor="end">560.0</text>
<text x="24.3" y="19.7" text-anchor="end">660.0</text>
<text x="28.8" y="222.6" text-anchor="middle">0.0E+00</text>
<text x="63.2" y="222.6" text-anchor="middle">5.0E+03</text>
<text x="97.7" y="222.6" text-anchor="middle">1.0E+04</text>
<text x="132.1" y="222.6" text-anchor="middle">1.5E+04</text>
<text x="166.6" y="222.6" text-anchor="middle">2.0E+04</text>
<text x="201" y="222.6" text-anchor="middle">2.5E+04</text>
<text x="235.5" y="222.6" text-anchor="middle">3.0E+04</text>
<text x="269.9" y="222.6" text-anchor="middle">3.5E+04</text>
<text x="304.4" y="222.6" text-anchor="middle">4.0E+04</text>
<text x="338.8" y="222.6" text-anchor="middle">4.5E+04</text>
<text x="29.7" y="470.2" text-anchor="end">1.E+06</text>
<text x="29.7" y="436.8" text-anchor="end">1.E+07</text>
<text x="29.7" y="403.5" text-anchor="end">1.E+08</text>
<text x="29.7" y="370.1" text-anchor="end">1.E+09</text>
<text x="29.7" y="336.7" text-anchor="end">1.E+10</text>
<text x="29.7" y="303.4" text-anchor="end">1.E+11</text>
<text x="29.7" y="270" text-anchor="end">1.E+12</text>
<text x="34.3" y="478" text-anchor="middle">0.0E+00</text>
<text x="67.9" y="478" text-anchor="middle">5.0E+03</text>
<text x="101.6" y="478" text-anchor="middle">1.0E+04</text>
<text x="135.2" y="478" text-anchor="middle">1.5E+04</text>
<text x="168.8" y="478" text-anchor="middle">2.0E+04</text>
<text x="202.5" y="478" text-anchor="middle">2.5E+04</text>
<text x="236.1" y="478" text-anchor="middle">3.0E+04</text>
<text x="269.7" y="478" text-anchor="middle">3.5E+04</text>
<text x="303.4" y="478" text-anchor="middle">4.0E+04</text>
<text x="337" y="478" text-anchor="middle">4.5E+04</text>
</g>
<g font-family="Liberation Sans, sans-serif" font-weight="bold" fill="#000" stroke="#000" stroke-width="0.15">
<text x="173.3" y="239.3" font-size="6.3" text-anchor="middle">Time (seconds)</text>
<text x="185.7" y="487.6" font-size="6.2" text-anchor="middle">Time (seconds)</text>
<text transform="translate(6.6 107.3) rotate(-90)" font-size="6.3" text-anchor="middle">Ron (ohm)</text>
<text transform="translate(9.2 369) rotate(-90)" font-size="6.1" text-anchor="middle">Roff (ohm)</text>
</g>
<text transform="translate(46.59 35.6) scale(0.836 1)" font-family="Liberation Sans" font-weight="bold" font-size="20.86" fill="#000">R</text>
<text transform="translate(58.38 41.0) scale(0.96 1)" font-family="Liberation Sans" font-weight="bold" font-size="14.91" fill="#000">on</text>
<text transform="translate(44.29 297.5) scale(0.86 1)" font-family="Liberation Sans" font-weight="bold" font-size="20.29" fill="#000">R</text>
<text transform="translate(56.39 302.0) scale(1.082 1)" font-family="Liberation Sans" font-weight="bold" font-size="13.2" fill="#000">off</text>
<text transform="translate(176.11 129.6) scale(0.99 1)" font-family="Liberation Sans" font-weight="bold" font-size="16.0" fill="#000">Ru</text>
<text transform="translate(290.18 342.5) scale(0.98 1)" font-family="Liberation Sans" font-weight="bold" font-size="13.86" fill="#000">Ru</text>
<text transform="translate(231.9 186.3) scale(1.026 1)" font-family="Liberation Sans" font-weight="bold" font-size="16.86" fill="#666666">Pt</text>
<text transform="translate(296.52 442.0) scale(0.968 1)" font-family="Liberation Sans" font-weight="bold" font-size="14.86" fill="#626262">Pt</text>
<text transform="translate(1.3 243.83) scale(1.043 1)" font-family="Liberation Serif" font-weight="normal" font-size="15.33" fill="#1a1a1a">a)</text>
<text transform="translate(1.63 496.05) scale(1.031 1)" font-family="Liberation Serif" font-weight="normal" font-size="14.27" fill="#1a1a1a">b)</text>
</svg>
</body></html>
